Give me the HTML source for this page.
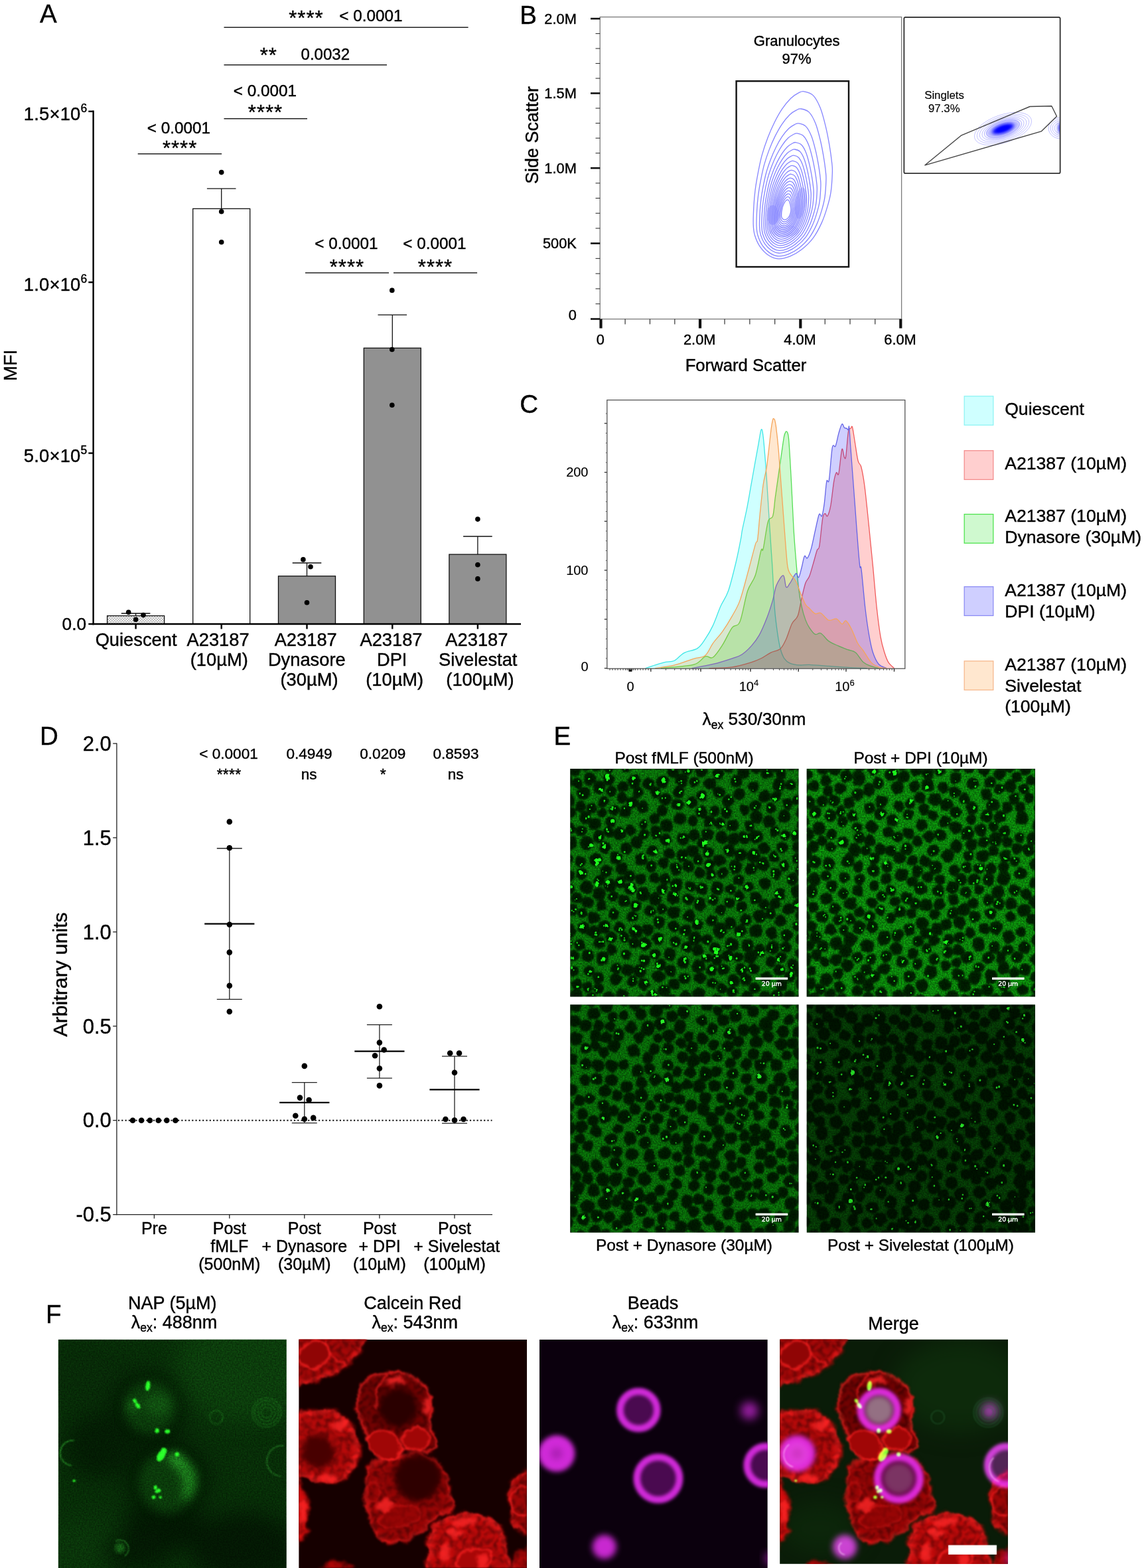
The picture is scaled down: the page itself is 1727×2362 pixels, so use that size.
<!DOCTYPE html>
<html lang="en">
<head>
<meta charset="utf-8">
<title>Figure</title>
<style>
html,body{margin:0;padding:0;background:#fff;}
body{width:1727px;height:2362px;overflow:hidden;}
svg{display:block;font-family:'Liberation Sans', Arial, sans-serif;}
svg text{stroke:#000;stroke-width:0.4px;}
svg text.w{stroke:#fff;stroke-width:0.35px;}
svg text.s{stroke-width:0.15px;}
</style>
</head>
<body>
<svg width="1727" height="2362" viewBox="0 0 1727 2362">
<rect width="1727" height="2362" fill="#fff"/>
<g id="panelA">
<text x="60" y="34" font-size="38.5" text-anchor="start" fill="#000" >A</text>
<defs><pattern id="dots" x="162" y="928" width="3.9" height="3.9" patternUnits="userSpaceOnUse"><rect width="3.9" height="3.9" fill="#fff"/><circle cx="1" cy="1" r="0.85" fill="#777"/><circle cx="2.95" cy="2.95" r="0.85" fill="#777"/></pattern></defs>
<rect x="161.6" y="927.6" width="86" height="12.4" fill="url(#dots)" stroke="#111" stroke-width="1.3"/>
<line x1="204.6" y1="924" x2="204.6" y2="927.6" stroke="#111" stroke-width="1.3" />
<line x1="182.8" y1="924" x2="226.4" y2="924" stroke="#111" stroke-width="1.3" />
<rect x="290.7" y="314.4" width="86" height="625.6" fill="#fff" stroke="#111" stroke-width="1.3"/>
<line x1="333.7" y1="284.1" x2="333.7" y2="314.4" stroke="#111" stroke-width="1.3" />
<line x1="311.9" y1="284.1" x2="355.5" y2="284.1" stroke="#111" stroke-width="1.3" />
<rect x="419.5" y="867.8" width="86" height="72.2" fill="#919191" stroke="#111" stroke-width="1.3"/>
<line x1="462.5" y1="848" x2="462.5" y2="867.8" stroke="#111" stroke-width="1.3" />
<line x1="440.7" y1="848" x2="484.3" y2="848" stroke="#111" stroke-width="1.3" />
<rect x="548.3" y="524.3" width="86" height="415.7" fill="#919191" stroke="#111" stroke-width="1.3"/>
<line x1="591.3" y1="474.4" x2="591.3" y2="524.3" stroke="#111" stroke-width="1.3" />
<line x1="569.5" y1="474.4" x2="613.1" y2="474.4" stroke="#111" stroke-width="1.3" />
<rect x="676.9" y="835.1" width="86" height="104.9" fill="#919191" stroke="#111" stroke-width="1.3"/>
<line x1="719.9" y1="808" x2="719.9" y2="835.1" stroke="#111" stroke-width="1.3" />
<line x1="698.1" y1="808" x2="741.7" y2="808" stroke="#111" stroke-width="1.3" />
<circle cx="193.7" cy="922.3" r="3.8" fill="#000" />
<circle cx="216" cy="926.6" r="3.8" fill="#000" />
<circle cx="204.6" cy="933.2" r="3.8" fill="#000" />
<circle cx="333.7" cy="259.6" r="3.8" fill="#000" />
<circle cx="333.7" cy="318.7" r="3.8" fill="#000" />
<circle cx="333.7" cy="364.7" r="3.8" fill="#000" />
<circle cx="456.9" cy="842.9" r="3.8" fill="#000" />
<circle cx="468" cy="853.8" r="3.8" fill="#000" />
<circle cx="462.5" cy="907.7" r="3.8" fill="#000" />
<circle cx="590.8" cy="437.4" r="3.8" fill="#000" />
<circle cx="590.8" cy="526.5" r="3.8" fill="#000" />
<circle cx="590.8" cy="610.2" r="3.8" fill="#000" />
<circle cx="719.9" cy="782.1" r="3.8" fill="#000" />
<circle cx="719.9" cy="850.8" r="3.8" fill="#000" />
<circle cx="719.9" cy="871.9" r="3.8" fill="#000" />
<line x1="140.6" y1="166.6" x2="140.6" y2="941.2" stroke="#000" stroke-width="2.4" />
<line x1="139.4" y1="940" x2="785" y2="940" stroke="#000" stroke-width="2.4" />
<line x1="133.3" y1="167.8" x2="140.6" y2="167.8" stroke="#000" stroke-width="2.4" />
<text x="131.5" y="181" font-size="27.4" text-anchor="end" fill="#000" letter-spacing="0.2">1.5×10<tspan font-size="17.5" dy="-12">6</tspan></text>
<line x1="133.3" y1="425.2" x2="140.6" y2="425.2" stroke="#000" stroke-width="2.4" />
<text x="131.5" y="438.4" font-size="27.4" text-anchor="end" fill="#000" letter-spacing="0.2">1.0×10<tspan font-size="17.5" dy="-12">6</tspan></text>
<line x1="133.3" y1="682.6" x2="140.6" y2="682.6" stroke="#000" stroke-width="2.4" />
<text x="131.5" y="695.8" font-size="27.4" text-anchor="end" fill="#000" letter-spacing="0.2">5.0×10<tspan font-size="17.5" dy="-12">5</tspan></text>
<line x1="133.3" y1="940" x2="140.6" y2="940" stroke="#000" stroke-width="2.4" />
<text x="130" y="948.6" font-size="26.2" text-anchor="end" fill="#000" >0.0</text>
<line x1="204.6" y1="940" x2="204.6" y2="947.5" stroke="#000" stroke-width="2.4" />
<line x1="333.7" y1="940" x2="333.7" y2="947.5" stroke="#000" stroke-width="2.4" />
<line x1="462.5" y1="940" x2="462.5" y2="947.5" stroke="#000" stroke-width="2.4" />
<line x1="591.3" y1="940" x2="591.3" y2="947.5" stroke="#000" stroke-width="2.4" />
<line x1="719.9" y1="940" x2="719.9" y2="947.5" stroke="#000" stroke-width="2.4" />
<text x="205.1" y="972.6" font-size="27.3" text-anchor="middle" fill="#000" >Quiescent</text>
<text x="328.6" y="972.6" font-size="27.3" text-anchor="middle" fill="#000" >A23187</text>
<text x="330.3" y="1002.6" font-size="27.3" text-anchor="middle" fill="#000" >(10µM)</text>
<text x="460.7" y="972.6" font-size="27.3" text-anchor="middle" fill="#000" >A23187</text>
<text x="462.3" y="1002.6" font-size="27.3" text-anchor="middle" fill="#000" >Dynasore</text>
<text x="466" y="1032.6" font-size="27.3" text-anchor="middle" fill="#000" >(30µM)</text>
<text x="589.5" y="972.6" font-size="27.3" text-anchor="middle" fill="#000" >A23187</text>
<text x="590.7" y="1002.6" font-size="27.3" text-anchor="middle" fill="#000" >DPI</text>
<text x="594.7" y="1032.6" font-size="27.3" text-anchor="middle" fill="#000" >(10µM)</text>
<text x="718.4" y="972.6" font-size="27.3" text-anchor="middle" fill="#000" >A23187</text>
<text x="720.3" y="1002.6" font-size="27.3" text-anchor="middle" fill="#000" >Sivelestat</text>
<text x="723.4" y="1032.6" font-size="27.3" text-anchor="middle" fill="#000" >(100µM)</text>
<text transform="translate(25 550.2) rotate(-90)" font-size="27.4" text-anchor="middle" fill="#000" >MFI</text>
<line x1="337.5" y1="41.2" x2="705.6" y2="41.2" stroke="#222" stroke-width="1.5" />
<line x1="337.5" y1="97.8" x2="583" y2="97.8" stroke="#222" stroke-width="1.5" />
<line x1="337.5" y1="178.7" x2="463" y2="178.7" stroke="#222" stroke-width="1.5" />
<line x1="207.7" y1="231.7" x2="334.1" y2="231.7" stroke="#222" stroke-width="1.5" />
<line x1="460" y1="411" x2="586" y2="411" stroke="#222" stroke-width="1.5" />
<line x1="593" y1="411" x2="719.1" y2="411" stroke="#222" stroke-width="1.5" />
<text x="461.4" y="37.6" font-size="31" text-anchor="middle" fill="#000" letter-spacing="1">****</text>
<text x="559" y="32.2" font-size="24.3" text-anchor="middle" fill="#000" >&lt; 0.0001</text>
<text x="404.7" y="93.6" font-size="31" text-anchor="middle" fill="#000" letter-spacing="1">**</text>
<text x="490.3" y="89.6" font-size="24" text-anchor="middle" fill="#000" >0.0032</text>
<text x="399.5" y="145.3" font-size="24.3" text-anchor="middle" fill="#000" >&lt; 0.0001</text>
<text x="400" y="180.4" font-size="31" text-anchor="middle" fill="#000" letter-spacing="1">****</text>
<text x="269.5" y="200.5" font-size="24.3" text-anchor="middle" fill="#000" >&lt; 0.0001</text>
<text x="271.1" y="233.6" font-size="31" text-anchor="middle" fill="#000" letter-spacing="1">****</text>
<text x="522" y="375.2" font-size="24.3" text-anchor="middle" fill="#000" >&lt; 0.0001</text>
<text x="522.9" y="412.5" font-size="31" text-anchor="middle" fill="#000" letter-spacing="1">****</text>
<text x="655" y="375.2" font-size="24.3" text-anchor="middle" fill="#000" >&lt; 0.0001</text>
<text x="656" y="412.5" font-size="31" text-anchor="middle" fill="#000" letter-spacing="1">****</text>
</g>
<g id="panelB">
<text x="783.3" y="36.4" font-size="38.5" text-anchor="start" fill="#000" >B</text>
<rect x="904.2" y="25.6" width="454.4" height="455" fill="none" stroke="#7a7a7a" stroke-width="1.3"/>
<line x1="890" y1="28.1" x2="904.2" y2="28.1" stroke="#111" stroke-width="2.6" />
<line x1="897.5" y1="50.58" x2="904.2" y2="50.58" stroke="#333" stroke-width="1.1" />
<line x1="897.5" y1="73.06" x2="904.2" y2="73.06" stroke="#333" stroke-width="1.1" />
<line x1="897.5" y1="95.54" x2="904.2" y2="95.54" stroke="#333" stroke-width="1.1" />
<line x1="897.5" y1="118.02" x2="904.2" y2="118.02" stroke="#333" stroke-width="1.1" />
<line x1="890" y1="140.5" x2="904.2" y2="140.5" stroke="#111" stroke-width="2.6" />
<line x1="897.5" y1="163.04" x2="904.2" y2="163.04" stroke="#333" stroke-width="1.1" />
<line x1="897.5" y1="185.58" x2="904.2" y2="185.58" stroke="#333" stroke-width="1.1" />
<line x1="897.5" y1="208.12" x2="904.2" y2="208.12" stroke="#333" stroke-width="1.1" />
<line x1="897.5" y1="230.66" x2="904.2" y2="230.66" stroke="#333" stroke-width="1.1" />
<line x1="890" y1="253.2" x2="904.2" y2="253.2" stroke="#111" stroke-width="2.6" />
<line x1="897.5" y1="275.88" x2="904.2" y2="275.88" stroke="#333" stroke-width="1.1" />
<line x1="897.5" y1="298.56" x2="904.2" y2="298.56" stroke="#333" stroke-width="1.1" />
<line x1="897.5" y1="321.24" x2="904.2" y2="321.24" stroke="#333" stroke-width="1.1" />
<line x1="897.5" y1="343.92" x2="904.2" y2="343.92" stroke="#333" stroke-width="1.1" />
<line x1="890" y1="366.6" x2="904.2" y2="366.6" stroke="#111" stroke-width="2.6" />
<line x1="897.5" y1="389.38" x2="904.2" y2="389.38" stroke="#333" stroke-width="1.1" />
<line x1="897.5" y1="412.16" x2="904.2" y2="412.16" stroke="#333" stroke-width="1.1" />
<line x1="897.5" y1="434.94" x2="904.2" y2="434.94" stroke="#333" stroke-width="1.1" />
<line x1="897.5" y1="457.72" x2="904.2" y2="457.72" stroke="#333" stroke-width="1.1" />
<line x1="890" y1="480.5" x2="904.2" y2="480.5" stroke="#111" stroke-width="2.6" />
<text x="868.8" y="35.6" font-size="21.8" text-anchor="end" fill="#000" >2.0M</text>
<text x="868.8" y="148" font-size="21.8" text-anchor="end" fill="#000" >1.5M</text>
<text x="868.8" y="260.7" font-size="21.8" text-anchor="end" fill="#000" >1.0M</text>
<text x="868.8" y="374.1" font-size="21.8" text-anchor="end" fill="#000" >500K</text>
<text x="868.8" y="482.3" font-size="21.8" text-anchor="end" fill="#000" >0</text>
<line x1="905.5" y1="480.6" x2="905.5" y2="494.5" stroke="#111" stroke-width="4.2" />
<line x1="942.08" y1="480.6" x2="942.08" y2="488.4" stroke="#333" stroke-width="1.2" />
<line x1="979.45" y1="480.6" x2="979.45" y2="488.4" stroke="#333" stroke-width="1.2" />
<line x1="1016.83" y1="480.6" x2="1016.83" y2="488.4" stroke="#333" stroke-width="1.2" />
<line x1="1055" y1="480.6" x2="1055" y2="494.5" stroke="#111" stroke-width="4.2" />
<line x1="1092.03" y1="480.6" x2="1092.03" y2="488.4" stroke="#333" stroke-width="1.2" />
<line x1="1129.85" y1="480.6" x2="1129.85" y2="488.4" stroke="#333" stroke-width="1.2" />
<line x1="1167.67" y1="480.6" x2="1167.67" y2="488.4" stroke="#333" stroke-width="1.2" />
<line x1="1206.3" y1="480.6" x2="1206.3" y2="494.5" stroke="#111" stroke-width="4.2" />
<line x1="1243.25" y1="480.6" x2="1243.25" y2="488.4" stroke="#333" stroke-width="1.2" />
<line x1="1281" y1="480.6" x2="1281" y2="488.4" stroke="#333" stroke-width="1.2" />
<line x1="1318.75" y1="480.6" x2="1318.75" y2="488.4" stroke="#333" stroke-width="1.2" />
<line x1="1357.3" y1="480.6" x2="1357.3" y2="494.5" stroke="#111" stroke-width="4.2" />
<text x="904.7" y="518.8" font-size="21.8" text-anchor="middle" fill="#000" >0</text>
<text x="1054.2" y="518.8" font-size="21.8" text-anchor="middle" fill="#000" >2.0M</text>
<text x="1205.5" y="518.8" font-size="21.8" text-anchor="middle" fill="#000" >4.0M</text>
<text x="1356.5" y="518.8" font-size="21.8" text-anchor="middle" fill="#000" >6.0M</text>
<text x="1124" y="559" font-size="25.7" text-anchor="middle" fill="#000" >Forward Scatter</text>
<text transform="translate(810.8 203.5) rotate(-90)" font-size="27" text-anchor="middle" fill="#000" >Side Scatter</text>
<text x="1200.6" y="68.6" font-size="22" text-anchor="middle" fill="#000" >Granulocytes</text>
<text x="1200.6" y="95.6" font-size="22" text-anchor="middle" fill="#000" >97%</text>
<g fill="none" stroke="#8585ff" stroke-width="1.3">
<path d="M1211.48 137.77C1215.12 138.38 1221.17 139.47 1225.29 143.59C1229.4 147.7 1233.03 154.72 1236.18 162.47C1239.33 170.22 1241.87 180.63 1244.17 190.08C1246.47 199.52 1248.41 209.93 1249.98 219.13C1251.56 228.34 1252.89 238.51 1253.62 245.29C1254.34 252.07 1254.58 252.55 1254.34 259.81C1254.1 267.08 1253.37 280.4 1252.16 288.87C1250.95 297.35 1249.38 302.92 1247.08 310.66C1244.78 318.41 1241.99 327.37 1238.36 335.36C1234.73 343.35 1230.37 351.83 1225.29 358.61C1220.2 365.39 1213.66 371.44 1207.85 376.04C1202.04 380.64 1196.23 383.91 1190.42 386.21C1184.61 388.51 1178.31 390.09 1172.98 389.84C1167.66 389.6 1163.05 387.79 1158.45 384.76C1153.85 381.73 1148.89 376.77 1145.38 371.68C1141.87 366.6 1139.08 359.82 1137.39 354.25C1135.69 348.68 1135.45 345.53 1135.21 338.27C1134.97 331 1135.45 319.38 1135.93 310.66C1136.42 301.95 1137.02 294.44 1138.11 285.97C1139.2 277.49 1140.78 268.53 1142.47 259.81C1144.17 251.1 1145.86 242.38 1148.28 233.66C1150.71 224.95 1153.85 215.74 1157 207.51C1160.15 199.28 1163.54 191.53 1167.17 184.27C1170.8 177 1174.68 169.98 1178.79 163.93C1182.91 157.87 1187.75 151.94 1191.87 147.94C1195.99 143.95 1200.22 141.65 1203.49 139.95C1206.76 138.26 1207.85 137.17 1211.48 137.77Z"/>
<path d="M1207.18 164C1210.38 164.53 1215.71 165.49 1219.33 169.11C1222.95 172.73 1226.15 178.91 1228.92 185.73C1231.69 192.55 1233.93 201.71 1235.95 210.02C1237.97 218.33 1239.68 227.49 1241.06 235.59C1242.45 243.69 1243.62 252.64 1244.26 258.61C1244.9 264.57 1245.11 265 1244.9 271.39C1244.69 277.78 1244.05 289.5 1242.98 296.96C1241.92 304.42 1240.53 309.32 1238.51 316.14C1236.48 322.96 1234.03 330.84 1230.84 337.87C1227.64 344.9 1223.8 352.36 1219.33 358.33C1214.86 364.3 1209.1 369.62 1203.99 373.67C1198.87 377.72 1193.76 380.6 1188.65 382.62C1183.53 384.65 1177.99 386.03 1173.3 385.82C1168.62 385.6 1164.57 384.01 1160.52 381.34C1156.47 378.68 1152.1 374.31 1149.01 369.84C1145.92 365.36 1143.47 359.39 1141.98 354.49C1140.49 349.59 1140.28 346.82 1140.06 340.43C1139.85 334.04 1140.28 323.81 1140.7 316.14C1141.13 308.47 1141.66 301.86 1142.62 294.4C1143.58 286.95 1144.96 279.06 1146.45 271.39C1147.95 263.72 1149.44 256.05 1151.57 248.38C1153.7 240.71 1156.47 232.61 1159.24 225.36C1162.01 218.12 1164.99 211.3 1168.19 204.91C1171.39 198.52 1174.8 192.34 1178.42 187.01C1182.04 181.68 1186.3 176.46 1189.92 172.94C1193.55 169.43 1197.28 167.4 1200.15 165.91C1203.03 164.42 1203.99 163.46 1207.18 164Z"/>
<path d="M1203.66 185.91C1206.48 186.38 1211.17 187.22 1214.36 190.41C1217.55 193.6 1220.36 199.05 1222.8 205.05C1225.24 211.06 1227.21 219.13 1229 226.44C1230.78 233.76 1232.28 241.83 1233.5 248.96C1234.72 256.09 1235.75 263.98 1236.32 269.23C1236.88 274.48 1237.07 274.86 1236.88 280.49C1236.69 286.12 1236.13 296.44 1235.19 303.01C1234.25 309.58 1233.03 313.89 1231.25 319.9C1229.47 325.9 1227.31 332.85 1224.49 339.04C1221.68 345.23 1218.3 351.8 1214.36 357.06C1210.42 362.31 1205.35 367 1200.85 370.57C1196.34 374.13 1191.84 376.67 1187.34 378.45C1182.83 380.23 1177.95 381.45 1173.82 381.26C1169.7 381.08 1166.13 379.67 1162.56 377.32C1159 374.98 1155.15 371.13 1152.43 367.19C1149.71 363.25 1147.55 357.99 1146.24 353.68C1144.92 349.36 1144.74 346.92 1144.55 341.29C1144.36 335.66 1144.74 326.65 1145.11 319.9C1145.49 313.14 1145.96 307.33 1146.8 300.76C1147.65 294.19 1148.87 287.25 1150.18 280.49C1151.49 273.73 1152.81 266.98 1154.68 260.22C1156.56 253.47 1159 246.34 1161.44 239.96C1163.88 233.57 1166.51 227.57 1169.32 221.94C1172.14 216.31 1175.14 210.87 1178.33 206.18C1181.52 201.48 1185.27 196.89 1188.46 193.79C1191.65 190.69 1194.94 188.91 1197.47 187.6C1200 186.28 1200.85 185.44 1203.66 185.91Z"/>
<path d="M1201.28 200.97C1203.83 201.4 1208.06 202.16 1210.95 205.04C1213.83 207.92 1216.37 212.84 1218.57 218.26C1220.78 223.69 1222.56 230.97 1224.17 237.59C1225.78 244.2 1227.13 251.48 1228.23 257.93C1229.34 264.37 1230.27 271.49 1230.78 276.23C1231.29 280.98 1231.46 281.32 1231.29 286.4C1231.12 291.49 1230.61 300.81 1229.76 306.74C1228.91 312.67 1227.81 316.57 1226.2 322C1224.59 327.42 1222.64 333.69 1220.1 339.29C1217.56 344.88 1214.51 350.81 1210.95 355.56C1207.39 360.3 1202.81 364.54 1198.74 367.76C1194.67 370.98 1190.61 373.27 1186.54 374.88C1182.47 376.49 1178.06 377.59 1174.33 377.42C1170.6 377.25 1167.38 375.98 1164.16 373.86C1160.94 371.74 1157.47 368.27 1155.01 364.71C1152.55 361.15 1150.6 356.4 1149.42 352.51C1148.23 348.61 1148.06 346.4 1147.89 341.32C1147.72 336.23 1148.06 328.1 1148.4 322C1148.74 315.89 1149.16 310.64 1149.93 304.71C1150.69 298.77 1151.79 292.5 1152.98 286.4C1154.16 280.3 1155.35 274.2 1157.04 268.1C1158.74 261.99 1160.94 255.55 1163.15 249.79C1165.35 244.03 1167.72 238.6 1170.27 233.52C1172.81 228.43 1175.52 223.52 1178.4 219.28C1181.28 215.04 1184.67 210.89 1187.55 208.09C1190.44 205.3 1193.4 203.69 1195.69 202.5C1197.98 201.31 1198.74 200.55 1201.28 200.97Z"/>
<path d="M1199.17 214.59C1201.46 214.97 1205.27 215.66 1207.86 218.25C1210.46 220.85 1212.74 225.27 1214.73 230.15C1216.71 235.03 1218.31 241.59 1219.76 247.54C1221.21 253.49 1222.43 260.05 1223.42 265.85C1224.41 271.64 1225.25 278.05 1225.71 282.32C1226.17 286.59 1226.32 286.9 1226.17 291.48C1226.02 296.05 1225.56 304.44 1224.8 309.78C1224.03 315.12 1223.04 318.63 1221.59 323.51C1220.14 328.39 1218.39 334.04 1216.1 339.07C1213.81 344.11 1211.07 349.45 1207.86 353.72C1204.66 357.99 1200.54 361.8 1196.88 364.7C1193.22 367.6 1189.56 369.66 1185.9 371.11C1182.23 372.56 1178.27 373.55 1174.91 373.4C1171.56 373.24 1168.66 372.1 1165.76 370.19C1162.86 368.28 1159.73 365.16 1157.52 361.95C1155.31 358.75 1153.56 354.48 1152.49 350.97C1151.42 347.46 1151.27 345.48 1151.11 340.9C1150.96 336.33 1151.27 329 1151.57 323.51C1151.88 318.02 1152.26 313.29 1152.95 307.95C1153.63 302.61 1154.62 296.97 1155.69 291.48C1156.76 285.98 1157.83 280.49 1159.35 275C1160.88 269.51 1162.86 263.71 1164.84 258.53C1166.83 253.34 1168.96 248.46 1171.25 243.88C1173.54 239.3 1175.98 234.88 1178.57 231.07C1181.17 227.25 1184.22 223.52 1186.81 221C1189.4 218.48 1192.07 217.03 1194.13 215.96C1196.19 214.9 1196.88 214.21 1199.17 214.59Z"/>
<path d="M1197.58 224.99C1199.66 225.34 1203.14 225.97 1205.51 228.33C1207.88 230.7 1209.97 234.74 1211.78 239.19C1213.59 243.65 1215.05 249.63 1216.37 255.07C1217.69 260.5 1218.81 266.48 1219.71 271.77C1220.62 277.06 1221.38 282.91 1221.8 286.81C1222.22 290.71 1222.36 290.99 1222.22 295.16C1222.08 299.34 1221.66 307 1220.97 311.87C1220.27 316.74 1219.36 319.95 1218.04 324.4C1216.72 328.86 1215.12 334.01 1213.03 338.6C1210.94 343.2 1208.44 348.07 1205.51 351.97C1202.59 355.87 1198.83 359.35 1195.49 362C1192.14 364.64 1188.8 366.52 1185.46 367.84C1182.12 369.17 1178.5 370.07 1175.44 369.93C1172.37 369.79 1169.73 368.75 1167.08 367.01C1164.44 365.27 1161.58 362.41 1159.56 359.49C1157.55 356.57 1155.94 352.67 1154.97 349.46C1154 346.26 1153.86 344.45 1153.72 340.27C1153.58 336.1 1153.86 329.41 1154.13 324.4C1154.41 319.39 1154.76 315.07 1155.39 310.2C1156.01 305.33 1156.92 300.18 1157.89 295.16C1158.87 290.15 1159.84 285.14 1161.24 280.13C1162.63 275.11 1164.44 269.82 1166.25 265.09C1168.06 260.36 1170.01 255.9 1172.1 251.72C1174.18 247.55 1176.41 243.51 1178.78 240.03C1181.15 236.55 1183.93 233.14 1186.3 230.84C1188.66 228.54 1191.1 227.22 1192.98 226.24C1194.86 225.27 1195.49 224.64 1197.58 224.99Z"/>
<path d="M1196.18 234.22C1198.09 234.53 1201.27 235.11 1203.43 237.27C1205.59 239.43 1207.49 243.12 1209.15 247.18C1210.8 251.25 1212.13 256.72 1213.34 261.68C1214.55 266.63 1215.57 272.1 1216.39 276.93C1217.22 281.76 1217.92 287.1 1218.3 290.66C1218.68 294.22 1218.81 294.47 1218.68 298.29C1218.55 302.1 1218.17 309.09 1217.54 313.54C1216.9 317.99 1216.08 320.92 1214.87 324.98C1213.66 329.05 1212.2 333.76 1210.29 337.95C1208.38 342.15 1206.1 346.59 1203.43 350.15C1200.76 353.71 1197.32 356.89 1194.27 359.31C1191.22 361.72 1188.17 363.44 1185.12 364.65C1182.07 365.85 1178.76 366.68 1175.97 366.55C1173.17 366.43 1170.76 365.47 1168.34 363.88C1165.92 362.29 1163.32 359.69 1161.48 357.02C1159.63 354.35 1158.17 350.79 1157.28 347.87C1156.39 344.94 1156.26 343.29 1156.14 339.48C1156.01 335.66 1156.26 329.56 1156.52 324.98C1156.77 320.41 1157.09 316.47 1157.66 312.02C1158.23 307.57 1159.06 302.86 1159.95 298.29C1160.84 293.71 1161.73 289.13 1163 284.56C1164.27 279.98 1165.92 275.15 1167.58 270.83C1169.23 266.51 1171.01 262.44 1172.92 258.62C1174.82 254.81 1176.86 251.12 1179.02 247.95C1181.18 244.77 1183.72 241.65 1185.88 239.56C1188.04 237.46 1190.27 236.25 1191.99 235.36C1193.7 234.47 1194.27 233.9 1196.18 234.22Z"/>
<path d="M1194.97 242.33C1196.71 242.62 1199.62 243.15 1201.59 245.12C1203.57 247.1 1205.31 250.47 1206.82 254.19C1208.33 257.91 1209.56 262.91 1210.66 267.44C1211.76 271.97 1212.69 276.97 1213.45 281.39C1214.2 285.8 1214.84 290.68 1215.19 293.94C1215.54 297.19 1215.66 297.43 1215.54 300.91C1215.42 304.4 1215.08 310.79 1214.49 314.86C1213.91 318.93 1213.16 321.6 1212.05 325.32C1210.95 329.04 1209.61 333.34 1207.87 337.18C1206.13 341.01 1204.03 345.08 1201.59 348.33C1199.15 351.59 1196.01 354.49 1193.23 356.7C1190.44 358.91 1187.65 360.48 1184.86 361.58C1182.07 362.69 1179.05 363.44 1176.49 363.33C1173.93 363.21 1171.72 362.34 1169.51 360.89C1167.31 359.43 1164.92 357.05 1163.24 354.61C1161.55 352.17 1160.22 348.91 1159.4 346.24C1158.59 343.57 1158.47 342.06 1158.36 338.57C1158.24 335.08 1158.47 329.5 1158.71 325.32C1158.94 321.14 1159.23 317.53 1159.75 313.47C1160.27 309.4 1161.03 305.1 1161.84 300.91C1162.66 296.73 1163.47 292.54 1164.63 288.36C1165.8 284.18 1167.31 279.76 1168.82 275.81C1170.33 271.86 1171.96 268.14 1173.7 264.65C1175.44 261.16 1177.3 257.79 1179.28 254.89C1181.25 251.98 1183.58 249.13 1185.55 247.21C1187.53 245.3 1189.56 244.19 1191.13 243.38C1192.7 242.57 1193.23 242.04 1194.97 242.33Z"/>
<path d="M1193.93 249.4C1195.52 249.67 1198.19 250.15 1200 251.96C1201.81 253.77 1203.41 256.86 1204.79 260.27C1206.18 263.68 1207.3 268.26 1208.31 272.41C1209.32 276.57 1210.17 281.15 1210.87 285.2C1211.56 289.25 1212.14 293.72 1212.46 296.7C1212.78 299.69 1212.89 299.9 1212.78 303.1C1212.68 306.29 1212.36 312.15 1211.83 315.88C1211.29 319.61 1210.6 322.06 1209.59 325.47C1208.58 328.88 1207.35 332.82 1205.75 336.34C1204.15 339.85 1202.24 343.58 1200 346.57C1197.76 349.55 1194.88 352.21 1192.33 354.24C1189.77 356.26 1187.21 357.7 1184.66 358.71C1182.1 359.72 1179.33 360.42 1176.99 360.31C1174.64 360.2 1172.62 359.41 1170.59 358.07C1168.57 356.74 1166.38 354.56 1164.84 352.32C1163.29 350.08 1162.07 347.1 1161.32 344.65C1160.58 342.2 1160.47 340.81 1160.36 337.62C1160.26 334.42 1160.47 329.31 1160.68 325.47C1160.9 321.64 1161.16 318.33 1161.64 314.6C1162.12 310.88 1162.82 306.93 1163.56 303.1C1164.31 299.26 1165.05 295.43 1166.12 291.59C1167.18 287.76 1168.57 283.71 1169.95 280.08C1171.34 276.46 1172.83 273.05 1174.43 269.86C1176.03 266.66 1177.73 263.57 1179.54 260.91C1181.35 258.24 1183.48 255.63 1185.3 253.87C1187.11 252.12 1188.97 251.1 1190.41 250.36C1191.85 249.61 1192.33 249.13 1193.93 249.4Z"/>
<path d="M1192.92 256.33C1194.37 256.57 1196.79 257.01 1198.44 258.65C1200.08 260.3 1201.54 263.11 1202.8 266.21C1204.05 269.31 1205.07 273.47 1205.99 277.25C1206.91 281.03 1207.69 285.19 1208.32 288.87C1208.95 292.55 1209.48 296.62 1209.77 299.33C1210.06 302.04 1210.16 302.24 1210.06 305.14C1209.96 308.05 1209.67 313.38 1209.19 316.77C1208.7 320.16 1208.07 322.38 1207.15 325.48C1206.23 328.58 1205.12 332.17 1203.67 335.36C1202.21 338.56 1200.47 341.95 1198.44 344.66C1196.4 347.37 1193.79 349.79 1191.46 351.63C1189.14 353.47 1186.81 354.78 1184.49 355.7C1182.16 356.62 1179.65 357.25 1177.52 357.16C1175.38 357.06 1173.54 356.33 1171.7 355.12C1169.86 353.91 1167.88 351.93 1166.47 349.89C1165.07 347.86 1163.96 345.15 1163.28 342.92C1162.6 340.69 1162.5 339.43 1162.41 336.52C1162.31 333.62 1162.5 328.97 1162.7 325.48C1162.89 322 1163.13 318.99 1163.57 315.6C1164 312.21 1164.63 308.63 1165.31 305.14C1165.99 301.66 1166.67 298.17 1167.64 294.68C1168.6 291.2 1169.86 287.52 1171.12 284.22C1172.38 280.93 1173.74 277.83 1175.19 274.92C1176.64 272.02 1178.19 269.21 1179.84 266.79C1181.49 264.37 1183.42 261.99 1185.07 260.4C1186.72 258.8 1188.41 257.88 1189.72 257.2C1191.03 256.52 1191.46 256.09 1192.92 256.33Z"/>
<path d="M1192.06 262.27C1193.38 262.5 1195.59 262.89 1197.1 264.4C1198.6 265.9 1199.92 268.46 1201.07 271.29C1202.22 274.12 1203.15 277.92 1203.99 281.36C1204.83 284.81 1205.54 288.61 1206.11 291.97C1206.69 295.33 1207.17 299.04 1207.44 301.52C1207.7 303.99 1207.79 304.17 1207.7 306.82C1207.61 309.47 1207.35 314.33 1206.91 317.42C1206.47 320.52 1205.89 322.55 1205.05 325.38C1204.21 328.21 1203.19 331.48 1201.87 334.39C1200.54 337.31 1198.95 340.4 1197.1 342.88C1195.24 345.35 1192.85 347.56 1190.73 349.24C1188.61 350.92 1186.49 352.11 1184.37 352.95C1182.25 353.79 1179.95 354.37 1178.01 354.28C1176.06 354.19 1174.38 353.53 1172.7 352.42C1171.02 351.32 1169.21 349.51 1167.93 347.65C1166.65 345.8 1165.63 343.32 1165.01 341.29C1164.4 339.25 1164.31 338.11 1164.22 335.45C1164.13 332.8 1164.31 328.56 1164.48 325.38C1164.66 322.2 1164.88 319.46 1165.28 316.36C1165.68 313.27 1166.25 310 1166.87 306.82C1167.49 303.64 1168.11 300.46 1168.99 297.27C1169.87 294.09 1171.02 290.73 1172.17 287.73C1173.32 284.72 1174.56 281.89 1175.88 279.24C1177.21 276.59 1178.62 274.03 1180.13 271.82C1181.63 269.61 1183.4 267.44 1184.9 265.99C1186.4 264.53 1187.95 263.69 1189.14 263.07C1190.34 262.45 1190.73 262.05 1192.06 262.27Z"/>
<path d="M1191.23 268.11C1192.43 268.31 1194.42 268.67 1195.78 270.03C1197.14 271.39 1198.34 273.71 1199.38 276.26C1200.42 278.82 1201.25 282.26 1202.01 285.37C1202.77 288.49 1203.41 291.93 1203.93 294.96C1204.45 298 1204.89 301.36 1205.13 303.59C1205.37 305.83 1205.45 305.99 1205.37 308.39C1205.29 310.78 1205.05 315.18 1204.65 317.98C1204.25 320.77 1203.73 322.61 1202.97 325.17C1202.21 327.72 1201.29 330.68 1200.1 333.32C1198.9 335.96 1197.46 338.75 1195.78 340.99C1194.1 343.23 1191.95 345.22 1190.03 346.74C1188.11 348.26 1186.19 349.34 1184.27 350.1C1182.36 350.86 1180.28 351.38 1178.52 351.3C1176.76 351.22 1175.25 350.62 1173.73 349.62C1172.21 348.62 1170.57 346.98 1169.41 345.3C1168.25 343.63 1167.33 341.39 1166.78 339.55C1166.22 337.71 1166.14 336.67 1166.06 334.28C1165.98 331.88 1166.14 328.04 1166.3 325.17C1166.46 322.29 1166.66 319.81 1167.01 317.02C1167.37 314.22 1167.89 311.26 1168.45 308.39C1169.01 305.51 1169.57 302.63 1170.37 299.76C1171.17 296.88 1172.21 293.84 1173.25 291.13C1174.29 288.41 1175.41 285.85 1176.6 283.46C1177.8 281.06 1179.08 278.74 1180.44 276.74C1181.8 274.75 1183.4 272.79 1184.75 271.47C1186.11 270.15 1187.51 269.39 1188.59 268.83C1189.67 268.27 1190.03 267.91 1191.23 268.11Z"/>
<path d="M1190.53 273.04C1191.62 273.22 1193.44 273.54 1194.67 274.78C1195.91 276.01 1197 278.12 1197.94 280.44C1198.89 282.77 1199.65 285.89 1200.34 288.73C1201.03 291.56 1201.61 294.68 1202.08 297.44C1202.56 300.2 1202.96 303.25 1203.17 305.29C1203.39 307.32 1203.46 307.47 1203.39 309.65C1203.32 311.83 1203.1 315.82 1202.74 318.36C1202.37 320.91 1201.9 322.58 1201.21 324.9C1200.52 327.23 1199.69 329.91 1198.6 332.31C1197.51 334.71 1196.2 337.25 1194.67 339.29C1193.15 341.32 1191.19 343.14 1189.44 344.52C1187.7 345.9 1185.96 346.88 1184.21 347.57C1182.47 348.26 1180.58 348.73 1178.98 348.66C1177.38 348.58 1176 348.04 1174.62 347.13C1173.24 346.22 1171.76 344.73 1170.7 343.21C1169.65 341.68 1168.81 339.65 1168.3 337.98C1167.8 336.31 1167.72 335.36 1167.65 333.18C1167.58 331 1167.72 327.52 1167.87 324.9C1168.01 322.29 1168.2 320.03 1168.52 317.49C1168.85 314.95 1169.32 312.26 1169.83 309.65C1170.34 307.03 1170.85 304.42 1171.57 301.8C1172.3 299.19 1173.24 296.43 1174.19 293.96C1175.13 291.49 1176.15 289.16 1177.24 286.98C1178.33 284.8 1179.49 282.7 1180.73 280.88C1181.96 279.06 1183.41 277.28 1184.65 276.09C1185.88 274.89 1187.16 274.2 1188.14 273.69C1189.12 273.18 1189.44 272.85 1190.53 273.04Z"/>
<path d="M1189.86 277.88C1190.84 278.04 1192.47 278.34 1193.58 279.45C1194.7 280.56 1195.68 282.45 1196.53 284.55C1197.38 286.64 1198.06 289.45 1198.68 292C1199.31 294.55 1199.83 297.36 1200.25 299.84C1200.68 302.33 1201.04 305.07 1201.23 306.91C1201.43 308.74 1201.5 308.87 1201.43 310.83C1201.36 312.79 1201.17 316.39 1200.84 318.67C1200.51 320.96 1200.09 322.47 1199.47 324.56C1198.85 326.65 1198.1 329.07 1197.12 331.23C1196.13 333.38 1194.96 335.67 1193.58 337.5C1192.21 339.33 1190.45 340.97 1188.88 342.21C1187.31 343.45 1185.74 344.33 1184.17 344.96C1182.6 345.58 1180.9 346 1179.46 345.94C1178.02 345.87 1176.78 345.38 1175.54 344.56C1174.3 343.75 1172.96 342.41 1172.01 341.03C1171.06 339.66 1170.31 337.83 1169.85 336.33C1169.39 334.82 1169.33 333.97 1169.26 332.01C1169.2 330.05 1169.33 326.91 1169.46 324.56C1169.59 322.2 1169.75 320.18 1170.05 317.89C1170.34 315.6 1170.77 313.18 1171.23 310.83C1171.68 308.47 1172.14 306.12 1172.79 303.77C1173.45 301.41 1174.3 298.93 1175.15 296.71C1176 294.48 1176.91 292.39 1177.89 290.43C1178.87 288.47 1179.92 286.57 1181.03 284.94C1182.14 283.3 1183.45 281.7 1184.56 280.62C1185.67 279.54 1186.82 278.92 1187.7 278.47C1188.58 278.01 1188.88 277.71 1189.86 277.88Z"/>
<path d="M1189.2 282.64C1190.07 282.79 1191.53 283.05 1192.51 284.04C1193.5 285.02 1194.37 286.71 1195.13 288.57C1195.88 290.43 1196.49 292.93 1197.05 295.19C1197.6 297.46 1198.06 299.96 1198.44 302.17C1198.82 304.38 1199.14 306.82 1199.31 308.44C1199.49 310.07 1199.55 310.19 1199.49 311.93C1199.43 313.67 1199.25 316.87 1198.96 318.9C1198.67 320.94 1198.3 322.28 1197.74 324.13C1197.19 325.99 1196.52 328.14 1195.65 330.06C1194.78 331.98 1193.73 334.01 1192.51 335.64C1191.29 337.27 1189.72 338.72 1188.33 339.83C1186.93 340.93 1185.54 341.71 1184.15 342.27C1182.75 342.82 1181.24 343.2 1179.96 343.14C1178.68 343.08 1177.58 342.64 1176.47 341.92C1175.37 341.19 1174.18 340 1173.34 338.78C1172.49 337.56 1171.83 335.93 1171.42 334.6C1171.01 333.26 1170.95 332.5 1170.9 330.76C1170.84 329.02 1170.95 326.23 1171.07 324.13C1171.19 322.04 1171.33 320.24 1171.59 318.21C1171.85 316.17 1172.23 314.02 1172.64 311.93C1173.05 309.84 1173.45 307.75 1174.03 305.65C1174.61 303.56 1175.37 301.35 1176.13 299.38C1176.88 297.4 1177.69 295.54 1178.57 293.8C1179.44 292.06 1180.37 290.37 1181.36 288.92C1182.34 287.46 1183.51 286.04 1184.49 285.08C1185.48 284.12 1186.5 283.57 1187.28 283.16C1188.07 282.76 1188.33 282.5 1189.2 282.64Z"/>
<path d="M1188.56 287.33C1189.33 287.45 1190.6 287.68 1191.46 288.55C1192.33 289.41 1193.09 290.89 1193.75 292.51C1194.41 294.14 1194.94 296.33 1195.43 298.31C1195.91 300.29 1196.32 302.48 1196.65 304.41C1196.98 306.34 1197.26 308.48 1197.41 309.9C1197.56 311.33 1197.61 311.43 1197.56 312.96C1197.51 314.48 1197.36 317.28 1197.11 319.06C1196.85 320.84 1196.52 322.01 1196.04 323.63C1195.55 325.26 1194.97 327.14 1194.21 328.82C1193.44 330.5 1192.53 332.28 1191.46 333.7C1190.39 335.13 1189.02 336.4 1187.8 337.36C1186.58 338.33 1185.36 339.02 1184.14 339.5C1182.92 339.98 1181.6 340.31 1180.48 340.26C1179.36 340.21 1178.39 339.83 1177.43 339.19C1176.46 338.56 1175.42 337.52 1174.68 336.45C1173.94 335.38 1173.36 333.96 1173 332.79C1172.65 331.62 1172.6 330.96 1172.54 329.43C1172.49 327.9 1172.6 325.46 1172.7 323.63C1172.8 321.8 1172.93 320.23 1173.16 318.45C1173.38 316.67 1173.71 314.79 1174.07 312.96C1174.43 311.12 1174.78 309.29 1175.29 307.46C1175.8 305.63 1176.46 303.7 1177.12 301.97C1177.78 300.24 1178.49 298.62 1179.26 297.09C1180.02 295.56 1180.83 294.09 1181.7 292.82C1182.56 291.55 1183.58 290.3 1184.44 289.46C1185.31 288.62 1186.2 288.14 1186.88 287.78C1187.57 287.43 1187.8 287.2 1188.56 287.33Z"/>
<path d="M1187.94 291.93C1188.6 292.04 1189.69 292.24 1190.43 292.98C1191.17 293.72 1191.82 294.98 1192.39 296.38C1192.95 297.77 1193.41 299.65 1193.83 301.35C1194.24 303.05 1194.59 304.92 1194.87 306.58C1195.16 308.23 1195.4 310.07 1195.53 311.29C1195.66 312.51 1195.7 312.59 1195.66 313.9C1195.61 315.21 1195.48 317.61 1195.26 319.13C1195.05 320.66 1194.76 321.66 1194.35 323.05C1193.94 324.45 1193.43 326.06 1192.78 327.5C1192.13 328.94 1191.34 330.46 1190.43 331.68C1189.51 332.9 1188.33 333.99 1187.29 334.82C1186.24 335.65 1185.2 336.24 1184.15 336.65C1183.1 337.07 1181.97 337.35 1181.01 337.31C1180.05 337.26 1179.23 336.94 1178.4 336.39C1177.57 335.85 1176.68 334.95 1176.04 334.04C1175.41 333.12 1174.91 331.9 1174.61 330.9C1174.3 329.9 1174.26 329.33 1174.21 328.02C1174.17 326.72 1174.26 324.62 1174.34 323.05C1174.43 321.48 1174.54 320.13 1174.74 318.61C1174.93 317.08 1175.22 315.47 1175.52 313.9C1175.83 312.33 1176.13 310.76 1176.57 309.19C1177 307.62 1177.57 305.97 1178.14 304.49C1178.7 303 1179.31 301.61 1179.97 300.3C1180.62 298.99 1181.32 297.73 1182.06 296.64C1182.8 295.55 1183.67 294.48 1184.41 293.76C1185.15 293.05 1185.92 292.63 1186.5 292.33C1187.09 292.02 1187.29 291.82 1187.94 291.93Z"/>
<path d="M1187.34 296.46C1187.89 296.55 1188.79 296.72 1189.41 297.33C1190.03 297.95 1190.57 299 1191.05 300.17C1191.52 301.33 1191.9 302.89 1192.24 304.31C1192.59 305.72 1192.88 307.29 1193.12 308.67C1193.35 310.05 1193.55 311.57 1193.66 312.59C1193.77 313.61 1193.81 313.68 1193.77 314.77C1193.73 315.86 1193.62 317.86 1193.44 319.13C1193.26 320.4 1193.02 321.23 1192.68 322.4C1192.33 323.56 1191.92 324.9 1191.37 326.1C1190.83 327.3 1190.17 328.57 1189.41 329.59C1188.65 330.6 1187.67 331.51 1186.8 332.2C1185.92 332.89 1185.05 333.38 1184.18 333.73C1183.31 334.07 1182.36 334.31 1181.57 334.27C1180.77 334.24 1180.08 333.96 1179.39 333.51C1178.7 333.06 1177.95 332.31 1177.42 331.55C1176.9 330.79 1176.48 329.77 1176.23 328.93C1175.97 328.1 1175.94 327.63 1175.9 326.54C1175.86 325.45 1175.94 323.7 1176.01 322.4C1176.08 321.09 1176.17 319.96 1176.34 318.69C1176.5 317.42 1176.73 316.08 1176.99 314.77C1177.24 313.46 1177.5 312.15 1177.86 310.85C1178.22 309.54 1178.7 308.16 1179.17 306.92C1179.64 305.69 1180.15 304.53 1180.69 303.44C1181.24 302.35 1181.82 301.29 1182.44 300.39C1183.05 299.48 1183.78 298.59 1184.4 297.99C1185.02 297.39 1185.65 297.04 1186.14 296.79C1186.63 296.53 1186.8 296.37 1187.34 296.46Z"/>
<path d="M1186.76 300.91C1187.19 300.99 1187.92 301.12 1188.41 301.61C1188.91 302.1 1189.34 302.95 1189.72 303.88C1190.1 304.81 1190.4 306.06 1190.68 307.19C1190.96 308.32 1191.19 309.57 1191.38 310.68C1191.57 311.78 1191.73 313 1191.81 313.81C1191.9 314.63 1191.93 314.69 1191.9 315.56C1191.87 316.43 1191.78 318.03 1191.64 319.04C1191.49 320.06 1191.3 320.73 1191.03 321.66C1190.75 322.59 1190.42 323.66 1189.98 324.62C1189.55 325.58 1189.02 326.6 1188.41 327.41C1187.8 328.23 1187.02 328.95 1186.32 329.5C1185.62 330.06 1184.93 330.45 1184.23 330.72C1183.53 331 1182.78 331.19 1182.14 331.16C1181.5 331.13 1180.95 330.91 1180.39 330.55C1179.84 330.19 1179.25 329.59 1178.82 328.98C1178.4 328.37 1178.07 327.56 1177.87 326.89C1177.66 326.22 1177.63 325.84 1177.6 324.97C1177.57 324.1 1177.63 322.71 1177.69 321.66C1177.75 320.61 1177.82 319.71 1177.95 318.7C1178.08 317.68 1178.27 316.6 1178.48 315.56C1178.68 314.51 1178.88 313.47 1179.17 312.42C1179.46 311.37 1179.84 310.27 1180.22 309.28C1180.6 308.29 1181 307.36 1181.44 306.49C1181.88 305.62 1182.34 304.78 1182.83 304.05C1183.33 303.32 1183.91 302.61 1184.4 302.13C1184.9 301.65 1185.41 301.38 1185.8 301.17C1186.19 300.97 1186.32 300.84 1186.76 300.91Z"/>
</g>
<ellipse cx="1164.61" cy="323.93" rx="9" ry="15" fill="#8c8cff" opacity="0.55"/>
<ellipse cx="1206.61" cy="305.93" rx="8" ry="24" fill="#8c8cff" opacity="0.45" transform="rotate(8 1206.61 305.93)"/>
<ellipse cx="1182.61" cy="347.93" rx="22" ry="9" fill="#8c8cff" opacity="0.3"/>
<ellipse cx="1185.61" cy="317.93" rx="4.2" ry="11" fill="#fff" transform="rotate(12 1185.61 317.93)"/>
<rect x="1109.6" y="122.2" width="169.4" height="279.8" fill="none" stroke="#111" stroke-width="2.4"/>
<rect x="1362.4" y="25.9" width="235.2" height="235.3" fill="#fff" stroke="#333" stroke-width="1.5" rx="2"/>
<text x="1393.2" y="148.7" font-size="16.8" text-anchor="start" fill="#000"  class="s">Singlets</text>
<text x="1399" y="169.2" font-size="16.8" text-anchor="start" fill="#000"  class="s">97.3%</text>
<defs><clipPath id="insc"><rect x="1363" y="26.5" width="234" height="234"/></clipPath><filter id="bl2" x="-30%" y="-30%" width="160%" height="160%"><feGaussianBlur stdDeviation="2.2"/></filter><filter id="bl1" x="-30%" y="-30%" width="160%" height="160%"><feGaussianBlur stdDeviation="1"/></filter></defs>
<g clip-path="url(#insc)">
<g transform="rotate(-19 1511.5 194.0)">
<ellipse cx="1511.5" cy="194.0" rx="45" ry="21" fill="none" stroke="#9a9aff" stroke-width="0.8" opacity="0.6499999999999999"/>
<ellipse cx="1511.5" cy="194.0" rx="41" ry="18.5" fill="none" stroke="#9a9aff" stroke-width="0.8" opacity="0.6499999999999999"/>
<ellipse cx="1511.5" cy="194.0" rx="37" ry="16.5" fill="none" stroke="#9a9aff" stroke-width="0.8" opacity="0.7"/>
<ellipse cx="1511.5" cy="194.0" rx="33" ry="14.5" fill="none" stroke="#9a9aff" stroke-width="0.8" opacity="0.75"/>
<ellipse cx="1511.5" cy="194.0" rx="29.5" ry="12.8" fill="none" stroke="#9a9aff" stroke-width="0.8" opacity="0.8"/>
<ellipse cx="1511.5" cy="194.0" rx="26" ry="11" fill="none" stroke="#9a9aff" stroke-width="0.8" opacity="0.8500000000000001"/>
<ellipse cx="1511.5" cy="194.0" rx="26" ry="11" fill="#6a6aff" opacity="0.5" filter="url(#bl2)"/>
<ellipse cx="1511.5" cy="194.0" rx="17" ry="6.5" fill="#1010ff" filter="url(#bl2)"/>
<ellipse cx="1511.5" cy="194.0" rx="11" ry="3.5" fill="#0000ff" filter="url(#bl1)"/>
</g>
<ellipse cx="1599" cy="193" rx="19" ry="16" fill="none" stroke="#9a9aff" stroke-width="0.8" opacity="0.8"/>
<ellipse cx="1599" cy="193" rx="16" ry="13.5" fill="none" stroke="#9a9aff" stroke-width="0.8" opacity="0.8"/>
<ellipse cx="1599" cy="193" rx="13" ry="11" fill="none" stroke="#9a9aff" stroke-width="0.8" opacity="0.8"/>
<ellipse cx="1599" cy="193" rx="10" ry="8.5" fill="none" stroke="#9a9aff" stroke-width="0.8" opacity="0.8"/>
<ellipse cx="1600" cy="193" rx="6" ry="9" fill="#4a4aff" filter="url(#bl2)"/>
</g>
<polygon points="1393.9,248.8 1448.9,203.8 1552,160.5 1584.8,159.8 1592.5,175.2 1569.1,197.9" fill="none" stroke="#444" stroke-width="1.4" stroke-linejoin="round"/>
<rect x="1362.4" y="25.9" width="235.2" height="235.3" fill="none" stroke="#333" stroke-width="1.5" rx="2"/>
</g>
<g id="panelC">
<text x="783.3" y="622.2" font-size="38.5" text-anchor="start" fill="#000" >C</text>
<defs><clipPath id="cc"><rect x="914.8" y="602.6" width="449" height="404.6"/></clipPath></defs>
<g clip-path="url(#cc)" stroke-linejoin="round">
<path d="M972.64 1006.58C975.06 1005.81 982.32 1003.44 987.17 1001.94C992.01 1000.43 996.85 998.69 1001.69 997.58C1006.54 996.46 1011.38 997.58 1016.22 995.25C1021.06 992.93 1024.94 986.73 1030.75 983.63C1036.56 980.53 1045.76 980.14 1051.09 976.66C1056.41 973.17 1058.84 968.42 1062.71 962.71C1066.58 957 1070.46 950.6 1074.33 942.37C1078.21 934.14 1082.08 922.03 1085.95 913.32C1089.83 904.6 1093.7 901.21 1097.58 890.07C1101.45 878.93 1106.05 859.56 1109.2 846.49C1112.35 833.41 1114.89 819.72 1116.46 811.62C1118.04 803.53 1117.07 805.85 1118.64 797.92C1120.22 789.98 1123.69 775.32 1125.91 764.02C1128.13 752.72 1129.94 741.42 1131.96 730.12C1133.98 718.82 1136.2 706.31 1138.01 696.22C1139.83 686.13 1141.49 677.26 1142.86 669.59C1144.23 661.92 1145.44 654.05 1146.25 650.22C1147.05 646.38 1147.22 646.51 1147.7 646.59C1148.18 646.67 1148.55 646.87 1149.15 650.7C1149.76 654.54 1150.36 658.77 1151.33 669.59C1152.3 680.4 1153.75 698.24 1154.96 715.59C1156.17 732.95 1157.47 755.95 1158.6 773.7C1159.73 791.46 1160.82 808.01 1161.74 822.13C1162.67 836.26 1163.24 842.77 1164.16 858.45C1165.09 874.13 1166.06 900.3 1167.31 916.22C1168.56 932.15 1170.22 943.82 1171.67 953.99C1173.12 964.16 1174.33 970.94 1176.03 977.24C1177.72 983.53 1179.42 988.13 1181.84 991.77C1184.26 995.4 1186.68 997.33 1190.55 999.03C1194.43 1000.72 1200.24 1001.55 1205.08 1001.94C1209.92 1002.32 1212.35 1001.11 1219.61 1001.35C1226.87 1001.6 1238.98 1002.71 1248.66 1003.39C1258.35 1004.07 1268.04 1004.89 1277.72 1005.42C1287.41 1005.95 1301.93 1006.39 1306.78 1006.58L1306.78 1006.8L972.64 1006.8Z" fill="#00ffff" fill-opacity="0.19"/>
<path d="M972.64 1006.58C975.06 1005.81 982.32 1003.44 987.17 1001.94C992.01 1000.43 996.85 998.69 1001.69 997.58C1006.54 996.46 1011.38 997.58 1016.22 995.25C1021.06 992.93 1024.94 986.73 1030.75 983.63C1036.56 980.53 1045.76 980.14 1051.09 976.66C1056.41 973.17 1058.84 968.42 1062.71 962.71C1066.58 957 1070.46 950.6 1074.33 942.37C1078.21 934.14 1082.08 922.03 1085.95 913.32C1089.83 904.6 1093.7 901.21 1097.58 890.07C1101.45 878.93 1106.05 859.56 1109.2 846.49C1112.35 833.41 1114.89 819.72 1116.46 811.62C1118.04 803.53 1117.07 805.85 1118.64 797.92C1120.22 789.98 1123.69 775.32 1125.91 764.02C1128.13 752.72 1129.94 741.42 1131.96 730.12C1133.98 718.82 1136.2 706.31 1138.01 696.22C1139.83 686.13 1141.49 677.26 1142.86 669.59C1144.23 661.92 1145.44 654.05 1146.25 650.22C1147.05 646.38 1147.22 646.51 1147.7 646.59C1148.18 646.67 1148.55 646.87 1149.15 650.7C1149.76 654.54 1150.36 658.77 1151.33 669.59C1152.3 680.4 1153.75 698.24 1154.96 715.59C1156.17 732.95 1157.47 755.95 1158.6 773.7C1159.73 791.46 1160.82 808.01 1161.74 822.13C1162.67 836.26 1163.24 842.77 1164.16 858.45C1165.09 874.13 1166.06 900.3 1167.31 916.22C1168.56 932.15 1170.22 943.82 1171.67 953.99C1173.12 964.16 1174.33 970.94 1176.03 977.24C1177.72 983.53 1179.42 988.13 1181.84 991.77C1184.26 995.4 1186.68 997.33 1190.55 999.03C1194.43 1000.72 1200.24 1001.55 1205.08 1001.94C1209.92 1002.32 1212.35 1001.11 1219.61 1001.35C1226.87 1001.6 1238.98 1002.71 1248.66 1003.39C1258.35 1004.07 1268.04 1004.89 1277.72 1005.42C1287.41 1005.95 1301.93 1006.39 1306.78 1006.58" fill="none" stroke="#3fe6e6" stroke-width="1.3"/>
<path d="M1068.52 1006.58C1074.33 1006.29 1092.73 1006.34 1103.39 1004.84C1114.04 1003.34 1125.18 999.76 1132.44 997.58C1139.71 995.4 1142.13 994.19 1146.97 991.77C1151.81 989.34 1156.66 985.47 1161.5 983.05C1166.34 980.63 1172.15 980.63 1176.03 977.24C1179.9 973.85 1181.84 969.01 1184.74 962.71C1187.65 956.41 1190.55 945.28 1193.46 939.47C1196.37 933.65 1199.75 934.14 1202.18 927.84C1204.6 921.55 1206.05 909.93 1207.99 901.69C1209.92 893.46 1211.86 884.02 1213.8 878.45C1215.74 872.88 1217.67 873.12 1219.61 868.28C1221.55 863.44 1223.48 855.93 1225.42 849.39C1227.36 842.86 1229.66 833.6 1231.23 829.06C1232.81 824.51 1233.45 830.15 1234.87 822.13C1236.28 814.12 1238.3 789.04 1239.71 780.97C1241.12 772.9 1242.13 774.31 1243.34 773.7C1244.55 773.1 1245.56 779.35 1246.97 777.34C1248.39 775.32 1250.2 770.27 1251.82 761.6C1253.43 752.92 1255.25 733.55 1256.66 725.28C1258.07 717.01 1259.08 713.98 1260.29 711.96C1261.5 709.94 1262.51 719.02 1263.92 713.17C1265.33 707.32 1267.35 680.89 1268.77 676.85C1270.18 672.82 1271.39 687.34 1272.4 688.96C1273.41 690.57 1273.81 692.99 1274.82 686.54C1275.83 680.08 1277.24 657.08 1278.45 650.22C1279.66 643.36 1281.07 646.51 1282.08 645.38C1283.09 644.25 1283.49 640.21 1284.5 643.44C1285.51 646.67 1286.72 656.35 1288.14 664.75C1289.55 673.14 1291.36 687.34 1292.98 693.8C1294.59 700.26 1296.21 697.43 1297.82 703.49C1299.44 709.54 1301.05 718.42 1302.66 730.12C1304.28 741.82 1305.89 758.37 1307.51 773.7C1309.12 789.04 1311.02 808.81 1312.35 822.13C1313.68 835.45 1314 837.93 1315.5 853.61C1316.99 869.29 1319.37 898.52 1321.3 916.22C1323.24 933.92 1325.18 948.67 1327.11 959.8C1329.05 970.94 1330.99 976.75 1332.93 983.05C1334.86 989.34 1336.32 993.65 1338.74 997.58C1341.16 1001.5 1346 1005.08 1347.45 1006.58L1347.45 1006.8L1068.52 1006.8Z" fill="#ff0000" fill-opacity="0.19"/>
<path d="M1068.52 1006.58C1074.33 1006.29 1092.73 1006.34 1103.39 1004.84C1114.04 1003.34 1125.18 999.76 1132.44 997.58C1139.71 995.4 1142.13 994.19 1146.97 991.77C1151.81 989.34 1156.66 985.47 1161.5 983.05C1166.34 980.63 1172.15 980.63 1176.03 977.24C1179.9 973.85 1181.84 969.01 1184.74 962.71C1187.65 956.41 1190.55 945.28 1193.46 939.47C1196.37 933.65 1199.75 934.14 1202.18 927.84C1204.6 921.55 1206.05 909.93 1207.99 901.69C1209.92 893.46 1211.86 884.02 1213.8 878.45C1215.74 872.88 1217.67 873.12 1219.61 868.28C1221.55 863.44 1223.48 855.93 1225.42 849.39C1227.36 842.86 1229.66 833.6 1231.23 829.06C1232.81 824.51 1233.45 830.15 1234.87 822.13C1236.28 814.12 1238.3 789.04 1239.71 780.97C1241.12 772.9 1242.13 774.31 1243.34 773.7C1244.55 773.1 1245.56 779.35 1246.97 777.34C1248.39 775.32 1250.2 770.27 1251.82 761.6C1253.43 752.92 1255.25 733.55 1256.66 725.28C1258.07 717.01 1259.08 713.98 1260.29 711.96C1261.5 709.94 1262.51 719.02 1263.92 713.17C1265.33 707.32 1267.35 680.89 1268.77 676.85C1270.18 672.82 1271.39 687.34 1272.4 688.96C1273.41 690.57 1273.81 692.99 1274.82 686.54C1275.83 680.08 1277.24 657.08 1278.45 650.22C1279.66 643.36 1281.07 646.51 1282.08 645.38C1283.09 644.25 1283.49 640.21 1284.5 643.44C1285.51 646.67 1286.72 656.35 1288.14 664.75C1289.55 673.14 1291.36 687.34 1292.98 693.8C1294.59 700.26 1296.21 697.43 1297.82 703.49C1299.44 709.54 1301.05 718.42 1302.66 730.12C1304.28 741.82 1305.89 758.37 1307.51 773.7C1309.12 789.04 1311.02 808.81 1312.35 822.13C1313.68 835.45 1314 837.93 1315.5 853.61C1316.99 869.29 1319.37 898.52 1321.3 916.22C1323.24 933.92 1325.18 948.67 1327.11 959.8C1329.05 970.94 1330.99 976.75 1332.93 983.05C1334.86 989.34 1336.32 993.65 1338.74 997.58C1341.16 1001.5 1346 1005.08 1347.45 1006.58" fill="none" stroke="#f05a5a" stroke-width="1.3"/>
<path d="M995.88 1006.58C1004.12 1005.66 1034.14 1004.02 1045.28 1001.06C1056.41 998.11 1057.87 990.65 1062.71 988.86C1067.55 987.07 1069.97 993.22 1074.33 990.31C1078.69 987.41 1084.02 978.93 1088.86 971.43C1093.7 963.92 1099.03 951.09 1103.39 945.28C1107.75 939.47 1111.14 945.76 1115.01 936.56C1118.88 927.36 1122.76 901.69 1126.63 890.07C1130.51 878.45 1134.86 877 1138.25 866.83C1141.64 856.66 1144.99 835.7 1146.97 829.06C1148.95 822.41 1148.39 834.18 1150.12 826.97C1151.86 819.77 1154.96 794.08 1157.38 785.81C1159.81 777.54 1162.83 783.39 1164.65 777.34C1166.46 771.28 1166.87 759.78 1168.28 749.49C1169.69 739.2 1171.51 726.89 1173.12 715.59C1174.74 704.29 1176.55 691.38 1177.97 681.69C1179.38 672.01 1180.59 662.65 1181.6 657.48C1182.61 652.32 1183.37 651.91 1184.02 650.7C1184.67 649.49 1184.99 649.98 1185.47 650.22C1185.96 650.46 1186.36 649.73 1186.92 652.15C1187.49 654.58 1187.93 652.56 1188.86 664.75C1189.79 676.93 1191.28 703.08 1192.49 725.28C1193.7 747.47 1194.92 777.74 1196.13 797.92C1197.34 818.1 1198.51 831.47 1199.76 846.34C1201.01 861.22 1202.26 876 1203.63 887.17C1205 898.33 1206.29 905.57 1207.99 913.32C1209.68 921.06 1211.86 928.33 1213.8 933.65C1215.74 938.98 1217.19 941.65 1219.61 945.28C1222.03 948.91 1225.42 953.99 1228.33 955.45C1231.23 956.9 1233.65 952.3 1237.04 953.99C1240.43 955.69 1244.31 962.47 1248.66 965.62C1253.02 968.76 1258.35 970.7 1263.19 972.88C1268.04 975.06 1273.36 977 1277.72 978.69C1282.08 980.39 1285.47 979.9 1289.34 983.05C1293.22 986.2 1297.09 994.19 1300.96 997.58C1304.84 1000.97 1308.71 1001.89 1312.59 1003.39C1316.46 1004.89 1322.27 1006.05 1324.21 1006.58L1324.21 1006.8L995.88 1006.8Z" fill="#00e000" fill-opacity="0.19"/>
<path d="M995.88 1006.58C1004.12 1005.66 1034.14 1004.02 1045.28 1001.06C1056.41 998.11 1057.87 990.65 1062.71 988.86C1067.55 987.07 1069.97 993.22 1074.33 990.31C1078.69 987.41 1084.02 978.93 1088.86 971.43C1093.7 963.92 1099.03 951.09 1103.39 945.28C1107.75 939.47 1111.14 945.76 1115.01 936.56C1118.88 927.36 1122.76 901.69 1126.63 890.07C1130.51 878.45 1134.86 877 1138.25 866.83C1141.64 856.66 1144.99 835.7 1146.97 829.06C1148.95 822.41 1148.39 834.18 1150.12 826.97C1151.86 819.77 1154.96 794.08 1157.38 785.81C1159.81 777.54 1162.83 783.39 1164.65 777.34C1166.46 771.28 1166.87 759.78 1168.28 749.49C1169.69 739.2 1171.51 726.89 1173.12 715.59C1174.74 704.29 1176.55 691.38 1177.97 681.69C1179.38 672.01 1180.59 662.65 1181.6 657.48C1182.61 652.32 1183.37 651.91 1184.02 650.7C1184.67 649.49 1184.99 649.98 1185.47 650.22C1185.96 650.46 1186.36 649.73 1186.92 652.15C1187.49 654.58 1187.93 652.56 1188.86 664.75C1189.79 676.93 1191.28 703.08 1192.49 725.28C1193.7 747.47 1194.92 777.74 1196.13 797.92C1197.34 818.1 1198.51 831.47 1199.76 846.34C1201.01 861.22 1202.26 876 1203.63 887.17C1205 898.33 1206.29 905.57 1207.99 913.32C1209.68 921.06 1211.86 928.33 1213.8 933.65C1215.74 938.98 1217.19 941.65 1219.61 945.28C1222.03 948.91 1225.42 953.99 1228.33 955.45C1231.23 956.9 1233.65 952.3 1237.04 953.99C1240.43 955.69 1244.31 962.47 1248.66 965.62C1253.02 968.76 1258.35 970.7 1263.19 972.88C1268.04 975.06 1273.36 977 1277.72 978.69C1282.08 980.39 1285.47 979.9 1289.34 983.05C1293.22 986.2 1297.09 994.19 1300.96 997.58C1304.84 1000.97 1308.71 1001.89 1312.59 1003.39C1316.46 1004.89 1322.27 1006.05 1324.21 1006.58" fill="none" stroke="#55dd55" stroke-width="1.3"/>
<path d="M1042.37 1006.58C1047.7 1005.57 1064.16 1002.95 1074.33 1000.48C1084.5 998.01 1096.12 994.19 1103.39 991.77C1110.65 989.34 1113.07 989.1 1117.92 985.95C1122.76 982.81 1128.08 977.72 1132.44 972.88C1136.8 968.04 1140.19 963.92 1144.07 956.9C1147.94 949.88 1152.3 939.47 1155.69 930.75C1159.08 922.03 1161.98 912.83 1164.4 904.6C1166.83 896.37 1167.55 887.65 1170.22 881.36C1172.88 875.06 1177.96 866.34 1180.38 866.83C1182.81 867.31 1183.05 882.32 1184.74 884.26C1186.44 886.2 1188.13 881.84 1190.55 878.45C1192.98 875.06 1197.09 865.37 1199.27 863.92C1201.45 862.47 1202.18 871.19 1203.63 869.73C1205.08 868.28 1206.53 860.53 1207.99 855.21C1209.44 849.88 1210.89 840.19 1212.35 837.77C1213.8 835.35 1215.01 842.61 1216.7 840.68C1218.4 838.74 1220.5 833.28 1222.52 826.15C1224.53 819.02 1226.84 806.46 1228.81 797.92C1230.79 789.38 1232.77 778.35 1234.38 774.92C1236 771.49 1237.21 779.96 1238.5 777.34C1239.79 774.71 1240.92 767.85 1242.13 759.18C1243.34 750.5 1244.55 731.33 1245.76 725.28C1246.97 719.23 1247.98 731.33 1249.39 722.86C1250.81 714.38 1252.62 682.91 1254.24 674.43C1255.85 665.96 1257.47 675.64 1259.08 672.01C1260.69 668.38 1262.31 658.17 1263.92 652.64C1265.54 647.11 1267.35 640.25 1268.77 638.84C1270.18 637.43 1271.19 643.08 1272.4 644.16C1273.61 645.25 1275.02 644.77 1276.03 645.38C1277.04 645.98 1277.85 648.12 1278.45 647.8C1279.06 647.47 1279.06 638.6 1279.66 643.44C1280.27 648.28 1281.07 663.21 1282.08 676.85C1283.09 690.49 1284.5 709.14 1285.71 725.28C1286.92 741.42 1288.14 757.56 1289.35 773.7C1290.56 789.85 1291.89 808.81 1292.98 822.13C1294.07 835.45 1295.04 847.61 1295.88 853.61C1296.73 859.6 1296.73 847.68 1298.06 858.11C1299.39 868.55 1301.93 899.76 1303.87 916.22C1305.81 932.69 1307.74 945.76 1309.68 956.9C1311.62 968.04 1313.07 975.79 1315.49 983.05C1317.91 990.31 1320.82 996.56 1324.21 1000.48C1327.6 1004.4 1333.89 1005.57 1335.83 1006.58L1335.83 1006.8L1042.37 1006.8Z" fill="#0000ff" fill-opacity="0.19"/>
<path d="M1042.37 1006.58C1047.7 1005.57 1064.16 1002.95 1074.33 1000.48C1084.5 998.01 1096.12 994.19 1103.39 991.77C1110.65 989.34 1113.07 989.1 1117.92 985.95C1122.76 982.81 1128.08 977.72 1132.44 972.88C1136.8 968.04 1140.19 963.92 1144.07 956.9C1147.94 949.88 1152.3 939.47 1155.69 930.75C1159.08 922.03 1161.98 912.83 1164.4 904.6C1166.83 896.37 1167.55 887.65 1170.22 881.36C1172.88 875.06 1177.96 866.34 1180.38 866.83C1182.81 867.31 1183.05 882.32 1184.74 884.26C1186.44 886.2 1188.13 881.84 1190.55 878.45C1192.98 875.06 1197.09 865.37 1199.27 863.92C1201.45 862.47 1202.18 871.19 1203.63 869.73C1205.08 868.28 1206.53 860.53 1207.99 855.21C1209.44 849.88 1210.89 840.19 1212.35 837.77C1213.8 835.35 1215.01 842.61 1216.7 840.68C1218.4 838.74 1220.5 833.28 1222.52 826.15C1224.53 819.02 1226.84 806.46 1228.81 797.92C1230.79 789.38 1232.77 778.35 1234.38 774.92C1236 771.49 1237.21 779.96 1238.5 777.34C1239.79 774.71 1240.92 767.85 1242.13 759.18C1243.34 750.5 1244.55 731.33 1245.76 725.28C1246.97 719.23 1247.98 731.33 1249.39 722.86C1250.81 714.38 1252.62 682.91 1254.24 674.43C1255.85 665.96 1257.47 675.64 1259.08 672.01C1260.69 668.38 1262.31 658.17 1263.92 652.64C1265.54 647.11 1267.35 640.25 1268.77 638.84C1270.18 637.43 1271.19 643.08 1272.4 644.16C1273.61 645.25 1275.02 644.77 1276.03 645.38C1277.04 645.98 1277.85 648.12 1278.45 647.8C1279.06 647.47 1279.06 638.6 1279.66 643.44C1280.27 648.28 1281.07 663.21 1282.08 676.85C1283.09 690.49 1284.5 709.14 1285.71 725.28C1286.92 741.42 1288.14 757.56 1289.35 773.7C1290.56 789.85 1291.89 808.81 1292.98 822.13C1294.07 835.45 1295.04 847.61 1295.88 853.61C1296.73 859.6 1296.73 847.68 1298.06 858.11C1299.39 868.55 1301.93 899.76 1303.87 916.22C1305.81 932.69 1307.74 945.76 1309.68 956.9C1311.62 968.04 1313.07 975.79 1315.49 983.05C1317.91 990.31 1320.82 996.56 1324.21 1000.48C1327.6 1004.4 1333.89 1005.57 1335.83 1006.58" fill="none" stroke="#6464e6" stroke-width="1.3"/>
<path d="M987.17 1006.58C992.01 1005.81 1006.54 1004.31 1016.22 1001.94C1025.91 999.56 1037.53 994.77 1045.28 992.35C1053.03 989.93 1057.87 991.28 1062.71 987.41C1067.55 983.53 1069.97 975.16 1074.33 969.1C1078.69 963.05 1084.02 957.96 1088.86 951.09C1093.7 944.21 1099.03 935.59 1103.39 927.84C1107.75 920.1 1111.14 915.25 1115.01 904.6C1118.88 893.95 1122.76 877.97 1126.63 863.92C1130.51 849.88 1135.75 828.92 1138.25 820.34C1140.76 811.76 1140.48 820.22 1141.65 812.45C1142.82 804.67 1143.87 787.43 1145.28 773.7C1146.69 759.98 1148.51 741.42 1150.12 730.12C1151.74 718.82 1153.55 714.79 1154.96 705.91C1156.38 697.03 1157.38 686.94 1158.6 676.85C1159.81 666.76 1161.22 652.84 1162.23 645.38C1163.24 637.91 1164 634.48 1164.65 632.06C1165.29 629.64 1165.62 630.73 1166.1 630.85C1166.59 630.97 1166.99 630.77 1167.55 632.78C1168.12 634.8 1168.56 635.61 1169.49 642.95C1170.42 650.3 1171.91 663.13 1173.12 676.85C1174.33 690.57 1175.54 709.14 1176.76 725.28C1177.97 741.42 1179.18 757.56 1180.39 773.7C1181.6 789.85 1182.93 808.81 1184.02 822.13C1185.11 835.45 1185.84 846.64 1186.92 853.61C1188.01 860.57 1188.5 860.27 1190.55 863.92C1192.61 867.58 1196.85 871.19 1199.27 875.54C1201.69 879.9 1202.66 884.26 1205.08 890.07C1207.5 895.88 1211.38 906.05 1213.8 910.41C1216.22 914.77 1217.19 913.9 1219.61 916.22C1222.03 918.55 1225.42 923.15 1228.33 924.36C1231.23 925.57 1233.65 921.84 1237.04 923.49C1240.43 925.13 1244.79 932.78 1248.66 934.24C1252.54 935.69 1256.9 931.23 1260.29 932.2C1263.68 933.17 1266.58 939.56 1269 940.05C1271.42 940.53 1272.39 933.75 1274.81 935.11C1277.24 936.46 1280.63 942.61 1283.53 948.18C1286.44 953.75 1289.34 963.19 1292.25 968.52C1295.15 973.85 1297.57 975.3 1300.96 980.14C1304.35 984.99 1308.71 993.46 1312.59 997.58C1316.46 1001.69 1320.33 1003.34 1324.21 1004.84C1328.08 1006.34 1333.89 1006.29 1335.83 1006.58L1335.83 1006.8L987.17 1006.8Z" fill="#ff8000" fill-opacity="0.19"/>
<path d="M987.17 1006.58C992.01 1005.81 1006.54 1004.31 1016.22 1001.94C1025.91 999.56 1037.53 994.77 1045.28 992.35C1053.03 989.93 1057.87 991.28 1062.71 987.41C1067.55 983.53 1069.97 975.16 1074.33 969.1C1078.69 963.05 1084.02 957.96 1088.86 951.09C1093.7 944.21 1099.03 935.59 1103.39 927.84C1107.75 920.1 1111.14 915.25 1115.01 904.6C1118.88 893.95 1122.76 877.97 1126.63 863.92C1130.51 849.88 1135.75 828.92 1138.25 820.34C1140.76 811.76 1140.48 820.22 1141.65 812.45C1142.82 804.67 1143.87 787.43 1145.28 773.7C1146.69 759.98 1148.51 741.42 1150.12 730.12C1151.74 718.82 1153.55 714.79 1154.96 705.91C1156.38 697.03 1157.38 686.94 1158.6 676.85C1159.81 666.76 1161.22 652.84 1162.23 645.38C1163.24 637.91 1164 634.48 1164.65 632.06C1165.29 629.64 1165.62 630.73 1166.1 630.85C1166.59 630.97 1166.99 630.77 1167.55 632.78C1168.12 634.8 1168.56 635.61 1169.49 642.95C1170.42 650.3 1171.91 663.13 1173.12 676.85C1174.33 690.57 1175.54 709.14 1176.76 725.28C1177.97 741.42 1179.18 757.56 1180.39 773.7C1181.6 789.85 1182.93 808.81 1184.02 822.13C1185.11 835.45 1185.84 846.64 1186.92 853.61C1188.01 860.57 1188.5 860.27 1190.55 863.92C1192.61 867.58 1196.85 871.19 1199.27 875.54C1201.69 879.9 1202.66 884.26 1205.08 890.07C1207.5 895.88 1211.38 906.05 1213.8 910.41C1216.22 914.77 1217.19 913.9 1219.61 916.22C1222.03 918.55 1225.42 923.15 1228.33 924.36C1231.23 925.57 1233.65 921.84 1237.04 923.49C1240.43 925.13 1244.79 932.78 1248.66 934.24C1252.54 935.69 1256.9 931.23 1260.29 932.2C1263.68 933.17 1266.58 939.56 1269 940.05C1271.42 940.53 1272.39 933.75 1274.81 935.11C1277.24 936.46 1280.63 942.61 1283.53 948.18C1286.44 953.75 1289.34 963.19 1292.25 968.52C1295.15 973.85 1297.57 975.3 1300.96 980.14C1304.35 984.99 1308.71 993.46 1312.59 997.58C1316.46 1001.69 1320.33 1003.34 1324.21 1004.84C1328.08 1006.34 1333.89 1006.29 1335.83 1006.58" fill="none" stroke="#f5a55a" stroke-width="1.3"/>
</g>
<rect x="914.8" y="602.6" width="449" height="404.6" fill="none" stroke="#555" stroke-width="1.3"/>
<line x1="910.8" y1="1006.6" x2="914.8" y2="1006.6" stroke="#333" stroke-width="1.3" />
<line x1="912.8" y1="991.85" x2="914.8" y2="991.85" stroke="#555" stroke-width="1" />
<line x1="912.8" y1="977.09" x2="914.8" y2="977.09" stroke="#555" stroke-width="1" />
<line x1="912.8" y1="962.34" x2="914.8" y2="962.34" stroke="#555" stroke-width="1" />
<line x1="912.8" y1="947.58" x2="914.8" y2="947.58" stroke="#555" stroke-width="1" />
<line x1="910.8" y1="932.83" x2="914.8" y2="932.83" stroke="#333" stroke-width="1.3" />
<line x1="912.8" y1="918.07" x2="914.8" y2="918.07" stroke="#555" stroke-width="1" />
<line x1="912.8" y1="903.32" x2="914.8" y2="903.32" stroke="#555" stroke-width="1" />
<line x1="912.8" y1="888.56" x2="914.8" y2="888.56" stroke="#555" stroke-width="1" />
<line x1="912.8" y1="873.81" x2="914.8" y2="873.81" stroke="#555" stroke-width="1" />
<line x1="910.8" y1="859.05" x2="914.8" y2="859.05" stroke="#333" stroke-width="1.3" />
<line x1="912.8" y1="844.3" x2="914.8" y2="844.3" stroke="#555" stroke-width="1" />
<line x1="912.8" y1="829.54" x2="914.8" y2="829.54" stroke="#555" stroke-width="1" />
<line x1="912.8" y1="814.79" x2="914.8" y2="814.79" stroke="#555" stroke-width="1" />
<line x1="912.8" y1="800.03" x2="914.8" y2="800.03" stroke="#555" stroke-width="1" />
<line x1="910.8" y1="785.27" x2="914.8" y2="785.27" stroke="#333" stroke-width="1.3" />
<line x1="912.8" y1="770.52" x2="914.8" y2="770.52" stroke="#555" stroke-width="1" />
<line x1="912.8" y1="755.76" x2="914.8" y2="755.76" stroke="#555" stroke-width="1" />
<line x1="912.8" y1="741.01" x2="914.8" y2="741.01" stroke="#555" stroke-width="1" />
<line x1="912.8" y1="726.25" x2="914.8" y2="726.25" stroke="#555" stroke-width="1" />
<line x1="910.8" y1="711.5" x2="914.8" y2="711.5" stroke="#333" stroke-width="1.3" />
<line x1="912.8" y1="696.75" x2="914.8" y2="696.75" stroke="#555" stroke-width="1" />
<line x1="912.8" y1="681.99" x2="914.8" y2="681.99" stroke="#555" stroke-width="1" />
<line x1="912.8" y1="667.24" x2="914.8" y2="667.24" stroke="#555" stroke-width="1" />
<line x1="912.8" y1="652.48" x2="914.8" y2="652.48" stroke="#555" stroke-width="1" />
<line x1="910.8" y1="637.73" x2="914.8" y2="637.73" stroke="#333" stroke-width="1.3" />
<line x1="912.8" y1="622.97" x2="914.8" y2="622.97" stroke="#555" stroke-width="1" />
<text x="886.5" y="718.1" font-size="20" text-anchor="end" fill="#000"  class="s">200</text>
<text x="886.5" y="865.65" font-size="20" text-anchor="end" fill="#000"  class="s">100</text>
<text x="886.5" y="1010.7" font-size="20" text-anchor="end" fill="#000"  class="s">0</text>
<line x1="980.8" y1="1007.2" x2="980.8" y2="1011.7" stroke="#222" stroke-width="1.3" />
<line x1="1003.44" y1="1007.2" x2="1003.44" y2="1009.7" stroke="#444" stroke-width="1" />
<line x1="1016.68" y1="1007.2" x2="1016.68" y2="1009.7" stroke="#444" stroke-width="1" />
<line x1="1026.07" y1="1007.2" x2="1026.07" y2="1009.7" stroke="#444" stroke-width="1" />
<line x1="1033.36" y1="1007.2" x2="1033.36" y2="1009.7" stroke="#444" stroke-width="1" />
<line x1="1039.32" y1="1007.2" x2="1039.32" y2="1009.7" stroke="#444" stroke-width="1" />
<line x1="1044.35" y1="1007.2" x2="1044.35" y2="1009.7" stroke="#444" stroke-width="1" />
<line x1="1048.71" y1="1007.2" x2="1048.71" y2="1009.7" stroke="#444" stroke-width="1" />
<line x1="1052.56" y1="1007.2" x2="1052.56" y2="1009.7" stroke="#444" stroke-width="1" />
<line x1="1056" y1="1007.2" x2="1056" y2="1011.7" stroke="#222" stroke-width="1.3" />
<line x1="1078.58" y1="1007.2" x2="1078.58" y2="1009.7" stroke="#444" stroke-width="1" />
<line x1="1091.78" y1="1007.2" x2="1091.78" y2="1009.7" stroke="#444" stroke-width="1" />
<line x1="1101.15" y1="1007.2" x2="1101.15" y2="1009.7" stroke="#444" stroke-width="1" />
<line x1="1108.42" y1="1007.2" x2="1108.42" y2="1009.7" stroke="#444" stroke-width="1" />
<line x1="1114.36" y1="1007.2" x2="1114.36" y2="1009.7" stroke="#444" stroke-width="1" />
<line x1="1119.38" y1="1007.2" x2="1119.38" y2="1009.7" stroke="#444" stroke-width="1" />
<line x1="1123.73" y1="1007.2" x2="1123.73" y2="1009.7" stroke="#444" stroke-width="1" />
<line x1="1127.57" y1="1007.2" x2="1127.57" y2="1009.7" stroke="#444" stroke-width="1" />
<line x1="1131" y1="1007.2" x2="1131" y2="1011.7" stroke="#222" stroke-width="1.3" />
<line x1="1152.73" y1="1007.2" x2="1152.73" y2="1009.7" stroke="#444" stroke-width="1" />
<line x1="1165.45" y1="1007.2" x2="1165.45" y2="1009.7" stroke="#444" stroke-width="1" />
<line x1="1174.47" y1="1007.2" x2="1174.47" y2="1009.7" stroke="#444" stroke-width="1" />
<line x1="1181.47" y1="1007.2" x2="1181.47" y2="1009.7" stroke="#444" stroke-width="1" />
<line x1="1187.18" y1="1007.2" x2="1187.18" y2="1009.7" stroke="#444" stroke-width="1" />
<line x1="1192.02" y1="1007.2" x2="1192.02" y2="1009.7" stroke="#444" stroke-width="1" />
<line x1="1196.2" y1="1007.2" x2="1196.2" y2="1009.7" stroke="#444" stroke-width="1" />
<line x1="1199.9" y1="1007.2" x2="1199.9" y2="1009.7" stroke="#444" stroke-width="1" />
<line x1="1203.2" y1="1007.2" x2="1203.2" y2="1011.7" stroke="#222" stroke-width="1.3" />
<line x1="1224.81" y1="1007.2" x2="1224.81" y2="1009.7" stroke="#444" stroke-width="1" />
<line x1="1237.46" y1="1007.2" x2="1237.46" y2="1009.7" stroke="#444" stroke-width="1" />
<line x1="1246.43" y1="1007.2" x2="1246.43" y2="1009.7" stroke="#444" stroke-width="1" />
<line x1="1253.39" y1="1007.2" x2="1253.39" y2="1009.7" stroke="#444" stroke-width="1" />
<line x1="1259.07" y1="1007.2" x2="1259.07" y2="1009.7" stroke="#444" stroke-width="1" />
<line x1="1263.88" y1="1007.2" x2="1263.88" y2="1009.7" stroke="#444" stroke-width="1" />
<line x1="1268.04" y1="1007.2" x2="1268.04" y2="1009.7" stroke="#444" stroke-width="1" />
<line x1="1271.71" y1="1007.2" x2="1271.71" y2="1009.7" stroke="#444" stroke-width="1" />
<line x1="1275" y1="1007.2" x2="1275" y2="1011.7" stroke="#222" stroke-width="1.3" />
<line x1="1296.82" y1="1007.2" x2="1296.82" y2="1009.7" stroke="#444" stroke-width="1" />
<line x1="1309.59" y1="1007.2" x2="1309.59" y2="1009.7" stroke="#444" stroke-width="1" />
<line x1="1318.65" y1="1007.2" x2="1318.65" y2="1009.7" stroke="#444" stroke-width="1" />
<line x1="1325.68" y1="1007.2" x2="1325.68" y2="1009.7" stroke="#444" stroke-width="1" />
<line x1="1331.42" y1="1007.2" x2="1331.42" y2="1009.7" stroke="#444" stroke-width="1" />
<line x1="1336.27" y1="1007.2" x2="1336.27" y2="1009.7" stroke="#444" stroke-width="1" />
<line x1="1340.47" y1="1007.2" x2="1340.47" y2="1009.7" stroke="#444" stroke-width="1" />
<line x1="1344.18" y1="1007.2" x2="1344.18" y2="1009.7" stroke="#444" stroke-width="1" />
<line x1="1347.5" y1="1007.2" x2="1347.5" y2="1011.7" stroke="#222" stroke-width="1.3" />
<line x1="919" y1="1007.2" x2="919" y2="1009.7" stroke="#333" stroke-width="1" />
<line x1="923" y1="1007.2" x2="923" y2="1009.7" stroke="#333" stroke-width="1" />
<line x1="927" y1="1007.2" x2="927" y2="1009.7" stroke="#333" stroke-width="1" />
<line x1="931" y1="1007.2" x2="931" y2="1009.7" stroke="#333" stroke-width="1" />
<line x1="935" y1="1007.2" x2="935" y2="1009.7" stroke="#333" stroke-width="1" />
<line x1="939" y1="1007.2" x2="939" y2="1009.7" stroke="#333" stroke-width="1" />
<line x1="942.5" y1="1007.2" x2="942.5" y2="1009.7" stroke="#333" stroke-width="1" />
<line x1="945" y1="1007.2" x2="945" y2="1009.7" stroke="#333" stroke-width="1" />
<line x1="947" y1="1007.2" x2="947" y2="1009.7" stroke="#333" stroke-width="1" />
<line x1="948.5" y1="1007.2" x2="948.5" y2="1009.7" stroke="#333" stroke-width="1" />
<line x1="950" y1="1007.2" x2="950" y2="1009.7" stroke="#333" stroke-width="1" />
<line x1="951.5" y1="1007.2" x2="951.5" y2="1009.7" stroke="#333" stroke-width="1" />
<line x1="953" y1="1007.2" x2="953" y2="1009.7" stroke="#333" stroke-width="1" />
<line x1="955" y1="1007.2" x2="955" y2="1009.7" stroke="#333" stroke-width="1" />
<line x1="957.5" y1="1007.2" x2="957.5" y2="1009.7" stroke="#333" stroke-width="1" />
<line x1="961" y1="1007.2" x2="961" y2="1009.7" stroke="#333" stroke-width="1" />
<line x1="965" y1="1007.2" x2="965" y2="1009.7" stroke="#333" stroke-width="1" />
<line x1="969" y1="1007.2" x2="969" y2="1009.7" stroke="#333" stroke-width="1" />
<line x1="973" y1="1007.2" x2="973" y2="1009.7" stroke="#333" stroke-width="1" />
<line x1="977" y1="1007.2" x2="977" y2="1009.7" stroke="#333" stroke-width="1" />
<line x1="950" y1="1008.7" x2="950" y2="1011.7" stroke="#111" stroke-width="5" />
<text x="950" y="1041.2" font-size="20" text-anchor="middle" fill="#000"  class="s">0</text>
<text x="1128.5" y="1041.2" font-size="20" text-anchor="middle" fill="#000"  class="s">10<tspan font-size="13" dy="-8.5">4</tspan></text>
<text x="1273" y="1041.2" font-size="20" text-anchor="middle" fill="#000"  class="s">10<tspan font-size="13" dy="-8.5">6</tspan></text>
<text x="1136.5" y="1092" font-size="26.3" text-anchor="middle" fill="#000" >λ<tspan font-size="17.5" dy="5.5">ex</tspan><tspan dy="-5.5"> 530/30nm</tspan></text>
<rect x="1453.2" y="596.8" width="43.6" height="43.6" fill="#00ffff" stroke="#8ff4f4" stroke-width="1.3" fill-opacity="0.19"/>
<rect x="1453.2" y="678.8" width="43.6" height="43.6" fill="#ff0000" stroke="#f48c8c" stroke-width="1.3" fill-opacity="0.19"/>
<rect x="1453.2" y="774.6" width="43.6" height="43.6" fill="#00e000" stroke="#4fe34f" stroke-width="1.3" fill-opacity="0.19"/>
<rect x="1453.2" y="883.8" width="43.6" height="43.6" fill="#0000ff" stroke="#8c8cf4" stroke-width="1.3" fill-opacity="0.19"/>
<rect x="1453.2" y="995.8" width="43.6" height="43.6" fill="#ff8000" stroke="#f6b98e" stroke-width="1.3" fill-opacity="0.19"/>
<text x="1514.2" y="625.4" font-size="26.6" text-anchor="start" fill="#000" >Quiescent</text>
<text x="1514.2" y="706.6" font-size="26.6" text-anchor="start" fill="#000" >A21387 (10µM)</text>
<text x="1514.2" y="786.1" font-size="26.6" text-anchor="start" fill="#000" >A21387 (10µM)</text>
<text x="1514.2" y="818.1" font-size="26.6" text-anchor="start" fill="#000" >Dynasore (30µM)</text>
<text x="1514.2" y="898.4" font-size="26.6" text-anchor="start" fill="#000" >A21387 (10µM)</text>
<text x="1514.2" y="930.4" font-size="26.6" text-anchor="start" fill="#000" >DPI (10µM)</text>
<text x="1514.2" y="1009.9" font-size="26.6" text-anchor="start" fill="#000" >A21387 (10µM)</text>
<text x="1514.2" y="1041.9" font-size="26.6" text-anchor="start" fill="#000" >Sivelestat</text>
<text x="1514.2" y="1073.4" font-size="26.6" text-anchor="start" fill="#000" >(100µM)</text>
</g>
<g id="panelD">
<text x="60" y="1122.4" font-size="38.5" text-anchor="start" fill="#000" >D</text>
<line x1="175.9" y1="1119.4" x2="175.9" y2="1830.2" stroke="#222" stroke-width="1.3" />
<line x1="175.3" y1="1829.6" x2="742" y2="1829.6" stroke="#222" stroke-width="1.3" />
<line x1="170.2" y1="1120" x2="175.9" y2="1120" stroke="#222" stroke-width="1.3" />
<text x="167.8" y="1130.8" font-size="31" text-anchor="end" fill="#000" >2.0</text>
<line x1="170.2" y1="1261.92" x2="175.9" y2="1261.92" stroke="#222" stroke-width="1.3" />
<text x="167.8" y="1272.72" font-size="31" text-anchor="end" fill="#000" >1.5</text>
<line x1="170.2" y1="1403.84" x2="175.9" y2="1403.84" stroke="#222" stroke-width="1.3" />
<text x="167.8" y="1414.64" font-size="31" text-anchor="end" fill="#000" >1.0</text>
<line x1="170.2" y1="1545.76" x2="175.9" y2="1545.76" stroke="#222" stroke-width="1.3" />
<text x="167.8" y="1556.56" font-size="31" text-anchor="end" fill="#000" >0.5</text>
<line x1="170.2" y1="1687.68" x2="175.9" y2="1687.68" stroke="#222" stroke-width="1.3" />
<text x="167.8" y="1698.48" font-size="31" text-anchor="end" fill="#000" >0.0</text>
<line x1="170.2" y1="1829.6" x2="175.9" y2="1829.6" stroke="#222" stroke-width="1.3" />
<text x="167.8" y="1840.4" font-size="31" text-anchor="end" fill="#000" >-0.5</text>
<line x1="232.4" y1="1829.6" x2="232.4" y2="1835.6" stroke="#222" stroke-width="1.3" />
<line x1="345.8" y1="1829.6" x2="345.8" y2="1835.6" stroke="#222" stroke-width="1.3" />
<line x1="458.8" y1="1829.6" x2="458.8" y2="1835.6" stroke="#222" stroke-width="1.3" />
<line x1="571.9" y1="1829.6" x2="571.9" y2="1835.6" stroke="#222" stroke-width="1.3" />
<line x1="685" y1="1829.6" x2="685" y2="1835.6" stroke="#222" stroke-width="1.3" />
<text transform="translate(101.2 1468) rotate(-90)" font-size="30.4" text-anchor="middle" fill="#000" >Arbitrary units</text>
<line x1="177.9" y1="1687.68" x2="741.5" y2="1687.68" stroke="#111" stroke-width="2" stroke-dasharray="2.2 3.1"/>
<line x1="345.8" y1="1278" x2="345.8" y2="1505.3" stroke="#222" stroke-width="1.3" />
<line x1="326.8" y1="1278" x2="364.8" y2="1278" stroke="#222" stroke-width="1.3" />
<line x1="326.8" y1="1505.3" x2="364.8" y2="1505.3" stroke="#222" stroke-width="1.3" />
<line x1="308.2" y1="1391.7" x2="383.4" y2="1391.7" stroke="#000" stroke-width="2.2" />
<line x1="458.8" y1="1630.6" x2="458.8" y2="1691.6" stroke="#222" stroke-width="1.3" />
<line x1="439.8" y1="1630.6" x2="477.8" y2="1630.6" stroke="#222" stroke-width="1.3" />
<line x1="439.8" y1="1691.6" x2="477.8" y2="1691.6" stroke="#222" stroke-width="1.3" />
<line x1="421.2" y1="1660.9" x2="496.4" y2="1660.9" stroke="#000" stroke-width="2.2" />
<line x1="571.9" y1="1543.7" x2="571.9" y2="1624.1" stroke="#222" stroke-width="1.3" />
<line x1="552.9" y1="1543.7" x2="590.9" y2="1543.7" stroke="#222" stroke-width="1.3" />
<line x1="552.9" y1="1624.1" x2="590.9" y2="1624.1" stroke="#222" stroke-width="1.3" />
<line x1="534.3" y1="1583.6" x2="609.5" y2="1583.6" stroke="#000" stroke-width="2.2" />
<line x1="685" y1="1591.1" x2="685" y2="1692.1" stroke="#222" stroke-width="1.3" />
<line x1="666" y1="1591.1" x2="704" y2="1591.1" stroke="#222" stroke-width="1.3" />
<line x1="666" y1="1692.1" x2="704" y2="1692.1" stroke="#222" stroke-width="1.3" />
<line x1="647.4" y1="1641.3" x2="722.6" y2="1641.3" stroke="#000" stroke-width="2.2" />
<circle cx="200" cy="1687.68" r="4.3" fill="#000" />
<circle cx="213.1" cy="1687.68" r="4.3" fill="#000" />
<circle cx="225.9" cy="1687.68" r="4.3" fill="#000" />
<circle cx="238.7" cy="1687.68" r="4.3" fill="#000" />
<circle cx="251.3" cy="1687.68" r="4.3" fill="#000" />
<circle cx="264.4" cy="1687.68" r="4.3" fill="#000" />
<circle cx="345.8" cy="1237.9" r="4.3" fill="#000" />
<circle cx="345.8" cy="1277.3" r="4.3" fill="#000" />
<circle cx="345.8" cy="1392.7" r="4.3" fill="#000" />
<circle cx="345.8" cy="1434.6" r="4.3" fill="#000" />
<circle cx="345.8" cy="1484.9" r="4.3" fill="#000" />
<circle cx="345.8" cy="1523.9" r="4.3" fill="#000" />
<circle cx="458.8" cy="1605.9" r="4.3" fill="#000" />
<circle cx="452" cy="1653.6" r="4.3" fill="#000" />
<circle cx="465.6" cy="1657" r="4.3" fill="#000" />
<circle cx="445.3" cy="1680.7" r="4.3" fill="#000" />
<circle cx="458.8" cy="1685.8" r="4.3" fill="#000" />
<circle cx="472.2" cy="1683.9" r="4.3" fill="#000" />
<circle cx="571.9" cy="1516.3" r="4.3" fill="#000" />
<circle cx="571.9" cy="1570.6" r="4.3" fill="#000" />
<circle cx="578.7" cy="1581.5" r="4.3" fill="#000" />
<circle cx="565.1" cy="1590.2" r="4.3" fill="#000" />
<circle cx="571.9" cy="1609.5" r="4.3" fill="#000" />
<circle cx="571.9" cy="1635.4" r="4.3" fill="#000" />
<circle cx="678.2" cy="1586.5" r="4.3" fill="#000" />
<circle cx="692" cy="1586.5" r="4.3" fill="#000" />
<circle cx="685" cy="1615.8" r="4.3" fill="#000" />
<circle cx="671.4" cy="1686" r="4.3" fill="#000" />
<circle cx="685" cy="1687.5" r="4.3" fill="#000" />
<circle cx="698.5" cy="1686" r="4.3" fill="#000" />
<text x="344.5" y="1143.4" font-size="22.6" text-anchor="middle" fill="#000" >&lt; 0.0001</text>
<text x="345" y="1174.6" font-size="23" text-anchor="middle" fill="#000" letter-spacing="0.2">****</text>
<text x="466" y="1143.4" font-size="22.6" text-anchor="middle" fill="#000" >0.4949</text>
<text x="465.7" y="1174.4" font-size="22.6" text-anchor="middle" fill="#000" >ns</text>
<text x="576.8" y="1143.4" font-size="22.6" text-anchor="middle" fill="#000" >0.0209</text>
<text x="577.3" y="1174.6" font-size="23" text-anchor="middle" fill="#000" letter-spacing="0.2">*</text>
<text x="687" y="1143.4" font-size="22.6" text-anchor="middle" fill="#000" >0.8593</text>
<text x="686.7" y="1174.4" font-size="22.6" text-anchor="middle" fill="#000" >ns</text>
<text x="232.4" y="1858.7" font-size="25" text-anchor="middle" fill="#000" >Pre</text>
<text x="345.8" y="1858.7" font-size="25" text-anchor="middle" fill="#000" >Post</text>
<text x="345.8" y="1885.7" font-size="25" text-anchor="middle" fill="#000" >fMLF</text>
<text x="345.8" y="1912.7" font-size="25" text-anchor="middle" fill="#000" >(500nM)</text>
<text x="458.8" y="1858.7" font-size="25" text-anchor="middle" fill="#000" >Post</text>
<text x="458.8" y="1885.7" font-size="25" text-anchor="middle" fill="#000" >+ Dynasore</text>
<text x="458.8" y="1912.7" font-size="25" text-anchor="middle" fill="#000" >(30µM)</text>
<text x="571.9" y="1858.7" font-size="25" text-anchor="middle" fill="#000" >Post</text>
<text x="572.2" y="1885.7" font-size="25" text-anchor="middle" fill="#000" >+ DPI</text>
<text x="571.9" y="1912.7" font-size="25" text-anchor="middle" fill="#000" >(10µM)</text>
<text x="685" y="1858.7" font-size="25" text-anchor="middle" fill="#000" >Post</text>
<text x="688.2" y="1885.7" font-size="25" text-anchor="middle" fill="#000" >+ Sivelestat</text>
<text x="685" y="1912.7" font-size="25" text-anchor="middle" fill="#000" >(100µM)</text>
</g>
<g id="panelE">
<defs><clipPath id="ecl"><rect width="344.4" height="343.6"/></clipPath><filter id="eb1" x="-5%" y="-5%" width="110%" height="110%" color-interpolation-filters="sRGB"><feTurbulence type="fractalNoise" baseFrequency="0.1" numOctaves="2" seed="7" result="t"/><feDisplacementMap in="SourceGraphic" in2="t" scale="6" xChannelSelector="R" yChannelSelector="G"/><feGaussianBlur stdDeviation="1.0"/></filter><filter id="eb2" x="-5%" y="-5%" width="110%" height="110%" color-interpolation-filters="sRGB"><feGaussianBlur stdDeviation="1.8"/></filter><filter id="eb05" x="-5%" y="-5%" width="110%" height="110%" color-interpolation-filters="sRGB"><feGaussianBlur stdDeviation="0.6"/></filter><filter id="eb08" x="-5%" y="-5%" width="110%" height="110%" color-interpolation-filters="sRGB"><feTurbulence type="fractalNoise" baseFrequency="0.3" numOctaves="1" seed="5" result="t"/><feDisplacementMap in="SourceGraphic" in2="t" scale="4" xChannelSelector="R" yChannelSelector="G"/><feGaussianBlur stdDeviation="0.7"/></filter><filter id="eb12" x="-50%" y="-50%" width="200%" height="200%" color-interpolation-filters="sRGB"><feGaussianBlur stdDeviation="14"/></filter><filter id="grain" x="0" y="0" width="100%" height="100%" color-interpolation-filters="sRGB"><feTurbulence type="fractalNoise" baseFrequency="0.45" numOctaves="2" seed="3"/><feColorMatrix type="matrix" values="1.5 0 0 0 -0.25  1.5 0 0 0 -0.25  1.5 0 0 0 -0.25  0 0 0 0 1"/></filter></defs>
<text x="834.6" y="1122.4" font-size="38.5" text-anchor="start" fill="#000" >E</text>
<g transform="translate(859.2 1158)" clip-path="url(#ecl)">
<rect x="0" y="0" width="344.4" height="343.6" fill="#086e08"/>
<path d="M145.2 193.1a10.0 10.0 0 1 0 20.1 0a10.0 10.0 0 1 0 -20.1 0M150.5 174.6a9.5 9.5 0 1 0 18.9 0a9.5 9.5 0 1 0 -18.9 0M50.1 176.0a9.7 9.7 0 1 0 19.4 0a9.7 9.7 0 1 0 -19.4 0M268.4 27.5a8.2 8.2 0 1 0 16.4 0a8.2 8.2 0 1 0 -16.4 0M16.6 281.9a9.7 9.7 0 1 0 19.5 0a9.7 9.7 0 1 0 -19.5 0M-1.1 343.3a10.1 10.1 0 1 0 20.1 0a10.1 10.1 0 1 0 -20.1 0M219.2 212.9a7.9 7.9 0 1 0 15.7 0a7.9 7.9 0 1 0 -15.7 0M-8.5 181.9a7.8 7.8 0 1 0 15.6 0a7.8 7.8 0 1 0 -15.6 0M54.0 80.0a7.8 7.8 0 1 0 15.6 0a7.8 7.8 0 1 0 -15.6 0M149.8 150.7a9.5 9.5 0 1 0 19.0 0a9.5 9.5 0 1 0 -19.0 0M169.7 221.7a9.3 9.3 0 1 0 18.6 0a9.3 9.3 0 1 0 -18.6 0M221.9 156.6a8.2 8.2 0 1 0 16.4 0a8.2 8.2 0 1 0 -16.4 0M339.8 348.1a9.8 9.8 0 1 0 19.6 0a9.8 9.8 0 1 0 -19.6 0M237.9 106.1a8.4 8.4 0 1 0 16.7 0a8.4 8.4 0 1 0 -16.7 0M86.9 19.0a10.1 10.1 0 1 0 20.1 0a10.1 10.1 0 1 0 -20.1 0M127.8 295.0a8.9 8.9 0 1 0 17.8 0a8.9 8.9 0 1 0 -17.8 0M327.3 295.3a8.2 8.2 0 1 0 16.3 0a8.2 8.2 0 1 0 -16.3 0M59.6 317.7a9.2 9.2 0 1 0 18.4 0a9.2 9.2 0 1 0 -18.4 0M335.4 135.3a8.0 8.0 0 1 0 15.9 0a8.0 8.0 0 1 0 -15.9 0M209.8 270.8a8.5 8.5 0 1 0 17.0 0a8.5 8.5 0 1 0 -17.0 0M15.0 112.3a10.1 10.1 0 1 0 20.1 0a10.1 10.1 0 1 0 -20.1 0M20.3 15.3a9.7 9.7 0 1 0 19.4 0a9.7 9.7 0 1 0 -19.4 0M53.9 254.3a8.1 8.1 0 1 0 16.1 0a8.1 8.1 0 1 0 -16.1 0M214.5 35.4a8.9 8.9 0 1 0 17.9 0a8.9 8.9 0 1 0 -17.9 0M270.0 102.2a10.4 10.4 0 1 0 20.8 0a10.4 10.4 0 1 0 -20.8 0M59.3 134.2a9.8 9.8 0 1 0 19.6 0a9.8 9.8 0 1 0 -19.6 0M103.6 99.4a7.6 7.6 0 1 0 15.2 0a7.6 7.6 0 1 0 -15.2 0M17.3 201.2a8.8 8.8 0 1 0 17.7 0a8.8 8.8 0 1 0 -17.7 0M199.7 126.2a8.6 8.6 0 1 0 17.2 0a8.6 8.6 0 1 0 -17.2 0M326.7 166.0a9.1 9.1 0 1 0 18.3 0a9.1 9.1 0 1 0 -18.3 0M294.7 59.0a8.2 8.2 0 1 0 16.3 0a8.2 8.2 0 1 0 -16.3 0M309.6 284.8a8.2 8.2 0 1 0 16.4 0a8.2 8.2 0 1 0 -16.4 0M201.2 143.9a7.9 7.9 0 1 0 15.9 0a7.9 7.9 0 1 0 -15.9 0M235.4 85.4a9.7 9.7 0 1 0 19.4 0a9.7 9.7 0 1 0 -19.4 0M197.9 98.3a8.7 8.7 0 1 0 17.4 0a8.7 8.7 0 1 0 -17.4 0M242.3 18.5a8.5 8.5 0 1 0 16.9 0a8.5 8.5 0 1 0 -16.9 0M184.1 297.1a9.3 9.3 0 1 0 18.5 0a9.3 9.3 0 1 0 -18.5 0M85.8 320.2a8.1 8.1 0 1 0 16.2 0a8.1 8.1 0 1 0 -16.2 0M-9.0 89.7a8.9 8.9 0 1 0 17.8 0a8.9 8.9 0 1 0 -17.8 0M7.1 56.7a8.4 8.4 0 1 0 16.9 0a8.4 8.4 0 1 0 -16.9 0M189.7 40.8a8.2 8.2 0 1 0 16.5 0a8.2 8.2 0 1 0 -16.5 0M301.7 342.7a9.8 9.8 0 1 0 19.7 0a9.8 9.8 0 1 0 -19.7 0M232.0 201.8a8.4 8.4 0 1 0 16.8 0a8.4 8.4 0 1 0 -16.8 0M-3.3 0.4a9.8 9.8 0 1 0 19.5 0a9.8 9.8 0 1 0 -19.5 0M235.5 336.4a8.3 8.3 0 1 0 16.6 0a8.3 8.3 0 1 0 -16.6 0M99.6 349.4a8.1 8.1 0 1 0 16.1 0a8.1 8.1 0 1 0 -16.1 0M178.3 256.1a10.3 10.3 0 1 0 20.7 0a10.3 10.3 0 1 0 -20.7 0M247.2 244.2a9.5 9.5 0 1 0 19.1 0a9.5 9.5 0 1 0 -19.1 0M311.2 119.1a8.9 8.9 0 1 0 17.9 0a8.9 8.9 0 1 0 -17.9 0M306.2 303.8a8.8 8.8 0 1 0 17.6 0a8.8 8.8 0 1 0 -17.6 0M267.1 301.1a8.6 8.6 0 1 0 17.3 0a8.6 8.6 0 1 0 -17.3 0M201.6 22.5a9.4 9.4 0 1 0 18.9 0a9.4 9.4 0 1 0 -18.9 0M338.7 306.9a9.4 9.4 0 1 0 18.7 0a9.4 9.4 0 1 0 -18.7 0M123.3 255.4a9.1 9.1 0 1 0 18.2 0a9.1 9.1 0 1 0 -18.2 0M251.8 4.6a9.6 9.6 0 1 0 19.2 0a9.6 9.6 0 1 0 -19.2 0M156.0 75.9a9.4 9.4 0 1 0 18.8 0a9.4 9.4 0 1 0 -18.8 0M76.6 -2.0a8.6 8.6 0 1 0 17.3 0a8.6 8.6 0 1 0 -17.3 0M227.3 66.0a8.4 8.4 0 1 0 16.7 0a8.4 8.4 0 1 0 -16.7 0M308.3 228.7a8.5 8.5 0 1 0 17.0 0a8.5 8.5 0 1 0 -17.0 0M161.7 291.7a9.2 9.2 0 1 0 18.4 0a9.2 9.2 0 1 0 -18.4 0M45.5 154.3a8.8 8.8 0 1 0 17.5 0a8.8 8.8 0 1 0 -17.5 0M160.8 106.1a9.3 9.3 0 1 0 18.5 0a9.3 9.3 0 1 0 -18.5 0M-2.8 304.4a8.0 8.0 0 1 0 16.0 0a8.0 8.0 0 1 0 -16.0 0M146.2 2.8a9.9 9.9 0 1 0 19.7 0a9.9 9.9 0 1 0 -19.7 0M70.6 44.1a8.0 8.0 0 1 0 15.9 0a8.0 8.0 0 1 0 -15.9 0M48.3 -2.2a9.3 9.3 0 1 0 18.7 0a9.3 9.3 0 1 0 -18.7 0M108.7 242.0a8.6 8.6 0 1 0 17.1 0a8.6 8.6 0 1 0 -17.1 0M317.8 250.9a8.6 8.6 0 1 0 17.2 0a8.6 8.6 0 1 0 -17.2 0M146.0 216.4a9.7 9.7 0 1 0 19.4 0a9.7 9.7 0 1 0 -19.4 0M118.6 196.3a9.7 9.7 0 1 0 19.5 0a9.7 9.7 0 1 0 -19.5 0M269.1 329.8a8.9 8.9 0 1 0 17.8 0a8.9 8.9 0 1 0 -17.8 0M275.7 222.2a10.0 10.0 0 1 0 20.0 0a10.0 10.0 0 1 0 -20.0 0M332.4 184.9a9.9 9.9 0 1 0 19.8 0a9.9 9.9 0 1 0 -19.8 0M109.5 23.4a8.7 8.7 0 1 0 17.3 0a8.7 8.7 0 1 0 -17.3 0M-4.3 281.7a8.4 8.4 0 1 0 16.9 0a8.4 8.4 0 1 0 -16.9 0M270.5 55.5a8.6 8.6 0 1 0 17.2 0a8.6 8.6 0 1 0 -17.2 0M323.7 24.6a8.6 8.6 0 1 0 17.2 0a8.6 8.6 0 1 0 -17.2 0M212.1 179.9a9.6 9.6 0 1 0 19.1 0a9.6 9.6 0 1 0 -19.1 0M286.5 314.2a8.7 8.7 0 1 0 17.4 0a8.7 8.7 0 1 0 -17.4 0M189.2 65.5a9.1 9.1 0 1 0 18.1 0a9.1 9.1 0 1 0 -18.1 0M270.5 194.2a9.0 9.0 0 1 0 18.0 0a9.0 9.0 0 1 0 -18.0 0M131.8 334.3a9.6 9.6 0 1 0 19.3 0a9.6 9.6 0 1 0 -19.3 0M81.6 162.3a8.3 8.3 0 1 0 16.6 0a8.3 8.3 0 1 0 -16.6 0M206.3 323.0a7.9 7.9 0 1 0 15.9 0a7.9 7.9 0 1 0 -15.9 0M66.4 238.3a8.6 8.6 0 1 0 17.2 0a8.6 8.6 0 1 0 -17.2 0M112.3 214.4a8.3 8.3 0 1 0 16.7 0a8.3 8.3 0 1 0 -16.7 0M245.8 37.7a8.7 8.7 0 1 0 17.4 0a8.7 8.7 0 1 0 -17.4 0M74.6 64.3a8.7 8.7 0 1 0 17.3 0a8.7 8.7 0 1 0 -17.3 0M141.4 127.6a8.3 8.3 0 1 0 16.6 0a8.3 8.3 0 1 0 -16.6 0M174.0 50.8a8.7 8.7 0 1 0 17.4 0a8.7 8.7 0 1 0 -17.4 0M312.8 71.6a10.1 10.1 0 1 0 20.2 0a10.1 10.1 0 1 0 -20.2 0M301.7 41.6a8.6 8.6 0 1 0 17.2 0a8.6 8.6 0 1 0 -17.2 0M280.9 143.9a9.7 9.7 0 1 0 19.3 0a9.7 9.7 0 1 0 -19.3 0M29.3 137.2a9.6 9.6 0 1 0 19.2 0a9.6 9.6 0 1 0 -19.2 0M-8.9 65.5a9.2 9.2 0 1 0 18.4 0a9.2 9.2 0 1 0 -18.4 0M168.9 196.2a8.5 8.5 0 1 0 17.1 0a8.5 8.5 0 1 0 -17.1 0M338.8 323.6a8.2 8.2 0 1 0 16.4 0a8.2 8.2 0 1 0 -16.4 0M169.0 146.9a8.7 8.7 0 1 0 17.4 0a8.7 8.7 0 1 0 -17.4 0M-11.3 243.3a10.0 10.0 0 1 0 20.0 0a10.0 10.0 0 1 0 -20.0 0M130.0 63.4a8.4 8.4 0 1 0 16.8 0a8.4 8.4 0 1 0 -16.8 0M166.5 -0.5a10.1 10.1 0 1 0 20.3 0a10.1 10.1 0 1 0 -20.3 0M269.6 244.6a10.1 10.1 0 1 0 20.3 0a10.1 10.1 0 1 0 -20.3 0M164.5 343.4a9.2 9.2 0 1 0 18.5 0a9.2 9.2 0 1 0 -18.5 0M262.2 283.7a9.1 9.1 0 1 0 18.1 0a9.1 9.1 0 1 0 -18.1 0M258.5 266.1a9.0 9.0 0 1 0 17.9 0a9.0 9.0 0 1 0 -17.9 0M233.5 264.9a10.4 10.4 0 1 0 20.9 0a10.4 10.4 0 1 0 -20.9 0M-7.1 212.8a9.2 9.2 0 1 0 18.4 0a9.2 9.2 0 1 0 -18.4 0M338.8 220.9a9.8 9.8 0 1 0 19.7 0a9.8 9.8 0 1 0 -19.7 0M2.0 324.8a8.1 8.1 0 1 0 16.2 0a8.1 8.1 0 1 0 -16.2 0M153.1 54.1a9.0 9.0 0 1 0 18.1 0a9.0 9.0 0 1 0 -18.1 0M123.6 313.2a9.3 9.3 0 1 0 18.7 0a9.3 9.3 0 1 0 -18.7 0M186.3 204.4a9.1 9.1 0 1 0 18.1 0a9.1 9.1 0 1 0 -18.1 0M254.5 61.5a8.0 8.0 0 1 0 16.0 0a8.0 8.0 0 1 0 -16.0 0M179.4 19.8a7.6 7.6 0 1 0 15.2 0a7.6 7.6 0 1 0 -15.2 0M119.1 164.2a7.9 7.9 0 1 0 15.8 0a7.9 7.9 0 1 0 -15.8 0M10.3 36.6a10.2 10.2 0 1 0 20.4 0a10.2 10.2 0 1 0 -20.4 0M135.6 85.8a9.6 9.6 0 1 0 19.3 0a9.6 9.6 0 1 0 -19.3 0M100.0 189.1a10.0 10.0 0 1 0 19.9 0a10.0 10.0 0 1 0 -19.9 0M313.9 146.1a8.3 8.3 0 1 0 16.6 0a8.3 8.3 0 1 0 -16.6 0M20.8 305.2a7.8 7.8 0 1 0 15.5 0a7.8 7.8 0 1 0 -15.5 0M26.2 246.2a9.6 9.6 0 1 0 19.2 0a9.6 9.6 0 1 0 -19.2 0M141.3 279.6a8.8 8.8 0 1 0 17.5 0a8.8 8.8 0 1 0 -17.5 0M97.6 136.1a9.6 9.6 0 1 0 19.3 0a9.6 9.6 0 1 0 -19.3 0M115.6 123.2a8.7 8.7 0 1 0 17.4 0a8.7 8.7 0 1 0 -17.4 0M300.3 94.1a7.6 7.6 0 1 0 15.3 0a7.6 7.6 0 1 0 -15.3 0M305.0 24.1a9.5 9.5 0 1 0 18.9 0a9.5 9.5 0 1 0 -18.9 0M237.7 319.4a8.7 8.7 0 1 0 17.3 0a8.7 8.7 0 1 0 -17.3 0M134.1 46.0a9.7 9.7 0 1 0 19.4 0a9.7 9.7 0 1 0 -19.4 0M25.5 224.4a9.4 9.4 0 1 0 18.8 0a9.4 9.4 0 1 0 -18.8 0M49.3 16.2a8.6 8.6 0 1 0 17.2 0a8.6 8.6 0 1 0 -17.2 0M24.8 59.6a8.0 8.0 0 1 0 15.9 0a8.0 8.0 0 1 0 -15.9 0M173.8 177.4a8.2 8.2 0 1 0 16.4 0a8.2 8.2 0 1 0 -16.4 0M-10.7 162.1a8.6 8.6 0 1 0 17.1 0a8.6 8.6 0 1 0 -17.1 0M41.9 49.8a8.2 8.2 0 1 0 16.3 0a8.2 8.2 0 1 0 -16.3 0M77.7 303.1a8.8 8.8 0 1 0 17.5 0a8.8 8.8 0 1 0 -17.5 0M212.7 347.2a8.3 8.3 0 1 0 16.6 0a8.3 8.3 0 1 0 -16.6 0M187.0 156.9a8.1 8.1 0 1 0 16.2 0a8.1 8.1 0 1 0 -16.2 0M338.9 278.3a8.5 8.5 0 1 0 17.1 0a8.5 8.5 0 1 0 -17.1 0M177.6 100.0a8.8 8.8 0 1 0 17.6 0a8.8 8.8 0 1 0 -17.6 0M124.9 231.1a8.9 8.9 0 1 0 17.7 0a8.9 8.9 0 1 0 -17.7 0M103.8 288.0a8.4 8.4 0 1 0 16.9 0a8.4 8.4 0 1 0 -16.9 0M34.6 27.6a9.6 9.6 0 1 0 19.2 0a9.6 9.6 0 1 0 -19.2 0M284.4 204.8a7.9 7.9 0 1 0 15.8 0a7.9 7.9 0 1 0 -15.8 0M129.1 19.8a9.9 9.9 0 1 0 19.8 0a9.9 9.9 0 1 0 -19.8 0M-8.4 111.7a9.1 9.1 0 1 0 18.1 0a9.1 9.1 0 1 0 -18.1 0M307.6 189.0a8.3 8.3 0 1 0 16.5 0a8.3 8.3 0 1 0 -16.5 0M209.9 64.4a7.6 7.6 0 1 0 15.3 0a7.6 7.6 0 1 0 -15.3 0M71.9 199.0a9.2 9.2 0 1 0 18.5 0a9.2 9.2 0 1 0 -18.5 0M103.0 324.4a8.4 8.4 0 1 0 16.7 0a8.4 8.4 0 1 0 -16.7 0M33.8 315.5a8.6 8.6 0 1 0 17.1 0a8.6 8.6 0 1 0 -17.1 0M48.3 345.0a9.9 9.9 0 1 0 19.8 0a9.9 9.9 0 1 0 -19.8 0M219.4 103.4a9.3 9.3 0 1 0 18.5 0a9.3 9.3 0 1 0 -18.5 0M247.4 129.7a9.5 9.5 0 1 0 19.0 0a9.5 9.5 0 1 0 -19.0 0M272.5 -0.2a7.9 7.9 0 1 0 15.9 0a7.9 7.9 0 1 0 -15.9 0M213.6 7.5a9.1 9.1 0 1 0 18.2 0a9.1 9.1 0 1 0 -18.2 0M186.7 315.9a9.0 9.0 0 1 0 18.0 0a9.0 9.0 0 1 0 -18.0 0M233.7 181.1a7.9 7.9 0 1 0 15.9 0a7.9 7.9 0 1 0 -15.9 0M222.4 302.1a8.9 8.9 0 1 0 17.8 0a8.9 8.9 0 1 0 -17.8 0M271.5 72.9a9.5 9.5 0 1 0 19.1 0a9.5 9.5 0 1 0 -19.1 0M325.0 -5.8a8.0 8.0 0 1 0 15.9 0a8.0 8.0 0 1 0 -15.9 0M283.8 119.9a8.8 8.8 0 1 0 17.6 0a8.8 8.8 0 1 0 -17.6 0M57.6 218.9a8.4 8.4 0 1 0 16.8 0a8.4 8.4 0 1 0 -16.8 0M295.5 247.6a8.5 8.5 0 1 0 16.9 0a8.5 8.5 0 1 0 -16.9 0M13.4 73.4a8.8 8.8 0 1 0 17.5 0a8.8 8.8 0 1 0 -17.5 0M75.4 279.6a8.0 8.0 0 1 0 16.1 0a8.0 8.0 0 1 0 -16.1 0M86.9 262.7a8.7 8.7 0 1 0 17.5 0a8.7 8.7 0 1 0 -17.5 0M150.1 260.9a8.4 8.4 0 1 0 16.8 0a8.4 8.4 0 1 0 -16.8 0M68.6 150.6a9.3 9.3 0 1 0 18.6 0a9.3 9.3 0 1 0 -18.6 0M7.0 140.0a8.7 8.7 0 1 0 17.5 0a8.7 8.7 0 1 0 -17.5 0M301.2 158.5a8.7 8.7 0 1 0 17.4 0a8.7 8.7 0 1 0 -17.4 0M10.9 239.8a9.0 9.0 0 1 0 18.0 0a9.0 9.0 0 1 0 -18.0 0M260.7 178.7a8.0 8.0 0 1 0 16.0 0a8.0 8.0 0 1 0 -16.0 0M40.2 205.7a7.6 7.6 0 1 0 15.1 0a7.6 7.6 0 1 0 -15.1 0M65.5 97.9a9.1 9.1 0 1 0 18.1 0a9.1 9.1 0 1 0 -18.1 0M332.6 100.0a9.1 9.1 0 1 0 18.2 0a9.1 9.1 0 1 0 -18.2 0M84.6 50.4a9.1 9.1 0 1 0 18.2 0a9.1 9.1 0 1 0 -18.2 0M71.1 27.1a8.4 8.4 0 1 0 16.8 0a8.4 8.4 0 1 0 -16.8 0M102.5 84.1a7.5 7.5 0 1 0 15.1 0a7.5 7.5 0 1 0 -15.1 0M131.9 141.8a8.5 8.5 0 1 0 17.1 0a8.5 8.5 0 1 0 -17.1 0M309.9 7.6a8.3 8.3 0 1 0 16.6 0a8.3 8.3 0 1 0 -16.6 0M334.3 47.3a7.9 7.9 0 1 0 15.8 0a7.9 7.9 0 1 0 -15.8 0M176.3 78.3a8.0 8.0 0 1 0 16.0 0a8.0 8.0 0 1 0 -16.0 0M101.3 57.2a8.6 8.6 0 1 0 17.1 0a8.6 8.6 0 1 0 -17.1 0M103.2 264.0a9.8 9.8 0 1 0 19.5 0a9.8 9.8 0 1 0 -19.5 0M258.2 342.8a8.6 8.6 0 1 0 17.2 0a8.6 8.6 0 1 0 -17.2 0M339.5 65.9a9.9 9.9 0 1 0 19.8 0a9.9 9.9 0 1 0 -19.8 0M253.1 104.2a9.5 9.5 0 1 0 19.0 0a9.5 9.5 0 1 0 -19.0 0M24.1 345.2a8.5 8.5 0 1 0 17.0 0a8.5 8.5 0 1 0 -17.0 0M339.4 256.4a8.4 8.4 0 1 0 16.9 0a8.4 8.4 0 1 0 -16.9 0M85.3 222.9a8.3 8.3 0 1 0 16.6 0a8.3 8.3 0 1 0 -16.6 0M183.1 273.9a8.7 8.7 0 1 0 17.4 0a8.7 8.7 0 1 0 -17.4 0M294.0 290.5a8.2 8.2 0 1 0 16.5 0a8.2 8.2 0 1 0 -16.5 0M320.4 210.9a8.9 8.9 0 1 0 17.9 0a8.9 8.9 0 1 0 -17.9 0M250.5 207.8a8.4 8.4 0 1 0 16.8 0a8.4 8.4 0 1 0 -16.8 0M233.2 233.0a8.5 8.5 0 1 0 16.9 0a8.5 8.5 0 1 0 -16.9 0M215.1 243.3a10.6 10.6 0 1 0 21.1 0a10.6 10.6 0 1 0 -21.1 0M9.0 158.4a8.7 8.7 0 1 0 17.4 0a8.7 8.7 0 1 0 -17.4 0M322.6 312.6a8.1 8.1 0 1 0 16.1 0a8.1 8.1 0 1 0 -16.1 0M39.0 285.0a9.8 9.8 0 1 0 19.5 0a9.8 9.8 0 1 0 -19.5 0M163.6 315.4a8.9 8.9 0 1 0 17.8 0a8.9 8.9 0 1 0 -17.8 0M113.3 147.1a8.4 8.4 0 1 0 16.9 0a8.4 8.4 0 1 0 -16.9 0M98.0 166.1a8.1 8.1 0 1 0 16.1 0a8.1 8.1 0 1 0 -16.1 0M276.8 274.3a9.3 9.3 0 1 0 18.5 0a9.3 9.3 0 1 0 -18.5 0M6.1 265.5a8.2 8.2 0 1 0 16.3 0a8.2 8.2 0 1 0 -16.3 0M262.8 150.6a9.6 9.6 0 1 0 19.3 0a9.6 9.6 0 1 0 -19.3 0M42.9 118.4a9.5 9.5 0 1 0 19.0 0a9.5 9.5 0 1 0 -19.0 0M239.8 147.9a9.6 9.6 0 1 0 19.1 0a9.6 9.6 0 1 0 -19.1 0M183.6 341.0a9.9 9.9 0 1 0 19.7 0a9.9 9.9 0 1 0 -19.7 0M286.6 6.5a9.4 9.4 0 1 0 18.9 0a9.4 9.4 0 1 0 -18.9 0M230.2 123.4a9.5 9.5 0 1 0 19.0 0a9.5 9.5 0 1 0 -19.0 0M262.6 86.4a7.7 7.7 0 1 0 15.3 0a7.7 7.7 0 1 0 -15.3 0M134.5 166.8a8.3 8.3 0 1 0 16.5 0a8.3 8.3 0 1 0 -16.5 0M14.3 178.6a10.4 10.4 0 1 0 20.9 0a10.4 10.4 0 1 0 -20.9 0M-15.7 18.1a9.9 9.9 0 1 0 19.8 0a9.9 9.9 0 1 0 -19.8 0M120.2 96.1a9.1 9.1 0 1 0 18.1 0a9.1 9.1 0 1 0 -18.1 0M322.1 341.7a8.3 8.3 0 1 0 16.7 0a8.3 8.3 0 1 0 -16.7 0M285.3 172.9a8.5 8.5 0 1 0 16.9 0a8.5 8.5 0 1 0 -16.9 0M309.5 325.6a9.2 9.2 0 1 0 18.4 0a9.2 9.2 0 1 0 -18.4 0M160.3 130.7a9.1 9.1 0 1 0 18.1 0a9.1 9.1 0 1 0 -18.1 0M95.0 304.3a9.9 9.9 0 1 0 19.7 0a9.9 9.9 0 1 0 -19.7 0M-10.3 46.7a9.1 9.1 0 1 0 18.2 0a9.1 9.1 0 1 0 -18.2 0M53.8 33.9a8.3 8.3 0 1 0 16.6 0a8.3 8.3 0 1 0 -16.6 0M248.9 301.9a9.0 9.0 0 1 0 18.1 0a9.0 9.0 0 1 0 -18.1 0M107.1 -5.6a7.8 7.8 0 1 0 15.7 0a7.8 7.8 0 1 0 -15.7 0M134.9 107.0a9.1 9.1 0 1 0 18.2 0a9.1 9.1 0 1 0 -18.2 0M228.7 48.0a9.6 9.6 0 1 0 19.2 0a9.6 9.6 0 1 0 -19.2 0M33.9 188.3a10.0 10.0 0 1 0 20.0 0a10.0 10.0 0 1 0 -20.0 0M121.0 35.6a7.9 7.9 0 1 0 15.7 0a7.9 7.9 0 1 0 -15.7 0M147.2 237.7a9.0 9.0 0 1 0 18.0 0a9.0 9.0 0 1 0 -18.0 0M198.5 285.5a7.6 7.6 0 1 0 15.2 0a7.6 7.6 0 1 0 -15.2 0M73.2 254.0a8.3 8.3 0 1 0 16.7 0a8.3 8.3 0 1 0 -16.7 0M81.3 180.7a9.4 9.4 0 1 0 18.8 0a9.4 9.4 0 1 0 -18.8 0M-13.3 135.5a8.6 8.6 0 1 0 17.2 0a8.6 8.6 0 1 0 -17.2 0M283.4 345.8a10.0 10.0 0 1 0 19.9 0a10.0 10.0 0 1 0 -19.9 0M336.0 203.5a8.0 8.0 0 1 0 15.9 0a8.0 8.0 0 1 0 -15.9 0M205.1 228.0a8.4 8.4 0 1 0 16.9 0a8.4 8.4 0 1 0 -16.9 0M154.7 34.7a9.1 9.1 0 1 0 18.2 0a9.1 9.1 0 1 0 -18.2 0M34.3 102.1a8.6 8.6 0 1 0 17.1 0a8.6 8.6 0 1 0 -17.1 0M227.8 281.5a9.1 9.1 0 1 0 18.3 0a9.1 9.1 0 1 0 -18.3 0M35.9 262.4a8.7 8.7 0 1 0 17.5 0a8.7 8.7 0 1 0 -17.5 0M182.3 235.2a8.8 8.8 0 1 0 17.7 0a8.8 8.8 0 1 0 -17.7 0M58.4 62.8a8.0 8.0 0 1 0 16.0 0a8.0 8.0 0 1 0 -16.0 0M69.3 341.4a9.3 9.3 0 1 0 18.5 0a9.3 9.3 0 1 0 -18.5 0M-11.2 262.2a7.8 7.8 0 1 0 15.7 0a7.8 7.8 0 1 0 -15.7 0M35.3 168.5a8.6 8.6 0 1 0 17.2 0a8.6 8.6 0 1 0 -17.2 0M126.0 -5.3a7.9 7.9 0 1 0 15.8 0a7.9 7.9 0 1 0 -15.8 0M147.8 323.8a8.9 8.9 0 1 0 17.8 0a8.9 8.9 0 1 0 -17.8 0M8.0 94.0a8.5 8.5 0 1 0 17.0 0a8.5 8.5 0 1 0 -17.0 0M201.2 79.1a8.2 8.2 0 1 0 16.3 0a8.2 8.2 0 1 0 -16.3 0M341.8 19.4a7.9 7.9 0 1 0 15.7 0a7.9 7.9 0 1 0 -15.7 0M295.7 269.4a9.5 9.5 0 1 0 18.9 0a9.5 9.5 0 1 0 -18.9 0M204.0 158.9a8.0 8.0 0 1 0 15.9 0a8.0 8.0 0 1 0 -15.9 0M188.7 3.0a9.1 9.1 0 1 0 18.1 0a9.1 9.1 0 1 0 -18.1 0M290.5 79.3a9.5 9.5 0 1 0 19.1 0a9.5 9.5 0 1 0 -19.1 0M60.4 300.1a8.7 8.7 0 1 0 17.4 0a8.7 8.7 0 1 0 -17.4 0M255.6 227.9a8.9 8.9 0 1 0 17.8 0a8.9 8.9 0 1 0 -17.8 0M175.4 123.2a9.1 9.1 0 1 0 18.2 0a9.1 9.1 0 1 0 -18.2 0M335.7 237.3a7.7 7.7 0 1 0 15.4 0a7.7 7.7 0 1 0 -15.4 0M319.3 52.9a8.1 8.1 0 1 0 16.1 0a8.1 8.1 0 1 0 -16.1 0M82.7 93.1a8.0 8.0 0 1 0 16.0 0a8.0 8.0 0 1 0 -16.0 0M91.9 111.1a8.8 8.8 0 1 0 17.5 0a8.8 8.8 0 1 0 -17.5 0M339.4 152.3a8.3 8.3 0 1 0 16.6 0a8.3 8.3 0 1 0 -16.6 0M54.4 272.4a7.8 7.8 0 1 0 15.7 0a7.8 7.8 0 1 0 -15.7 0M282.8 41.9a9.6 9.6 0 1 0 19.3 0a9.6 9.6 0 1 0 -19.3 0M245.5 168.2a8.3 8.3 0 1 0 16.7 0a8.3 8.3 0 1 0 -16.7 0M142.2 304.6a8.8 8.8 0 1 0 17.6 0a8.8 8.8 0 1 0 -17.6 0M316.0 267.9a8.8 8.8 0 1 0 17.7 0a8.8 8.8 0 1 0 -17.7 0M189.1 181.1a9.0 9.0 0 1 0 18.0 0a9.0 9.0 0 1 0 -18.0 0M32.6 -4.6a8.3 8.3 0 1 0 16.5 0a8.3 8.3 0 1 0 -16.5 0M197.5 257.5a8.3 8.3 0 1 0 16.6 0a8.3 8.3 0 1 0 -16.6 0M27.4 83.5a9.3 9.3 0 1 0 18.6 0a9.3 9.3 0 1 0 -18.6 0M76.1 120.2a8.6 8.6 0 1 0 17.1 0a8.6 8.6 0 1 0 -17.1 0M89.6 206.8a8.8 8.8 0 1 0 17.6 0a8.8 8.8 0 1 0 -17.6 0M143.1 348.8a8.9 8.9 0 1 0 17.9 0a8.9 8.9 0 1 0 -17.9 0M88.9 245.7a10.1 10.1 0 1 0 20.3 0a10.1 10.1 0 1 0 -20.3 0M299.3 133.0a8.1 8.1 0 1 0 16.2 0a8.1 8.1 0 1 0 -16.2 0M245.3 283.4a7.9 7.9 0 1 0 15.8 0a7.9 7.9 0 1 0 -15.8 0M315.4 100.5a8.3 8.3 0 1 0 16.7 0a8.3 8.3 0 1 0 -16.7 0M300.0 203.5a8.3 8.3 0 1 0 16.6 0a8.3 8.3 0 1 0 -16.6 0M340.6 -3.1a8.9 8.9 0 1 0 17.7 0a8.9 8.9 0 1 0 -17.7 0M204.1 303.7a8.7 8.7 0 1 0 17.5 0a8.7 8.7 0 1 0 -17.5 0M42.6 238.3a9.2 9.2 0 1 0 18.3 0a9.2 9.2 0 1 0 -18.3 0M333.8 118.0a8.2 8.2 0 1 0 16.4 0a8.2 8.2 0 1 0 -16.4 0M207.9 197.7a7.8 7.8 0 1 0 15.6 0a7.8 7.8 0 1 0 -15.6 0M93.5 35.7a8.5 8.5 0 1 0 17.0 0a8.5 8.5 0 1 0 -17.0 0M50.1 95.2a8.2 8.2 0 1 0 16.5 0a8.2 8.2 0 1 0 -16.5 0M34.9 332.0a8.1 8.1 0 1 0 16.2 0a8.1 8.1 0 1 0 -16.2 0M229.1 -2.3a8.2 8.2 0 1 0 16.5 0a8.2 8.2 0 1 0 -16.5 0M129.9 181.5a8.2 8.2 0 1 0 16.5 0a8.2 8.2 0 1 0 -16.5 0M255.7 317.8a8.7 8.7 0 1 0 17.3 0a8.7 8.7 0 1 0 -17.3 0M221.0 331.0a8.3 8.3 0 1 0 16.6 0a8.3 8.3 0 1 0 -16.6 0M119.5 75.7a8.3 8.3 0 1 0 16.6 0a8.3 8.3 0 1 0 -16.6 0M119.7 279.5a8.1 8.1 0 1 0 16.2 0a8.1 8.1 0 1 0 -16.2 0M213.1 287.8a8.2 8.2 0 1 0 16.3 0a8.2 8.2 0 1 0 -16.3 0M2.7 21.8a8.0 8.0 0 1 0 16.0 0a8.0 8.0 0 1 0 -16.0 0M246.4 191.6a7.9 7.9 0 1 0 15.9 0a7.9 7.9 0 1 0 -15.9 0M158.5 17.4a9.5 9.5 0 1 0 18.9 0a9.5 9.5 0 1 0 -18.9 0M167.4 268.4a8.4 8.4 0 1 0 16.8 0a8.4 8.4 0 1 0 -16.8 0M113.3 342.5a9.8 9.8 0 1 0 19.7 0a9.8 9.8 0 1 0 -19.7 0M10.8 217.2a7.6 7.6 0 1 0 15.3 0a7.6 7.6 0 1 0 -15.3 0M164.6 243.5a9.3 9.3 0 1 0 18.6 0a9.3 9.3 0 1 0 -18.6 0M266.5 130.7a9.8 9.8 0 1 0 19.5 0a9.8 9.8 0 1 0 -19.5 0M57.5 192.3a7.7 7.7 0 1 0 15.5 0a7.7 7.7 0 1 0 -15.5 0M14.8 -4.3a8.5 8.5 0 1 0 17.1 0a8.5 8.5 0 1 0 -17.1 0M215.5 137.9a9.4 9.4 0 1 0 18.9 0a9.4 9.4 0 1 0 -18.9 0M293.6 218.6a8.3 8.3 0 1 0 16.5 0a8.3 8.3 0 1 0 -16.5 0M18.0 329.0a8.1 8.1 0 1 0 16.3 0a8.1 8.1 0 1 0 -16.3 0M185.1 137.2a7.7 7.7 0 1 0 15.4 0a7.7 7.7 0 1 0 -15.4 0M216.9 81.8a8.2 8.2 0 1 0 16.4 0a8.2 8.2 0 1 0 -16.4 0M300.8 -4.9a8.2 8.2 0 1 0 16.3 0a8.2 8.2 0 1 0 -16.3 0M341.3 84.6a8.4 8.4 0 1 0 16.8 0a8.4 8.4 0 1 0 -16.8 0M1.8 195.1a8.4 8.4 0 1 0 16.8 0a8.4 8.4 0 1 0 -16.8 0M40.6 66.6a7.6 7.6 0 1 0 15.2 0a7.6 7.6 0 1 0 -15.2 0M130.4 210.9a8.1 8.1 0 1 0 16.2 0a8.1 8.1 0 1 0 -16.2 0M191.2 112.3a8.1 8.1 0 1 0 16.1 0a8.1 8.1 0 1 0 -16.1 0M67.8 170.9a8.3 8.3 0 1 0 16.5 0a8.3 8.3 0 1 0 -16.5 0" fill="#001c00" opacity="0.96" filter="url(#eb1)"/>
<path d="M149.3 193.9a6.2 6.2 0 1 0 12.4 0a6.2 6.2 0 1 0 -12.4 0M154.6 174.7a5.9 5.9 0 1 0 11.7 0a5.9 5.9 0 1 0 -11.7 0M54.5 176.5a6.0 6.0 0 1 0 12.0 0a6.0 6.0 0 1 0 -12.0 0M271.9 27.2a5.1 5.1 0 1 0 10.2 0a5.1 5.1 0 1 0 -10.2 0M20.1 282.6a6.0 6.0 0 1 0 12.1 0a6.0 6.0 0 1 0 -12.1 0M3.6 344.1a6.2 6.2 0 1 0 12.5 0a6.2 6.2 0 1 0 -12.5 0M222.3 212.9a4.9 4.9 0 1 0 9.8 0a4.9 4.9 0 1 0 -9.8 0M-5.9 181.5a4.8 4.8 0 1 0 9.7 0a4.8 4.8 0 1 0 -9.7 0M56.8 80.2a4.8 4.8 0 1 0 9.7 0a4.8 4.8 0 1 0 -9.7 0M152.9 150.4a5.9 5.9 0 1 0 11.8 0a5.9 5.9 0 1 0 -11.8 0M172.8 222.0a5.8 5.8 0 1 0 11.5 0a5.8 5.8 0 1 0 -11.5 0M224.8 155.8a5.1 5.1 0 1 0 10.2 0a5.1 5.1 0 1 0 -10.2 0M344.4 348.7a6.1 6.1 0 1 0 12.2 0a6.1 6.1 0 1 0 -12.2 0M240.9 106.4a5.2 5.2 0 1 0 10.4 0a5.2 5.2 0 1 0 -10.4 0M90.2 19.5a6.2 6.2 0 1 0 12.5 0a6.2 6.2 0 1 0 -12.5 0M131.5 295.4a5.5 5.5 0 1 0 11.0 0a5.5 5.5 0 1 0 -11.0 0M330.6 294.5a5.1 5.1 0 1 0 10.1 0a5.1 5.1 0 1 0 -10.1 0M63.8 317.2a5.7 5.7 0 1 0 11.4 0a5.7 5.7 0 1 0 -11.4 0M337.7 135.8a4.9 4.9 0 1 0 9.9 0a4.9 4.9 0 1 0 -9.9 0M212.9 271.7a5.3 5.3 0 1 0 10.6 0a5.3 5.3 0 1 0 -10.6 0M19.7 112.2a6.2 6.2 0 1 0 12.5 0a6.2 6.2 0 1 0 -12.5 0M23.5 15.4a6.0 6.0 0 1 0 12.0 0a6.0 6.0 0 1 0 -12.0 0M57.6 255.1a5.0 5.0 0 1 0 10.0 0a5.0 5.0 0 1 0 -10.0 0M218.4 35.0a5.5 5.5 0 1 0 11.1 0a5.5 5.5 0 1 0 -11.1 0M272.9 103.0a6.4 6.4 0 1 0 12.9 0a6.4 6.4 0 1 0 -12.9 0M62.1 133.5a6.1 6.1 0 1 0 12.1 0a6.1 6.1 0 1 0 -12.1 0M107.0 99.7a4.7 4.7 0 1 0 9.4 0a4.7 4.7 0 1 0 -9.4 0M20.8 201.3a5.5 5.5 0 1 0 11.0 0a5.5 5.5 0 1 0 -11.0 0M203.1 125.5a5.3 5.3 0 1 0 10.7 0a5.3 5.3 0 1 0 -10.7 0M329.5 166.2a5.7 5.7 0 1 0 11.3 0a5.7 5.7 0 1 0 -11.3 0M297.1 59.1a5.1 5.1 0 1 0 10.1 0a5.1 5.1 0 1 0 -10.1 0M312.7 284.6a5.1 5.1 0 1 0 10.2 0a5.1 5.1 0 1 0 -10.2 0M205.1 144.3a4.9 4.9 0 1 0 9.8 0a4.9 4.9 0 1 0 -9.8 0M238.7 85.0a6.0 6.0 0 1 0 12.1 0a6.0 6.0 0 1 0 -12.1 0M200.6 99.3a5.4 5.4 0 1 0 10.8 0a5.4 5.4 0 1 0 -10.8 0M245.8 18.0a5.2 5.2 0 1 0 10.5 0a5.2 5.2 0 1 0 -10.5 0M187.4 297.4a5.7 5.7 0 1 0 11.5 0a5.7 5.7 0 1 0 -11.5 0M87.9 320.8a5.0 5.0 0 1 0 10.1 0a5.0 5.0 0 1 0 -10.1 0M-5.2 89.5a5.5 5.5 0 1 0 11.0 0a5.5 5.5 0 1 0 -11.0 0M10.9 57.3a5.2 5.2 0 1 0 10.5 0a5.2 5.2 0 1 0 -10.5 0M192.3 40.1a5.1 5.1 0 1 0 10.2 0a5.1 5.1 0 1 0 -10.2 0M305.3 343.1a6.1 6.1 0 1 0 12.2 0a6.1 6.1 0 1 0 -12.2 0M234.4 202.4a5.2 5.2 0 1 0 10.4 0a5.2 5.2 0 1 0 -10.4 0M0.7 -0.4a6.1 6.1 0 1 0 12.1 0a6.1 6.1 0 1 0 -12.1 0M238.7 335.6a5.2 5.2 0 1 0 10.3 0a5.2 5.2 0 1 0 -10.3 0M102.2 349.1a5.0 5.0 0 1 0 10.0 0a5.0 5.0 0 1 0 -10.0 0M181.6 255.7a6.4 6.4 0 1 0 12.8 0a6.4 6.4 0 1 0 -12.8 0M250.3 244.2a5.9 5.9 0 1 0 11.8 0a5.9 5.9 0 1 0 -11.8 0M314.7 118.3a5.5 5.5 0 1 0 11.1 0a5.5 5.5 0 1 0 -11.1 0M308.8 304.2a5.5 5.5 0 1 0 10.9 0a5.5 5.5 0 1 0 -10.9 0M270.8 300.7a5.4 5.4 0 1 0 10.7 0a5.4 5.4 0 1 0 -10.7 0M204.2 22.7a5.9 5.9 0 1 0 11.7 0a5.9 5.9 0 1 0 -11.7 0M342.3 306.2a5.8 5.8 0 1 0 11.6 0a5.8 5.8 0 1 0 -11.6 0M126.2 254.8a5.6 5.6 0 1 0 11.3 0a5.6 5.6 0 1 0 -11.3 0M256.1 4.4a6.0 6.0 0 1 0 11.9 0a6.0 6.0 0 1 0 -11.9 0M159.1 75.1a5.8 5.8 0 1 0 11.7 0a5.8 5.8 0 1 0 -11.7 0M79.7 -1.4a5.3 5.3 0 1 0 10.7 0a5.3 5.3 0 1 0 -10.7 0M230.9 65.5a5.2 5.2 0 1 0 10.4 0a5.2 5.2 0 1 0 -10.4 0M312.5 228.3a5.3 5.3 0 1 0 10.5 0a5.3 5.3 0 1 0 -10.5 0M164.9 292.4a5.7 5.7 0 1 0 11.4 0a5.7 5.7 0 1 0 -11.4 0M49.3 153.8a5.4 5.4 0 1 0 10.9 0a5.4 5.4 0 1 0 -10.9 0M164.3 106.0a5.7 5.7 0 1 0 11.5 0a5.7 5.7 0 1 0 -11.5 0M-0.1 303.9a5.0 5.0 0 1 0 9.9 0a5.0 5.0 0 1 0 -9.9 0M149.8 3.5a6.1 6.1 0 1 0 12.2 0a6.1 6.1 0 1 0 -12.2 0M73.1 43.9a4.9 4.9 0 1 0 9.9 0a4.9 4.9 0 1 0 -9.9 0M51.5 -2.4a5.8 5.8 0 1 0 11.6 0a5.8 5.8 0 1 0 -11.6 0M112.0 242.6a5.3 5.3 0 1 0 10.6 0a5.3 5.3 0 1 0 -10.6 0M320.9 250.6a5.3 5.3 0 1 0 10.7 0a5.3 5.3 0 1 0 -10.7 0M149.8 216.9a6.0 6.0 0 1 0 12.0 0a6.0 6.0 0 1 0 -12.0 0M122.0 196.7a6.0 6.0 0 1 0 12.1 0a6.0 6.0 0 1 0 -12.1 0M272.6 330.5a5.5 5.5 0 1 0 11.0 0a5.5 5.5 0 1 0 -11.0 0M278.6 223.1a6.2 6.2 0 1 0 12.4 0a6.2 6.2 0 1 0 -12.4 0M336.0 184.3a6.1 6.1 0 1 0 12.3 0a6.1 6.1 0 1 0 -12.3 0M113.4 22.8a5.4 5.4 0 1 0 10.7 0a5.4 5.4 0 1 0 -10.7 0M-0.7 282.2a5.2 5.2 0 1 0 10.5 0a5.2 5.2 0 1 0 -10.5 0M274.5 55.7a5.3 5.3 0 1 0 10.7 0a5.3 5.3 0 1 0 -10.7 0M326.0 25.2a5.3 5.3 0 1 0 10.7 0a5.3 5.3 0 1 0 -10.7 0M215.2 180.5a5.9 5.9 0 1 0 11.9 0a5.9 5.9 0 1 0 -11.9 0M289.2 314.0a5.4 5.4 0 1 0 10.8 0a5.4 5.4 0 1 0 -10.8 0M193.4 65.6a5.6 5.6 0 1 0 11.2 0a5.6 5.6 0 1 0 -11.2 0M274.8 194.0a5.6 5.6 0 1 0 11.1 0a5.6 5.6 0 1 0 -11.1 0M135.8 333.4a6.0 6.0 0 1 0 12.0 0a6.0 6.0 0 1 0 -12.0 0M85.2 162.3a5.1 5.1 0 1 0 10.3 0a5.1 5.1 0 1 0 -10.3 0M208.5 322.2a4.9 4.9 0 1 0 9.8 0a4.9 4.9 0 1 0 -9.8 0M70.4 238.2a5.3 5.3 0 1 0 10.7 0a5.3 5.3 0 1 0 -10.7 0M115.6 214.4a5.2 5.2 0 1 0 10.3 0a5.2 5.2 0 1 0 -10.3 0M249.2 37.6a5.4 5.4 0 1 0 10.8 0a5.4 5.4 0 1 0 -10.8 0M77.3 64.7a5.4 5.4 0 1 0 10.7 0a5.4 5.4 0 1 0 -10.7 0M144.1 127.8a5.1 5.1 0 1 0 10.3 0a5.1 5.1 0 1 0 -10.3 0M177.3 50.0a5.4 5.4 0 1 0 10.8 0a5.4 5.4 0 1 0 -10.8 0M316.6 71.5a6.3 6.3 0 1 0 12.5 0a6.3 6.3 0 1 0 -12.5 0M305.1 40.9a5.3 5.3 0 1 0 10.7 0a5.3 5.3 0 1 0 -10.7 0M284.5 144.6a6.0 6.0 0 1 0 12.0 0a6.0 6.0 0 1 0 -12.0 0M33.2 136.6a6.0 6.0 0 1 0 11.9 0a6.0 6.0 0 1 0 -11.9 0M-5.0 65.6a5.7 5.7 0 1 0 11.4 0a5.7 5.7 0 1 0 -11.4 0M172.9 195.9a5.3 5.3 0 1 0 10.6 0a5.3 5.3 0 1 0 -10.6 0M342.0 322.8a5.1 5.1 0 1 0 10.2 0a5.1 5.1 0 1 0 -10.2 0M172.0 146.0a5.4 5.4 0 1 0 10.8 0a5.4 5.4 0 1 0 -10.8 0M-8.1 243.1a6.2 6.2 0 1 0 12.4 0a6.2 6.2 0 1 0 -12.4 0M133.9 63.8a5.2 5.2 0 1 0 10.4 0a5.2 5.2 0 1 0 -10.4 0M169.8 -1.3a6.3 6.3 0 1 0 12.6 0a6.3 6.3 0 1 0 -12.6 0M274.2 245.3a6.3 6.3 0 1 0 12.6 0a6.3 6.3 0 1 0 -12.6 0M167.9 344.2a5.7 5.7 0 1 0 11.5 0a5.7 5.7 0 1 0 -11.5 0M266.5 284.0a5.6 5.6 0 1 0 11.2 0a5.6 5.6 0 1 0 -11.2 0M261.6 266.8a5.6 5.6 0 1 0 11.1 0a5.6 5.6 0 1 0 -11.1 0M237.6 265.0a6.5 6.5 0 1 0 13.0 0a6.5 6.5 0 1 0 -13.0 0M-4.5 212.9a5.7 5.7 0 1 0 11.4 0a5.7 5.7 0 1 0 -11.4 0M342.7 220.4a6.1 6.1 0 1 0 12.2 0a6.1 6.1 0 1 0 -12.2 0M4.3 325.5a5.0 5.0 0 1 0 10.1 0a5.0 5.0 0 1 0 -10.1 0M156.2 53.5a5.6 5.6 0 1 0 11.2 0a5.6 5.6 0 1 0 -11.2 0M127.3 314.0a5.8 5.8 0 1 0 11.6 0a5.8 5.8 0 1 0 -11.6 0M189.2 204.2a5.6 5.6 0 1 0 11.2 0a5.6 5.6 0 1 0 -11.2 0M256.9 62.3a5.0 5.0 0 1 0 9.9 0a5.0 5.0 0 1 0 -9.9 0M183.3 19.8a4.7 4.7 0 1 0 9.4 0a4.7 4.7 0 1 0 -9.4 0M121.7 164.6a4.9 4.9 0 1 0 9.8 0a4.9 4.9 0 1 0 -9.8 0M13.4 37.2a6.3 6.3 0 1 0 12.6 0a6.3 6.3 0 1 0 -12.6 0M139.3 86.0a6.0 6.0 0 1 0 11.9 0a6.0 6.0 0 1 0 -11.9 0M103.6 189.9a6.2 6.2 0 1 0 12.3 0a6.2 6.2 0 1 0 -12.3 0M316.4 145.7a5.1 5.1 0 1 0 10.3 0a5.1 5.1 0 1 0 -10.3 0M24.6 305.5a4.8 4.8 0 1 0 9.6 0a4.8 4.8 0 1 0 -9.6 0M30.1 246.5a6.0 6.0 0 1 0 11.9 0a6.0 6.0 0 1 0 -11.9 0M144.0 278.7a5.4 5.4 0 1 0 10.9 0a5.4 5.4 0 1 0 -10.9 0M101.0 136.7a6.0 6.0 0 1 0 12.0 0a6.0 6.0 0 1 0 -12.0 0M118.7 122.6a5.4 5.4 0 1 0 10.8 0a5.4 5.4 0 1 0 -10.8 0M302.4 93.2a4.7 4.7 0 1 0 9.5 0a4.7 4.7 0 1 0 -9.5 0M308.5 23.4a5.9 5.9 0 1 0 11.7 0a5.9 5.9 0 1 0 -11.7 0M240.1 318.5a5.4 5.4 0 1 0 10.8 0a5.4 5.4 0 1 0 -10.8 0M137.2 46.6a6.0 6.0 0 1 0 12.0 0a6.0 6.0 0 1 0 -12.0 0M28.4 224.1a5.8 5.8 0 1 0 11.7 0a5.8 5.8 0 1 0 -11.7 0M52.4 16.8a5.3 5.3 0 1 0 10.7 0a5.3 5.3 0 1 0 -10.7 0M27.3 59.2a4.9 4.9 0 1 0 9.9 0a4.9 4.9 0 1 0 -9.9 0M176.8 177.0a5.1 5.1 0 1 0 10.2 0a5.1 5.1 0 1 0 -10.2 0M-6.7 161.2a5.3 5.3 0 1 0 10.6 0a5.3 5.3 0 1 0 -10.6 0M45.2 49.5a5.1 5.1 0 1 0 10.1 0a5.1 5.1 0 1 0 -10.1 0M80.9 303.1a5.4 5.4 0 1 0 10.9 0a5.4 5.4 0 1 0 -10.9 0M216.5 346.8a5.2 5.2 0 1 0 10.3 0a5.2 5.2 0 1 0 -10.3 0M189.0 157.6a5.0 5.0 0 1 0 10.0 0a5.0 5.0 0 1 0 -10.0 0M341.4 277.7a5.3 5.3 0 1 0 10.6 0a5.3 5.3 0 1 0 -10.6 0M181.5 100.3a5.4 5.4 0 1 0 10.9 0a5.4 5.4 0 1 0 -10.9 0M128.9 230.1a5.5 5.5 0 1 0 11.0 0a5.5 5.5 0 1 0 -11.0 0M107.1 288.5a5.2 5.2 0 1 0 10.4 0a5.2 5.2 0 1 0 -10.4 0M38.3 28.0a5.9 5.9 0 1 0 11.9 0a5.9 5.9 0 1 0 -11.9 0M288.0 204.8a4.9 4.9 0 1 0 9.8 0a4.9 4.9 0 1 0 -9.8 0M132.5 20.0a6.1 6.1 0 1 0 12.3 0a6.1 6.1 0 1 0 -12.3 0M-4.7 111.9a5.6 5.6 0 1 0 11.2 0a5.6 5.6 0 1 0 -11.2 0M311.3 189.3a5.1 5.1 0 1 0 10.2 0a5.1 5.1 0 1 0 -10.2 0M212.1 64.9a4.7 4.7 0 1 0 9.5 0a4.7 4.7 0 1 0 -9.5 0M75.2 199.8a5.7 5.7 0 1 0 11.5 0a5.7 5.7 0 1 0 -11.5 0M106.4 324.3a5.2 5.2 0 1 0 10.4 0a5.2 5.2 0 1 0 -10.4 0M37.5 315.6a5.3 5.3 0 1 0 10.6 0a5.3 5.3 0 1 0 -10.6 0M51.4 345.5a6.1 6.1 0 1 0 12.3 0a6.1 6.1 0 1 0 -12.3 0M222.9 104.1a5.7 5.7 0 1 0 11.5 0a5.7 5.7 0 1 0 -11.5 0M251.4 129.1a5.9 5.9 0 1 0 11.8 0a5.9 5.9 0 1 0 -11.8 0M275.0 -0.5a4.9 4.9 0 1 0 9.8 0a4.9 4.9 0 1 0 -9.8 0M217.9 7.0a5.6 5.6 0 1 0 11.3 0a5.6 5.6 0 1 0 -11.3 0M189.2 315.3a5.6 5.6 0 1 0 11.1 0a5.6 5.6 0 1 0 -11.1 0M236.7 181.4a4.9 4.9 0 1 0 9.8 0a4.9 4.9 0 1 0 -9.8 0M225.1 302.0a5.5 5.5 0 1 0 11.0 0a5.5 5.5 0 1 0 -11.0 0M274.7 72.8a5.9 5.9 0 1 0 11.8 0a5.9 5.9 0 1 0 -11.8 0M328.8 -6.1a4.9 4.9 0 1 0 9.9 0a4.9 4.9 0 1 0 -9.9 0M287.6 119.0a5.5 5.5 0 1 0 10.9 0a5.5 5.5 0 1 0 -10.9 0M61.7 219.7a5.2 5.2 0 1 0 10.4 0a5.2 5.2 0 1 0 -10.4 0M297.9 247.7a5.2 5.2 0 1 0 10.5 0a5.2 5.2 0 1 0 -10.5 0M16.2 73.1a5.4 5.4 0 1 0 10.9 0a5.4 5.4 0 1 0 -10.9 0M79.3 280.0a5.0 5.0 0 1 0 10.0 0a5.0 5.0 0 1 0 -10.0 0M89.7 263.6a5.4 5.4 0 1 0 10.8 0a5.4 5.4 0 1 0 -10.8 0M152.4 261.5a5.2 5.2 0 1 0 10.4 0a5.2 5.2 0 1 0 -10.4 0M72.4 149.9a5.8 5.8 0 1 0 11.6 0a5.8 5.8 0 1 0 -11.6 0M10.0 139.2a5.4 5.4 0 1 0 10.8 0a5.4 5.4 0 1 0 -10.8 0M305.4 158.5a5.4 5.4 0 1 0 10.8 0a5.4 5.4 0 1 0 -10.8 0M13.6 239.1a5.6 5.6 0 1 0 11.2 0a5.6 5.6 0 1 0 -11.2 0M263.2 178.6a5.0 5.0 0 1 0 9.9 0a5.0 5.0 0 1 0 -9.9 0M42.1 206.1a4.7 4.7 0 1 0 9.4 0a4.7 4.7 0 1 0 -9.4 0M68.7 98.6a5.6 5.6 0 1 0 11.2 0a5.6 5.6 0 1 0 -11.2 0M336.6 99.4a5.6 5.6 0 1 0 11.3 0a5.6 5.6 0 1 0 -11.3 0M88.2 50.8a5.7 5.7 0 1 0 11.3 0a5.7 5.7 0 1 0 -11.3 0M75.1 26.3a5.2 5.2 0 1 0 10.4 0a5.2 5.2 0 1 0 -10.4 0M106.1 84.8a4.7 4.7 0 1 0 9.4 0a4.7 4.7 0 1 0 -9.4 0M134.7 142.6a5.3 5.3 0 1 0 10.6 0a5.3 5.3 0 1 0 -10.6 0M312.1 7.0a5.1 5.1 0 1 0 10.3 0a5.1 5.1 0 1 0 -10.3 0M337.0 47.0a4.9 4.9 0 1 0 9.8 0a4.9 4.9 0 1 0 -9.8 0M179.4 78.5a5.0 5.0 0 1 0 9.9 0a5.0 5.0 0 1 0 -9.9 0M103.8 57.3a5.3 5.3 0 1 0 10.6 0a5.3 5.3 0 1 0 -10.6 0M106.1 264.8a6.1 6.1 0 1 0 12.1 0a6.1 6.1 0 1 0 -12.1 0M261.6 342.6a5.3 5.3 0 1 0 10.6 0a5.3 5.3 0 1 0 -10.6 0M342.6 66.8a6.1 6.1 0 1 0 12.3 0a6.1 6.1 0 1 0 -12.3 0M256.5 104.2a5.9 5.9 0 1 0 11.8 0a5.9 5.9 0 1 0 -11.8 0M26.7 344.4a5.3 5.3 0 1 0 10.5 0a5.3 5.3 0 1 0 -10.5 0M342.4 256.8a5.2 5.2 0 1 0 10.5 0a5.2 5.2 0 1 0 -10.5 0M89.4 222.6a5.2 5.2 0 1 0 10.3 0a5.2 5.2 0 1 0 -10.3 0M187.0 274.8a5.4 5.4 0 1 0 10.8 0a5.4 5.4 0 1 0 -10.8 0M297.4 291.2a5.1 5.1 0 1 0 10.2 0a5.1 5.1 0 1 0 -10.2 0M323.0 210.6a5.5 5.5 0 1 0 11.1 0a5.5 5.5 0 1 0 -11.1 0M253.4 208.8a5.2 5.2 0 1 0 10.4 0a5.2 5.2 0 1 0 -10.4 0M235.7 232.5a5.2 5.2 0 1 0 10.5 0a5.2 5.2 0 1 0 -10.5 0M218.6 242.7a6.5 6.5 0 1 0 13.1 0a6.5 6.5 0 1 0 -13.1 0M11.6 157.8a5.4 5.4 0 1 0 10.8 0a5.4 5.4 0 1 0 -10.8 0M325.5 312.1a5.0 5.0 0 1 0 10.0 0a5.0 5.0 0 1 0 -10.0 0M42.0 284.8a6.0 6.0 0 1 0 12.1 0a6.0 6.0 0 1 0 -12.1 0M166.1 316.0a5.5 5.5 0 1 0 11.0 0a5.5 5.5 0 1 0 -11.0 0M115.5 146.2a5.2 5.2 0 1 0 10.5 0a5.2 5.2 0 1 0 -10.5 0M101.3 166.5a5.0 5.0 0 1 0 10.0 0a5.0 5.0 0 1 0 -10.0 0M280.1 274.2a5.7 5.7 0 1 0 11.5 0a5.7 5.7 0 1 0 -11.5 0M9.3 266.3a5.1 5.1 0 1 0 10.1 0a5.1 5.1 0 1 0 -10.1 0M265.7 151.1a6.0 6.0 0 1 0 12.0 0a6.0 6.0 0 1 0 -12.0 0M46.6 119.3a5.9 5.9 0 1 0 11.8 0a5.9 5.9 0 1 0 -11.8 0M244.0 148.5a5.9 5.9 0 1 0 11.9 0a5.9 5.9 0 1 0 -11.9 0M187.0 341.4a6.1 6.1 0 1 0 12.2 0a6.1 6.1 0 1 0 -12.2 0M289.9 6.8a5.9 5.9 0 1 0 11.7 0a5.9 5.9 0 1 0 -11.7 0M233.4 123.1a5.9 5.9 0 1 0 11.8 0a5.9 5.9 0 1 0 -11.8 0M265.4 86.2a4.7 4.7 0 1 0 9.5 0a4.7 4.7 0 1 0 -9.5 0M138.4 167.8a5.1 5.1 0 1 0 10.2 0a5.1 5.1 0 1 0 -10.2 0M17.6 178.5a6.5 6.5 0 1 0 13.0 0a6.5 6.5 0 1 0 -13.0 0M-11.6 17.2a6.2 6.2 0 1 0 12.3 0a6.2 6.2 0 1 0 -12.3 0M123.4 95.3a5.6 5.6 0 1 0 11.3 0a5.6 5.6 0 1 0 -11.3 0M325.2 342.3a5.2 5.2 0 1 0 10.3 0a5.2 5.2 0 1 0 -10.3 0M287.8 172.9a5.2 5.2 0 1 0 10.5 0a5.2 5.2 0 1 0 -10.5 0M313.1 325.9a5.7 5.7 0 1 0 11.4 0a5.7 5.7 0 1 0 -11.4 0M164.4 130.6a5.6 5.6 0 1 0 11.2 0a5.6 5.6 0 1 0 -11.2 0M98.9 305.2a6.1 6.1 0 1 0 12.2 0a6.1 6.1 0 1 0 -12.2 0M-7.9 46.9a5.6 5.6 0 1 0 11.3 0a5.6 5.6 0 1 0 -11.3 0M56.6 34.5a5.1 5.1 0 1 0 10.3 0a5.1 5.1 0 1 0 -10.3 0M252.1 302.1a5.6 5.6 0 1 0 11.2 0a5.6 5.6 0 1 0 -11.2 0M111.0 -5.3a4.9 4.9 0 1 0 9.7 0a4.9 4.9 0 1 0 -9.7 0M138.2 107.7a5.6 5.6 0 1 0 11.3 0a5.6 5.6 0 1 0 -11.3 0M232.6 47.5a6.0 6.0 0 1 0 11.9 0a6.0 6.0 0 1 0 -11.9 0M36.8 189.1a6.2 6.2 0 1 0 12.4 0a6.2 6.2 0 1 0 -12.4 0M123.2 35.5a4.9 4.9 0 1 0 9.7 0a4.9 4.9 0 1 0 -9.7 0M150.1 237.2a5.6 5.6 0 1 0 11.1 0a5.6 5.6 0 1 0 -11.1 0M201.6 285.4a4.7 4.7 0 1 0 9.4 0a4.7 4.7 0 1 0 -9.4 0M77.1 254.1a5.2 5.2 0 1 0 10.3 0a5.2 5.2 0 1 0 -10.3 0M84.2 181.2a5.8 5.8 0 1 0 11.7 0a5.8 5.8 0 1 0 -11.7 0M-9.4 136.1a5.3 5.3 0 1 0 10.7 0a5.3 5.3 0 1 0 -10.7 0M287.8 346.7a6.2 6.2 0 1 0 12.4 0a6.2 6.2 0 1 0 -12.4 0M339.5 202.5a4.9 4.9 0 1 0 9.9 0a4.9 4.9 0 1 0 -9.9 0M207.9 228.7a5.2 5.2 0 1 0 10.5 0a5.2 5.2 0 1 0 -10.5 0M157.7 34.9a5.7 5.7 0 1 0 11.3 0a5.7 5.7 0 1 0 -11.3 0M38.2 102.6a5.3 5.3 0 1 0 10.6 0a5.3 5.3 0 1 0 -10.6 0M232.1 282.0a5.7 5.7 0 1 0 11.3 0a5.7 5.7 0 1 0 -11.3 0M38.9 263.0a5.4 5.4 0 1 0 10.8 0a5.4 5.4 0 1 0 -10.8 0M185.1 235.7a5.5 5.5 0 1 0 10.9 0a5.5 5.5 0 1 0 -10.9 0M61.8 62.0a5.0 5.0 0 1 0 9.9 0a5.0 5.0 0 1 0 -9.9 0M73.0 341.6a5.7 5.7 0 1 0 11.5 0a5.7 5.7 0 1 0 -11.5 0M-7.7 261.9a4.9 4.9 0 1 0 9.7 0a4.9 4.9 0 1 0 -9.7 0M38.5 168.0a5.3 5.3 0 1 0 10.7 0a5.3 5.3 0 1 0 -10.7 0M128.2 -5.7a4.9 4.9 0 1 0 9.8 0a4.9 4.9 0 1 0 -9.8 0M150.2 324.0a5.5 5.5 0 1 0 11.0 0a5.5 5.5 0 1 0 -11.0 0M10.7 93.8a5.3 5.3 0 1 0 10.6 0a5.3 5.3 0 1 0 -10.6 0M204.2 79.1a5.1 5.1 0 1 0 10.1 0a5.1 5.1 0 1 0 -10.1 0M344.7 19.3a4.9 4.9 0 1 0 9.8 0a4.9 4.9 0 1 0 -9.8 0M299.1 269.8a5.9 5.9 0 1 0 11.7 0a5.9 5.9 0 1 0 -11.7 0M207.3 158.3a4.9 4.9 0 1 0 9.9 0a4.9 4.9 0 1 0 -9.9 0M192.3 3.9a5.6 5.6 0 1 0 11.2 0a5.6 5.6 0 1 0 -11.2 0M294.0 80.1a5.9 5.9 0 1 0 11.8 0a5.9 5.9 0 1 0 -11.8 0M64.3 299.8a5.4 5.4 0 1 0 10.8 0a5.4 5.4 0 1 0 -10.8 0M259.3 228.5a5.5 5.5 0 1 0 11.0 0a5.5 5.5 0 1 0 -11.0 0M179.8 123.4a5.6 5.6 0 1 0 11.3 0a5.6 5.6 0 1 0 -11.3 0M337.8 237.0a4.8 4.8 0 1 0 9.6 0a4.8 4.8 0 1 0 -9.6 0M322.6 52.1a5.0 5.0 0 1 0 10.0 0a5.0 5.0 0 1 0 -10.0 0M86.1 93.2a4.9 4.9 0 1 0 9.9 0a4.9 4.9 0 1 0 -9.9 0M94.3 112.1a5.4 5.4 0 1 0 10.9 0a5.4 5.4 0 1 0 -10.9 0M342.2 152.1a5.1 5.1 0 1 0 10.3 0a5.1 5.1 0 1 0 -10.3 0M58.1 271.8a4.9 4.9 0 1 0 9.7 0a4.9 4.9 0 1 0 -9.7 0M287.0 42.2a6.0 6.0 0 1 0 12.0 0a6.0 6.0 0 1 0 -12.0 0M248.5 169.2a5.2 5.2 0 1 0 10.3 0a5.2 5.2 0 1 0 -10.3 0M144.6 305.5a5.5 5.5 0 1 0 10.9 0a5.5 5.5 0 1 0 -10.9 0M319.2 268.1a5.5 5.5 0 1 0 11.0 0a5.5 5.5 0 1 0 -11.0 0M192.3 180.3a5.6 5.6 0 1 0 11.2 0a5.6 5.6 0 1 0 -11.2 0M35.7 -4.3a5.1 5.1 0 1 0 10.3 0a5.1 5.1 0 1 0 -10.3 0M200.6 257.7a5.2 5.2 0 1 0 10.3 0a5.2 5.2 0 1 0 -10.3 0M30.3 83.8a5.8 5.8 0 1 0 11.5 0a5.8 5.8 0 1 0 -11.5 0M78.5 119.3a5.3 5.3 0 1 0 10.6 0a5.3 5.3 0 1 0 -10.6 0M92.9 206.1a5.5 5.5 0 1 0 10.9 0a5.5 5.5 0 1 0 -10.9 0M145.6 348.5a5.5 5.5 0 1 0 11.1 0a5.5 5.5 0 1 0 -11.1 0M92.9 245.7a6.3 6.3 0 1 0 12.6 0a6.3 6.3 0 1 0 -12.6 0M302.3 133.2a5.0 5.0 0 1 0 10.1 0a5.0 5.0 0 1 0 -10.1 0M247.8 282.8a4.9 4.9 0 1 0 9.8 0a4.9 4.9 0 1 0 -9.8 0M319.3 99.7a5.2 5.2 0 1 0 10.3 0a5.2 5.2 0 1 0 -10.3 0M303.9 203.7a5.2 5.2 0 1 0 10.3 0a5.2 5.2 0 1 0 -10.3 0M343.6 -3.8a5.5 5.5 0 1 0 11.0 0a5.5 5.5 0 1 0 -11.0 0M207.4 304.3a5.4 5.4 0 1 0 10.8 0a5.4 5.4 0 1 0 -10.8 0M45.7 238.0a5.7 5.7 0 1 0 11.4 0a5.7 5.7 0 1 0 -11.4 0M337.8 118.9a5.1 5.1 0 1 0 10.2 0a5.1 5.1 0 1 0 -10.2 0M210.1 198.7a4.8 4.8 0 1 0 9.7 0a4.8 4.8 0 1 0 -9.7 0M97.0 35.3a5.3 5.3 0 1 0 10.5 0a5.3 5.3 0 1 0 -10.5 0M52.5 95.5a5.1 5.1 0 1 0 10.2 0a5.1 5.1 0 1 0 -10.2 0M38.8 331.8a5.0 5.0 0 1 0 10.0 0a5.0 5.0 0 1 0 -10.0 0M233.0 -3.2a5.1 5.1 0 1 0 10.2 0a5.1 5.1 0 1 0 -10.2 0M133.7 182.3a5.1 5.1 0 1 0 10.2 0a5.1 5.1 0 1 0 -10.2 0M259.1 317.2a5.4 5.4 0 1 0 10.7 0a5.4 5.4 0 1 0 -10.7 0M224.7 330.5a5.1 5.1 0 1 0 10.3 0a5.1 5.1 0 1 0 -10.3 0M122.5 75.8a5.1 5.1 0 1 0 10.3 0a5.1 5.1 0 1 0 -10.3 0M122.2 280.0a5.0 5.0 0 1 0 10.0 0a5.0 5.0 0 1 0 -10.0 0M215.5 287.6a5.1 5.1 0 1 0 10.1 0a5.1 5.1 0 1 0 -10.1 0M6.3 22.0a5.0 5.0 0 1 0 9.9 0a5.0 5.0 0 1 0 -9.9 0M250.4 192.5a4.9 4.9 0 1 0 9.8 0a4.9 4.9 0 1 0 -9.8 0M161.2 17.8a5.9 5.9 0 1 0 11.7 0a5.9 5.9 0 1 0 -11.7 0M169.9 267.6a5.2 5.2 0 1 0 10.4 0a5.2 5.2 0 1 0 -10.4 0M117.3 343.4a6.1 6.1 0 1 0 12.2 0a6.1 6.1 0 1 0 -12.2 0M13.8 216.6a4.7 4.7 0 1 0 9.5 0a4.7 4.7 0 1 0 -9.5 0M167.9 242.5a5.8 5.8 0 1 0 11.5 0a5.8 5.8 0 1 0 -11.5 0M269.7 131.0a6.0 6.0 0 1 0 12.1 0a6.0 6.0 0 1 0 -12.1 0M59.7 192.4a4.8 4.8 0 1 0 9.6 0a4.8 4.8 0 1 0 -9.6 0M17.9 -3.6a5.3 5.3 0 1 0 10.6 0a5.3 5.3 0 1 0 -10.6 0M218.7 137.9a5.8 5.8 0 1 0 11.7 0a5.8 5.8 0 1 0 -11.7 0M296.5 218.8a5.1 5.1 0 1 0 10.2 0a5.1 5.1 0 1 0 -10.2 0M20.9 329.7a5.0 5.0 0 1 0 10.1 0a5.0 5.0 0 1 0 -10.1 0M187.0 137.5a4.8 4.8 0 1 0 9.5 0a4.8 4.8 0 1 0 -9.5 0M220.8 81.3a5.1 5.1 0 1 0 10.2 0a5.1 5.1 0 1 0 -10.2 0M303.5 -4.9a5.1 5.1 0 1 0 10.1 0a5.1 5.1 0 1 0 -10.1 0M345.2 85.5a5.2 5.2 0 1 0 10.4 0a5.2 5.2 0 1 0 -10.4 0M5.3 195.1a5.2 5.2 0 1 0 10.4 0a5.2 5.2 0 1 0 -10.4 0M43.9 67.2a4.7 4.7 0 1 0 9.4 0a4.7 4.7 0 1 0 -9.4 0M133.3 211.7a5.0 5.0 0 1 0 10.1 0a5.0 5.0 0 1 0 -10.1 0M194.0 112.2a5.0 5.0 0 1 0 10.0 0a5.0 5.0 0 1 0 -10.0 0M70.1 171.0a5.1 5.1 0 1 0 10.2 0a5.1 5.1 0 1 0 -10.2 0" fill="#001200" opacity="0.5" filter="url(#eb2)"/>
<path d="M154.7 188.7a1.1 1.1 0 1 0 2.1 0a1.1 1.1 0 1 0 -2.1 0M161.0 191.2a0.8 0.8 0 1 0 1.5 0a0.8 0.8 0 1 0 -1.5 0M155.2 186.9a1.1 1.1 0 1 0 2.2 0a1.1 1.1 0 1 0 -2.2 0M153.3 176.7a1.3 1.3 0 1 0 2.7 0a1.3 1.3 0 1 0 -2.7 0M55.7 174.6a0.9 0.9 0 1 0 1.8 0a0.9 0.9 0 1 0 -1.8 0M55.8 177.7a0.7 0.7 0 1 0 1.4 0a0.7 0.7 0 1 0 -1.4 0M52.5 176.6a0.7 0.7 0 1 0 1.4 0a0.7 0.7 0 1 0 -1.4 0M274.8 32.2a0.7 0.7 0 1 0 1.5 0a0.7 0.7 0 1 0 -1.5 0M27.8 277.6a1.4 1.4 0 1 0 2.7 0a1.4 1.4 0 1 0 -2.7 0M2.0 346.8a1.3 1.3 0 1 0 2.5 0a1.3 1.3 0 1 0 -2.5 0M227.3 216.9a0.8 0.8 0 1 0 1.6 0a0.8 0.8 0 1 0 -1.6 0M63.6 80.1a1.4 1.4 0 1 0 2.9 0a1.4 1.4 0 1 0 -2.9 0M159.7 147.6a1.3 1.3 0 1 0 2.6 0a1.3 1.3 0 1 0 -2.6 0M159.6 144.6a0.9 0.9 0 1 0 1.8 0a0.9 0.9 0 1 0 -1.8 0M160.1 148.7a1.4 1.4 0 1 0 2.8 0a1.4 1.4 0 1 0 -2.8 0M162.9 152.6a0.9 0.9 0 1 0 1.9 0a0.9 0.9 0 1 0 -1.9 0M176.0 223.4a0.9 0.9 0 1 0 1.8 0a0.9 0.9 0 1 0 -1.8 0M227.8 158.4a0.8 0.8 0 1 0 1.5 0a0.8 0.8 0 1 0 -1.5 0M345.9 348.1a0.9 0.9 0 1 0 1.7 0a0.9 0.9 0 1 0 -1.7 0M347.3 349.5a0.8 0.8 0 1 0 1.6 0a0.8 0.8 0 1 0 -1.6 0M347.3 348.8a1.0 1.0 0 1 0 2.0 0a1.0 1.0 0 1 0 -2.0 0M92.7 22.2a1.2 1.2 0 1 0 2.3 0a1.2 1.2 0 1 0 -2.3 0M129.9 293.7a1.3 1.3 0 1 0 2.5 0a1.3 1.3 0 1 0 -2.5 0M134.3 295.1a1.1 1.1 0 1 0 2.3 0a1.1 1.1 0 1 0 -2.3 0M134.4 296.4a1.1 1.1 0 1 0 2.1 0a1.1 1.1 0 1 0 -2.1 0M334.9 296.1a1.0 1.0 0 1 0 2.0 0a1.0 1.0 0 1 0 -2.0 0M332.1 299.2a1.1 1.1 0 1 0 2.1 0a1.1 1.1 0 1 0 -2.1 0M334.0 300.5a0.8 0.8 0 1 0 1.5 0a0.8 0.8 0 1 0 -1.5 0M338.6 134.3a0.8 0.8 0 1 0 1.7 0a0.8 0.8 0 1 0 -1.7 0M340.7 138.7a1.0 1.0 0 1 0 1.9 0a1.0 1.0 0 1 0 -1.9 0M217.9 273.6a0.8 0.8 0 1 0 1.6 0a0.8 0.8 0 1 0 -1.6 0M26.7 117.8a0.9 0.9 0 1 0 1.9 0a0.9 0.9 0 1 0 -1.9 0M28.6 115.4a1.1 1.1 0 1 0 2.2 0a1.1 1.1 0 1 0 -2.2 0M27.9 15.2a1.1 1.1 0 1 0 2.3 0a1.1 1.1 0 1 0 -2.3 0M26.9 15.6a1.1 1.1 0 1 0 2.2 0a1.1 1.1 0 1 0 -2.2 0M57.0 257.7a1.1 1.1 0 1 0 2.3 0a1.1 1.1 0 1 0 -2.3 0M221.7 37.9a0.7 0.7 0 1 0 1.5 0a0.7 0.7 0 1 0 -1.5 0M224.0 39.4a1.4 1.4 0 1 0 2.8 0a1.4 1.4 0 1 0 -2.8 0M277.5 106.5a1.0 1.0 0 1 0 2.0 0a1.0 1.0 0 1 0 -2.0 0M279.7 104.8a1.4 1.4 0 1 0 2.8 0a1.4 1.4 0 1 0 -2.8 0M69.7 132.5a1.0 1.0 0 1 0 2.0 0a1.0 1.0 0 1 0 -2.0 0M70.7 129.5a1.0 1.0 0 1 0 2.1 0a1.0 1.0 0 1 0 -2.1 0M111.0 99.7a1.4 1.4 0 1 0 2.7 0a1.4 1.4 0 1 0 -2.7 0M206.3 124.2a0.9 0.9 0 1 0 1.8 0a0.9 0.9 0 1 0 -1.8 0M328.3 165.6a1.3 1.3 0 1 0 2.5 0a1.3 1.3 0 1 0 -2.5 0M335.4 168.3a0.7 0.7 0 1 0 1.5 0a0.7 0.7 0 1 0 -1.5 0M329.7 166.4a1.0 1.0 0 1 0 2.0 0a1.0 1.0 0 1 0 -2.0 0M298.8 57.6a0.8 0.8 0 1 0 1.5 0a0.8 0.8 0 1 0 -1.5 0M299.8 59.4a0.8 0.8 0 1 0 1.6 0a0.8 0.8 0 1 0 -1.6 0M299.1 58.4a1.0 1.0 0 1 0 2.0 0a1.0 1.0 0 1 0 -2.0 0M300.2 58.4a1.1 1.1 0 1 0 2.3 0a1.1 1.1 0 1 0 -2.3 0M314.4 288.4a1.0 1.0 0 1 0 2.0 0a1.0 1.0 0 1 0 -2.0 0M315.9 283.3a1.0 1.0 0 1 0 2.1 0a1.0 1.0 0 1 0 -2.1 0M204.6 145.9a1.1 1.1 0 1 0 2.3 0a1.1 1.1 0 1 0 -2.3 0M207.5 146.7a1.1 1.1 0 1 0 2.3 0a1.1 1.1 0 1 0 -2.3 0M240.1 85.6a0.9 0.9 0 1 0 1.8 0a0.9 0.9 0 1 0 -1.8 0M203.5 94.8a1.1 1.1 0 1 0 2.2 0a1.1 1.1 0 1 0 -2.2 0M246.9 15.2a1.3 1.3 0 1 0 2.6 0a1.3 1.3 0 1 0 -2.6 0M248.0 19.4a1.2 1.2 0 1 0 2.4 0a1.2 1.2 0 1 0 -2.4 0M194.0 299.2a1.4 1.4 0 1 0 2.8 0a1.4 1.4 0 1 0 -2.8 0M93.6 319.8a1.3 1.3 0 1 0 2.6 0a1.3 1.3 0 1 0 -2.6 0M93.9 316.3a1.1 1.1 0 1 0 2.2 0a1.1 1.1 0 1 0 -2.2 0M0.3 93.1a1.2 1.2 0 1 0 2.3 0a1.2 1.2 0 1 0 -2.3 0M-1.0 90.5a1.4 1.4 0 1 0 2.9 0a1.4 1.4 0 1 0 -2.9 0M199.9 39.1a1.0 1.0 0 1 0 2.0 0a1.0 1.0 0 1 0 -2.0 0M313.5 340.7a1.0 1.0 0 1 0 1.9 0a1.0 1.0 0 1 0 -1.9 0M313.3 337.3a1.0 1.0 0 1 0 1.9 0a1.0 1.0 0 1 0 -1.9 0M305.8 341.4a1.3 1.3 0 1 0 2.6 0a1.3 1.3 0 1 0 -2.6 0M235.3 200.3a1.3 1.3 0 1 0 2.6 0a1.3 1.3 0 1 0 -2.6 0M8.8 -4.2a1.0 1.0 0 1 0 2.0 0a1.0 1.0 0 1 0 -2.0 0M246.3 337.4a0.7 0.7 0 1 0 1.4 0a0.7 0.7 0 1 0 -1.4 0M244.3 336.8a0.7 0.7 0 1 0 1.5 0a0.7 0.7 0 1 0 -1.5 0M246.1 336.6a1.0 1.0 0 1 0 2.0 0a1.0 1.0 0 1 0 -2.0 0M244.6 334.1a1.5 1.5 0 1 0 2.9 0a1.5 1.5 0 1 0 -2.9 0M107.1 348.6a1.0 1.0 0 1 0 2.0 0a1.0 1.0 0 1 0 -2.0 0M108.2 347.0a1.0 1.0 0 1 0 2.0 0a1.0 1.0 0 1 0 -2.0 0M105.1 347.9a1.3 1.3 0 1 0 2.7 0a1.3 1.3 0 1 0 -2.7 0M185.8 254.5a1.0 1.0 0 1 0 2.0 0a1.0 1.0 0 1 0 -2.0 0M185.9 255.9a0.8 0.8 0 1 0 1.6 0a0.8 0.8 0 1 0 -1.6 0M185.4 259.3a0.9 0.9 0 1 0 1.7 0a0.9 0.9 0 1 0 -1.7 0M186.0 254.1a1.1 1.1 0 1 0 2.1 0a1.1 1.1 0 1 0 -2.1 0M257.7 244.7a1.4 1.4 0 1 0 2.9 0a1.4 1.4 0 1 0 -2.9 0M253.4 248.3a1.0 1.0 0 1 0 2.0 0a1.0 1.0 0 1 0 -2.0 0M315.9 120.9a1.4 1.4 0 1 0 2.9 0a1.4 1.4 0 1 0 -2.9 0M317.4 123.6a1.3 1.3 0 1 0 2.7 0a1.3 1.3 0 1 0 -2.7 0M319.0 301.4a1.3 1.3 0 1 0 2.5 0a1.3 1.3 0 1 0 -2.5 0M320.0 303.0a0.8 0.8 0 1 0 1.6 0a0.8 0.8 0 1 0 -1.6 0M269.5 301.0a1.4 1.4 0 1 0 2.9 0a1.4 1.4 0 1 0 -2.9 0M271.0 304.4a1.4 1.4 0 1 0 2.7 0a1.4 1.4 0 1 0 -2.7 0M349.5 308.3a1.2 1.2 0 1 0 2.5 0a1.2 1.2 0 1 0 -2.5 0M348.9 309.4a1.2 1.2 0 1 0 2.3 0a1.2 1.2 0 1 0 -2.3 0M349.0 310.3a1.3 1.3 0 1 0 2.6 0a1.3 1.3 0 1 0 -2.6 0M350.0 303.6a1.5 1.5 0 1 0 2.9 0a1.5 1.5 0 1 0 -2.9 0M134.3 260.5a0.8 0.8 0 1 0 1.6 0a0.8 0.8 0 1 0 -1.6 0M81.0 0.6a1.2 1.2 0 1 0 2.5 0a1.2 1.2 0 1 0 -2.5 0M84.2 -0.5a1.0 1.0 0 1 0 2.1 0a1.0 1.0 0 1 0 -2.1 0M231.8 60.9a1.4 1.4 0 1 0 2.8 0a1.4 1.4 0 1 0 -2.8 0M234.6 64.0a1.5 1.5 0 1 0 3.0 0a1.5 1.5 0 1 0 -3.0 0M171.7 291.3a1.5 1.5 0 1 0 2.9 0a1.5 1.5 0 1 0 -2.9 0M170.5 289.1a1.3 1.3 0 1 0 2.5 0a1.3 1.3 0 1 0 -2.5 0M48.4 154.3a0.7 0.7 0 1 0 1.5 0a0.7 0.7 0 1 0 -1.5 0M53.1 156.2a1.2 1.2 0 1 0 2.4 0a1.2 1.2 0 1 0 -2.4 0M165.4 104.4a1.1 1.1 0 1 0 2.3 0a1.1 1.1 0 1 0 -2.3 0M169.8 102.4a1.2 1.2 0 1 0 2.3 0a1.2 1.2 0 1 0 -2.3 0M170.5 102.9a1.3 1.3 0 1 0 2.7 0a1.3 1.3 0 1 0 -2.7 0M168.8 104.2a1.0 1.0 0 1 0 2.1 0a1.0 1.0 0 1 0 -2.1 0M4.4 303.2a1.0 1.0 0 1 0 2.0 0a1.0 1.0 0 1 0 -2.0 0M1.0 300.0a1.5 1.5 0 1 0 2.9 0a1.5 1.5 0 1 0 -2.9 0M153.4 1.6a0.9 0.9 0 1 0 1.8 0a0.9 0.9 0 1 0 -1.8 0M155.7 -3.5a0.9 0.9 0 1 0 1.7 0a0.9 0.9 0 1 0 -1.7 0M152.5 0.7a0.8 0.8 0 1 0 1.7 0a0.8 0.8 0 1 0 -1.7 0M154.6 1.0a1.2 1.2 0 1 0 2.3 0a1.2 1.2 0 1 0 -2.3 0M57.4 -1.6a1.1 1.1 0 1 0 2.1 0a1.1 1.1 0 1 0 -2.1 0M59.2 -5.6a1.0 1.0 0 1 0 2.0 0a1.0 1.0 0 1 0 -2.0 0M58.9 2.5a0.8 0.8 0 1 0 1.5 0a0.8 0.8 0 1 0 -1.5 0M321.3 250.9a1.3 1.3 0 1 0 2.7 0a1.3 1.3 0 1 0 -2.7 0M132.4 194.9a0.7 0.7 0 1 0 1.5 0a0.7 0.7 0 1 0 -1.5 0M276.9 332.0a1.2 1.2 0 1 0 2.5 0a1.2 1.2 0 1 0 -2.5 0M289.0 225.9a0.8 0.8 0 1 0 1.5 0a0.8 0.8 0 1 0 -1.5 0M119.4 23.9a1.4 1.4 0 1 0 2.7 0a1.4 1.4 0 1 0 -2.7 0M121.1 21.9a0.8 0.8 0 1 0 1.6 0a0.8 0.8 0 1 0 -1.6 0M0.5 285.1a1.5 1.5 0 1 0 2.9 0a1.5 1.5 0 1 0 -2.9 0M0.6 283.7a0.8 0.8 0 1 0 1.7 0a0.8 0.8 0 1 0 -1.7 0M4.0 284.1a0.9 0.9 0 1 0 1.7 0a0.9 0.9 0 1 0 -1.7 0M3.4 285.9a1.3 1.3 0 1 0 2.5 0a1.3 1.3 0 1 0 -2.5 0M279.4 55.8a0.8 0.8 0 1 0 1.5 0a0.8 0.8 0 1 0 -1.5 0M276.7 58.3a0.8 0.8 0 1 0 1.6 0a0.8 0.8 0 1 0 -1.6 0M276.7 58.9a1.4 1.4 0 1 0 2.8 0a1.4 1.4 0 1 0 -2.8 0M221.5 181.7a0.8 0.8 0 1 0 1.5 0a0.8 0.8 0 1 0 -1.5 0M222.4 181.9a1.3 1.3 0 1 0 2.6 0a1.3 1.3 0 1 0 -2.6 0M220.6 180.9a1.4 1.4 0 1 0 2.8 0a1.4 1.4 0 1 0 -2.8 0M192.9 67.7a1.4 1.4 0 1 0 2.8 0a1.4 1.4 0 1 0 -2.8 0M276.8 198.0a1.3 1.3 0 1 0 2.6 0a1.3 1.3 0 1 0 -2.6 0M144.4 329.6a0.9 0.9 0 1 0 1.8 0a0.9 0.9 0 1 0 -1.8 0M137.9 329.2a1.3 1.3 0 1 0 2.6 0a1.3 1.3 0 1 0 -2.6 0M89.8 161.4a1.4 1.4 0 1 0 2.8 0a1.4 1.4 0 1 0 -2.8 0M217.8 322.7a0.9 0.9 0 1 0 1.7 0a0.9 0.9 0 1 0 -1.7 0M214.3 322.3a1.0 1.0 0 1 0 1.9 0a1.0 1.0 0 1 0 -1.9 0M75.5 240.0a0.9 0.9 0 1 0 1.8 0a0.9 0.9 0 1 0 -1.8 0M72.7 243.1a1.3 1.3 0 1 0 2.6 0a1.3 1.3 0 1 0 -2.6 0M73.1 240.4a1.2 1.2 0 1 0 2.5 0a1.2 1.2 0 1 0 -2.5 0M76.8 242.4a1.2 1.2 0 1 0 2.3 0a1.2 1.2 0 1 0 -2.3 0M121.0 217.0a0.9 0.9 0 1 0 1.8 0a0.9 0.9 0 1 0 -1.8 0M120.6 215.9a0.9 0.9 0 1 0 1.8 0a0.9 0.9 0 1 0 -1.8 0M124.3 213.8a0.9 0.9 0 1 0 1.7 0a0.9 0.9 0 1 0 -1.7 0M121.2 214.5a0.9 0.9 0 1 0 1.7 0a0.9 0.9 0 1 0 -1.7 0M80.8 59.6a1.0 1.0 0 1 0 1.9 0a1.0 1.0 0 1 0 -1.9 0M179.1 49.0a0.9 0.9 0 1 0 1.7 0a0.9 0.9 0 1 0 -1.7 0M179.6 50.3a1.4 1.4 0 1 0 2.9 0a1.4 1.4 0 1 0 -2.9 0M321.4 70.8a0.7 0.7 0 1 0 1.4 0a0.7 0.7 0 1 0 -1.4 0M304.6 45.2a1.4 1.4 0 1 0 2.8 0a1.4 1.4 0 1 0 -2.8 0M288.5 142.1a0.8 0.8 0 1 0 1.6 0a0.8 0.8 0 1 0 -1.6 0M289.9 142.6a1.2 1.2 0 1 0 2.3 0a1.2 1.2 0 1 0 -2.3 0M284.7 140.9a1.2 1.2 0 1 0 2.5 0a1.2 1.2 0 1 0 -2.5 0M39.1 136.9a1.3 1.3 0 1 0 2.6 0a1.3 1.3 0 1 0 -2.6 0M-3.3 66.4a1.5 1.5 0 1 0 2.9 0a1.5 1.5 0 1 0 -2.9 0M173.2 195.0a1.5 1.5 0 1 0 2.9 0a1.5 1.5 0 1 0 -2.9 0M175.0 196.9a1.3 1.3 0 1 0 2.5 0a1.3 1.3 0 1 0 -2.5 0M178.1 147.0a0.8 0.8 0 1 0 1.5 0a0.8 0.8 0 1 0 -1.5 0M-3.4 245.0a1.0 1.0 0 1 0 2.0 0a1.0 1.0 0 1 0 -2.0 0M172.7 4.9a0.8 0.8 0 1 0 1.6 0a0.8 0.8 0 1 0 -1.6 0M176.4 1.6a1.3 1.3 0 1 0 2.7 0a1.3 1.3 0 1 0 -2.7 0M268.5 266.4a1.3 1.3 0 1 0 2.6 0a1.3 1.3 0 1 0 -2.6 0M268.2 264.4a0.7 0.7 0 1 0 1.5 0a0.7 0.7 0 1 0 -1.5 0M236.0 266.9a1.1 1.1 0 1 0 2.1 0a1.1 1.1 0 1 0 -2.1 0M238.6 266.6a1.0 1.0 0 1 0 2.0 0a1.0 1.0 0 1 0 -2.0 0M240.9 264.5a1.5 1.5 0 1 0 2.9 0a1.5 1.5 0 1 0 -2.9 0M6.9 211.9a1.4 1.4 0 1 0 2.8 0a1.4 1.4 0 1 0 -2.8 0M4.2 215.3a1.0 1.0 0 1 0 2.0 0a1.0 1.0 0 1 0 -2.0 0M1.5 213.7a1.1 1.1 0 1 0 2.2 0a1.1 1.1 0 1 0 -2.2 0M9.1 328.6a1.4 1.4 0 1 0 2.7 0a1.4 1.4 0 1 0 -2.7 0M11.1 328.2a1.2 1.2 0 1 0 2.5 0a1.2 1.2 0 1 0 -2.5 0M191.2 199.2a1.4 1.4 0 1 0 2.7 0a1.4 1.4 0 1 0 -2.7 0M190.2 201.8a1.4 1.4 0 1 0 2.9 0a1.4 1.4 0 1 0 -2.9 0M190.1 18.5a1.1 1.1 0 1 0 2.1 0a1.1 1.1 0 1 0 -2.1 0M186.4 20.4a1.3 1.3 0 1 0 2.6 0a1.3 1.3 0 1 0 -2.6 0M13.7 37.4a1.0 1.0 0 1 0 1.9 0a1.0 1.0 0 1 0 -1.9 0M17.5 39.8a1.5 1.5 0 1 0 3.0 0a1.5 1.5 0 1 0 -3.0 0M105.4 188.1a1.2 1.2 0 1 0 2.4 0a1.2 1.2 0 1 0 -2.4 0M104.4 186.4a1.4 1.4 0 1 0 2.8 0a1.4 1.4 0 1 0 -2.8 0M320.2 147.5a0.8 0.8 0 1 0 1.6 0a0.8 0.8 0 1 0 -1.6 0M25.9 309.4a1.3 1.3 0 1 0 2.6 0a1.3 1.3 0 1 0 -2.6 0M30.7 305.6a1.2 1.2 0 1 0 2.4 0a1.2 1.2 0 1 0 -2.4 0M27.9 306.2a1.0 1.0 0 1 0 2.0 0a1.0 1.0 0 1 0 -2.0 0M36.3 250.1a1.2 1.2 0 1 0 2.4 0a1.2 1.2 0 1 0 -2.4 0M38.1 250.2a1.4 1.4 0 1 0 2.9 0a1.4 1.4 0 1 0 -2.9 0M36.7 247.3a1.1 1.1 0 1 0 2.2 0a1.1 1.1 0 1 0 -2.2 0M37.6 246.7a1.2 1.2 0 1 0 2.3 0a1.2 1.2 0 1 0 -2.3 0M147.9 284.1a0.9 0.9 0 1 0 1.8 0a0.9 0.9 0 1 0 -1.8 0M107.6 134.2a1.0 1.0 0 1 0 1.9 0a1.0 1.0 0 1 0 -1.9 0M108.0 131.6a1.3 1.3 0 1 0 2.5 0a1.3 1.3 0 1 0 -2.5 0M108.6 134.9a1.4 1.4 0 1 0 2.7 0a1.4 1.4 0 1 0 -2.7 0M109.0 130.4a1.3 1.3 0 1 0 2.6 0a1.3 1.3 0 1 0 -2.6 0M124.7 124.5a1.3 1.3 0 1 0 2.6 0a1.3 1.3 0 1 0 -2.6 0M128.2 122.2a0.9 0.9 0 1 0 1.9 0a0.9 0.9 0 1 0 -1.9 0M127.0 124.9a1.2 1.2 0 1 0 2.4 0a1.2 1.2 0 1 0 -2.4 0M311.1 93.0a1.5 1.5 0 1 0 3.0 0a1.5 1.5 0 1 0 -3.0 0M309.0 91.0a1.1 1.1 0 1 0 2.3 0a1.1 1.1 0 1 0 -2.3 0M314.7 29.7a1.5 1.5 0 1 0 3.0 0a1.5 1.5 0 1 0 -3.0 0M316.6 22.9a1.3 1.3 0 1 0 2.7 0a1.3 1.3 0 1 0 -2.7 0M315.9 26.7a0.9 0.9 0 1 0 1.7 0a0.9 0.9 0 1 0 -1.7 0M137.8 44.4a1.0 1.0 0 1 0 1.9 0a1.0 1.0 0 1 0 -1.9 0M142.8 44.0a0.9 0.9 0 1 0 1.7 0a0.9 0.9 0 1 0 -1.7 0M56.9 14.0a0.9 0.9 0 1 0 1.8 0a0.9 0.9 0 1 0 -1.8 0M28.5 61.0a1.1 1.1 0 1 0 2.2 0a1.1 1.1 0 1 0 -2.2 0M31.3 55.4a1.0 1.0 0 1 0 2.0 0a1.0 1.0 0 1 0 -2.0 0M180.9 178.7a0.7 0.7 0 1 0 1.4 0a0.7 0.7 0 1 0 -1.4 0M177.9 179.4a0.8 0.8 0 1 0 1.7 0a0.8 0.8 0 1 0 -1.7 0M179.2 180.9a1.3 1.3 0 1 0 2.7 0a1.3 1.3 0 1 0 -2.7 0M-3.8 161.3a0.8 0.8 0 1 0 1.5 0a0.8 0.8 0 1 0 -1.5 0M-3.6 157.9a1.0 1.0 0 1 0 2.0 0a1.0 1.0 0 1 0 -2.0 0M50.4 49.5a1.1 1.1 0 1 0 2.2 0a1.1 1.1 0 1 0 -2.2 0M50.3 48.1a1.4 1.4 0 1 0 2.8 0a1.4 1.4 0 1 0 -2.8 0M217.8 344.9a1.3 1.3 0 1 0 2.5 0a1.3 1.3 0 1 0 -2.5 0M219.1 345.9a1.0 1.0 0 1 0 2.0 0a1.0 1.0 0 1 0 -2.0 0M217.6 347.6a1.1 1.1 0 1 0 2.1 0a1.1 1.1 0 1 0 -2.1 0M349.5 277.0a1.3 1.3 0 1 0 2.6 0a1.3 1.3 0 1 0 -2.6 0M130.5 227.0a1.4 1.4 0 1 0 2.8 0a1.4 1.4 0 1 0 -2.8 0M131.1 231.3a1.5 1.5 0 1 0 3.0 0a1.5 1.5 0 1 0 -3.0 0M109.9 289.3a1.5 1.5 0 1 0 2.9 0a1.5 1.5 0 1 0 -2.9 0M106.6 289.0a1.5 1.5 0 1 0 3.0 0a1.5 1.5 0 1 0 -3.0 0M109.5 289.5a1.1 1.1 0 1 0 2.3 0a1.1 1.1 0 1 0 -2.3 0M293.7 208.9a1.0 1.0 0 1 0 2.0 0a1.0 1.0 0 1 0 -2.0 0M-2.8 106.7a0.7 0.7 0 1 0 1.5 0a0.7 0.7 0 1 0 -1.5 0M-4.6 107.3a1.4 1.4 0 1 0 2.9 0a1.4 1.4 0 1 0 -2.9 0M314.8 193.7a0.8 0.8 0 1 0 1.6 0a0.8 0.8 0 1 0 -1.6 0M211.5 65.0a1.3 1.3 0 1 0 2.5 0a1.3 1.3 0 1 0 -2.5 0M82.1 200.0a1.0 1.0 0 1 0 2.0 0a1.0 1.0 0 1 0 -2.0 0M83.5 199.0a1.0 1.0 0 1 0 2.0 0a1.0 1.0 0 1 0 -2.0 0M111.3 321.2a1.3 1.3 0 1 0 2.6 0a1.3 1.3 0 1 0 -2.6 0M41.2 313.9a1.4 1.4 0 1 0 2.8 0a1.4 1.4 0 1 0 -2.8 0M59.4 347.0a1.4 1.4 0 1 0 2.7 0a1.4 1.4 0 1 0 -2.7 0M54.2 349.3a0.8 0.8 0 1 0 1.7 0a0.8 0.8 0 1 0 -1.7 0M255.6 127.1a1.2 1.2 0 1 0 2.4 0a1.2 1.2 0 1 0 -2.4 0M253.7 127.1a1.2 1.2 0 1 0 2.4 0a1.2 1.2 0 1 0 -2.4 0M255.1 126.5a0.9 0.9 0 1 0 1.9 0a0.9 0.9 0 1 0 -1.9 0M221.6 8.5a1.1 1.1 0 1 0 2.2 0a1.1 1.1 0 1 0 -2.2 0M222.3 8.5a1.0 1.0 0 1 0 2.0 0a1.0 1.0 0 1 0 -2.0 0M223.7 9.0a0.9 0.9 0 1 0 1.7 0a0.9 0.9 0 1 0 -1.7 0M240.8 183.8a1.3 1.3 0 1 0 2.7 0a1.3 1.3 0 1 0 -2.7 0M228.6 301.0a1.3 1.3 0 1 0 2.7 0a1.3 1.3 0 1 0 -2.7 0M227.6 297.4a0.9 0.9 0 1 0 1.8 0a0.9 0.9 0 1 0 -1.8 0M230.8 300.5a1.0 1.0 0 1 0 1.9 0a1.0 1.0 0 1 0 -1.9 0M63.6 216.6a1.3 1.3 0 1 0 2.6 0a1.3 1.3 0 1 0 -2.6 0M26.5 72.4a1.5 1.5 0 1 0 2.9 0a1.5 1.5 0 1 0 -2.9 0M22.8 74.9a1.2 1.2 0 1 0 2.3 0a1.2 1.2 0 1 0 -2.3 0M79.7 278.6a1.5 1.5 0 1 0 2.9 0a1.5 1.5 0 1 0 -2.9 0M93.3 263.7a0.9 0.9 0 1 0 1.9 0a0.9 0.9 0 1 0 -1.9 0M154.8 262.1a1.0 1.0 0 1 0 1.9 0a1.0 1.0 0 1 0 -1.9 0M158.3 264.1a1.5 1.5 0 1 0 2.9 0a1.5 1.5 0 1 0 -2.9 0M156.8 263.1a0.7 0.7 0 1 0 1.4 0a0.7 0.7 0 1 0 -1.4 0M14.5 145.3a1.2 1.2 0 1 0 2.4 0a1.2 1.2 0 1 0 -2.4 0M16.3 143.3a1.2 1.2 0 1 0 2.5 0a1.2 1.2 0 1 0 -2.5 0M305.3 154.6a1.4 1.4 0 1 0 2.7 0a1.4 1.4 0 1 0 -2.7 0M305.7 159.1a1.2 1.2 0 1 0 2.3 0a1.2 1.2 0 1 0 -2.3 0M305.4 162.3a1.0 1.0 0 1 0 1.9 0a1.0 1.0 0 1 0 -1.9 0M265.2 176.0a1.1 1.1 0 1 0 2.3 0a1.1 1.1 0 1 0 -2.3 0M265.1 181.8a0.7 0.7 0 1 0 1.4 0a0.7 0.7 0 1 0 -1.4 0M92.0 53.4a1.1 1.1 0 1 0 2.2 0a1.1 1.1 0 1 0 -2.2 0M91.2 50.9a1.4 1.4 0 1 0 2.9 0a1.4 1.4 0 1 0 -2.9 0M91.7 51.3a0.8 0.8 0 1 0 1.6 0a0.8 0.8 0 1 0 -1.6 0M107.4 83.7a0.8 0.8 0 1 0 1.7 0a0.8 0.8 0 1 0 -1.7 0M112.1 80.2a1.1 1.1 0 1 0 2.1 0a1.1 1.1 0 1 0 -2.1 0M317.9 3.3a1.4 1.4 0 1 0 2.7 0a1.4 1.4 0 1 0 -2.7 0M340.7 45.5a1.2 1.2 0 1 0 2.4 0a1.2 1.2 0 1 0 -2.4 0M340.6 44.2a1.3 1.3 0 1 0 2.6 0a1.3 1.3 0 1 0 -2.6 0M108.0 59.6a0.8 0.8 0 1 0 1.7 0a0.8 0.8 0 1 0 -1.7 0M107.0 261.6a1.1 1.1 0 1 0 2.1 0a1.1 1.1 0 1 0 -2.1 0M109.3 263.3a1.4 1.4 0 1 0 2.9 0a1.4 1.4 0 1 0 -2.9 0M344.9 68.4a0.9 0.9 0 1 0 1.7 0a0.9 0.9 0 1 0 -1.7 0M264.7 101.3a1.2 1.2 0 1 0 2.3 0a1.2 1.2 0 1 0 -2.3 0M265.1 103.2a1.3 1.3 0 1 0 2.7 0a1.3 1.3 0 1 0 -2.7 0M32.9 341.0a1.3 1.3 0 1 0 2.7 0a1.3 1.3 0 1 0 -2.7 0M348.6 261.8a1.1 1.1 0 1 0 2.2 0a1.1 1.1 0 1 0 -2.2 0M93.2 224.8a1.2 1.2 0 1 0 2.3 0a1.2 1.2 0 1 0 -2.3 0M94.1 225.8a0.8 0.8 0 1 0 1.7 0a0.8 0.8 0 1 0 -1.7 0M97.8 221.8a1.1 1.1 0 1 0 2.3 0a1.1 1.1 0 1 0 -2.3 0M96.2 221.1a0.8 0.8 0 1 0 1.6 0a0.8 0.8 0 1 0 -1.6 0M256.2 213.4a1.4 1.4 0 1 0 2.8 0a1.4 1.4 0 1 0 -2.8 0M242.0 238.3a1.2 1.2 0 1 0 2.4 0a1.2 1.2 0 1 0 -2.4 0M225.6 244.5a1.5 1.5 0 1 0 3.0 0a1.5 1.5 0 1 0 -3.0 0M226.6 243.2a1.4 1.4 0 1 0 2.8 0a1.4 1.4 0 1 0 -2.8 0M229.8 246.6a1.2 1.2 0 1 0 2.4 0a1.2 1.2 0 1 0 -2.4 0M231.0 246.5a1.0 1.0 0 1 0 2.0 0a1.0 1.0 0 1 0 -2.0 0M21.7 158.4a1.4 1.4 0 1 0 2.8 0a1.4 1.4 0 1 0 -2.8 0M17.6 157.9a0.9 0.9 0 1 0 1.7 0a0.9 0.9 0 1 0 -1.7 0M331.0 312.9a1.3 1.3 0 1 0 2.7 0a1.3 1.3 0 1 0 -2.7 0M47.6 288.5a0.8 0.8 0 1 0 1.6 0a0.8 0.8 0 1 0 -1.6 0M46.2 288.5a1.4 1.4 0 1 0 2.7 0a1.4 1.4 0 1 0 -2.7 0M51.0 287.1a1.0 1.0 0 1 0 1.9 0a1.0 1.0 0 1 0 -1.9 0M176.4 312.6a1.2 1.2 0 1 0 2.4 0a1.2 1.2 0 1 0 -2.4 0M172.7 315.6a1.3 1.3 0 1 0 2.5 0a1.3 1.3 0 1 0 -2.5 0M171.4 312.8a1.2 1.2 0 1 0 2.4 0a1.2 1.2 0 1 0 -2.4 0M121.0 145.7a1.4 1.4 0 1 0 2.9 0a1.4 1.4 0 1 0 -2.9 0M285.4 280.2a1.2 1.2 0 1 0 2.3 0a1.2 1.2 0 1 0 -2.3 0M282.5 276.7a1.2 1.2 0 1 0 2.3 0a1.2 1.2 0 1 0 -2.3 0M9.7 261.9a0.9 0.9 0 1 0 1.7 0a0.9 0.9 0 1 0 -1.7 0M11.8 266.0a1.3 1.3 0 1 0 2.6 0a1.3 1.3 0 1 0 -2.6 0M10.1 263.1a0.7 0.7 0 1 0 1.4 0a0.7 0.7 0 1 0 -1.4 0M276.2 152.8a0.7 0.7 0 1 0 1.5 0a0.7 0.7 0 1 0 -1.5 0M275.4 149.2a1.2 1.2 0 1 0 2.4 0a1.2 1.2 0 1 0 -2.4 0M51.5 114.9a1.3 1.3 0 1 0 2.6 0a1.3 1.3 0 1 0 -2.6 0M48.6 112.5a1.3 1.3 0 1 0 2.5 0a1.3 1.3 0 1 0 -2.5 0M246.2 151.9a1.2 1.2 0 1 0 2.5 0a1.2 1.2 0 1 0 -2.5 0M242.4 147.2a0.9 0.9 0 1 0 1.8 0a0.9 0.9 0 1 0 -1.8 0M246.8 147.4a1.2 1.2 0 1 0 2.3 0a1.2 1.2 0 1 0 -2.3 0M297.9 6.7a1.0 1.0 0 1 0 2.0 0a1.0 1.0 0 1 0 -2.0 0M295.8 2.0a0.9 0.9 0 1 0 1.9 0a0.9 0.9 0 1 0 -1.9 0M295.7 6.4a1.3 1.3 0 1 0 2.5 0a1.3 1.3 0 1 0 -2.5 0M234.1 122.0a1.1 1.1 0 1 0 2.2 0a1.1 1.1 0 1 0 -2.2 0M236.3 121.8a1.2 1.2 0 1 0 2.4 0a1.2 1.2 0 1 0 -2.4 0M235.6 125.7a1.1 1.1 0 1 0 2.3 0a1.1 1.1 0 1 0 -2.3 0M271.5 85.7a1.4 1.4 0 1 0 2.8 0a1.4 1.4 0 1 0 -2.8 0M270.1 85.9a1.1 1.1 0 1 0 2.2 0a1.1 1.1 0 1 0 -2.2 0M145.1 167.1a1.1 1.1 0 1 0 2.1 0a1.1 1.1 0 1 0 -2.1 0M-5.6 21.5a1.2 1.2 0 1 0 2.5 0a1.2 1.2 0 1 0 -2.5 0M129.1 100.9a0.9 0.9 0 1 0 1.7 0a0.9 0.9 0 1 0 -1.7 0M133.7 97.1a1.2 1.2 0 1 0 2.3 0a1.2 1.2 0 1 0 -2.3 0M127.9 100.6a1.0 1.0 0 1 0 2.0 0a1.0 1.0 0 1 0 -2.0 0M327.5 346.1a1.4 1.4 0 1 0 2.8 0a1.4 1.4 0 1 0 -2.8 0M173.0 134.0a1.1 1.1 0 1 0 2.1 0a1.1 1.1 0 1 0 -2.1 0M167.9 133.0a0.9 0.9 0 1 0 1.7 0a0.9 0.9 0 1 0 -1.7 0M166.6 133.5a1.4 1.4 0 1 0 2.9 0a1.4 1.4 0 1 0 -2.9 0M109.5 301.9a1.4 1.4 0 1 0 2.8 0a1.4 1.4 0 1 0 -2.8 0M103.6 299.2a0.8 0.8 0 1 0 1.6 0a0.8 0.8 0 1 0 -1.6 0M106.4 300.3a1.2 1.2 0 1 0 2.4 0a1.2 1.2 0 1 0 -2.4 0M104.5 304.9a1.5 1.5 0 1 0 2.9 0a1.5 1.5 0 1 0 -2.9 0M59.2 34.6a0.9 0.9 0 1 0 1.7 0a0.9 0.9 0 1 0 -1.7 0M258.4 301.3a1.1 1.1 0 1 0 2.2 0a1.1 1.1 0 1 0 -2.2 0M261.5 299.5a1.3 1.3 0 1 0 2.6 0a1.3 1.3 0 1 0 -2.6 0M258.3 305.4a1.2 1.2 0 1 0 2.3 0a1.2 1.2 0 1 0 -2.3 0M113.6 -10.9a0.8 0.8 0 1 0 1.5 0a0.8 0.8 0 1 0 -1.5 0M118.4 -6.5a1.1 1.1 0 1 0 2.1 0a1.1 1.1 0 1 0 -2.1 0M118.7 -5.7a1.1 1.1 0 1 0 2.1 0a1.1 1.1 0 1 0 -2.1 0M145.5 107.4a1.3 1.3 0 1 0 2.6 0a1.3 1.3 0 1 0 -2.6 0M143.5 108.5a1.5 1.5 0 1 0 2.9 0a1.5 1.5 0 1 0 -2.9 0M241.3 42.8a1.2 1.2 0 1 0 2.5 0a1.2 1.2 0 1 0 -2.5 0M237.9 46.1a1.3 1.3 0 1 0 2.6 0a1.3 1.3 0 1 0 -2.6 0M130.5 33.8a1.1 1.1 0 1 0 2.3 0a1.1 1.1 0 1 0 -2.3 0M133.1 35.7a1.2 1.2 0 1 0 2.4 0a1.2 1.2 0 1 0 -2.4 0M130.7 37.9a1.4 1.4 0 1 0 2.9 0a1.4 1.4 0 1 0 -2.9 0M157.8 240.8a1.4 1.4 0 1 0 2.8 0a1.4 1.4 0 1 0 -2.8 0M204.2 286.1a1.0 1.0 0 1 0 1.9 0a1.0 1.0 0 1 0 -1.9 0M203.1 282.3a1.1 1.1 0 1 0 2.1 0a1.1 1.1 0 1 0 -2.1 0M80.8 258.4a1.3 1.3 0 1 0 2.6 0a1.3 1.3 0 1 0 -2.6 0M75.7 251.6a1.4 1.4 0 1 0 2.8 0a1.4 1.4 0 1 0 -2.8 0M81.0 255.0a0.8 0.8 0 1 0 1.5 0a0.8 0.8 0 1 0 -1.5 0M80.2 258.2a1.3 1.3 0 1 0 2.6 0a1.3 1.3 0 1 0 -2.6 0M93.5 180.4a1.4 1.4 0 1 0 2.7 0a1.4 1.4 0 1 0 -2.7 0M-1.5 135.3a1.1 1.1 0 1 0 2.3 0a1.1 1.1 0 1 0 -2.3 0M288.9 349.7a1.3 1.3 0 1 0 2.7 0a1.3 1.3 0 1 0 -2.7 0M290.9 349.6a1.4 1.4 0 1 0 2.8 0a1.4 1.4 0 1 0 -2.8 0M295.7 348.3a0.8 0.8 0 1 0 1.6 0a0.8 0.8 0 1 0 -1.6 0M292.3 352.3a0.9 0.9 0 1 0 1.9 0a0.9 0.9 0 1 0 -1.9 0M342.3 204.3a0.7 0.7 0 1 0 1.4 0a0.7 0.7 0 1 0 -1.4 0M214.0 228.2a1.2 1.2 0 1 0 2.4 0a1.2 1.2 0 1 0 -2.4 0M214.3 228.7a0.8 0.8 0 1 0 1.5 0a0.8 0.8 0 1 0 -1.5 0M165.1 34.5a1.0 1.0 0 1 0 2.0 0a1.0 1.0 0 1 0 -2.0 0M166.7 33.9a1.2 1.2 0 1 0 2.4 0a1.2 1.2 0 1 0 -2.4 0M163.7 36.2a1.5 1.5 0 1 0 3.0 0a1.5 1.5 0 1 0 -3.0 0M45.1 101.5a1.0 1.0 0 1 0 2.0 0a1.0 1.0 0 1 0 -2.0 0M44.2 103.9a1.3 1.3 0 1 0 2.6 0a1.3 1.3 0 1 0 -2.6 0M45.6 100.6a0.9 0.9 0 1 0 1.8 0a0.9 0.9 0 1 0 -1.8 0M238.1 281.5a0.8 0.8 0 1 0 1.5 0a0.8 0.8 0 1 0 -1.5 0M238.6 280.9a0.8 0.8 0 1 0 1.6 0a0.8 0.8 0 1 0 -1.6 0M48.1 260.4a1.5 1.5 0 1 0 3.0 0a1.5 1.5 0 1 0 -3.0 0M42.7 260.8a1.3 1.3 0 1 0 2.6 0a1.3 1.3 0 1 0 -2.6 0M45.5 260.7a1.0 1.0 0 1 0 2.1 0a1.0 1.0 0 1 0 -2.1 0M67.0 59.4a0.9 0.9 0 1 0 1.7 0a0.9 0.9 0 1 0 -1.7 0M62.5 58.3a1.5 1.5 0 1 0 2.9 0a1.5 1.5 0 1 0 -2.9 0M62.1 61.2a1.4 1.4 0 1 0 2.7 0a1.4 1.4 0 1 0 -2.7 0M60.2 60.5a1.1 1.1 0 1 0 2.2 0a1.1 1.1 0 1 0 -2.2 0M79.9 342.3a1.2 1.2 0 1 0 2.4 0a1.2 1.2 0 1 0 -2.4 0M0.4 259.7a0.9 0.9 0 1 0 1.7 0a0.9 0.9 0 1 0 -1.7 0M-3.5 262.5a1.3 1.3 0 1 0 2.6 0a1.3 1.3 0 1 0 -2.6 0M0.1 264.1a1.4 1.4 0 1 0 2.9 0a1.4 1.4 0 1 0 -2.9 0M-1.4 264.2a1.3 1.3 0 1 0 2.7 0a1.3 1.3 0 1 0 -2.7 0M41.8 168.3a1.0 1.0 0 1 0 2.0 0a1.0 1.0 0 1 0 -2.0 0M40.1 166.5a1.0 1.0 0 1 0 2.0 0a1.0 1.0 0 1 0 -2.0 0M132.8 -6.3a1.4 1.4 0 1 0 2.7 0a1.4 1.4 0 1 0 -2.7 0M132.8 -8.8a0.9 0.9 0 1 0 1.8 0a0.9 0.9 0 1 0 -1.8 0M134.8 -6.2a0.9 0.9 0 1 0 1.7 0a0.9 0.9 0 1 0 -1.7 0M137.5 -6.9a1.5 1.5 0 1 0 3.0 0a1.5 1.5 0 1 0 -3.0 0M16.6 95.0a1.1 1.1 0 1 0 2.2 0a1.1 1.1 0 1 0 -2.2 0M17.6 90.5a1.0 1.0 0 1 0 2.0 0a1.0 1.0 0 1 0 -2.0 0M211.0 81.2a1.3 1.3 0 1 0 2.7 0a1.3 1.3 0 1 0 -2.7 0M212.1 83.2a1.1 1.1 0 1 0 2.2 0a1.1 1.1 0 1 0 -2.2 0M209.5 83.1a0.8 0.8 0 1 0 1.7 0a0.8 0.8 0 1 0 -1.7 0M349.0 17.5a1.1 1.1 0 1 0 2.1 0a1.1 1.1 0 1 0 -2.1 0M352.1 17.2a1.4 1.4 0 1 0 2.8 0a1.4 1.4 0 1 0 -2.8 0M352.8 18.3a1.5 1.5 0 1 0 2.9 0a1.5 1.5 0 1 0 -2.9 0M300.6 274.6a1.0 1.0 0 1 0 2.1 0a1.0 1.0 0 1 0 -2.1 0M302.9 269.7a1.0 1.0 0 1 0 1.9 0a1.0 1.0 0 1 0 -1.9 0M303.1 265.6a0.8 0.8 0 1 0 1.7 0a0.8 0.8 0 1 0 -1.7 0M302.5 268.3a1.3 1.3 0 1 0 2.7 0a1.3 1.3 0 1 0 -2.7 0M212.2 158.6a1.4 1.4 0 1 0 2.8 0a1.4 1.4 0 1 0 -2.8 0M200.6 -2.1a0.7 0.7 0 1 0 1.5 0a0.7 0.7 0 1 0 -1.5 0M197.3 -2.0a1.5 1.5 0 1 0 3.0 0a1.5 1.5 0 1 0 -3.0 0M196.9 1.7a1.4 1.4 0 1 0 2.8 0a1.4 1.4 0 1 0 -2.8 0M70.4 296.0a0.9 0.9 0 1 0 1.8 0a0.9 0.9 0 1 0 -1.8 0M70.7 302.2a1.3 1.3 0 1 0 2.6 0a1.3 1.3 0 1 0 -2.6 0M71.2 300.8a1.4 1.4 0 1 0 2.8 0a1.4 1.4 0 1 0 -2.8 0M264.0 231.1a0.9 0.9 0 1 0 1.8 0a0.9 0.9 0 1 0 -1.8 0M265.7 230.8a1.0 1.0 0 1 0 2.0 0a1.0 1.0 0 1 0 -2.0 0M265.3 230.0a1.4 1.4 0 1 0 2.8 0a1.4 1.4 0 1 0 -2.8 0M265.1 228.8a1.5 1.5 0 1 0 2.9 0a1.5 1.5 0 1 0 -2.9 0M339.3 234.0a1.5 1.5 0 1 0 2.9 0a1.5 1.5 0 1 0 -2.9 0M343.7 235.7a0.8 0.8 0 1 0 1.6 0a0.8 0.8 0 1 0 -1.6 0M325.1 54.8a1.4 1.4 0 1 0 2.8 0a1.4 1.4 0 1 0 -2.8 0M342.0 151.0a0.9 0.9 0 1 0 1.8 0a0.9 0.9 0 1 0 -1.8 0M253.1 164.6a1.1 1.1 0 1 0 2.2 0a1.1 1.1 0 1 0 -2.2 0M151.1 305.8a0.9 0.9 0 1 0 1.8 0a0.9 0.9 0 1 0 -1.8 0M322.1 268.7a0.7 0.7 0 1 0 1.4 0a0.7 0.7 0 1 0 -1.4 0M319.1 270.7a1.4 1.4 0 1 0 2.9 0a1.4 1.4 0 1 0 -2.9 0M195.6 179.5a1.3 1.3 0 1 0 2.7 0a1.3 1.3 0 1 0 -2.7 0M197.8 178.4a1.5 1.5 0 1 0 3.0 0a1.5 1.5 0 1 0 -3.0 0M195.0 177.3a1.4 1.4 0 1 0 2.8 0a1.4 1.4 0 1 0 -2.8 0M197.6 179.0a0.8 0.8 0 1 0 1.6 0a0.8 0.8 0 1 0 -1.6 0M37.2 -4.9a1.2 1.2 0 1 0 2.4 0a1.2 1.2 0 1 0 -2.4 0M206.3 260.5a1.4 1.4 0 1 0 2.7 0a1.4 1.4 0 1 0 -2.7 0M207.2 261.1a0.8 0.8 0 1 0 1.7 0a0.8 0.8 0 1 0 -1.7 0M80.5 125.4a1.4 1.4 0 1 0 2.9 0a1.4 1.4 0 1 0 -2.9 0M96.1 207.4a1.2 1.2 0 1 0 2.4 0a1.2 1.2 0 1 0 -2.4 0M96.4 206.1a0.7 0.7 0 1 0 1.4 0a0.7 0.7 0 1 0 -1.4 0M96.9 205.9a0.9 0.9 0 1 0 1.9 0a0.9 0.9 0 1 0 -1.9 0M306.1 131.1a1.0 1.0 0 1 0 2.1 0a1.0 1.0 0 1 0 -2.1 0M305.8 129.4a0.7 0.7 0 1 0 1.4 0a0.7 0.7 0 1 0 -1.4 0M307.8 132.3a1.5 1.5 0 1 0 3.0 0a1.5 1.5 0 1 0 -3.0 0M250.1 286.7a0.9 0.9 0 1 0 1.8 0a0.9 0.9 0 1 0 -1.8 0M249.6 285.8a1.3 1.3 0 1 0 2.5 0a1.3 1.3 0 1 0 -2.5 0M317.5 100.6a1.2 1.2 0 1 0 2.4 0a1.2 1.2 0 1 0 -2.4 0M323.7 105.1a0.7 0.7 0 1 0 1.4 0a0.7 0.7 0 1 0 -1.4 0M212.9 303.2a1.0 1.0 0 1 0 1.9 0a1.0 1.0 0 1 0 -1.9 0M49.7 236.7a1.1 1.1 0 1 0 2.3 0a1.1 1.1 0 1 0 -2.3 0M217.2 195.5a1.0 1.0 0 1 0 2.1 0a1.0 1.0 0 1 0 -2.1 0M213.6 197.5a1.3 1.3 0 1 0 2.6 0a1.3 1.3 0 1 0 -2.6 0M103.5 33.9a0.8 0.8 0 1 0 1.6 0a0.8 0.8 0 1 0 -1.6 0M102.7 34.6a1.1 1.1 0 1 0 2.2 0a1.1 1.1 0 1 0 -2.2 0M54.0 90.4a1.2 1.2 0 1 0 2.5 0a1.2 1.2 0 1 0 -2.5 0M56.2 94.9a1.3 1.3 0 1 0 2.7 0a1.3 1.3 0 1 0 -2.7 0M53.9 91.8a1.4 1.4 0 1 0 2.9 0a1.4 1.4 0 1 0 -2.9 0M54.6 94.5a0.7 0.7 0 1 0 1.5 0a0.7 0.7 0 1 0 -1.5 0M38.9 333.0a1.3 1.3 0 1 0 2.6 0a1.3 1.3 0 1 0 -2.6 0M36.5 331.1a0.9 0.9 0 1 0 1.9 0a0.9 0.9 0 1 0 -1.9 0M38.6 335.2a0.9 0.9 0 1 0 1.8 0a0.9 0.9 0 1 0 -1.8 0M235.8 -0.1a1.2 1.2 0 1 0 2.4 0a1.2 1.2 0 1 0 -2.4 0M240.7 -1.9a0.9 0.9 0 1 0 1.9 0a0.9 0.9 0 1 0 -1.9 0M137.8 184.6a0.8 0.8 0 1 0 1.6 0a0.8 0.8 0 1 0 -1.6 0M260.7 315.6a1.2 1.2 0 1 0 2.5 0a1.2 1.2 0 1 0 -2.5 0M261.2 318.4a1.5 1.5 0 1 0 3.0 0a1.5 1.5 0 1 0 -3.0 0M260.1 315.8a1.4 1.4 0 1 0 2.8 0a1.4 1.4 0 1 0 -2.8 0M258.9 316.9a0.8 0.8 0 1 0 1.6 0a0.8 0.8 0 1 0 -1.6 0M225.5 332.1a0.9 0.9 0 1 0 1.8 0a0.9 0.9 0 1 0 -1.8 0M125.5 281.7a0.8 0.8 0 1 0 1.6 0a0.8 0.8 0 1 0 -1.6 0M125.5 281.0a1.4 1.4 0 1 0 2.8 0a1.4 1.4 0 1 0 -2.8 0M123.5 280.7a1.1 1.1 0 1 0 2.2 0a1.1 1.1 0 1 0 -2.2 0M216.4 285.2a1.2 1.2 0 1 0 2.4 0a1.2 1.2 0 1 0 -2.4 0M220.1 282.8a0.8 0.8 0 1 0 1.5 0a0.8 0.8 0 1 0 -1.5 0M219.2 282.5a1.3 1.3 0 1 0 2.5 0a1.3 1.3 0 1 0 -2.5 0M221.4 282.6a1.3 1.3 0 1 0 2.6 0a1.3 1.3 0 1 0 -2.6 0M11.8 18.6a1.1 1.1 0 1 0 2.2 0a1.1 1.1 0 1 0 -2.2 0M163.3 19.8a0.8 0.8 0 1 0 1.6 0a0.8 0.8 0 1 0 -1.6 0M166.2 18.5a1.2 1.2 0 1 0 2.3 0a1.2 1.2 0 1 0 -2.3 0M166.9 22.0a0.9 0.9 0 1 0 1.8 0a0.9 0.9 0 1 0 -1.8 0M173.8 269.1a1.2 1.2 0 1 0 2.5 0a1.2 1.2 0 1 0 -2.5 0M122.3 338.9a1.4 1.4 0 1 0 2.8 0a1.4 1.4 0 1 0 -2.8 0M122.5 340.7a1.5 1.5 0 1 0 3.0 0a1.5 1.5 0 1 0 -3.0 0M15.8 216.8a1.1 1.1 0 1 0 2.1 0a1.1 1.1 0 1 0 -2.1 0M15.4 217.4a0.9 0.9 0 1 0 1.7 0a0.9 0.9 0 1 0 -1.7 0M16.1 218.8a1.2 1.2 0 1 0 2.4 0a1.2 1.2 0 1 0 -2.4 0M16.3 217.2a1.2 1.2 0 1 0 2.4 0a1.2 1.2 0 1 0 -2.4 0M171.1 243.2a1.4 1.4 0 1 0 2.8 0a1.4 1.4 0 1 0 -2.8 0M171.1 248.6a0.9 0.9 0 1 0 1.9 0a0.9 0.9 0 1 0 -1.9 0M169.8 249.2a1.5 1.5 0 1 0 3.0 0a1.5 1.5 0 1 0 -3.0 0M274.7 127.4a1.4 1.4 0 1 0 2.7 0a1.4 1.4 0 1 0 -2.7 0M275.0 126.6a1.0 1.0 0 1 0 2.0 0a1.0 1.0 0 1 0 -2.0 0M279.8 129.1a1.0 1.0 0 1 0 1.9 0a1.0 1.0 0 1 0 -1.9 0M61.1 192.4a1.3 1.3 0 1 0 2.6 0a1.3 1.3 0 1 0 -2.6 0M18.1 -6.9a0.8 0.8 0 1 0 1.6 0a0.8 0.8 0 1 0 -1.6 0M24.2 -6.0a0.8 0.8 0 1 0 1.6 0a0.8 0.8 0 1 0 -1.6 0M24.3 -8.6a0.7 0.7 0 1 0 1.5 0a0.7 0.7 0 1 0 -1.5 0M20.5 -8.5a1.0 1.0 0 1 0 2.1 0a1.0 1.0 0 1 0 -2.1 0M300.5 217.7a1.5 1.5 0 1 0 3.0 0a1.5 1.5 0 1 0 -3.0 0M25.6 332.1a1.3 1.3 0 1 0 2.5 0a1.3 1.3 0 1 0 -2.5 0M27.2 330.7a0.8 0.8 0 1 0 1.6 0a0.8 0.8 0 1 0 -1.6 0M26.4 334.3a0.8 0.8 0 1 0 1.6 0a0.8 0.8 0 1 0 -1.6 0M191.6 139.4a1.3 1.3 0 1 0 2.6 0a1.3 1.3 0 1 0 -2.6 0M225.0 82.3a0.8 0.8 0 1 0 1.5 0a0.8 0.8 0 1 0 -1.5 0M225.5 83.5a1.0 1.0 0 1 0 2.0 0a1.0 1.0 0 1 0 -2.0 0M228.4 82.1a1.1 1.1 0 1 0 2.2 0a1.1 1.1 0 1 0 -2.2 0M345.0 80.4a1.3 1.3 0 1 0 2.5 0a1.3 1.3 0 1 0 -2.5 0M8.6 196.1a1.1 1.1 0 1 0 2.2 0a1.1 1.1 0 1 0 -2.2 0M6.6 197.8a0.7 0.7 0 1 0 1.4 0a0.7 0.7 0 1 0 -1.4 0M139.2 211.7a0.8 0.8 0 1 0 1.5 0a0.8 0.8 0 1 0 -1.5 0M199.1 116.3a1.4 1.4 0 1 0 2.8 0a1.4 1.4 0 1 0 -2.8 0" fill="#1eff1e" opacity="0.85" filter="url(#eb05)"/>
<path d="M156.3 190.0a2.2 2.2 0 1 0 4.4 0a2.2 2.2 0 1 0 -4.4 0M157.1 175.5a2.0 2.0 0 1 0 4.0 0a2.0 2.0 0 1 0 -4.0 0M54.3 170.7a2.8 2.8 0 1 0 5.6 0a2.8 2.8 0 1 0 -5.6 0M-1.5 178.0a2.5 2.5 0 1 0 5.0 0a2.5 2.5 0 1 0 -5.0 0M60.8 78.9a3.1 3.1 0 1 0 6.3 0a3.1 3.1 0 1 0 -6.3 0M93.0 14.0a2.5 2.5 0 1 0 5.0 0a2.5 2.5 0 1 0 -5.0 0M130.0 297.5a2.6 2.6 0 1 0 5.2 0a2.6 2.6 0 1 0 -5.2 0M217.0 276.5a3.0 3.0 0 1 0 6.1 0a3.0 3.0 0 1 0 -6.1 0M220.7 272.3a2.1 2.1 0 1 0 4.2 0a2.1 2.1 0 1 0 -4.2 0M215.0 271.4a2.7 2.7 0 1 0 5.4 0a2.7 2.7 0 1 0 -5.4 0M28.8 115.1a2.6 2.6 0 1 0 5.3 0a2.6 2.6 0 1 0 -5.3 0M58.1 256.5a3.1 3.1 0 1 0 6.2 0a3.1 3.1 0 1 0 -6.2 0M280.4 102.8a2.0 2.0 0 1 0 4.0 0a2.0 2.0 0 1 0 -4.0 0M70.0 134.7a3.1 3.1 0 1 0 6.3 0a3.1 3.1 0 1 0 -6.3 0M203.5 127.9a3.0 3.0 0 1 0 6.0 0a3.0 3.0 0 1 0 -6.0 0M311.8 287.8a2.0 2.0 0 1 0 3.9 0a2.0 2.0 0 1 0 -3.9 0M205.2 145.1a3.1 3.1 0 1 0 6.3 0a3.1 3.1 0 1 0 -6.3 0M197.0 40.2a2.9 2.9 0 1 0 5.8 0a2.9 2.9 0 1 0 -5.8 0M195.6 42.2a2.6 2.6 0 1 0 5.1 0a2.6 2.6 0 1 0 -5.1 0M250.8 249.6a3.0 3.0 0 1 0 6.0 0a3.0 3.0 0 1 0 -6.0 0M316.9 302.7a1.8 1.8 0 1 0 3.7 0a1.8 1.8 0 1 0 -3.7 0M132.4 256.5a2.9 2.9 0 1 0 5.8 0a2.9 2.9 0 1 0 -5.8 0M133.4 256.2a2.0 2.0 0 1 0 4.1 0a2.0 2.0 0 1 0 -4.1 0M87.7 -0.9a2.5 2.5 0 1 0 5.0 0a2.5 2.5 0 1 0 -5.0 0M170.7 286.0a1.9 1.9 0 1 0 3.8 0a1.9 1.9 0 1 0 -3.8 0M331.2 22.4a1.9 1.9 0 1 0 3.8 0a1.9 1.9 0 1 0 -3.8 0M193.0 61.0a2.2 2.2 0 1 0 4.5 0a2.2 2.2 0 1 0 -4.5 0M176.0 51.4a3.0 3.0 0 1 0 6.0 0a3.0 3.0 0 1 0 -6.0 0M307.2 46.1a2.2 2.2 0 1 0 4.3 0a2.2 2.2 0 1 0 -4.3 0M37.5 143.0a3.1 3.1 0 1 0 6.1 0a3.1 3.1 0 1 0 -6.1 0M41.5 136.6a2.7 2.7 0 1 0 5.3 0a2.7 2.7 0 1 0 -5.3 0M37.0 137.8a2.8 2.8 0 1 0 5.7 0a2.8 2.8 0 1 0 -5.7 0M-4.7 249.3a2.9 2.9 0 1 0 5.7 0a2.9 2.9 0 1 0 -5.7 0M176.1 3.8a2.1 2.1 0 1 0 4.3 0a2.1 2.1 0 1 0 -4.3 0M161.2 54.0a2.5 2.5 0 1 0 5.1 0a2.5 2.5 0 1 0 -5.1 0M318.8 144.8a2.4 2.4 0 1 0 4.9 0a2.4 2.4 0 1 0 -4.9 0M28.3 305.5a1.9 1.9 0 1 0 3.9 0a1.9 1.9 0 1 0 -3.9 0M126.8 125.2a2.3 2.3 0 1 0 4.6 0a2.3 2.3 0 1 0 -4.6 0M240.3 322.2a2.3 2.3 0 1 0 4.7 0a2.3 2.3 0 1 0 -4.7 0M54.1 14.8a2.8 2.8 0 1 0 5.6 0a2.8 2.8 0 1 0 -5.6 0M52.8 11.4a3.2 3.2 0 1 0 6.3 0a3.2 3.2 0 1 0 -6.3 0M54.4 13.3a2.2 2.2 0 1 0 4.4 0a2.2 2.2 0 1 0 -4.4 0M-6.8 161.8a2.3 2.3 0 1 0 4.6 0a2.3 2.3 0 1 0 -4.6 0M42.8 31.3a2.2 2.2 0 1 0 4.4 0a2.2 2.2 0 1 0 -4.4 0M45.9 32.7a1.8 1.8 0 1 0 3.7 0a1.8 1.8 0 1 0 -3.7 0M137.4 17.8a3.2 3.2 0 1 0 6.3 0a3.2 3.2 0 1 0 -6.3 0M-4.0 108.2a2.6 2.6 0 1 0 5.1 0a2.6 2.6 0 1 0 -5.1 0M313.2 193.2a2.1 2.1 0 1 0 4.3 0a2.1 2.1 0 1 0 -4.3 0M309.0 187.2a2.2 2.2 0 1 0 4.4 0a2.2 2.2 0 1 0 -4.4 0M111.8 322.5a2.3 2.3 0 1 0 4.6 0a2.3 2.3 0 1 0 -4.6 0M219.1 10.7a2.6 2.6 0 1 0 5.2 0a2.6 2.6 0 1 0 -5.2 0M14.9 237.7a2.9 2.9 0 1 0 5.7 0a2.9 2.9 0 1 0 -5.7 0M264.4 178.7a2.4 2.4 0 1 0 4.7 0a2.4 2.4 0 1 0 -4.7 0M75.9 93.5a2.0 2.0 0 1 0 3.9 0a2.0 2.0 0 1 0 -3.9 0M335.4 97.3a2.8 2.8 0 1 0 5.5 0a2.8 2.8 0 1 0 -5.5 0M88.0 53.7a2.8 2.8 0 1 0 5.5 0a2.8 2.8 0 1 0 -5.5 0M110.3 265.0a2.2 2.2 0 1 0 4.5 0a2.2 2.2 0 1 0 -4.5 0M107.5 266.3a3.0 3.0 0 1 0 6.0 0a3.0 3.0 0 1 0 -6.0 0M345.7 71.5a2.3 2.3 0 1 0 4.5 0a2.3 2.3 0 1 0 -4.5 0M260.3 102.1a1.9 1.9 0 1 0 3.8 0a1.9 1.9 0 1 0 -3.8 0M13.5 155.9a2.7 2.7 0 1 0 5.3 0a2.7 2.7 0 1 0 -5.3 0M14.1 157.1a2.8 2.8 0 1 0 5.7 0a2.8 2.8 0 1 0 -5.7 0M330.7 309.1a2.5 2.5 0 1 0 4.9 0a2.5 2.5 0 1 0 -4.9 0M47.9 286.6a2.6 2.6 0 1 0 5.1 0a2.6 2.6 0 1 0 -5.1 0M286.9 276.8a2.2 2.2 0 1 0 4.5 0a2.2 2.2 0 1 0 -4.5 0M48.9 117.8a2.5 2.5 0 1 0 5.0 0a2.5 2.5 0 1 0 -5.0 0M235.6 123.8a2.0 2.0 0 1 0 4.0 0a2.0 2.0 0 1 0 -4.0 0M-8.9 23.1a2.8 2.8 0 1 0 5.5 0a2.8 2.8 0 1 0 -5.5 0M256.6 303.5a2.2 2.2 0 1 0 4.5 0a2.2 2.2 0 1 0 -4.5 0M115.5 -6.5a2.8 2.8 0 1 0 5.6 0a2.8 2.8 0 1 0 -5.6 0M145.1 108.2a2.6 2.6 0 1 0 5.2 0a2.6 2.6 0 1 0 -5.2 0M128.9 36.2a2.3 2.3 0 1 0 4.6 0a2.3 2.3 0 1 0 -4.6 0M200.0 281.9a2.5 2.5 0 1 0 5.0 0a2.5 2.5 0 1 0 -5.0 0M92.6 183.6a2.4 2.4 0 1 0 4.9 0a2.4 2.4 0 1 0 -4.9 0M89.6 175.0a2.9 2.9 0 1 0 5.8 0a2.9 2.9 0 1 0 -5.8 0M88.3 179.8a3.1 3.1 0 1 0 6.1 0a3.1 3.1 0 1 0 -6.1 0M-8.0 131.0a2.1 2.1 0 1 0 4.3 0a2.1 2.1 0 1 0 -4.3 0M339.1 205.3a2.1 2.1 0 1 0 4.1 0a2.1 2.1 0 1 0 -4.1 0M342.0 205.3a2.8 2.8 0 1 0 5.5 0a2.8 2.8 0 1 0 -5.5 0M42.3 104.0a2.4 2.4 0 1 0 4.8 0a2.4 2.4 0 1 0 -4.8 0M239.0 284.7a3.0 3.0 0 1 0 6.1 0a3.0 3.0 0 1 0 -6.1 0M188.3 231.3a2.7 2.7 0 1 0 5.3 0a2.7 2.7 0 1 0 -5.3 0M37.2 173.2a3.1 3.1 0 1 0 6.1 0a3.1 3.1 0 1 0 -6.1 0M347.9 19.7a2.5 2.5 0 1 0 5.0 0a2.5 2.5 0 1 0 -5.0 0M212.3 160.3a2.1 2.1 0 1 0 4.3 0a2.1 2.1 0 1 0 -4.3 0M95.4 205.8a3.0 3.0 0 1 0 5.9 0a3.0 3.0 0 1 0 -5.9 0M93.1 240.7a2.3 2.3 0 1 0 4.5 0a2.3 2.3 0 1 0 -4.5 0M97.3 244.5a2.0 2.0 0 1 0 4.0 0a2.0 2.0 0 1 0 -4.0 0M319.9 100.7a2.8 2.8 0 1 0 5.6 0a2.8 2.8 0 1 0 -5.6 0M210.2 301.7a2.9 2.9 0 1 0 5.7 0a2.9 2.9 0 1 0 -5.7 0M52.4 236.0a2.3 2.3 0 1 0 4.5 0a2.3 2.3 0 1 0 -4.5 0M209.1 195.8a1.8 1.8 0 1 0 3.6 0a1.8 1.8 0 1 0 -3.6 0M138.3 184.4a2.2 2.2 0 1 0 4.3 0a2.2 2.2 0 1 0 -4.3 0M123.6 281.6a2.8 2.8 0 1 0 5.6 0a2.8 2.8 0 1 0 -5.6 0M249.9 195.8a2.1 2.1 0 1 0 4.2 0a2.1 2.1 0 1 0 -4.2 0M172.3 268.7a1.9 1.9 0 1 0 3.7 0a1.9 1.9 0 1 0 -3.7 0M121.8 335.9a1.9 1.9 0 1 0 3.8 0a1.9 1.9 0 1 0 -3.8 0M126.5 339.7a1.9 1.9 0 1 0 3.9 0a1.9 1.9 0 1 0 -3.9 0M274.6 126.2a2.1 2.1 0 1 0 4.1 0a2.1 2.1 0 1 0 -4.1 0M227.9 83.7a2.1 2.1 0 1 0 4.2 0a2.1 2.1 0 1 0 -4.2 0M308.2 -6.0a2.5 2.5 0 1 0 5.1 0a2.5 2.5 0 1 0 -5.1 0M201.8 111.0a2.8 2.8 0 1 0 5.7 0a2.8 2.8 0 1 0 -5.7 0M198.3 111.8a3.1 3.1 0 1 0 6.2 0a3.1 3.1 0 1 0 -6.2 0M72.1 170.5a2.7 2.7 0 1 0 5.4 0a2.7 2.7 0 1 0 -5.4 0" fill="#1eff1e" filter="url(#eb08)"/>
<rect x="0" y="0" width="344.4" height="343.6" fill="#fff" filter="url(#grain)" opacity="0.4" style="mix-blend-mode:overlay"/>
<rect x="0.5" y="0.5" width="343.4" height="342.6" fill="none" stroke="#052005" stroke-width="1" opacity="0.6"/>
<rect x="279.4" y="314.4" width="48.6" height="3.3" fill="#fff"/>
<text x="303.6" y="326.9" font-size="9.4" text-anchor="middle" fill="#fff" class="w" font-family="'DejaVu Sans', sans-serif">20 µm</text>
</g>
<g transform="translate(1215.6 1158)" clip-path="url(#ecl)">
<rect x="0" y="0" width="344.4" height="343.6" fill="#0a820a"/>
<path d="M327.6 43.9a7.9 7.9 0 1 0 15.9 0a7.9 7.9 0 1 0 -15.9 0M341.5 59.5a8.4 8.4 0 1 0 16.8 0a8.4 8.4 0 1 0 -16.8 0M216.5 116.9a9.6 9.6 0 1 0 19.3 0a9.6 9.6 0 1 0 -19.3 0M67.9 335.2a8.7 8.7 0 1 0 17.5 0a8.7 8.7 0 1 0 -17.5 0M198.9 325.5a9.4 9.4 0 1 0 18.8 0a9.4 9.4 0 1 0 -18.8 0M315.6 245.8a7.6 7.6 0 1 0 15.2 0a7.6 7.6 0 1 0 -15.2 0M299.6 203.6a8.6 8.6 0 1 0 17.1 0a8.6 8.6 0 1 0 -17.1 0M52.1 296.2a9.6 9.6 0 1 0 19.2 0a9.6 9.6 0 1 0 -19.2 0M318.7 269.2a9.6 9.6 0 1 0 19.2 0a9.6 9.6 0 1 0 -19.2 0M186.4 242.3a9.4 9.4 0 1 0 18.8 0a9.4 9.4 0 1 0 -18.8 0M262.8 333.5a9.6 9.6 0 1 0 19.2 0a9.6 9.6 0 1 0 -19.2 0M35.5 287.5a9.2 9.2 0 1 0 18.4 0a9.2 9.2 0 1 0 -18.4 0M50.5 11.5a9.4 9.4 0 1 0 18.9 0a9.4 9.4 0 1 0 -18.9 0M-3.7 323.0a9.2 9.2 0 1 0 18.4 0a9.2 9.2 0 1 0 -18.4 0M169.5 139.6a8.9 8.9 0 1 0 17.8 0a8.9 8.9 0 1 0 -17.8 0M312.4 103.3a8.2 8.2 0 1 0 16.4 0a8.2 8.2 0 1 0 -16.4 0M192.4 99.7a9.2 9.2 0 1 0 18.5 0a9.2 9.2 0 1 0 -18.5 0M172.0 25.3a10.3 10.3 0 1 0 20.6 0a10.3 10.3 0 1 0 -20.6 0M112.2 147.5a8.5 8.5 0 1 0 17.0 0a8.5 8.5 0 1 0 -17.0 0M316.8 332.6a8.5 8.5 0 1 0 17.0 0a8.5 8.5 0 1 0 -17.0 0M127.0 28.3a9.8 9.8 0 1 0 19.7 0a9.8 9.8 0 1 0 -19.7 0M46.7 188.4a8.4 8.4 0 1 0 16.8 0a8.4 8.4 0 1 0 -16.8 0M102.8 121.0a8.3 8.3 0 1 0 16.5 0a8.3 8.3 0 1 0 -16.5 0M-2.4 184.4a9.6 9.6 0 1 0 19.2 0a9.6 9.6 0 1 0 -19.2 0M215.6 65.7a9.0 9.0 0 1 0 18.0 0a9.0 9.0 0 1 0 -18.0 0M2.5 140.1a10.0 10.0 0 1 0 20.1 0a10.0 10.0 0 1 0 -20.1 0M312.3 157.8a9.9 9.9 0 1 0 19.9 0a9.9 9.9 0 1 0 -19.9 0M162.1 180.3a9.6 9.6 0 1 0 19.2 0a9.6 9.6 0 1 0 -19.2 0M338.7 258.5a8.6 8.6 0 1 0 17.1 0a8.6 8.6 0 1 0 -17.1 0M244.9 222.7a8.3 8.3 0 1 0 16.5 0a8.3 8.3 0 1 0 -16.5 0M264.6 285.5a8.9 8.9 0 1 0 17.9 0a8.9 8.9 0 1 0 -17.9 0M321.4 0.5a8.6 8.6 0 1 0 17.1 0a8.6 8.6 0 1 0 -17.1 0M232.6 148.5a8.0 8.0 0 1 0 16.0 0a8.0 8.0 0 1 0 -16.0 0M27.6 70.9a8.5 8.5 0 1 0 16.9 0a8.5 8.5 0 1 0 -16.9 0M294.1 58.2a8.6 8.6 0 1 0 17.1 0a8.6 8.6 0 1 0 -17.1 0M20.7 161.1a8.0 8.0 0 1 0 16.1 0a8.0 8.0 0 1 0 -16.1 0M106.5 255.3a10.2 10.2 0 1 0 20.4 0a10.2 10.2 0 1 0 -20.4 0M282.3 7.6a9.0 9.0 0 1 0 17.9 0a9.0 9.0 0 1 0 -17.9 0M68.4 88.7a7.8 7.8 0 1 0 15.6 0a7.8 7.8 0 1 0 -15.6 0M215.2 14.2a9.1 9.1 0 1 0 18.1 0a9.1 9.1 0 1 0 -18.1 0M-3.0 266.5a7.7 7.7 0 1 0 15.3 0a7.7 7.7 0 1 0 -15.3 0M209.2 344.5a10.1 10.1 0 1 0 20.1 0a10.1 10.1 0 1 0 -20.1 0M68.7 184.1a8.5 8.5 0 1 0 16.9 0a8.5 8.5 0 1 0 -16.9 0M106.5 301.2a9.5 9.5 0 1 0 19.0 0a9.5 9.5 0 1 0 -19.0 0M-12.2 129.1a9.5 9.5 0 1 0 18.9 0a9.5 9.5 0 1 0 -18.9 0M180.9 122.8a9.6 9.6 0 1 0 19.3 0a9.6 9.6 0 1 0 -19.3 0M168.3 61.0a8.5 8.5 0 1 0 16.9 0a8.5 8.5 0 1 0 -16.9 0M232.6 284.7a9.7 9.7 0 1 0 19.5 0a9.7 9.7 0 1 0 -19.5 0M51.7 138.3a10.2 10.2 0 1 0 20.5 0a10.2 10.2 0 1 0 -20.5 0M255.8 131.5a9.7 9.7 0 1 0 19.4 0a9.7 9.7 0 1 0 -19.4 0M55.2 51.5a8.3 8.3 0 1 0 16.5 0a8.3 8.3 0 1 0 -16.5 0M120.0 77.9a9.3 9.3 0 1 0 18.6 0a9.3 9.3 0 1 0 -18.6 0M258.0 1.8a9.6 9.6 0 1 0 19.2 0a9.6 9.6 0 1 0 -19.2 0M20.7 17.7a8.4 8.4 0 1 0 16.8 0a8.4 8.4 0 1 0 -16.8 0M164.3 327.7a9.6 9.6 0 1 0 19.1 0a9.6 9.6 0 1 0 -19.1 0M131.8 215.3a9.0 9.0 0 1 0 18.0 0a9.0 9.0 0 1 0 -18.0 0M102.4 339.1a10.0 10.0 0 1 0 20.1 0a10.0 10.0 0 1 0 -20.1 0M243.2 314.5a9.9 9.9 0 1 0 19.8 0a9.9 9.9 0 1 0 -19.8 0M69.2 14.4a9.8 9.8 0 1 0 19.5 0a9.8 9.8 0 1 0 -19.5 0M92.0 2.5a8.3 8.3 0 1 0 16.6 0a8.3 8.3 0 1 0 -16.6 0M48.2 163.5a8.3 8.3 0 1 0 16.7 0a8.3 8.3 0 1 0 -16.7 0M111.6 283.2a8.6 8.6 0 1 0 17.3 0a8.6 8.6 0 1 0 -17.3 0M176.6 306.2a10.3 10.3 0 1 0 20.6 0a10.3 10.3 0 1 0 -20.6 0M117.5 8.4a10.0 10.0 0 1 0 20.1 0a10.0 10.0 0 1 0 -20.1 0M70.8 104.4a8.4 8.4 0 1 0 16.9 0a8.4 8.4 0 1 0 -16.9 0M1.4 347.6a10.1 10.1 0 1 0 20.2 0a10.1 10.1 0 1 0 -20.2 0M120.8 319.2a8.9 8.9 0 1 0 17.8 0a8.9 8.9 0 1 0 -17.8 0M150.0 218.3a7.6 7.6 0 1 0 15.2 0a7.6 7.6 0 1 0 -15.2 0M114.8 95.7a7.9 7.9 0 1 0 15.7 0a7.9 7.9 0 1 0 -15.7 0M14.4 49.0a8.8 8.8 0 1 0 17.7 0a8.8 8.8 0 1 0 -17.7 0M262.2 71.2a9.2 9.2 0 1 0 18.3 0a9.2 9.2 0 1 0 -18.3 0M212.5 217.8a8.2 8.2 0 1 0 16.3 0a8.2 8.2 0 1 0 -16.3 0M69.7 239.0a9.6 9.6 0 1 0 19.1 0a9.6 9.6 0 1 0 -19.1 0M183.8 286.7a8.5 8.5 0 1 0 17.0 0a8.5 8.5 0 1 0 -17.0 0M295.3 272.3a8.3 8.3 0 1 0 16.6 0a8.3 8.3 0 1 0 -16.6 0M199.4 79.4a9.1 9.1 0 1 0 18.2 0a9.1 9.1 0 1 0 -18.2 0M334.5 200.4a8.6 8.6 0 1 0 17.1 0a8.6 8.6 0 1 0 -17.1 0M2.3 209.1a8.1 8.1 0 1 0 16.2 0a8.1 8.1 0 1 0 -16.2 0M261.8 39.1a9.1 9.1 0 1 0 18.2 0a9.1 9.1 0 1 0 -18.2 0M240.4 76.9a8.1 8.1 0 1 0 16.2 0a8.1 8.1 0 1 0 -16.2 0M118.6 224.8a8.1 8.1 0 1 0 16.3 0a8.1 8.1 0 1 0 -16.3 0M-12.3 151.0a9.4 9.4 0 1 0 18.9 0a9.4 9.4 0 1 0 -18.9 0M41.7 328.5a8.6 8.6 0 1 0 17.1 0a8.6 8.6 0 1 0 -17.1 0M42.1 29.6a9.1 9.1 0 1 0 18.2 0a9.1 9.1 0 1 0 -18.2 0M163.4 84.3a9.2 9.2 0 1 0 18.5 0a9.2 9.2 0 1 0 -18.5 0M145.8 242.0a8.9 8.9 0 1 0 17.7 0a8.9 8.9 0 1 0 -17.7 0M278.5 186.4a10.0 10.0 0 1 0 20.0 0a10.0 10.0 0 1 0 -20.0 0M183.6 46.1a10.1 10.1 0 1 0 20.3 0a10.1 10.1 0 1 0 -20.3 0M231.5 185.3a8.4 8.4 0 1 0 16.8 0a8.4 8.4 0 1 0 -16.8 0M290.4 132.3a8.3 8.3 0 1 0 16.5 0a8.3 8.3 0 1 0 -16.5 0M204.3 276.1a8.2 8.2 0 1 0 16.3 0a8.2 8.2 0 1 0 -16.3 0M86.3 222.4a8.3 8.3 0 1 0 16.6 0a8.3 8.3 0 1 0 -16.6 0M275.0 106.2a10.1 10.1 0 1 0 20.1 0a10.1 10.1 0 1 0 -20.1 0M148.4 52.9a7.7 7.7 0 1 0 15.4 0a7.7 7.7 0 1 0 -15.4 0M268.1 218.5a8.9 8.9 0 1 0 17.8 0a8.9 8.9 0 1 0 -17.8 0M221.9 254.5a8.8 8.8 0 1 0 17.6 0a8.8 8.8 0 1 0 -17.6 0M156.0 2.9a8.5 8.5 0 1 0 17.0 0a8.5 8.5 0 1 0 -17.0 0M27.7 118.4a8.3 8.3 0 1 0 16.6 0a8.3 8.3 0 1 0 -16.6 0M39.1 227.8a8.3 8.3 0 1 0 16.6 0a8.3 8.3 0 1 0 -16.6 0M29.4 98.8a8.3 8.3 0 1 0 16.7 0a8.3 8.3 0 1 0 -16.7 0M2.6 167.0a9.2 9.2 0 1 0 18.3 0a9.2 9.2 0 1 0 -18.3 0M24.5 142.7a9.3 9.3 0 1 0 18.5 0a9.3 9.3 0 1 0 -18.5 0M-15.2 249.5a9.7 9.7 0 1 0 19.4 0a9.7 9.7 0 1 0 -19.4 0M265.4 167.1a8.9 8.9 0 1 0 17.7 0a8.9 8.9 0 1 0 -17.7 0M67.7 39.2a9.3 9.3 0 1 0 18.7 0a9.3 9.3 0 1 0 -18.7 0M192.0 2.7a8.7 8.7 0 1 0 17.4 0a8.7 8.7 0 1 0 -17.4 0M135.5 290.6a8.5 8.5 0 1 0 16.9 0a8.5 8.5 0 1 0 -16.9 0M287.9 300.2a8.9 8.9 0 1 0 17.7 0a8.9 8.9 0 1 0 -17.7 0M80.5 123.2a8.4 8.4 0 1 0 16.8 0a8.4 8.4 0 1 0 -16.8 0M80.7 266.6a10.4 10.4 0 1 0 20.9 0a10.4 10.4 0 1 0 -20.9 0M249.5 264.4a9.7 9.7 0 1 0 19.3 0a9.7 9.7 0 1 0 -19.3 0M160.4 349.2a9.2 9.2 0 1 0 18.4 0a9.2 9.2 0 1 0 -18.4 0M70.1 147.2a7.7 7.7 0 1 0 15.3 0a7.7 7.7 0 1 0 -15.3 0M173.2 271.0a7.6 7.6 0 1 0 15.3 0a7.6 7.6 0 1 0 -15.3 0M111.2 165.9a8.9 8.9 0 1 0 17.8 0a8.9 8.9 0 1 0 -17.8 0M228.0 327.2a10.1 10.1 0 1 0 20.2 0a10.1 10.1 0 1 0 -20.2 0M-1.4 237.3a8.1 8.1 0 1 0 16.3 0a8.1 8.1 0 1 0 -16.3 0M60.2 70.5a8.7 8.7 0 1 0 17.4 0a8.7 8.7 0 1 0 -17.4 0M2.7 25.7a8.2 8.2 0 1 0 16.5 0a8.2 8.2 0 1 0 -16.5 0M246.4 339.1a9.0 9.0 0 1 0 18.1 0a9.0 9.0 0 1 0 -18.1 0M292.3 344.1a10.0 10.0 0 1 0 20.0 0a10.0 10.0 0 1 0 -20.0 0M86.3 59.5a8.9 8.9 0 1 0 17.9 0a8.9 8.9 0 1 0 -17.9 0M252.1 182.5a7.9 7.9 0 1 0 15.8 0a7.9 7.9 0 1 0 -15.8 0M144.9 70.0a8.1 8.1 0 1 0 16.2 0a8.1 8.1 0 1 0 -16.2 0M170.9 206.2a9.5 9.5 0 1 0 19.0 0a9.5 9.5 0 1 0 -19.0 0M94.2 312.9a8.6 8.6 0 1 0 17.2 0a8.6 8.6 0 1 0 -17.2 0M337.0 287.2a8.8 8.8 0 1 0 17.6 0a8.8 8.8 0 1 0 -17.6 0M141.4 194.0a9.4 9.4 0 1 0 18.8 0a9.4 9.4 0 1 0 -18.8 0M103.2 49.5a9.9 9.9 0 1 0 19.8 0a9.9 9.9 0 1 0 -19.8 0M20.7 195.7a9.3 9.3 0 1 0 18.7 0a9.3 9.3 0 1 0 -18.7 0M239.9 59.1a9.2 9.2 0 1 0 18.3 0a9.2 9.2 0 1 0 -18.3 0M90.9 152.8a9.7 9.7 0 1 0 19.4 0a9.7 9.7 0 1 0 -19.4 0M27.5 242.4a8.6 8.6 0 1 0 17.3 0a8.6 8.6 0 1 0 -17.3 0M287.1 165.9a9.7 9.7 0 1 0 19.3 0a9.7 9.7 0 1 0 -19.3 0M282.5 30.7a8.3 8.3 0 1 0 16.6 0a8.3 8.3 0 1 0 -16.6 0M128.3 344.4a9.8 9.8 0 1 0 19.5 0a9.8 9.8 0 1 0 -19.5 0M144.3 97.2a9.1 9.1 0 1 0 18.2 0a9.1 9.1 0 1 0 -18.2 0M304.0 308.1a8.7 8.7 0 1 0 17.4 0a8.7 8.7 0 1 0 -17.4 0M304.7 182.7a8.8 8.8 0 1 0 17.7 0a8.8 8.8 0 1 0 -17.7 0M337.4 346.5a7.8 7.8 0 1 0 15.7 0a7.8 7.8 0 1 0 -15.7 0M19.4 317.9a10.2 10.2 0 1 0 20.4 0a10.2 10.2 0 1 0 -20.4 0M189.8 348.1a8.7 8.7 0 1 0 17.4 0a8.7 8.7 0 1 0 -17.4 0M118.2 123.2a8.8 8.8 0 1 0 17.6 0a8.8 8.8 0 1 0 -17.6 0M252.3 299.2a7.8 7.8 0 1 0 15.6 0a7.8 7.8 0 1 0 -15.6 0M-15.6 29.3a9.9 9.9 0 1 0 19.8 0a9.9 9.9 0 1 0 -19.8 0M330.7 18.0a8.3 8.3 0 1 0 16.7 0a8.3 8.3 0 1 0 -16.7 0M287.9 324.9a10.2 10.2 0 1 0 20.4 0a10.2 10.2 0 1 0 -20.4 0M308.0 12.2a8.3 8.3 0 1 0 16.6 0a8.3 8.3 0 1 0 -16.6 0M233.2 97.7a9.5 9.5 0 1 0 18.9 0a9.5 9.5 0 1 0 -18.9 0M158.9 109.5a8.3 8.3 0 1 0 16.6 0a8.3 8.3 0 1 0 -16.6 0M336.5 314.2a8.2 8.2 0 1 0 16.4 0a8.2 8.2 0 1 0 -16.4 0M3.9 65.5a9.5 9.5 0 1 0 19.0 0a9.5 9.5 0 1 0 -19.0 0M340.1 85.7a9.7 9.7 0 1 0 19.3 0a9.7 9.7 0 1 0 -19.3 0M145.4 335.6a8.8 8.8 0 1 0 17.5 0a8.8 8.8 0 1 0 -17.5 0M257.8 110.5a8.8 8.8 0 1 0 17.7 0a8.8 8.8 0 1 0 -17.7 0M103.3 213.9a7.8 7.8 0 1 0 15.6 0a7.8 7.8 0 1 0 -15.6 0M188.8 184.1a9.2 9.2 0 1 0 18.5 0a9.2 9.2 0 1 0 -18.5 0M242.0 22.3a8.7 8.7 0 1 0 17.4 0a8.7 8.7 0 1 0 -17.4 0M235.6 -2.7a9.3 9.3 0 1 0 18.7 0a9.3 9.3 0 1 0 -18.7 0M-8.3 99.0a9.8 9.8 0 1 0 19.7 0a9.8 9.8 0 1 0 -19.7 0M332.0 105.1a9.9 9.9 0 1 0 19.7 0a9.9 9.9 0 1 0 -19.7 0M335.2 171.5a8.3 8.3 0 1 0 16.5 0a8.3 8.3 0 1 0 -16.5 0M210.1 179.2a9.6 9.6 0 1 0 19.2 0a9.6 9.6 0 1 0 -19.2 0M314.7 74.1a9.8 9.8 0 1 0 19.5 0a9.8 9.8 0 1 0 -19.5 0M14.6 223.3a9.2 9.2 0 1 0 18.5 0a9.2 9.2 0 1 0 -18.5 0M68.2 283.4a8.6 8.6 0 1 0 17.2 0a8.6 8.6 0 1 0 -17.2 0M220.8 231.7a9.4 9.4 0 1 0 18.9 0a9.4 9.4 0 1 0 -18.9 0M299.1 222.5a8.1 8.1 0 1 0 16.2 0a8.1 8.1 0 1 0 -16.2 0M308.1 283.9a8.8 8.8 0 1 0 17.7 0a8.8 8.8 0 1 0 -17.7 0M35.6 262.8a9.6 9.6 0 1 0 19.3 0a9.6 9.6 0 1 0 -19.3 0M273.8 269.7a9.0 9.0 0 1 0 17.9 0a9.0 9.0 0 1 0 -17.9 0M46.7 111.2a8.2 8.2 0 1 0 16.3 0a8.2 8.2 0 1 0 -16.3 0M89.4 201.9a8.7 8.7 0 1 0 17.4 0a8.7 8.7 0 1 0 -17.4 0M218.7 310.9a10.0 10.0 0 1 0 20.0 0a10.0 10.0 0 1 0 -20.0 0M141.5 120.0a9.4 9.4 0 1 0 18.9 0a9.4 9.4 0 1 0 -18.9 0M304.4 44.4a8.5 8.5 0 1 0 17.1 0a8.5 8.5 0 1 0 -17.1 0M242.6 167.2a9.4 9.4 0 1 0 18.8 0a9.4 9.4 0 1 0 -18.8 0M295.1 253.1a9.5 9.5 0 1 0 19.0 0a9.5 9.5 0 1 0 -19.0 0M71.4 166.6a8.5 8.5 0 1 0 17.1 0a8.5 8.5 0 1 0 -17.1 0M202.8 131.6a10.0 10.0 0 1 0 20.0 0a10.0 10.0 0 1 0 -20.0 0M202.2 234.4a8.2 8.2 0 1 0 16.3 0a8.2 8.2 0 1 0 -16.3 0M184.3 148.8a9.9 9.9 0 1 0 19.7 0a9.9 9.9 0 1 0 -19.7 0M305.7 139.2a8.0 8.0 0 1 0 16.1 0a8.0 8.0 0 1 0 -16.1 0M191.4 203.8a8.8 8.8 0 1 0 17.6 0a8.8 8.8 0 1 0 -17.6 0M324.7 121.7a9.6 9.6 0 1 0 19.1 0a9.6 9.6 0 1 0 -19.1 0M43.9 347.1a8.8 8.8 0 1 0 17.7 0a8.8 8.8 0 1 0 -17.7 0M71.6 215.5a7.9 7.9 0 1 0 15.9 0a7.9 7.9 0 1 0 -15.9 0M218.1 292.3a7.7 7.7 0 1 0 15.4 0a7.7 7.7 0 1 0 -15.4 0M200.7 53.3a9.9 9.9 0 1 0 19.8 0a9.9 9.9 0 1 0 -19.8 0M-6.7 49.7a9.8 9.8 0 1 0 19.7 0a9.8 9.8 0 1 0 -19.7 0M159.4 294.2a7.7 7.7 0 1 0 15.4 0a7.7 7.7 0 1 0 -15.4 0M214.6 89.0a9.8 9.8 0 1 0 19.6 0a9.8 9.8 0 1 0 -19.6 0M197.6 28.4a8.5 8.5 0 1 0 17.0 0a8.5 8.5 0 1 0 -17.0 0M32.5 0.3a10.0 10.0 0 1 0 20.0 0a10.0 10.0 0 1 0 -20.0 0M133.6 160.0a9.5 9.5 0 1 0 18.9 0a9.5 9.5 0 1 0 -18.9 0M119.0 183.0a8.5 8.5 0 1 0 17.0 0a8.5 8.5 0 1 0 -17.0 0M84.6 343.7a8.1 8.1 0 1 0 16.2 0a8.1 8.1 0 1 0 -16.2 0M93.5 176.3a8.0 8.0 0 1 0 16.1 0a8.0 8.0 0 1 0 -16.1 0M267.3 19.9a9.1 9.1 0 1 0 18.2 0a9.1 9.1 0 1 0 -18.2 0M289.9 93.9a8.5 8.5 0 1 0 17.1 0a8.5 8.5 0 1 0 -17.1 0M99.6 22.3a8.3 8.3 0 1 0 16.5 0a8.3 8.3 0 1 0 -16.5 0M-0.6 303.8a7.6 7.6 0 1 0 15.2 0a7.6 7.6 0 1 0 -15.2 0M88.7 87.9a9.5 9.5 0 1 0 19.1 0a9.5 9.5 0 1 0 -19.1 0M125.1 270.8a9.9 9.9 0 1 0 19.8 0a9.9 9.9 0 1 0 -19.8 0M159.2 259.9a8.4 8.4 0 1 0 16.9 0a8.4 8.4 0 1 0 -16.9 0M335.7 144.2a8.9 8.9 0 1 0 17.8 0a8.9 8.9 0 1 0 -17.8 0M68.5 316.3a9.7 9.7 0 1 0 19.4 0a9.7 9.7 0 1 0 -19.4 0M294.4 109.8a8.4 8.4 0 1 0 16.9 0a8.4 8.4 0 1 0 -16.9 0M131.5 134.7a9.0 9.0 0 1 0 18.0 0a9.0 9.0 0 1 0 -18.0 0M242.4 202.1a8.3 8.3 0 1 0 16.6 0a8.3 8.3 0 1 0 -16.6 0M56.2 257.6a9.7 9.7 0 1 0 19.3 0a9.7 9.7 0 1 0 -19.3 0M330.6 226.3a8.9 8.9 0 1 0 17.9 0a8.9 8.9 0 1 0 -17.9 0M127.7 251.3a9.0 9.0 0 1 0 17.9 0a9.0 9.0 0 1 0 -17.9 0M135.6 -5.6a8.7 8.7 0 1 0 17.5 0a8.7 8.7 0 1 0 -17.5 0M281.3 72.3a9.7 9.7 0 1 0 19.5 0a9.7 9.7 0 1 0 -19.5 0M172.4 5.9a9.6 9.6 0 1 0 19.1 0a9.6 9.6 0 1 0 -19.1 0M29.1 176.7a8.7 8.7 0 1 0 17.4 0a8.7 8.7 0 1 0 -17.4 0M45.4 80.3a8.5 8.5 0 1 0 17.0 0a8.5 8.5 0 1 0 -17.0 0M239.8 114.9a9.0 9.0 0 1 0 18.1 0a9.0 9.0 0 1 0 -18.1 0M130.6 56.5a8.0 8.0 0 1 0 16.1 0a8.0 8.0 0 1 0 -16.1 0M-7.6 8.4a8.5 8.5 0 1 0 17.0 0a8.5 8.5 0 1 0 -17.0 0M86.5 108.4a8.5 8.5 0 1 0 16.9 0a8.5 8.5 0 1 0 -16.9 0M88.9 286.5a8.1 8.1 0 1 0 16.2 0a8.1 8.1 0 1 0 -16.2 0M152.1 278.4a8.1 8.1 0 1 0 16.1 0a8.1 8.1 0 1 0 -16.1 0M295.9 -3.6a9.1 9.1 0 1 0 18.2 0a9.1 9.1 0 1 0 -18.2 0M145.1 313.2a9.8 9.8 0 1 0 19.7 0a9.8 9.8 0 1 0 -19.7 0M56.4 203.5a9.4 9.4 0 1 0 18.8 0a9.4 9.4 0 1 0 -18.8 0M-15.5 338.6a10.1 10.1 0 1 0 20.3 0a10.1 10.1 0 1 0 -20.3 0M174.4 163.0a8.6 8.6 0 1 0 17.2 0a8.6 8.6 0 1 0 -17.2 0M250.9 150.1a8.4 8.4 0 1 0 16.8 0a8.4 8.4 0 1 0 -16.8 0M229.0 44.6a8.7 8.7 0 1 0 17.4 0a8.7 8.7 0 1 0 -17.4 0M70.8 -3.5a8.8 8.8 0 1 0 17.7 0a8.8 8.8 0 1 0 -17.7 0M181.6 70.7a8.2 8.2 0 1 0 16.5 0a8.2 8.2 0 1 0 -16.5 0M213.7 153.2a8.7 8.7 0 1 0 17.4 0a8.7 8.7 0 1 0 -17.4 0M183.1 259.1a8.8 8.8 0 1 0 17.6 0a8.8 8.8 0 1 0 -17.6 0M89.6 238.1a9.0 9.0 0 1 0 18.0 0a9.0 9.0 0 1 0 -18.0 0M32.4 47.9a9.1 9.1 0 1 0 18.3 0a9.1 9.1 0 1 0 -18.3 0M201.4 296.9a7.9 7.9 0 1 0 15.8 0a7.9 7.9 0 1 0 -15.8 0M15.3 108.4a7.9 7.9 0 1 0 15.8 0a7.9 7.9 0 1 0 -15.8 0M271.1 54.6a10.0 10.0 0 1 0 20.0 0a10.0 10.0 0 1 0 -20.0 0M230.9 348.2a8.7 8.7 0 1 0 17.5 0a8.7 8.7 0 1 0 -17.5 0M27.1 338.6a8.4 8.4 0 1 0 16.8 0a8.4 8.4 0 1 0 -16.8 0M226.7 212.8a10.0 10.0 0 1 0 20.0 0a10.0 10.0 0 1 0 -20.0 0M317.1 213.0a10.0 10.0 0 1 0 20.0 0a10.0 10.0 0 1 0 -20.0 0M281.0 204.4a8.6 8.6 0 1 0 17.3 0a8.6 8.6 0 1 0 -17.3 0M265.3 197.5a8.5 8.5 0 1 0 17.0 0a8.5 8.5 0 1 0 -17.0 0M49.4 275.1a9.3 9.3 0 1 0 18.5 0a9.3 9.3 0 1 0 -18.5 0M19.5 290.6a8.1 8.1 0 1 0 16.2 0a8.1 8.1 0 1 0 -16.2 0M253.1 92.5a9.4 9.4 0 1 0 18.8 0a9.4 9.4 0 1 0 -18.8 0M193.3 167.2a7.8 7.8 0 1 0 15.6 0a7.8 7.8 0 1 0 -15.6 0M217.8 -5.5a9.4 9.4 0 1 0 18.9 0a9.4 9.4 0 1 0 -18.9 0M84.6 32.0a8.8 8.8 0 1 0 17.5 0a8.8 8.8 0 1 0 -17.5 0M213.6 35.4a8.9 8.9 0 1 0 17.8 0a8.9 8.9 0 1 0 -17.8 0M16.0 267.6a9.2 9.2 0 1 0 18.4 0a9.2 9.2 0 1 0 -18.4 0M276.6 239.8a9.4 9.4 0 1 0 18.7 0a9.4 9.4 0 1 0 -18.7 0M163.9 232.6a9.8 9.8 0 1 0 19.7 0a9.8 9.8 0 1 0 -19.7 0M150.5 169.8a8.2 8.2 0 1 0 16.4 0a8.2 8.2 0 1 0 -16.4 0M33.8 210.5a9.2 9.2 0 1 0 18.4 0a9.2 9.2 0 1 0 -18.4 0M154.1 27.3a7.9 7.9 0 1 0 15.7 0a7.9 7.9 0 1 0 -15.7 0M11.6 332.5a8.3 8.3 0 1 0 16.6 0a8.3 8.3 0 1 0 -16.6 0M322.1 189.1a8.4 8.4 0 1 0 16.8 0a8.4 8.4 0 1 0 -16.8 0M-16.3 78.5a10.3 10.3 0 1 0 20.6 0a10.3 10.3 0 1 0 -20.6 0M204.6 257.8a9.0 9.0 0 1 0 18.1 0a9.0 9.0 0 1 0 -18.1 0M-12.6 286.7a10.2 10.2 0 1 0 20.3 0a10.2 10.2 0 1 0 -20.3 0M341.5 239.2a8.6 8.6 0 1 0 17.3 0a8.6 8.6 0 1 0 -17.3 0M185.2 219.1a8.0 8.0 0 1 0 16.1 0a8.0 8.0 0 1 0 -16.1 0M162.1 43.8a8.6 8.6 0 1 0 17.3 0a8.6 8.6 0 1 0 -17.3 0M9.4 90.1a9.5 9.5 0 1 0 18.9 0a9.5 9.5 0 1 0 -18.9 0M268.6 149.8a8.8 8.8 0 1 0 17.7 0a8.8 8.8 0 1 0 -17.7 0M171.3 248.2a8.4 8.4 0 1 0 16.9 0a8.4 8.4 0 1 0 -16.9 0M268.2 312.6a9.8 9.8 0 1 0 19.5 0a9.8 9.8 0 1 0 -19.5 0M53.4 -5.6a8.6 8.6 0 1 0 17.2 0a8.6 8.6 0 1 0 -17.2 0M313.9 57.7a8.0 8.0 0 1 0 16.0 0a8.0 8.0 0 1 0 -16.0 0M158.8 154.7a8.2 8.2 0 1 0 16.3 0a8.2 8.2 0 1 0 -16.3 0M15.6 -0.2a8.9 8.9 0 1 0 17.7 0a8.9 8.9 0 1 0 -17.7 0M-12.6 169.6a7.7 7.7 0 1 0 15.5 0a7.7 7.7 0 1 0 -15.5 0M259.6 240.9a8.5 8.5 0 1 0 17.1 0a8.5 8.5 0 1 0 -17.1 0M48.5 242.9a8.0 8.0 0 1 0 16.0 0a8.0 8.0 0 1 0 -16.0 0M341.7 -2.6a8.4 8.4 0 1 0 16.8 0a8.4 8.4 0 1 0 -16.8 0M4.8 253.1a9.3 9.3 0 1 0 18.5 0a9.3 9.3 0 1 0 -18.5 0M212.6 197.6a8.4 8.4 0 1 0 16.8 0a8.4 8.4 0 1 0 -16.8 0M43.1 64.2a8.1 8.1 0 1 0 16.2 0a8.1 8.1 0 1 0 -16.2 0M297.5 25.8a9.6 9.6 0 1 0 19.2 0a9.6 9.6 0 1 0 -19.2 0M23.9 34.1a8.3 8.3 0 1 0 16.7 0a8.3 8.3 0 1 0 -16.7 0M128.4 102.7a8.4 8.4 0 1 0 16.8 0a8.4 8.4 0 1 0 -16.8 0M238.5 247.1a7.8 7.8 0 1 0 15.7 0a7.8 7.8 0 1 0 -15.7 0M105.2 191.6a8.3 8.3 0 1 0 16.7 0a8.3 8.3 0 1 0 -16.7 0M318.7 30.4a8.4 8.4 0 1 0 16.9 0a8.4 8.4 0 1 0 -16.9 0M-12.7 200.2a8.5 8.5 0 1 0 16.9 0a8.5 8.5 0 1 0 -16.9 0M93.8 135.1a8.2 8.2 0 1 0 16.3 0a8.2 8.2 0 1 0 -16.3 0M102.0 68.3a9.3 9.3 0 1 0 18.6 0a9.3 9.3 0 1 0 -18.6 0M273.7 87.3a7.9 7.9 0 1 0 15.9 0a7.9 7.9 0 1 0 -15.9 0M83.9 326.6a9.0 9.0 0 1 0 17.9 0a9.0 9.0 0 1 0 -17.9 0M-12.1 222.5a8.9 8.9 0 1 0 17.8 0a8.9 8.9 0 1 0 -17.8 0M320.5 302.6a8.6 8.6 0 1 0 17.1 0a8.6 8.6 0 1 0 -17.1 0M284.7 283.9a8.1 8.1 0 1 0 16.1 0a8.1 8.1 0 1 0 -16.1 0M57.2 226.9a8.6 8.6 0 1 0 17.2 0a8.6 8.6 0 1 0 -17.2 0M126.2 199.7a7.7 7.7 0 1 0 15.4 0a7.7 7.7 0 1 0 -15.4 0M38.9 309.2a8.3 8.3 0 1 0 16.7 0a8.3 8.3 0 1 0 -16.7 0M81.4 302.6a8.5 8.5 0 1 0 16.9 0a8.5 8.5 0 1 0 -16.9 0M288.4 148.4a8.6 8.6 0 1 0 17.2 0a8.6 8.6 0 1 0 -17.2 0M175.6 101.8a8.6 8.6 0 1 0 17.2 0a8.6 8.6 0 1 0 -17.2 0M62.9 122.1a9.3 9.3 0 1 0 18.5 0a9.3 9.3 0 1 0 -18.5 0M275.5 349.3a9.4 9.4 0 1 0 18.7 0a9.4 9.4 0 1 0 -18.7 0M136.3 12.3a9.1 9.1 0 1 0 18.2 0a9.1 9.1 0 1 0 -18.2 0M6.8 280.9a8.2 8.2 0 1 0 16.4 0a8.2 8.2 0 1 0 -16.4 0M224.9 167.0a8.3 8.3 0 1 0 16.5 0a8.3 8.3 0 1 0 -16.5 0M219.8 273.3a8.7 8.7 0 1 0 17.4 0a8.7 8.7 0 1 0 -17.4 0M151.4 138.4a8.3 8.3 0 1 0 16.7 0a8.3 8.3 0 1 0 -16.7 0M337.9 331.1a8.0 8.0 0 1 0 16.1 0a8.0 8.0 0 1 0 -16.1 0M308.6 120.6a8.4 8.4 0 1 0 16.9 0a8.4 8.4 0 1 0 -16.9 0M235.6 131.4a8.6 8.6 0 1 0 17.2 0a8.6 8.6 0 1 0 -17.2 0M156.7 203.9a7.8 7.8 0 1 0 15.5 0a7.8 7.8 0 1 0 -15.5 0M1.3 117.6a8.5 8.5 0 1 0 16.9 0a8.5 8.5 0 1 0 -16.9 0M273.1 123.7a8.4 8.4 0 1 0 16.8 0a8.4 8.4 0 1 0 -16.8 0" fill="#001e00" opacity="0.95" filter="url(#eb1)"/>
<path d="M330.8 42.9a4.9 4.9 0 1 0 9.8 0a4.9 4.9 0 1 0 -9.8 0M343.9 59.0a5.2 5.2 0 1 0 10.4 0a5.2 5.2 0 1 0 -10.4 0M220.1 116.0a6.0 6.0 0 1 0 11.9 0a6.0 6.0 0 1 0 -11.9 0M70.6 335.2a5.4 5.4 0 1 0 10.8 0a5.4 5.4 0 1 0 -10.8 0M202.8 326.3a5.8 5.8 0 1 0 11.6 0a5.8 5.8 0 1 0 -11.6 0M318.3 244.9a4.7 4.7 0 1 0 9.4 0a4.7 4.7 0 1 0 -9.4 0M302.0 203.8a5.3 5.3 0 1 0 10.6 0a5.3 5.3 0 1 0 -10.6 0M56.4 296.9a6.0 6.0 0 1 0 11.9 0a6.0 6.0 0 1 0 -11.9 0M322.3 268.4a6.0 6.0 0 1 0 11.9 0a6.0 6.0 0 1 0 -11.9 0M190.9 241.9a5.8 5.8 0 1 0 11.6 0a5.8 5.8 0 1 0 -11.6 0M266.6 333.5a5.9 5.9 0 1 0 11.9 0a5.9 5.9 0 1 0 -11.9 0M38.9 287.2a5.7 5.7 0 1 0 11.4 0a5.7 5.7 0 1 0 -11.4 0M53.3 11.0a5.9 5.9 0 1 0 11.7 0a5.9 5.9 0 1 0 -11.7 0M-0.5 323.7a5.7 5.7 0 1 0 11.4 0a5.7 5.7 0 1 0 -11.4 0M172.8 139.3a5.5 5.5 0 1 0 11.0 0a5.5 5.5 0 1 0 -11.0 0M315.7 104.0a5.1 5.1 0 1 0 10.2 0a5.1 5.1 0 1 0 -10.2 0M195.7 99.5a5.7 5.7 0 1 0 11.4 0a5.7 5.7 0 1 0 -11.4 0M176.7 24.6a6.4 6.4 0 1 0 12.8 0a6.4 6.4 0 1 0 -12.8 0M115.5 147.1a5.3 5.3 0 1 0 10.6 0a5.3 5.3 0 1 0 -10.6 0M319.7 332.1a5.3 5.3 0 1 0 10.6 0a5.3 5.3 0 1 0 -10.6 0M130.9 28.9a6.1 6.1 0 1 0 12.2 0a6.1 6.1 0 1 0 -12.2 0M50.7 188.9a5.2 5.2 0 1 0 10.4 0a5.2 5.2 0 1 0 -10.4 0M106.8 120.6a5.1 5.1 0 1 0 10.2 0a5.1 5.1 0 1 0 -10.2 0M0.9 184.6a6.0 6.0 0 1 0 11.9 0a6.0 6.0 0 1 0 -11.9 0M218.5 66.4a5.6 5.6 0 1 0 11.1 0a5.6 5.6 0 1 0 -11.1 0M6.7 140.4a6.2 6.2 0 1 0 12.4 0a6.2 6.2 0 1 0 -12.4 0M316.0 157.8a6.2 6.2 0 1 0 12.3 0a6.2 6.2 0 1 0 -12.3 0M165.1 180.6a5.9 5.9 0 1 0 11.9 0a5.9 5.9 0 1 0 -11.9 0M342.6 257.5a5.3 5.3 0 1 0 10.6 0a5.3 5.3 0 1 0 -10.6 0M247.7 223.0a5.1 5.1 0 1 0 10.3 0a5.1 5.1 0 1 0 -10.3 0M267.1 286.4a5.5 5.5 0 1 0 11.1 0a5.5 5.5 0 1 0 -11.1 0M324.4 1.4a5.3 5.3 0 1 0 10.6 0a5.3 5.3 0 1 0 -10.6 0M234.7 147.5a5.0 5.0 0 1 0 9.9 0a5.0 5.0 0 1 0 -9.9 0M31.8 71.2a5.2 5.2 0 1 0 10.5 0a5.2 5.2 0 1 0 -10.5 0M297.1 58.5a5.3 5.3 0 1 0 10.6 0a5.3 5.3 0 1 0 -10.6 0M24.1 161.4a5.0 5.0 0 1 0 10.0 0a5.0 5.0 0 1 0 -10.0 0M111.2 255.0a6.3 6.3 0 1 0 12.6 0a6.3 6.3 0 1 0 -12.6 0M285.9 8.2a5.6 5.6 0 1 0 11.1 0a5.6 5.6 0 1 0 -11.1 0M71.9 88.9a4.8 4.8 0 1 0 9.7 0a4.8 4.8 0 1 0 -9.7 0M218.9 15.1a5.6 5.6 0 1 0 11.2 0a5.6 5.6 0 1 0 -11.2 0M-0.6 266.0a4.7 4.7 0 1 0 9.5 0a4.7 4.7 0 1 0 -9.5 0M212.2 345.3a6.2 6.2 0 1 0 12.5 0a6.2 6.2 0 1 0 -12.5 0M72.8 185.0a5.2 5.2 0 1 0 10.5 0a5.2 5.2 0 1 0 -10.5 0M110.6 301.0a5.9 5.9 0 1 0 11.8 0a5.9 5.9 0 1 0 -11.8 0M-8.1 128.8a5.9 5.9 0 1 0 11.7 0a5.9 5.9 0 1 0 -11.7 0M185.4 123.3a6.0 6.0 0 1 0 11.9 0a6.0 6.0 0 1 0 -11.9 0M170.5 61.9a5.2 5.2 0 1 0 10.5 0a5.2 5.2 0 1 0 -10.5 0M236.4 285.2a6.0 6.0 0 1 0 12.1 0a6.0 6.0 0 1 0 -12.1 0M56.4 138.8a6.3 6.3 0 1 0 12.7 0a6.3 6.3 0 1 0 -12.7 0M259.2 131.9a6.0 6.0 0 1 0 12.0 0a6.0 6.0 0 1 0 -12.0 0M58.1 51.0a5.1 5.1 0 1 0 10.2 0a5.1 5.1 0 1 0 -10.2 0M123.2 77.5a5.8 5.8 0 1 0 11.6 0a5.8 5.8 0 1 0 -11.6 0M262.6 2.0a6.0 6.0 0 1 0 11.9 0a6.0 6.0 0 1 0 -11.9 0M24.1 17.1a5.2 5.2 0 1 0 10.4 0a5.2 5.2 0 1 0 -10.4 0M167.5 327.1a5.9 5.9 0 1 0 11.9 0a5.9 5.9 0 1 0 -11.9 0M134.7 214.4a5.6 5.6 0 1 0 11.1 0a5.6 5.6 0 1 0 -11.1 0M105.7 339.8a6.2 6.2 0 1 0 12.5 0a6.2 6.2 0 1 0 -12.5 0M247.5 315.0a6.1 6.1 0 1 0 12.3 0a6.1 6.1 0 1 0 -12.3 0M73.6 14.1a6.0 6.0 0 1 0 12.1 0a6.0 6.0 0 1 0 -12.1 0M96.0 2.4a5.1 5.1 0 1 0 10.3 0a5.1 5.1 0 1 0 -10.3 0M51.1 164.3a5.2 5.2 0 1 0 10.4 0a5.2 5.2 0 1 0 -10.4 0M114.5 283.7a5.4 5.4 0 1 0 10.7 0a5.4 5.4 0 1 0 -10.7 0M181.1 306.0a6.4 6.4 0 1 0 12.8 0a6.4 6.4 0 1 0 -12.8 0M120.8 9.0a6.2 6.2 0 1 0 12.5 0a6.2 6.2 0 1 0 -12.5 0M73.4 104.2a5.2 5.2 0 1 0 10.4 0a5.2 5.2 0 1 0 -10.4 0M4.4 346.9a6.3 6.3 0 1 0 12.5 0a6.3 6.3 0 1 0 -12.5 0M124.7 318.3a5.5 5.5 0 1 0 11.1 0a5.5 5.5 0 1 0 -11.1 0M152.8 217.6a4.7 4.7 0 1 0 9.4 0a4.7 4.7 0 1 0 -9.4 0M117.1 95.9a4.9 4.9 0 1 0 9.7 0a4.9 4.9 0 1 0 -9.7 0M17.0 48.2a5.5 5.5 0 1 0 10.9 0a5.5 5.5 0 1 0 -10.9 0M266.3 71.7a5.7 5.7 0 1 0 11.4 0a5.7 5.7 0 1 0 -11.4 0M214.7 218.3a5.1 5.1 0 1 0 10.1 0a5.1 5.1 0 1 0 -10.1 0M72.7 238.3a5.9 5.9 0 1 0 11.8 0a5.9 5.9 0 1 0 -11.8 0M187.9 286.6a5.3 5.3 0 1 0 10.6 0a5.3 5.3 0 1 0 -10.6 0M298.2 271.9a5.1 5.1 0 1 0 10.3 0a5.1 5.1 0 1 0 -10.3 0M202.0 78.5a5.7 5.7 0 1 0 11.3 0a5.7 5.7 0 1 0 -11.3 0M336.8 201.1a5.3 5.3 0 1 0 10.6 0a5.3 5.3 0 1 0 -10.6 0M4.4 208.3a5.0 5.0 0 1 0 10.0 0a5.0 5.0 0 1 0 -10.0 0M264.8 39.0a5.6 5.6 0 1 0 11.3 0a5.6 5.6 0 1 0 -11.3 0M242.8 77.1a5.0 5.0 0 1 0 10.0 0a5.0 5.0 0 1 0 -10.0 0M122.3 225.3a5.1 5.1 0 1 0 10.1 0a5.1 5.1 0 1 0 -10.1 0M-8.7 150.9a5.8 5.8 0 1 0 11.7 0a5.8 5.8 0 1 0 -11.7 0M44.3 328.6a5.3 5.3 0 1 0 10.6 0a5.3 5.3 0 1 0 -10.6 0M46.0 30.3a5.6 5.6 0 1 0 11.3 0a5.6 5.6 0 1 0 -11.3 0M167.8 85.1a5.7 5.7 0 1 0 11.4 0a5.7 5.7 0 1 0 -11.4 0M148.7 242.9a5.5 5.5 0 1 0 11.0 0a5.5 5.5 0 1 0 -11.0 0M281.3 185.5a6.2 6.2 0 1 0 12.4 0a6.2 6.2 0 1 0 -12.4 0M187.1 46.3a6.3 6.3 0 1 0 12.6 0a6.3 6.3 0 1 0 -12.6 0M234.4 185.8a5.2 5.2 0 1 0 10.4 0a5.2 5.2 0 1 0 -10.4 0M293.0 132.9a5.1 5.1 0 1 0 10.3 0a5.1 5.1 0 1 0 -10.3 0M206.8 275.5a5.1 5.1 0 1 0 10.1 0a5.1 5.1 0 1 0 -10.1 0M89.7 222.4a5.2 5.2 0 1 0 10.3 0a5.2 5.2 0 1 0 -10.3 0M279.1 106.7a6.2 6.2 0 1 0 12.5 0a6.2 6.2 0 1 0 -12.5 0M152.2 52.1a4.8 4.8 0 1 0 9.5 0a4.8 4.8 0 1 0 -9.5 0M272.2 218.7a5.5 5.5 0 1 0 11.0 0a5.5 5.5 0 1 0 -11.0 0M224.7 253.9a5.5 5.5 0 1 0 10.9 0a5.5 5.5 0 1 0 -10.9 0M159.8 2.4a5.3 5.3 0 1 0 10.5 0a5.3 5.3 0 1 0 -10.5 0M31.2 119.4a5.1 5.1 0 1 0 10.3 0a5.1 5.1 0 1 0 -10.3 0M42.9 227.6a5.1 5.1 0 1 0 10.3 0a5.1 5.1 0 1 0 -10.3 0M32.2 98.9a5.2 5.2 0 1 0 10.3 0a5.2 5.2 0 1 0 -10.3 0M6.8 167.4a5.7 5.7 0 1 0 11.4 0a5.7 5.7 0 1 0 -11.4 0M29.0 142.0a5.7 5.7 0 1 0 11.5 0a5.7 5.7 0 1 0 -11.5 0M-10.9 249.7a6.0 6.0 0 1 0 12.0 0a6.0 6.0 0 1 0 -12.0 0M269.2 167.1a5.5 5.5 0 1 0 11.0 0a5.5 5.5 0 1 0 -11.0 0M70.5 38.5a5.8 5.8 0 1 0 11.6 0a5.8 5.8 0 1 0 -11.6 0M196.1 2.4a5.4 5.4 0 1 0 10.8 0a5.4 5.4 0 1 0 -10.8 0M139.7 290.0a5.2 5.2 0 1 0 10.5 0a5.2 5.2 0 1 0 -10.5 0M290.9 299.7a5.5 5.5 0 1 0 11.0 0a5.5 5.5 0 1 0 -11.0 0M84.5 123.4a5.2 5.2 0 1 0 10.4 0a5.2 5.2 0 1 0 -10.4 0M85.0 266.7a6.5 6.5 0 1 0 12.9 0a6.5 6.5 0 1 0 -12.9 0M254.2 264.5a6.0 6.0 0 1 0 12.0 0a6.0 6.0 0 1 0 -12.0 0M163.3 348.9a5.7 5.7 0 1 0 11.4 0a5.7 5.7 0 1 0 -11.4 0M72.2 147.6a4.7 4.7 0 1 0 9.5 0a4.7 4.7 0 1 0 -9.5 0M177.0 271.1a4.7 4.7 0 1 0 9.5 0a4.7 4.7 0 1 0 -9.5 0M115.5 166.3a5.5 5.5 0 1 0 11.0 0a5.5 5.5 0 1 0 -11.0 0M231.6 326.2a6.3 6.3 0 1 0 12.5 0a6.3 6.3 0 1 0 -12.5 0M1.9 237.4a5.0 5.0 0 1 0 10.1 0a5.0 5.0 0 1 0 -10.1 0M64.0 70.3a5.4 5.4 0 1 0 10.8 0a5.4 5.4 0 1 0 -10.8 0M6.6 25.9a5.1 5.1 0 1 0 10.2 0a5.1 5.1 0 1 0 -10.2 0M249.8 338.1a5.6 5.6 0 1 0 11.2 0a5.6 5.6 0 1 0 -11.2 0M296.9 344.0a6.2 6.2 0 1 0 12.4 0a6.2 6.2 0 1 0 -12.4 0M90.2 58.6a5.5 5.5 0 1 0 11.1 0a5.5 5.5 0 1 0 -11.1 0M254.4 181.7a4.9 4.9 0 1 0 9.8 0a4.9 4.9 0 1 0 -9.8 0M147.8 69.6a5.0 5.0 0 1 0 10.0 0a5.0 5.0 0 1 0 -10.0 0M175.2 205.5a5.9 5.9 0 1 0 11.8 0a5.9 5.9 0 1 0 -11.8 0M97.1 313.8a5.3 5.3 0 1 0 10.7 0a5.3 5.3 0 1 0 -10.7 0M339.9 288.0a5.4 5.4 0 1 0 10.9 0a5.4 5.4 0 1 0 -10.9 0M145.7 194.6a5.8 5.8 0 1 0 11.7 0a5.8 5.8 0 1 0 -11.7 0M108.0 49.4a6.1 6.1 0 1 0 12.3 0a6.1 6.1 0 1 0 -12.3 0M25.0 196.3a5.8 5.8 0 1 0 11.6 0a5.8 5.8 0 1 0 -11.6 0M243.9 59.2a5.7 5.7 0 1 0 11.4 0a5.7 5.7 0 1 0 -11.4 0M94.4 152.3a6.0 6.0 0 1 0 12.0 0a6.0 6.0 0 1 0 -12.0 0M30.1 242.0a5.4 5.4 0 1 0 10.7 0a5.4 5.4 0 1 0 -10.7 0M290.3 166.6a6.0 6.0 0 1 0 12.0 0a6.0 6.0 0 1 0 -12.0 0M285.7 30.1a5.1 5.1 0 1 0 10.3 0a5.1 5.1 0 1 0 -10.3 0M132.0 343.6a6.0 6.0 0 1 0 12.1 0a6.0 6.0 0 1 0 -12.1 0M147.6 96.6a5.6 5.6 0 1 0 11.3 0a5.6 5.6 0 1 0 -11.3 0M307.7 308.8a5.4 5.4 0 1 0 10.8 0a5.4 5.4 0 1 0 -10.8 0M308.1 182.9a5.5 5.5 0 1 0 11.0 0a5.5 5.5 0 1 0 -11.0 0M340.2 346.6a4.9 4.9 0 1 0 9.7 0a4.9 4.9 0 1 0 -9.7 0M23.4 318.5a6.3 6.3 0 1 0 12.6 0a6.3 6.3 0 1 0 -12.6 0M193.2 347.8a5.4 5.4 0 1 0 10.8 0a5.4 5.4 0 1 0 -10.8 0M121.1 122.5a5.5 5.5 0 1 0 10.9 0a5.5 5.5 0 1 0 -10.9 0M254.7 299.9a4.8 4.8 0 1 0 9.7 0a4.8 4.8 0 1 0 -9.7 0M-11.4 29.4a6.2 6.2 0 1 0 12.3 0a6.2 6.2 0 1 0 -12.3 0M333.9 18.4a5.2 5.2 0 1 0 10.3 0a5.2 5.2 0 1 0 -10.3 0M291.1 325.5a6.3 6.3 0 1 0 12.7 0a6.3 6.3 0 1 0 -12.7 0M310.7 12.4a5.1 5.1 0 1 0 10.3 0a5.1 5.1 0 1 0 -10.3 0M237.1 98.0a5.9 5.9 0 1 0 11.7 0a5.9 5.9 0 1 0 -11.7 0M162.5 110.3a5.1 5.1 0 1 0 10.3 0a5.1 5.1 0 1 0 -10.3 0M339.4 313.8a5.1 5.1 0 1 0 10.1 0a5.1 5.1 0 1 0 -10.1 0M8.5 66.4a5.9 5.9 0 1 0 11.8 0a5.9 5.9 0 1 0 -11.8 0M344.7 85.1a6.0 6.0 0 1 0 12.0 0a6.0 6.0 0 1 0 -12.0 0M149.7 335.9a5.4 5.4 0 1 0 10.9 0a5.4 5.4 0 1 0 -10.9 0M262.0 110.6a5.5 5.5 0 1 0 11.0 0a5.5 5.5 0 1 0 -11.0 0M106.5 214.5a4.8 4.8 0 1 0 9.7 0a4.8 4.8 0 1 0 -9.7 0M192.3 183.7a5.7 5.7 0 1 0 11.5 0a5.7 5.7 0 1 0 -11.5 0M244.9 22.0a5.4 5.4 0 1 0 10.8 0a5.4 5.4 0 1 0 -10.8 0M239.4 -2.5a5.8 5.8 0 1 0 11.6 0a5.8 5.8 0 1 0 -11.6 0M-5.5 99.2a6.1 6.1 0 1 0 12.2 0a6.1 6.1 0 1 0 -12.2 0M335.6 105.8a6.1 6.1 0 1 0 12.2 0a6.1 6.1 0 1 0 -12.2 0M337.7 171.8a5.1 5.1 0 1 0 10.3 0a5.1 5.1 0 1 0 -10.3 0M214.6 179.0a6.0 6.0 0 1 0 11.9 0a6.0 6.0 0 1 0 -11.9 0M318.9 74.5a6.1 6.1 0 1 0 12.1 0a6.1 6.1 0 1 0 -12.1 0M18.6 222.6a5.7 5.7 0 1 0 11.5 0a5.7 5.7 0 1 0 -11.5 0M70.6 284.2a5.3 5.3 0 1 0 10.6 0a5.3 5.3 0 1 0 -10.6 0M225.2 231.0a5.9 5.9 0 1 0 11.7 0a5.9 5.9 0 1 0 -11.7 0M302.7 222.9a5.0 5.0 0 1 0 10.1 0a5.0 5.0 0 1 0 -10.1 0M310.6 283.8a5.5 5.5 0 1 0 11.0 0a5.5 5.5 0 1 0 -11.0 0M39.7 263.0a6.0 6.0 0 1 0 12.0 0a6.0 6.0 0 1 0 -12.0 0M276.6 268.8a5.6 5.6 0 1 0 11.1 0a5.6 5.6 0 1 0 -11.1 0M50.0 111.2a5.1 5.1 0 1 0 10.1 0a5.1 5.1 0 1 0 -10.1 0M92.4 201.1a5.4 5.4 0 1 0 10.8 0a5.4 5.4 0 1 0 -10.8 0M223.2 310.3a6.2 6.2 0 1 0 12.4 0a6.2 6.2 0 1 0 -12.4 0M145.0 120.3a5.8 5.8 0 1 0 11.7 0a5.8 5.8 0 1 0 -11.7 0M307.3 45.2a5.3 5.3 0 1 0 10.6 0a5.3 5.3 0 1 0 -10.6 0M245.4 166.8a5.8 5.8 0 1 0 11.6 0a5.8 5.8 0 1 0 -11.6 0M298.8 252.5a5.9 5.9 0 1 0 11.8 0a5.9 5.9 0 1 0 -11.8 0M75.1 167.4a5.3 5.3 0 1 0 10.6 0a5.3 5.3 0 1 0 -10.6 0M206.6 131.9a6.2 6.2 0 1 0 12.4 0a6.2 6.2 0 1 0 -12.4 0M205.1 234.5a5.1 5.1 0 1 0 10.1 0a5.1 5.1 0 1 0 -10.1 0M189.0 148.4a6.1 6.1 0 1 0 12.2 0a6.1 6.1 0 1 0 -12.2 0M309.5 138.5a5.0 5.0 0 1 0 10.0 0a5.0 5.0 0 1 0 -10.0 0M195.6 204.5a5.5 5.5 0 1 0 10.9 0a5.5 5.5 0 1 0 -10.9 0M328.3 122.7a5.9 5.9 0 1 0 11.9 0a5.9 5.9 0 1 0 -11.9 0M47.3 347.6a5.5 5.5 0 1 0 11.0 0a5.5 5.5 0 1 0 -11.0 0M75.1 215.9a4.9 4.9 0 1 0 9.8 0a4.9 4.9 0 1 0 -9.8 0M220.8 292.6a4.8 4.8 0 1 0 9.6 0a4.8 4.8 0 1 0 -9.6 0M204.0 54.2a6.1 6.1 0 1 0 12.2 0a6.1 6.1 0 1 0 -12.2 0M-3.1 48.8a6.1 6.1 0 1 0 12.2 0a6.1 6.1 0 1 0 -12.2 0M162.1 295.1a4.8 4.8 0 1 0 9.5 0a4.8 4.8 0 1 0 -9.5 0M219.1 88.8a6.1 6.1 0 1 0 12.1 0a6.1 6.1 0 1 0 -12.1 0M201.3 27.9a5.3 5.3 0 1 0 10.6 0a5.3 5.3 0 1 0 -10.6 0M35.4 0.4a6.2 6.2 0 1 0 12.4 0a6.2 6.2 0 1 0 -12.4 0M138.0 160.2a5.9 5.9 0 1 0 11.7 0a5.9 5.9 0 1 0 -11.7 0M122.7 184.0a5.3 5.3 0 1 0 10.5 0a5.3 5.3 0 1 0 -10.5 0M88.3 344.6a5.0 5.0 0 1 0 10.1 0a5.0 5.0 0 1 0 -10.1 0M97.3 175.9a5.0 5.0 0 1 0 10.0 0a5.0 5.0 0 1 0 -10.0 0M271.7 20.6a5.6 5.6 0 1 0 11.3 0a5.6 5.6 0 1 0 -11.3 0M292.6 94.5a5.3 5.3 0 1 0 10.6 0a5.3 5.3 0 1 0 -10.6 0M102.4 21.4a5.1 5.1 0 1 0 10.3 0a5.1 5.1 0 1 0 -10.3 0M2.4 304.0a4.7 4.7 0 1 0 9.4 0a4.7 4.7 0 1 0 -9.4 0M92.1 88.1a5.9 5.9 0 1 0 11.8 0a5.9 5.9 0 1 0 -11.8 0M128.3 270.9a6.1 6.1 0 1 0 12.3 0a6.1 6.1 0 1 0 -12.3 0M163.3 259.6a5.2 5.2 0 1 0 10.5 0a5.2 5.2 0 1 0 -10.5 0M339.7 143.5a5.5 5.5 0 1 0 11.1 0a5.5 5.5 0 1 0 -11.1 0M73.1 315.4a6.0 6.0 0 1 0 12.1 0a6.0 6.0 0 1 0 -12.1 0M297.9 109.0a5.2 5.2 0 1 0 10.5 0a5.2 5.2 0 1 0 -10.5 0M135.8 134.6a5.6 5.6 0 1 0 11.2 0a5.6 5.6 0 1 0 -11.2 0M245.0 202.8a5.1 5.1 0 1 0 10.3 0a5.1 5.1 0 1 0 -10.3 0M59.3 257.3a6.0 6.0 0 1 0 12.0 0a6.0 6.0 0 1 0 -12.0 0M334.9 225.7a5.5 5.5 0 1 0 11.1 0a5.5 5.5 0 1 0 -11.1 0M131.4 250.7a5.6 5.6 0 1 0 11.1 0a5.6 5.6 0 1 0 -11.1 0M138.5 -6.4a5.4 5.4 0 1 0 10.8 0a5.4 5.4 0 1 0 -10.8 0M285.8 71.5a6.0 6.0 0 1 0 12.1 0a6.0 6.0 0 1 0 -12.1 0M175.1 6.3a5.9 5.9 0 1 0 11.9 0a5.9 5.9 0 1 0 -11.9 0M33.1 176.1a5.4 5.4 0 1 0 10.8 0a5.4 5.4 0 1 0 -10.8 0M48.4 80.3a5.3 5.3 0 1 0 10.5 0a5.3 5.3 0 1 0 -10.5 0M242.3 114.3a5.6 5.6 0 1 0 11.2 0a5.6 5.6 0 1 0 -11.2 0M134.2 55.6a5.0 5.0 0 1 0 10.0 0a5.0 5.0 0 1 0 -10.0 0M-4.0 7.7a5.3 5.3 0 1 0 10.6 0a5.3 5.3 0 1 0 -10.6 0M89.4 107.8a5.3 5.3 0 1 0 10.5 0a5.3 5.3 0 1 0 -10.5 0M91.4 285.7a5.0 5.0 0 1 0 10.0 0a5.0 5.0 0 1 0 -10.0 0M155.9 278.8a5.0 5.0 0 1 0 10.0 0a5.0 5.0 0 1 0 -10.0 0M299.6 -3.6a5.6 5.6 0 1 0 11.3 0a5.6 5.6 0 1 0 -11.3 0M147.9 312.7a6.1 6.1 0 1 0 12.2 0a6.1 6.1 0 1 0 -12.2 0M60.3 204.3a5.8 5.8 0 1 0 11.6 0a5.8 5.8 0 1 0 -11.6 0M-12.2 338.7a6.3 6.3 0 1 0 12.6 0a6.3 6.3 0 1 0 -12.6 0M177.4 163.4a5.3 5.3 0 1 0 10.7 0a5.3 5.3 0 1 0 -10.7 0M253.5 150.0a5.2 5.2 0 1 0 10.4 0a5.2 5.2 0 1 0 -10.4 0M232.8 44.8a5.4 5.4 0 1 0 10.8 0a5.4 5.4 0 1 0 -10.8 0M74.1 -3.8a5.5 5.5 0 1 0 11.0 0a5.5 5.5 0 1 0 -11.0 0M183.9 69.8a5.1 5.1 0 1 0 10.2 0a5.1 5.1 0 1 0 -10.2 0M216.2 152.2a5.4 5.4 0 1 0 10.8 0a5.4 5.4 0 1 0 -10.8 0M186.8 258.7a5.5 5.5 0 1 0 10.9 0a5.5 5.5 0 1 0 -10.9 0M92.1 237.2a5.6 5.6 0 1 0 11.1 0a5.6 5.6 0 1 0 -11.1 0M35.4 47.0a5.7 5.7 0 1 0 11.3 0a5.7 5.7 0 1 0 -11.3 0M204.6 297.5a4.9 4.9 0 1 0 9.8 0a4.9 4.9 0 1 0 -9.8 0M19.1 107.7a4.9 4.9 0 1 0 9.8 0a4.9 4.9 0 1 0 -9.8 0M274.8 53.8a6.2 6.2 0 1 0 12.4 0a6.2 6.2 0 1 0 -12.4 0M233.5 347.8a5.4 5.4 0 1 0 10.8 0a5.4 5.4 0 1 0 -10.8 0M29.8 339.1a5.2 5.2 0 1 0 10.4 0a5.2 5.2 0 1 0 -10.4 0M229.6 212.1a6.2 6.2 0 1 0 12.4 0a6.2 6.2 0 1 0 -12.4 0M320.2 213.6a6.2 6.2 0 1 0 12.4 0a6.2 6.2 0 1 0 -12.4 0M283.6 203.6a5.4 5.4 0 1 0 10.7 0a5.4 5.4 0 1 0 -10.7 0M268.3 198.4a5.3 5.3 0 1 0 10.5 0a5.3 5.3 0 1 0 -10.5 0M52.0 274.5a5.7 5.7 0 1 0 11.5 0a5.7 5.7 0 1 0 -11.5 0M22.4 291.5a5.0 5.0 0 1 0 10.0 0a5.0 5.0 0 1 0 -10.0 0M257.6 91.8a5.8 5.8 0 1 0 11.7 0a5.8 5.8 0 1 0 -11.7 0M197.1 167.8a4.8 4.8 0 1 0 9.7 0a4.8 4.8 0 1 0 -9.7 0M221.0 -5.2a5.8 5.8 0 1 0 11.7 0a5.8 5.8 0 1 0 -11.7 0M87.0 32.4a5.4 5.4 0 1 0 10.9 0a5.4 5.4 0 1 0 -10.9 0M217.8 34.6a5.5 5.5 0 1 0 11.1 0a5.5 5.5 0 1 0 -11.1 0M19.2 268.2a5.7 5.7 0 1 0 11.4 0a5.7 5.7 0 1 0 -11.4 0M280.2 240.3a5.8 5.8 0 1 0 11.6 0a5.8 5.8 0 1 0 -11.6 0M166.8 232.7a6.1 6.1 0 1 0 12.2 0a6.1 6.1 0 1 0 -12.2 0M152.7 170.7a5.1 5.1 0 1 0 10.2 0a5.1 5.1 0 1 0 -10.2 0M36.4 210.3a5.7 5.7 0 1 0 11.4 0a5.7 5.7 0 1 0 -11.4 0M157.0 28.1a4.9 4.9 0 1 0 9.8 0a4.9 4.9 0 1 0 -9.8 0M15.5 332.8a5.2 5.2 0 1 0 10.3 0a5.2 5.2 0 1 0 -10.3 0M326.0 189.5a5.2 5.2 0 1 0 10.4 0a5.2 5.2 0 1 0 -10.4 0M-12.3 78.9a6.4 6.4 0 1 0 12.8 0a6.4 6.4 0 1 0 -12.8 0M208.9 258.1a5.6 5.6 0 1 0 11.2 0a5.6 5.6 0 1 0 -11.2 0M-8.9 287.7a6.3 6.3 0 1 0 12.6 0a6.3 6.3 0 1 0 -12.6 0M345.7 239.1a5.3 5.3 0 1 0 10.7 0a5.3 5.3 0 1 0 -10.7 0M187.6 219.7a5.0 5.0 0 1 0 10.0 0a5.0 5.0 0 1 0 -10.0 0M165.0 43.0a5.4 5.4 0 1 0 10.7 0a5.4 5.4 0 1 0 -10.7 0M13.3 89.3a5.9 5.9 0 1 0 11.7 0a5.9 5.9 0 1 0 -11.7 0M272.6 150.8a5.5 5.5 0 1 0 11.0 0a5.5 5.5 0 1 0 -11.0 0M174.7 248.4a5.2 5.2 0 1 0 10.5 0a5.2 5.2 0 1 0 -10.5 0M272.8 312.4a6.1 6.1 0 1 0 12.1 0a6.1 6.1 0 1 0 -12.1 0M56.9 -5.8a5.3 5.3 0 1 0 10.7 0a5.3 5.3 0 1 0 -10.7 0M317.3 57.8a5.0 5.0 0 1 0 9.9 0a5.0 5.0 0 1 0 -9.9 0M161.2 153.9a5.1 5.1 0 1 0 10.1 0a5.1 5.1 0 1 0 -10.1 0M17.9 0.5a5.5 5.5 0 1 0 11.0 0a5.5 5.5 0 1 0 -11.0 0M-9.6 170.4a4.8 4.8 0 1 0 9.6 0a4.8 4.8 0 1 0 -9.6 0M262.2 241.4a5.3 5.3 0 1 0 10.6 0a5.3 5.3 0 1 0 -10.6 0M50.9 242.5a4.9 4.9 0 1 0 9.9 0a4.9 4.9 0 1 0 -9.9 0M344.6 -2.7a5.2 5.2 0 1 0 10.4 0a5.2 5.2 0 1 0 -10.4 0M7.3 253.9a5.7 5.7 0 1 0 11.5 0a5.7 5.7 0 1 0 -11.5 0M216.6 198.2a5.2 5.2 0 1 0 10.4 0a5.2 5.2 0 1 0 -10.4 0M45.8 64.0a5.0 5.0 0 1 0 10.0 0a5.0 5.0 0 1 0 -10.0 0M300.9 24.9a5.9 5.9 0 1 0 11.9 0a5.9 5.9 0 1 0 -11.9 0M26.5 33.7a5.2 5.2 0 1 0 10.3 0a5.2 5.2 0 1 0 -10.3 0M131.0 103.6a5.2 5.2 0 1 0 10.4 0a5.2 5.2 0 1 0 -10.4 0M240.5 247.9a4.9 4.9 0 1 0 9.7 0a4.9 4.9 0 1 0 -9.7 0M108.2 192.2a5.2 5.2 0 1 0 10.3 0a5.2 5.2 0 1 0 -10.3 0M321.4 31.4a5.2 5.2 0 1 0 10.5 0a5.2 5.2 0 1 0 -10.5 0M-8.6 200.9a5.2 5.2 0 1 0 10.5 0a5.2 5.2 0 1 0 -10.5 0M96.6 135.3a5.1 5.1 0 1 0 10.1 0a5.1 5.1 0 1 0 -10.1 0M104.9 67.6a5.8 5.8 0 1 0 11.6 0a5.8 5.8 0 1 0 -11.6 0M276.1 86.9a4.9 4.9 0 1 0 9.8 0a4.9 4.9 0 1 0 -9.8 0M88.0 326.2a5.5 5.5 0 1 0 11.1 0a5.5 5.5 0 1 0 -11.1 0M-8.1 223.4a5.5 5.5 0 1 0 11.0 0a5.5 5.5 0 1 0 -11.0 0M323.5 301.8a5.3 5.3 0 1 0 10.6 0a5.3 5.3 0 1 0 -10.6 0M288.6 283.5a5.0 5.0 0 1 0 10.0 0a5.0 5.0 0 1 0 -10.0 0M61.1 227.2a5.3 5.3 0 1 0 10.7 0a5.3 5.3 0 1 0 -10.7 0M128.5 200.6a4.8 4.8 0 1 0 9.5 0a4.8 4.8 0 1 0 -9.5 0M42.8 308.4a5.2 5.2 0 1 0 10.3 0a5.2 5.2 0 1 0 -10.3 0M84.1 303.5a5.3 5.3 0 1 0 10.5 0a5.3 5.3 0 1 0 -10.5 0M291.9 148.2a5.3 5.3 0 1 0 10.7 0a5.3 5.3 0 1 0 -10.7 0M179.0 101.9a5.3 5.3 0 1 0 10.6 0a5.3 5.3 0 1 0 -10.6 0M66.3 122.2a5.7 5.7 0 1 0 11.5 0a5.7 5.7 0 1 0 -11.5 0M278.7 349.1a5.8 5.8 0 1 0 11.6 0a5.8 5.8 0 1 0 -11.6 0M140.7 11.8a5.6 5.6 0 1 0 11.3 0a5.6 5.6 0 1 0 -11.3 0M10.8 280.8a5.1 5.1 0 1 0 10.2 0a5.1 5.1 0 1 0 -10.2 0M228.0 167.1a5.1 5.1 0 1 0 10.2 0a5.1 5.1 0 1 0 -10.2 0M223.4 273.8a5.4 5.4 0 1 0 10.8 0a5.4 5.4 0 1 0 -10.8 0M153.7 137.4a5.2 5.2 0 1 0 10.3 0a5.2 5.2 0 1 0 -10.3 0M340.3 330.1a5.0 5.0 0 1 0 10.0 0a5.0 5.0 0 1 0 -10.0 0M311.9 120.2a5.2 5.2 0 1 0 10.5 0a5.2 5.2 0 1 0 -10.5 0M238.0 132.3a5.3 5.3 0 1 0 10.7 0a5.3 5.3 0 1 0 -10.7 0M159.8 203.2a4.8 4.8 0 1 0 9.6 0a4.8 4.8 0 1 0 -9.6 0M4.4 116.8a5.2 5.2 0 1 0 10.5 0a5.2 5.2 0 1 0 -10.5 0M275.7 124.6a5.2 5.2 0 1 0 10.4 0a5.2 5.2 0 1 0 -10.4 0" fill="#001200" opacity="0.5" filter="url(#eb2)"/>
<path d="M330.6 265.5a0.8 0.8 0 1 0 1.5 0a0.8 0.8 0 1 0 -1.5 0M273.8 328.5a1.3 1.3 0 1 0 2.6 0a1.3 1.3 0 1 0 -2.6 0M58.1 12.0a0.9 0.9 0 1 0 1.8 0a0.9 0.9 0 1 0 -1.8 0M56.3 14.8a1.1 1.1 0 1 0 2.3 0a1.1 1.1 0 1 0 -2.3 0M322.0 100.3a1.1 1.1 0 1 0 2.2 0a1.1 1.1 0 1 0 -2.2 0M197.1 99.2a1.1 1.1 0 1 0 2.1 0a1.1 1.1 0 1 0 -2.1 0M178.3 30.8a0.8 0.8 0 1 0 1.6 0a0.8 0.8 0 1 0 -1.6 0M178.5 29.7a1.3 1.3 0 1 0 2.6 0a1.3 1.3 0 1 0 -2.6 0M121.4 147.1a0.8 0.8 0 1 0 1.6 0a0.8 0.8 0 1 0 -1.6 0M121.7 143.5a0.7 0.7 0 1 0 1.5 0a0.7 0.7 0 1 0 -1.5 0M59.6 186.6a0.8 0.8 0 1 0 1.6 0a0.8 0.8 0 1 0 -1.6 0M54.5 187.5a0.8 0.8 0 1 0 1.6 0a0.8 0.8 0 1 0 -1.6 0M9.9 184.5a1.0 1.0 0 1 0 2.0 0a1.0 1.0 0 1 0 -2.0 0M8.6 188.9a1.3 1.3 0 1 0 2.6 0a1.3 1.3 0 1 0 -2.6 0M9.6 189.1a0.8 0.8 0 1 0 1.5 0a0.8 0.8 0 1 0 -1.5 0M225.3 68.2a1.3 1.3 0 1 0 2.6 0a1.3 1.3 0 1 0 -2.6 0M10.3 141.2a1.4 1.4 0 1 0 2.8 0a1.4 1.4 0 1 0 -2.8 0M8.8 140.2a1.2 1.2 0 1 0 2.3 0a1.2 1.2 0 1 0 -2.3 0M319.0 157.8a1.4 1.4 0 1 0 2.8 0a1.4 1.4 0 1 0 -2.8 0M171.3 178.3a1.4 1.4 0 1 0 2.8 0a1.4 1.4 0 1 0 -2.8 0M167.1 178.4a1.2 1.2 0 1 0 2.5 0a1.2 1.2 0 1 0 -2.5 0M346.0 257.1a1.2 1.2 0 1 0 2.4 0a1.2 1.2 0 1 0 -2.4 0M344.6 258.8a1.4 1.4 0 1 0 2.8 0a1.4 1.4 0 1 0 -2.8 0M348.9 253.1a1.0 1.0 0 1 0 2.1 0a1.0 1.0 0 1 0 -2.1 0M249.0 226.8a1.4 1.4 0 1 0 2.9 0a1.4 1.4 0 1 0 -2.9 0M273.0 284.6a1.2 1.2 0 1 0 2.3 0a1.2 1.2 0 1 0 -2.3 0M235.0 147.7a1.4 1.4 0 1 0 2.8 0a1.4 1.4 0 1 0 -2.8 0M235.4 148.2a1.2 1.2 0 1 0 2.5 0a1.2 1.2 0 1 0 -2.5 0M238.1 147.0a0.9 0.9 0 1 0 1.9 0a0.9 0.9 0 1 0 -1.9 0M33.3 67.4a1.1 1.1 0 1 0 2.2 0a1.1 1.1 0 1 0 -2.2 0M30.5 67.2a1.3 1.3 0 1 0 2.7 0a1.3 1.3 0 1 0 -2.7 0M32.4 74.6a1.3 1.3 0 1 0 2.6 0a1.3 1.3 0 1 0 -2.6 0M30.7 162.0a1.3 1.3 0 1 0 2.6 0a1.3 1.3 0 1 0 -2.6 0M120.3 253.8a1.2 1.2 0 1 0 2.5 0a1.2 1.2 0 1 0 -2.5 0M73.7 88.7a0.9 0.9 0 1 0 1.8 0a0.9 0.9 0 1 0 -1.8 0M75.1 92.5a1.3 1.3 0 1 0 2.6 0a1.3 1.3 0 1 0 -2.6 0M71.9 89.5a1.5 1.5 0 1 0 3.0 0a1.5 1.5 0 1 0 -3.0 0M223.6 18.5a0.8 0.8 0 1 0 1.7 0a0.8 0.8 0 1 0 -1.7 0M216.5 345.3a1.3 1.3 0 1 0 2.6 0a1.3 1.3 0 1 0 -2.6 0M215.1 349.1a1.2 1.2 0 1 0 2.4 0a1.2 1.2 0 1 0 -2.4 0M216.0 344.8a0.9 0.9 0 1 0 1.8 0a0.9 0.9 0 1 0 -1.8 0M190.0 123.9a1.5 1.5 0 1 0 3.0 0a1.5 1.5 0 1 0 -3.0 0M187.3 128.8a0.7 0.7 0 1 0 1.4 0a0.7 0.7 0 1 0 -1.4 0M244.0 283.9a1.4 1.4 0 1 0 2.8 0a1.4 1.4 0 1 0 -2.8 0M244.1 287.0a1.3 1.3 0 1 0 2.6 0a1.3 1.3 0 1 0 -2.6 0M245.4 282.8a1.5 1.5 0 1 0 3.0 0a1.5 1.5 0 1 0 -3.0 0M62.9 142.5a1.1 1.1 0 1 0 2.2 0a1.1 1.1 0 1 0 -2.2 0M60.1 139.6a1.5 1.5 0 1 0 3.0 0a1.5 1.5 0 1 0 -3.0 0M132.7 76.2a1.5 1.5 0 1 0 2.9 0a1.5 1.5 0 1 0 -2.9 0M138.6 211.8a1.5 1.5 0 1 0 2.9 0a1.5 1.5 0 1 0 -2.9 0M139.5 209.1a0.8 0.8 0 1 0 1.6 0a0.8 0.8 0 1 0 -1.6 0M109.7 335.5a1.3 1.3 0 1 0 2.5 0a1.3 1.3 0 1 0 -2.5 0M111.2 336.7a1.2 1.2 0 1 0 2.5 0a1.2 1.2 0 1 0 -2.5 0M98.3 5.0a1.3 1.3 0 1 0 2.5 0a1.3 1.3 0 1 0 -2.5 0M99.7 3.7a0.8 0.8 0 1 0 1.5 0a0.8 0.8 0 1 0 -1.5 0M57.4 164.9a1.0 1.0 0 1 0 2.0 0a1.0 1.0 0 1 0 -2.0 0M118.9 280.0a1.1 1.1 0 1 0 2.2 0a1.1 1.1 0 1 0 -2.2 0M115.2 280.7a0.8 0.8 0 1 0 1.5 0a0.8 0.8 0 1 0 -1.5 0M114.5 281.8a1.1 1.1 0 1 0 2.3 0a1.1 1.1 0 1 0 -2.3 0M181.6 312.2a1.4 1.4 0 1 0 2.7 0a1.4 1.4 0 1 0 -2.7 0M123.6 5.5a1.5 1.5 0 1 0 3.0 0a1.5 1.5 0 1 0 -3.0 0M132.1 6.1a1.4 1.4 0 1 0 2.7 0a1.4 1.4 0 1 0 -2.7 0M76.9 100.1a1.1 1.1 0 1 0 2.3 0a1.1 1.1 0 1 0 -2.3 0M74.0 103.9a1.1 1.1 0 1 0 2.2 0a1.1 1.1 0 1 0 -2.2 0M80.8 99.0a0.7 0.7 0 1 0 1.5 0a0.7 0.7 0 1 0 -1.5 0M9.5 348.3a1.0 1.0 0 1 0 2.0 0a1.0 1.0 0 1 0 -2.0 0M127.2 313.3a1.0 1.0 0 1 0 2.0 0a1.0 1.0 0 1 0 -2.0 0M130.9 319.8a1.2 1.2 0 1 0 2.4 0a1.2 1.2 0 1 0 -2.4 0M24.2 54.4a1.0 1.0 0 1 0 2.0 0a1.0 1.0 0 1 0 -2.0 0M268.8 69.1a0.9 0.9 0 1 0 1.9 0a0.9 0.9 0 1 0 -1.9 0M215.6 217.8a1.1 1.1 0 1 0 2.1 0a1.1 1.1 0 1 0 -2.1 0M217.0 213.7a0.9 0.9 0 1 0 1.9 0a0.9 0.9 0 1 0 -1.9 0M79.0 240.0a1.3 1.3 0 1 0 2.6 0a1.3 1.3 0 1 0 -2.6 0M82.3 243.6a1.1 1.1 0 1 0 2.2 0a1.1 1.1 0 1 0 -2.2 0M195.3 288.0a0.9 0.9 0 1 0 1.7 0a0.9 0.9 0 1 0 -1.7 0M194.6 287.3a1.2 1.2 0 1 0 2.4 0a1.2 1.2 0 1 0 -2.4 0M195.7 286.0a1.3 1.3 0 1 0 2.6 0a1.3 1.3 0 1 0 -2.6 0M302.3 273.9a1.1 1.1 0 1 0 2.1 0a1.1 1.1 0 1 0 -2.1 0M211.9 81.9a0.9 0.9 0 1 0 1.8 0a0.9 0.9 0 1 0 -1.8 0M120.9 224.3a1.0 1.0 0 1 0 1.9 0a1.0 1.0 0 1 0 -1.9 0M-5.0 151.6a1.3 1.3 0 1 0 2.6 0a1.3 1.3 0 1 0 -2.6 0M-5.1 156.4a1.5 1.5 0 1 0 3.0 0a1.5 1.5 0 1 0 -3.0 0M51.6 330.5a1.1 1.1 0 1 0 2.1 0a1.1 1.1 0 1 0 -2.1 0M155.2 237.8a1.3 1.3 0 1 0 2.6 0a1.3 1.3 0 1 0 -2.6 0M153.1 239.4a1.0 1.0 0 1 0 2.0 0a1.0 1.0 0 1 0 -2.0 0M157.6 238.5a0.8 0.8 0 1 0 1.6 0a0.8 0.8 0 1 0 -1.6 0M239.5 186.3a0.9 0.9 0 1 0 1.8 0a0.9 0.9 0 1 0 -1.8 0M238.8 187.8a0.7 0.7 0 1 0 1.5 0a0.7 0.7 0 1 0 -1.5 0M296.4 134.1a0.9 0.9 0 1 0 1.7 0a0.9 0.9 0 1 0 -1.7 0M298.0 135.4a1.4 1.4 0 1 0 2.7 0a1.4 1.4 0 1 0 -2.7 0M300.4 135.7a1.0 1.0 0 1 0 2.0 0a1.0 1.0 0 1 0 -2.0 0M206.0 276.2a1.5 1.5 0 1 0 2.9 0a1.5 1.5 0 1 0 -2.9 0M206.4 275.4a1.4 1.4 0 1 0 2.9 0a1.4 1.4 0 1 0 -2.9 0M207.8 274.6a1.4 1.4 0 1 0 2.9 0a1.4 1.4 0 1 0 -2.9 0M283.6 110.6a0.8 0.8 0 1 0 1.6 0a0.8 0.8 0 1 0 -1.6 0M279.8 110.6a0.9 0.9 0 1 0 1.8 0a0.9 0.9 0 1 0 -1.8 0M284.0 113.0a1.1 1.1 0 1 0 2.2 0a1.1 1.1 0 1 0 -2.2 0M154.3 51.8a1.3 1.3 0 1 0 2.5 0a1.3 1.3 0 1 0 -2.5 0M156.6 50.0a1.2 1.2 0 1 0 2.3 0a1.2 1.2 0 1 0 -2.3 0M230.2 257.4a0.8 0.8 0 1 0 1.6 0a0.8 0.8 0 1 0 -1.6 0M234.1 254.7a1.3 1.3 0 1 0 2.6 0a1.3 1.3 0 1 0 -2.6 0M233.7 259.0a1.0 1.0 0 1 0 2.1 0a1.0 1.0 0 1 0 -2.1 0M165.0 -1.6a1.1 1.1 0 1 0 2.2 0a1.1 1.1 0 1 0 -2.2 0M160.4 -2.1a1.5 1.5 0 1 0 2.9 0a1.5 1.5 0 1 0 -2.9 0M37.5 120.7a0.8 0.8 0 1 0 1.7 0a0.8 0.8 0 1 0 -1.7 0M48.4 229.4a1.0 1.0 0 1 0 2.0 0a1.0 1.0 0 1 0 -2.0 0M50.2 224.4a1.4 1.4 0 1 0 2.8 0a1.4 1.4 0 1 0 -2.8 0M50.4 228.4a1.1 1.1 0 1 0 2.3 0a1.1 1.1 0 1 0 -2.3 0M36.0 103.9a1.1 1.1 0 1 0 2.1 0a1.1 1.1 0 1 0 -2.1 0M35.8 104.0a1.3 1.3 0 1 0 2.6 0a1.3 1.3 0 1 0 -2.6 0M34.6 146.9a0.9 0.9 0 1 0 1.7 0a0.9 0.9 0 1 0 -1.7 0M33.0 145.1a1.4 1.4 0 1 0 2.8 0a1.4 1.4 0 1 0 -2.8 0M27.7 146.1a1.4 1.4 0 1 0 2.8 0a1.4 1.4 0 1 0 -2.8 0M-1.5 251.2a0.9 0.9 0 1 0 1.9 0a0.9 0.9 0 1 0 -1.9 0M-2.2 251.8a1.4 1.4 0 1 0 2.8 0a1.4 1.4 0 1 0 -2.8 0M270.3 166.4a1.2 1.2 0 1 0 2.5 0a1.2 1.2 0 1 0 -2.5 0M72.0 36.1a1.4 1.4 0 1 0 2.7 0a1.4 1.4 0 1 0 -2.7 0M197.2 2.0a1.2 1.2 0 1 0 2.5 0a1.2 1.2 0 1 0 -2.5 0M90.0 120.3a1.0 1.0 0 1 0 2.0 0a1.0 1.0 0 1 0 -2.0 0M167.2 350.0a0.8 0.8 0 1 0 1.7 0a0.8 0.8 0 1 0 -1.7 0M162.5 347.8a1.1 1.1 0 1 0 2.1 0a1.1 1.1 0 1 0 -2.1 0M164.6 350.5a1.4 1.4 0 1 0 2.7 0a1.4 1.4 0 1 0 -2.7 0M179.5 272.9a1.2 1.2 0 1 0 2.4 0a1.2 1.2 0 1 0 -2.4 0M180.2 274.6a1.3 1.3 0 1 0 2.5 0a1.3 1.3 0 1 0 -2.5 0M183.9 271.5a0.8 0.8 0 1 0 1.5 0a0.8 0.8 0 1 0 -1.5 0M70.6 71.0a1.1 1.1 0 1 0 2.2 0a1.1 1.1 0 1 0 -2.2 0M251.7 335.7a1.1 1.1 0 1 0 2.3 0a1.1 1.1 0 1 0 -2.3 0M249.8 339.9a1.3 1.3 0 1 0 2.6 0a1.3 1.3 0 1 0 -2.6 0M306.1 348.6a1.5 1.5 0 1 0 2.9 0a1.5 1.5 0 1 0 -2.9 0M303.4 344.8a0.7 0.7 0 1 0 1.4 0a0.7 0.7 0 1 0 -1.4 0M93.8 57.6a1.1 1.1 0 1 0 2.2 0a1.1 1.1 0 1 0 -2.2 0M149.7 73.2a0.9 0.9 0 1 0 1.8 0a0.9 0.9 0 1 0 -1.8 0M150.5 68.8a1.0 1.0 0 1 0 2.0 0a1.0 1.0 0 1 0 -2.0 0M150.9 73.4a1.2 1.2 0 1 0 2.4 0a1.2 1.2 0 1 0 -2.4 0M97.7 312.4a1.0 1.0 0 1 0 1.9 0a1.0 1.0 0 1 0 -1.9 0M98.2 311.1a1.4 1.4 0 1 0 2.8 0a1.4 1.4 0 1 0 -2.8 0M149.5 196.5a0.9 0.9 0 1 0 1.8 0a0.9 0.9 0 1 0 -1.8 0M150.6 195.3a1.2 1.2 0 1 0 2.4 0a1.2 1.2 0 1 0 -2.4 0M148.0 198.8a1.4 1.4 0 1 0 2.9 0a1.4 1.4 0 1 0 -2.9 0M110.5 53.7a0.9 0.9 0 1 0 1.7 0a0.9 0.9 0 1 0 -1.7 0M98.2 153.5a0.8 0.8 0 1 0 1.6 0a0.8 0.8 0 1 0 -1.6 0M98.5 154.4a1.3 1.3 0 1 0 2.6 0a1.3 1.3 0 1 0 -2.6 0M99.6 154.2a1.4 1.4 0 1 0 2.8 0a1.4 1.4 0 1 0 -2.8 0M293.1 28.2a1.3 1.3 0 1 0 2.7 0a1.3 1.3 0 1 0 -2.7 0M293.2 28.3a1.3 1.3 0 1 0 2.5 0a1.3 1.3 0 1 0 -2.5 0M289.6 34.7a0.8 0.8 0 1 0 1.7 0a0.8 0.8 0 1 0 -1.7 0M315.4 184.3a1.1 1.1 0 1 0 2.2 0a1.1 1.1 0 1 0 -2.2 0M312.2 186.4a1.2 1.2 0 1 0 2.5 0a1.2 1.2 0 1 0 -2.5 0M131.1 121.0a1.1 1.1 0 1 0 2.2 0a1.1 1.1 0 1 0 -2.2 0M254.1 298.5a1.1 1.1 0 1 0 2.2 0a1.1 1.1 0 1 0 -2.2 0M254.2 296.8a1.0 1.0 0 1 0 2.1 0a1.0 1.0 0 1 0 -2.1 0M257.9 298.6a1.1 1.1 0 1 0 2.1 0a1.1 1.1 0 1 0 -2.1 0M-5.8 22.8a1.5 1.5 0 1 0 2.9 0a1.5 1.5 0 1 0 -2.9 0M297.3 329.5a1.0 1.0 0 1 0 2.0 0a1.0 1.0 0 1 0 -2.0 0M292.9 329.2a0.9 0.9 0 1 0 1.8 0a0.9 0.9 0 1 0 -1.8 0M295.8 328.9a1.1 1.1 0 1 0 2.2 0a1.1 1.1 0 1 0 -2.2 0M235.9 97.1a0.9 0.9 0 1 0 1.8 0a0.9 0.9 0 1 0 -1.8 0M11.4 66.4a1.2 1.2 0 1 0 2.5 0a1.2 1.2 0 1 0 -2.5 0M13.0 67.7a0.9 0.9 0 1 0 1.8 0a0.9 0.9 0 1 0 -1.8 0M350.5 87.4a1.0 1.0 0 1 0 2.1 0a1.0 1.0 0 1 0 -2.1 0M351.1 85.0a1.3 1.3 0 1 0 2.6 0a1.3 1.3 0 1 0 -2.6 0M351.6 82.0a0.8 0.8 0 1 0 1.5 0a0.8 0.8 0 1 0 -1.5 0M156.1 337.7a1.2 1.2 0 1 0 2.4 0a1.2 1.2 0 1 0 -2.4 0M270.2 108.0a1.3 1.3 0 1 0 2.7 0a1.3 1.3 0 1 0 -2.7 0M112.3 211.1a1.4 1.4 0 1 0 2.7 0a1.4 1.4 0 1 0 -2.7 0M108.8 209.6a1.4 1.4 0 1 0 2.8 0a1.4 1.4 0 1 0 -2.8 0M111.0 211.0a0.8 0.8 0 1 0 1.5 0a0.8 0.8 0 1 0 -1.5 0M196.6 185.0a1.1 1.1 0 1 0 2.1 0a1.1 1.1 0 1 0 -2.1 0M201.3 187.3a1.2 1.2 0 1 0 2.3 0a1.2 1.2 0 1 0 -2.3 0M252.9 26.8a1.5 1.5 0 1 0 3.0 0a1.5 1.5 0 1 0 -3.0 0M254.4 18.5a0.7 0.7 0 1 0 1.5 0a0.7 0.7 0 1 0 -1.5 0M251.3 18.5a1.0 1.0 0 1 0 2.0 0a1.0 1.0 0 1 0 -2.0 0M238.4 -5.6a1.4 1.4 0 1 0 2.8 0a1.4 1.4 0 1 0 -2.8 0M242.5 -3.0a1.5 1.5 0 1 0 3.0 0a1.5 1.5 0 1 0 -3.0 0M243.7 -3.9a1.3 1.3 0 1 0 2.7 0a1.3 1.3 0 1 0 -2.7 0M-4.1 96.3a1.1 1.1 0 1 0 2.2 0a1.1 1.1 0 1 0 -2.2 0M-1.5 96.6a1.1 1.1 0 1 0 2.3 0a1.1 1.1 0 1 0 -2.3 0M343.7 109.7a0.8 0.8 0 1 0 1.7 0a0.8 0.8 0 1 0 -1.7 0M337.5 109.1a1.1 1.1 0 1 0 2.2 0a1.1 1.1 0 1 0 -2.2 0M345.4 172.5a0.9 0.9 0 1 0 1.7 0a0.9 0.9 0 1 0 -1.7 0M347.3 168.6a1.0 1.0 0 1 0 2.0 0a1.0 1.0 0 1 0 -2.0 0M345.9 175.1a1.3 1.3 0 1 0 2.6 0a1.3 1.3 0 1 0 -2.6 0M220.8 182.0a0.7 0.7 0 1 0 1.5 0a0.7 0.7 0 1 0 -1.5 0M24.5 221.2a0.9 0.9 0 1 0 1.7 0a0.9 0.9 0 1 0 -1.7 0M26.1 219.7a1.0 1.0 0 1 0 2.1 0a1.0 1.0 0 1 0 -2.1 0M27.7 223.2a0.9 0.9 0 1 0 1.7 0a0.9 0.9 0 1 0 -1.7 0M75.1 288.1a1.2 1.2 0 1 0 2.4 0a1.2 1.2 0 1 0 -2.4 0M77.0 286.3a1.2 1.2 0 1 0 2.4 0a1.2 1.2 0 1 0 -2.4 0M72.5 284.6a0.9 0.9 0 1 0 1.9 0a0.9 0.9 0 1 0 -1.9 0M312.4 286.0a1.2 1.2 0 1 0 2.3 0a1.2 1.2 0 1 0 -2.3 0M278.7 266.9a0.9 0.9 0 1 0 1.8 0a0.9 0.9 0 1 0 -1.8 0M52.7 111.5a1.3 1.3 0 1 0 2.7 0a1.3 1.3 0 1 0 -2.7 0M233.8 311.5a1.1 1.1 0 1 0 2.3 0a1.1 1.1 0 1 0 -2.3 0M227.8 311.8a1.3 1.3 0 1 0 2.6 0a1.3 1.3 0 1 0 -2.6 0M147.5 116.1a1.5 1.5 0 1 0 2.9 0a1.5 1.5 0 1 0 -2.9 0M147.8 120.9a1.0 1.0 0 1 0 2.1 0a1.0 1.0 0 1 0 -2.1 0M313.6 41.2a1.3 1.3 0 1 0 2.6 0a1.3 1.3 0 1 0 -2.6 0M255.4 170.8a1.4 1.4 0 1 0 2.8 0a1.4 1.4 0 1 0 -2.8 0M255.9 168.4a1.5 1.5 0 1 0 2.9 0a1.5 1.5 0 1 0 -2.9 0M250.2 172.4a1.4 1.4 0 1 0 2.8 0a1.4 1.4 0 1 0 -2.8 0M78.1 166.3a1.0 1.0 0 1 0 2.0 0a1.0 1.0 0 1 0 -2.0 0M192.9 150.1a0.9 0.9 0 1 0 1.8 0a0.9 0.9 0 1 0 -1.8 0M188.7 145.6a0.9 0.9 0 1 0 1.8 0a0.9 0.9 0 1 0 -1.8 0M191.9 151.1a0.7 0.7 0 1 0 1.4 0a0.7 0.7 0 1 0 -1.4 0M315.1 139.3a1.0 1.0 0 1 0 2.0 0a1.0 1.0 0 1 0 -2.0 0M311.7 135.2a1.5 1.5 0 1 0 3.0 0a1.5 1.5 0 1 0 -3.0 0M334.4 121.9a1.1 1.1 0 1 0 2.3 0a1.1 1.1 0 1 0 -2.3 0M333.4 120.6a1.2 1.2 0 1 0 2.3 0a1.2 1.2 0 1 0 -2.3 0M334.4 122.0a0.9 0.9 0 1 0 1.7 0a0.9 0.9 0 1 0 -1.7 0M212.2 48.2a0.9 0.9 0 1 0 1.9 0a0.9 0.9 0 1 0 -1.9 0M3.6 49.5a1.1 1.1 0 1 0 2.3 0a1.1 1.1 0 1 0 -2.3 0M162.9 293.7a0.9 0.9 0 1 0 1.7 0a0.9 0.9 0 1 0 -1.7 0M125.5 179.9a1.1 1.1 0 1 0 2.2 0a1.1 1.1 0 1 0 -2.2 0M277.4 21.7a1.3 1.3 0 1 0 2.6 0a1.3 1.3 0 1 0 -2.6 0M297.8 96.9a1.2 1.2 0 1 0 2.3 0a1.2 1.2 0 1 0 -2.3 0M296.0 97.3a1.0 1.0 0 1 0 1.9 0a1.0 1.0 0 1 0 -1.9 0M108.7 20.0a1.4 1.4 0 1 0 2.8 0a1.4 1.4 0 1 0 -2.8 0M107.9 23.5a0.9 0.9 0 1 0 1.7 0a0.9 0.9 0 1 0 -1.7 0M163.5 260.6a1.0 1.0 0 1 0 2.0 0a1.0 1.0 0 1 0 -2.0 0M75.9 317.4a1.0 1.0 0 1 0 2.0 0a1.0 1.0 0 1 0 -2.0 0M71.8 313.4a1.2 1.2 0 1 0 2.4 0a1.2 1.2 0 1 0 -2.4 0M75.7 315.9a0.8 0.8 0 1 0 1.7 0a0.8 0.8 0 1 0 -1.7 0M131.8 250.6a0.8 0.8 0 1 0 1.6 0a0.8 0.8 0 1 0 -1.6 0M132.1 247.4a1.3 1.3 0 1 0 2.5 0a1.3 1.3 0 1 0 -2.5 0M295.7 71.7a1.0 1.0 0 1 0 2.1 0a1.0 1.0 0 1 0 -2.1 0M296.1 72.0a0.8 0.8 0 1 0 1.6 0a0.8 0.8 0 1 0 -1.6 0M295.5 70.6a1.5 1.5 0 1 0 2.9 0a1.5 1.5 0 1 0 -2.9 0M179.1 8.6a1.2 1.2 0 1 0 2.4 0a1.2 1.2 0 1 0 -2.4 0M182.0 7.4a0.7 0.7 0 1 0 1.5 0a0.7 0.7 0 1 0 -1.5 0M34.7 179.6a1.4 1.4 0 1 0 2.8 0a1.4 1.4 0 1 0 -2.8 0M54.1 85.7a0.8 0.8 0 1 0 1.6 0a0.8 0.8 0 1 0 -1.6 0M51.8 80.3a0.8 0.8 0 1 0 1.6 0a0.8 0.8 0 1 0 -1.6 0M54.2 85.8a0.9 0.9 0 1 0 1.8 0a0.9 0.9 0 1 0 -1.8 0M91.6 288.7a1.4 1.4 0 1 0 2.7 0a1.4 1.4 0 1 0 -2.7 0M94.8 284.5a1.1 1.1 0 1 0 2.3 0a1.1 1.1 0 1 0 -2.3 0M152.2 312.9a1.4 1.4 0 1 0 2.9 0a1.4 1.4 0 1 0 -2.9 0M-5.2 344.6a1.2 1.2 0 1 0 2.4 0a1.2 1.2 0 1 0 -2.4 0M-5.2 338.7a0.9 0.9 0 1 0 1.8 0a0.9 0.9 0 1 0 -1.8 0M260.9 145.5a1.1 1.1 0 1 0 2.1 0a1.1 1.1 0 1 0 -2.1 0M257.0 144.7a1.0 1.0 0 1 0 2.0 0a1.0 1.0 0 1 0 -2.0 0M235.8 48.4a1.1 1.1 0 1 0 2.2 0a1.1 1.1 0 1 0 -2.2 0M235.1 49.5a1.5 1.5 0 1 0 3.0 0a1.5 1.5 0 1 0 -3.0 0M98.4 236.5a1.0 1.0 0 1 0 2.0 0a1.0 1.0 0 1 0 -2.0 0M98.9 237.9a1.2 1.2 0 1 0 2.3 0a1.2 1.2 0 1 0 -2.3 0M35.4 48.6a0.8 0.8 0 1 0 1.6 0a0.8 0.8 0 1 0 -1.6 0M37.7 51.6a0.8 0.8 0 1 0 1.6 0a0.8 0.8 0 1 0 -1.6 0M38.5 50.6a1.2 1.2 0 1 0 2.4 0a1.2 1.2 0 1 0 -2.4 0M277.7 50.0a1.5 1.5 0 1 0 3.0 0a1.5 1.5 0 1 0 -3.0 0M274.6 54.4a0.8 0.8 0 1 0 1.6 0a0.8 0.8 0 1 0 -1.6 0M289.9 202.5a1.1 1.1 0 1 0 2.3 0a1.1 1.1 0 1 0 -2.3 0M286.4 200.8a1.4 1.4 0 1 0 2.7 0a1.4 1.4 0 1 0 -2.7 0M285.1 203.9a1.4 1.4 0 1 0 2.9 0a1.4 1.4 0 1 0 -2.9 0M271.4 201.8a1.0 1.0 0 1 0 2.0 0a1.0 1.0 0 1 0 -2.0 0M264.8 89.9a0.9 0.9 0 1 0 1.7 0a0.9 0.9 0 1 0 -1.7 0M222.7 -8.3a1.4 1.4 0 1 0 2.9 0a1.4 1.4 0 1 0 -2.9 0M225.0 -6.7a1.4 1.4 0 1 0 2.9 0a1.4 1.4 0 1 0 -2.9 0M221.3 41.3a1.0 1.0 0 1 0 2.0 0a1.0 1.0 0 1 0 -2.0 0M221.0 37.1a1.1 1.1 0 1 0 2.2 0a1.1 1.1 0 1 0 -2.2 0M20.7 270.3a1.2 1.2 0 1 0 2.5 0a1.2 1.2 0 1 0 -2.5 0M19.5 271.8a0.9 0.9 0 1 0 1.8 0a0.9 0.9 0 1 0 -1.8 0M26.8 271.4a0.9 0.9 0 1 0 1.8 0a0.9 0.9 0 1 0 -1.8 0M283.7 241.1a1.0 1.0 0 1 0 2.0 0a1.0 1.0 0 1 0 -2.0 0M280.6 240.0a1.0 1.0 0 1 0 2.0 0a1.0 1.0 0 1 0 -2.0 0M38.3 207.5a1.2 1.2 0 1 0 2.4 0a1.2 1.2 0 1 0 -2.4 0M22.5 331.9a1.0 1.0 0 1 0 2.1 0a1.0 1.0 0 1 0 -2.1 0M20.7 332.0a0.8 0.8 0 1 0 1.6 0a0.8 0.8 0 1 0 -1.6 0M23.3 331.6a1.2 1.2 0 1 0 2.5 0a1.2 1.2 0 1 0 -2.5 0M-3.3 83.8a1.3 1.3 0 1 0 2.6 0a1.3 1.3 0 1 0 -2.6 0M212.0 259.4a0.9 0.9 0 1 0 1.8 0a0.9 0.9 0 1 0 -1.8 0M213.2 263.7a0.8 0.8 0 1 0 1.6 0a0.8 0.8 0 1 0 -1.6 0M352.5 239.2a1.5 1.5 0 1 0 3.0 0a1.5 1.5 0 1 0 -3.0 0M271.1 151.3a0.8 0.8 0 1 0 1.7 0a0.8 0.8 0 1 0 -1.7 0M171.0 153.2a0.7 0.7 0 1 0 1.5 0a0.7 0.7 0 1 0 -1.5 0M-7.3 167.2a1.3 1.3 0 1 0 2.6 0a1.3 1.3 0 1 0 -2.6 0M-7.3 169.9a1.2 1.2 0 1 0 2.4 0a1.2 1.2 0 1 0 -2.4 0M-11.4 170.0a1.4 1.4 0 1 0 2.9 0a1.4 1.4 0 1 0 -2.9 0M54.5 243.0a1.1 1.1 0 1 0 2.2 0a1.1 1.1 0 1 0 -2.2 0M14.4 252.2a0.8 0.8 0 1 0 1.7 0a0.8 0.8 0 1 0 -1.7 0M14.7 247.3a0.8 0.8 0 1 0 1.7 0a0.8 0.8 0 1 0 -1.7 0M18.7 253.5a1.1 1.1 0 1 0 2.2 0a1.1 1.1 0 1 0 -2.2 0M49.6 67.4a1.4 1.4 0 1 0 2.8 0a1.4 1.4 0 1 0 -2.8 0M50.4 65.1a1.1 1.1 0 1 0 2.2 0a1.1 1.1 0 1 0 -2.2 0M54.1 65.0a1.0 1.0 0 1 0 1.9 0a1.0 1.0 0 1 0 -1.9 0M130.4 102.3a1.1 1.1 0 1 0 2.2 0a1.1 1.1 0 1 0 -2.2 0M136.5 100.7a0.7 0.7 0 1 0 1.5 0a0.7 0.7 0 1 0 -1.5 0M131.8 104.0a1.0 1.0 0 1 0 2.0 0a1.0 1.0 0 1 0 -2.0 0M114.5 190.1a0.8 0.8 0 1 0 1.5 0a0.8 0.8 0 1 0 -1.5 0M116.0 192.7a1.0 1.0 0 1 0 1.9 0a1.0 1.0 0 1 0 -1.9 0M113.5 190.3a1.0 1.0 0 1 0 2.0 0a1.0 1.0 0 1 0 -2.0 0M327.2 31.2a1.4 1.4 0 1 0 2.9 0a1.4 1.4 0 1 0 -2.9 0M-1.9 202.4a1.2 1.2 0 1 0 2.4 0a1.2 1.2 0 1 0 -2.4 0M-2.3 203.6a0.9 0.9 0 1 0 1.9 0a0.9 0.9 0 1 0 -1.9 0M-2.9 200.2a1.4 1.4 0 1 0 2.8 0a1.4 1.4 0 1 0 -2.8 0M99.2 134.7a1.3 1.3 0 1 0 2.5 0a1.3 1.3 0 1 0 -2.5 0M99.7 137.0a0.7 0.7 0 1 0 1.4 0a0.7 0.7 0 1 0 -1.4 0M111.5 68.6a1.1 1.1 0 1 0 2.2 0a1.1 1.1 0 1 0 -2.2 0M114.9 66.8a0.7 0.7 0 1 0 1.4 0a0.7 0.7 0 1 0 -1.4 0M282.6 82.3a1.0 1.0 0 1 0 2.1 0a1.0 1.0 0 1 0 -2.1 0M-6.7 224.2a1.3 1.3 0 1 0 2.5 0a1.3 1.3 0 1 0 -2.5 0M-5.3 222.8a1.1 1.1 0 1 0 2.2 0a1.1 1.1 0 1 0 -2.2 0M-2.9 226.9a1.5 1.5 0 1 0 2.9 0a1.5 1.5 0 1 0 -2.9 0M323.6 302.4a1.0 1.0 0 1 0 2.0 0a1.0 1.0 0 1 0 -2.0 0M59.8 226.6a1.5 1.5 0 1 0 2.9 0a1.5 1.5 0 1 0 -2.9 0M65.4 229.1a1.0 1.0 0 1 0 2.0 0a1.0 1.0 0 1 0 -2.0 0M43.2 305.4a0.9 0.9 0 1 0 1.7 0a0.9 0.9 0 1 0 -1.7 0M86.0 306.6a1.1 1.1 0 1 0 2.2 0a1.1 1.1 0 1 0 -2.2 0M228.3 168.0a1.2 1.2 0 1 0 2.5 0a1.2 1.2 0 1 0 -2.5 0M230.6 171.6a1.2 1.2 0 1 0 2.4 0a1.2 1.2 0 1 0 -2.4 0M344.0 333.4a1.1 1.1 0 1 0 2.1 0a1.1 1.1 0 1 0 -2.1 0M246.0 128.7a1.4 1.4 0 1 0 2.7 0a1.4 1.4 0 1 0 -2.7 0M162.9 202.7a1.2 1.2 0 1 0 2.3 0a1.2 1.2 0 1 0 -2.3 0M163.5 203.1a1.3 1.3 0 1 0 2.6 0a1.3 1.3 0 1 0 -2.6 0M165.2 202.2a0.7 0.7 0 1 0 1.4 0a0.7 0.7 0 1 0 -1.4 0" fill="#1cf51c" opacity="0.85" filter="url(#eb05)"/>
<path d="M178.7 28.1a2.7 2.7 0 1 0 5.4 0a2.7 2.7 0 1 0 -5.4 0M116.7 142.2a2.4 2.4 0 1 0 4.7 0a2.4 2.4 0 1 0 -4.7 0M133.3 77.8a2.2 2.2 0 1 0 4.4 0a2.2 2.2 0 1 0 -4.4 0M99.9 4.5a2.4 2.4 0 1 0 4.7 0a2.4 2.4 0 1 0 -4.7 0M129.8 6.4a3.1 3.1 0 1 0 6.1 0a3.1 3.1 0 1 0 -6.1 0M7.6 349.9a2.0 2.0 0 1 0 3.9 0a2.0 2.0 0 1 0 -3.9 0M271.4 68.3a2.1 2.1 0 1 0 4.2 0a2.1 2.1 0 1 0 -4.2 0M-4.0 155.2a2.1 2.1 0 1 0 4.3 0a2.1 2.1 0 1 0 -4.3 0M90.5 222.3a2.8 2.8 0 1 0 5.6 0a2.8 2.8 0 1 0 -5.6 0M154.7 48.1a2.6 2.6 0 1 0 5.2 0a2.6 2.6 0 1 0 -5.2 0M275.1 216.4a2.5 2.5 0 1 0 5.0 0a2.5 2.5 0 1 0 -5.0 0M197.6 4.5a2.8 2.8 0 1 0 5.5 0a2.8 2.8 0 1 0 -5.5 0M143.0 290.2a2.1 2.1 0 1 0 4.2 0a2.1 2.1 0 1 0 -4.2 0M69.3 69.1a2.0 2.0 0 1 0 3.9 0a2.0 2.0 0 1 0 -3.9 0M97.4 311.4a1.9 1.9 0 1 0 3.9 0a1.9 1.9 0 1 0 -3.9 0M250.1 58.8a2.0 2.0 0 1 0 3.9 0a2.0 2.0 0 1 0 -3.9 0M243.3 93.5a2.0 2.0 0 1 0 4.0 0a2.0 2.0 0 1 0 -4.0 0M8.6 68.3a2.5 2.5 0 1 0 5.0 0a2.5 2.5 0 1 0 -5.0 0M50.8 110.6a2.6 2.6 0 1 0 5.1 0a2.6 2.6 0 1 0 -5.1 0M48.7 111.9a2.0 2.0 0 1 0 3.9 0a2.0 2.0 0 1 0 -3.9 0M126.9 182.8a2.5 2.5 0 1 0 5.1 0a2.5 2.5 0 1 0 -5.1 0M259.5 150.1a3.0 3.0 0 1 0 6.1 0a3.0 3.0 0 1 0 -6.1 0M-8.1 79.7a2.2 2.2 0 1 0 4.3 0a2.2 2.2 0 1 0 -4.3 0M-13.1 79.0a2.5 2.5 0 1 0 5.0 0a2.5 2.5 0 1 0 -5.0 0M206.6 261.9a3.0 3.0 0 1 0 6.1 0a3.0 3.0 0 1 0 -6.1 0M183.2 248.3a2.3 2.3 0 1 0 4.7 0a2.3 2.3 0 1 0 -4.7 0M95.1 134.8a1.9 1.9 0 1 0 3.7 0a1.9 1.9 0 1 0 -3.7 0M110.6 68.6a2.7 2.7 0 1 0 5.3 0a2.7 2.7 0 1 0 -5.3 0M342.7 332.3a3.1 3.1 0 1 0 6.3 0a3.1 3.1 0 1 0 -6.3 0" fill="#1cf51c" filter="url(#eb08)"/>
<rect x="0" y="0" width="344.4" height="343.6" fill="#fff" filter="url(#grain)" opacity="0.4" style="mix-blend-mode:overlay"/>
<rect x="0.5" y="0.5" width="343.4" height="342.6" fill="none" stroke="#052005" stroke-width="1" opacity="0.6"/>
<rect x="279.4" y="314.4" width="48.6" height="3.3" fill="#fff"/>
<text x="303.6" y="326.9" font-size="9.4" text-anchor="middle" fill="#fff" class="w" font-family="'DejaVu Sans', sans-serif">20 µm</text>
</g>
<g transform="translate(859.2 1513.2)" clip-path="url(#ecl)">
<rect x="0" y="0" width="344.4" height="343.6" fill="#076607"/>
<path d="M187.9 218.8a9.4 9.4 0 1 0 18.7 0a9.4 9.4 0 1 0 -18.7 0M83.0 225.8a9.8 9.8 0 1 0 19.7 0a9.8 9.8 0 1 0 -19.7 0M308.4 60.3a9.5 9.5 0 1 0 19.0 0a9.5 9.5 0 1 0 -19.0 0M203.5 173.0a10.5 10.5 0 1 0 21.0 0a10.5 10.5 0 1 0 -21.0 0M172.5 152.3a9.8 9.8 0 1 0 19.6 0a9.8 9.8 0 1 0 -19.6 0M211.9 101.1a8.6 8.6 0 1 0 17.2 0a8.6 8.6 0 1 0 -17.2 0M161.3 12.7a9.5 9.5 0 1 0 19.1 0a9.5 9.5 0 1 0 -19.1 0M246.3 145.5a10.0 10.0 0 1 0 20.0 0a10.0 10.0 0 1 0 -20.0 0M315.9 191.6a8.9 8.9 0 1 0 17.7 0a8.9 8.9 0 1 0 -17.7 0M25.8 13.9a10.0 10.0 0 1 0 20.0 0a10.0 10.0 0 1 0 -20.0 0M85.6 69.9a9.7 9.7 0 1 0 19.5 0a9.7 9.7 0 1 0 -19.5 0M252.5 37.8a8.8 8.8 0 1 0 17.6 0a8.8 8.8 0 1 0 -17.6 0M72.3 91.0a8.1 8.1 0 1 0 16.3 0a8.1 8.1 0 1 0 -16.3 0M172.7 102.2a8.3 8.3 0 1 0 16.6 0a8.3 8.3 0 1 0 -16.6 0M52.4 33.1a7.7 7.7 0 1 0 15.4 0a7.7 7.7 0 1 0 -15.4 0M296.1 259.8a8.9 8.9 0 1 0 17.9 0a8.9 8.9 0 1 0 -17.9 0M29.6 47.0a8.6 8.6 0 1 0 17.1 0a8.6 8.6 0 1 0 -17.1 0M98.1 14.5a8.7 8.7 0 1 0 17.4 0a8.7 8.7 0 1 0 -17.4 0M56.8 62.6a9.5 9.5 0 1 0 19.0 0a9.5 9.5 0 1 0 -19.0 0M148.7 162.4a8.4 8.4 0 1 0 16.8 0a8.4 8.4 0 1 0 -16.8 0M178.0 273.2a8.1 8.1 0 1 0 16.3 0a8.1 8.1 0 1 0 -16.3 0M10.7 165.1a8.3 8.3 0 1 0 16.6 0a8.3 8.3 0 1 0 -16.6 0M-9.8 186.8a9.1 9.1 0 1 0 18.3 0a9.1 9.1 0 1 0 -18.3 0M96.8 310.1a9.6 9.6 0 1 0 19.2 0a9.6 9.6 0 1 0 -19.2 0M42.6 170.0a9.6 9.6 0 1 0 19.2 0a9.6 9.6 0 1 0 -19.2 0M-3.5 25.1a9.4 9.4 0 1 0 18.8 0a9.4 9.4 0 1 0 -18.8 0M328.5 165.4a8.2 8.2 0 1 0 16.4 0a8.2 8.2 0 1 0 -16.4 0M126.9 279.6a8.6 8.6 0 1 0 17.2 0a8.6 8.6 0 1 0 -17.2 0M255.3 337.5a9.8 9.8 0 1 0 19.6 0a9.8 9.8 0 1 0 -19.6 0M167.2 296.4a9.1 9.1 0 1 0 18.1 0a9.1 9.1 0 1 0 -18.1 0M242.9 75.0a8.2 8.2 0 1 0 16.4 0a8.2 8.2 0 1 0 -16.4 0M80.9 201.4a9.5 9.5 0 1 0 18.9 0a9.5 9.5 0 1 0 -18.9 0M9.9 323.4a9.6 9.6 0 1 0 19.2 0a9.6 9.6 0 1 0 -19.2 0M189.4 348.0a9.1 9.1 0 1 0 18.2 0a9.1 9.1 0 1 0 -18.2 0M-12.7 327.9a9.1 9.1 0 1 0 18.2 0a9.1 9.1 0 1 0 -18.2 0M312.8 283.4a7.9 7.9 0 1 0 15.7 0a7.9 7.9 0 1 0 -15.7 0M-1.0 1.4a9.2 9.2 0 1 0 18.3 0a9.2 9.2 0 1 0 -18.3 0M267.9 75.1a8.2 8.2 0 1 0 16.3 0a8.2 8.2 0 1 0 -16.3 0M293.0 338.2a10.0 10.0 0 1 0 20.0 0a10.0 10.0 0 1 0 -20.0 0M283.5 -0.2a8.3 8.3 0 1 0 16.6 0a8.3 8.3 0 1 0 -16.6 0M292.6 214.0a8.8 8.8 0 1 0 17.6 0a8.8 8.8 0 1 0 -17.6 0M30.6 112.2a9.1 9.1 0 1 0 18.2 0a9.1 9.1 0 1 0 -18.2 0M14.7 66.2a8.5 8.5 0 1 0 17.0 0a8.5 8.5 0 1 0 -17.0 0M21.3 141.4a8.4 8.4 0 1 0 16.8 0a8.4 8.4 0 1 0 -16.8 0M270.1 187.7a9.0 9.0 0 1 0 18.0 0a9.0 9.0 0 1 0 -18.0 0M213.5 77.5a8.3 8.3 0 1 0 16.6 0a8.3 8.3 0 1 0 -16.6 0M13.7 113.9a8.3 8.3 0 1 0 16.6 0a8.3 8.3 0 1 0 -16.6 0M-12.0 153.7a9.1 9.1 0 1 0 18.2 0a9.1 9.1 0 1 0 -18.2 0M86.3 251.7a8.2 8.2 0 1 0 16.4 0a8.2 8.2 0 1 0 -16.4 0M-1.3 50.7a10.3 10.3 0 1 0 20.7 0a10.3 10.3 0 1 0 -20.7 0M107.0 35.6a10.3 10.3 0 1 0 20.5 0a10.3 10.3 0 1 0 -20.5 0M215.5 334.1a8.4 8.4 0 1 0 16.8 0a8.4 8.4 0 1 0 -16.8 0M123.8 305.6a7.7 7.7 0 1 0 15.5 0a7.7 7.7 0 1 0 -15.5 0M208.3 61.1a7.9 7.9 0 1 0 15.8 0a7.9 7.9 0 1 0 -15.8 0M299.1 146.9a9.6 9.6 0 1 0 19.3 0a9.6 9.6 0 1 0 -19.3 0M126.6 29.1a9.8 9.8 0 1 0 19.6 0a9.8 9.8 0 1 0 -19.6 0M42.3 71.7a8.1 8.1 0 1 0 16.1 0a8.1 8.1 0 1 0 -16.1 0M43.0 130.5a9.4 9.4 0 1 0 18.8 0a9.4 9.4 0 1 0 -18.8 0M307.5 320.3a8.6 8.6 0 1 0 17.2 0a8.6 8.6 0 1 0 -17.2 0M16.2 304.7a10.5 10.5 0 1 0 21.0 0a10.5 10.5 0 1 0 -21.0 0M161.1 174.2a8.8 8.8 0 1 0 17.7 0a8.8 8.8 0 1 0 -17.7 0M177.7 187.3a8.8 8.8 0 1 0 17.6 0a8.8 8.8 0 1 0 -17.6 0M149.0 319.6a8.4 8.4 0 1 0 16.7 0a8.4 8.4 0 1 0 -16.7 0M91.6 288.1a10.5 10.5 0 1 0 20.9 0a10.5 10.5 0 1 0 -20.9 0M146.1 286.7a8.4 8.4 0 1 0 16.9 0a8.4 8.4 0 1 0 -16.9 0M199.0 303.7a9.5 9.5 0 1 0 19.0 0a9.5 9.5 0 1 0 -19.0 0M98.2 188.6a8.6 8.6 0 1 0 17.2 0a8.6 8.6 0 1 0 -17.2 0M277.9 225.2a9.7 9.7 0 1 0 19.4 0a9.7 9.7 0 1 0 -19.4 0M279.5 110.8a9.2 9.2 0 1 0 18.5 0a9.2 9.2 0 1 0 -18.5 0M111.1 96.9a8.0 8.0 0 1 0 15.9 0a8.0 8.0 0 1 0 -15.9 0M266.9 314.2a8.2 8.2 0 1 0 16.4 0a8.2 8.2 0 1 0 -16.4 0M240.3 16.2a9.1 9.1 0 1 0 18.1 0a9.1 9.1 0 1 0 -18.1 0M167.8 120.6a8.2 8.2 0 1 0 16.5 0a8.2 8.2 0 1 0 -16.5 0M73.2 16.2a7.5 7.5 0 1 0 15.0 0a7.5 7.5 0 1 0 -15.0 0M181.0 256.6a9.0 9.0 0 1 0 18.1 0a9.0 9.0 0 1 0 -18.1 0M78.7 345.4a7.7 7.7 0 1 0 15.5 0a7.7 7.7 0 1 0 -15.5 0M139.3 112.7a8.6 8.6 0 1 0 17.1 0a8.6 8.6 0 1 0 -17.1 0M328.0 248.3a8.6 8.6 0 1 0 17.1 0a8.6 8.6 0 1 0 -17.1 0M48.1 282.0a8.9 8.9 0 1 0 17.9 0a8.9 8.9 0 1 0 -17.9 0M92.9 99.5a8.6 8.6 0 1 0 17.1 0a8.6 8.6 0 1 0 -17.1 0M194.2 104.8a9.7 9.7 0 1 0 19.3 0a9.7 9.7 0 1 0 -19.3 0M7.1 184.3a9.5 9.5 0 1 0 19.0 0a9.5 9.5 0 1 0 -19.0 0M219.9 140.4a8.3 8.3 0 1 0 16.6 0a8.3 8.3 0 1 0 -16.6 0M173.9 65.2a9.8 9.8 0 1 0 19.6 0a9.8 9.8 0 1 0 -19.6 0M255.3 -1.8a9.4 9.4 0 1 0 18.9 0a9.4 9.4 0 1 0 -18.9 0M52.4 113.8a9.8 9.8 0 1 0 19.7 0a9.8 9.8 0 1 0 -19.7 0M328.4 105.6a9.6 9.6 0 1 0 19.3 0a9.6 9.6 0 1 0 -19.3 0M109.0 328.5a8.6 8.6 0 1 0 17.2 0a8.6 8.6 0 1 0 -17.2 0M221.7 23.5a9.3 9.3 0 1 0 18.6 0a9.3 9.3 0 1 0 -18.6 0M248.9 318.8a10.0 10.0 0 1 0 20.0 0a10.0 10.0 0 1 0 -20.0 0M215.4 211.3a9.7 9.7 0 1 0 19.4 0a9.7 9.7 0 1 0 -19.4 0M231.9 171.2a8.8 8.8 0 1 0 17.7 0a8.8 8.8 0 1 0 -17.7 0M59.1 263.2a9.9 9.9 0 1 0 19.7 0a9.9 9.9 0 1 0 -19.7 0M267.2 10.5a8.7 8.7 0 1 0 17.5 0a8.7 8.7 0 1 0 -17.5 0M230.0 121.9a9.1 9.1 0 1 0 18.2 0a9.1 9.1 0 1 0 -18.2 0M171.3 -5.3a8.3 8.3 0 1 0 16.7 0a8.3 8.3 0 1 0 -16.7 0M110.3 227.4a8.8 8.8 0 1 0 17.5 0a8.8 8.8 0 1 0 -17.5 0M75.6 123.8a9.6 9.6 0 1 0 19.2 0a9.6 9.6 0 1 0 -19.2 0M43.9 2.3a10.4 10.4 0 1 0 20.9 0a10.4 10.4 0 1 0 -20.9 0M333.2 135.4a9.5 9.5 0 1 0 19.0 0a9.5 9.5 0 1 0 -19.0 0M273.8 270.6a9.0 9.0 0 1 0 18.0 0a9.0 9.0 0 1 0 -18.0 0M206.0 36.6a8.5 8.5 0 1 0 17.0 0a8.5 8.5 0 1 0 -17.0 0M117.8 67.2a8.3 8.3 0 1 0 16.7 0a8.3 8.3 0 1 0 -16.7 0M43.4 222.2a9.2 9.2 0 1 0 18.4 0a9.2 9.2 0 1 0 -18.4 0M42.4 298.6a9.6 9.6 0 1 0 19.1 0a9.6 9.6 0 1 0 -19.1 0M298.7 291.4a8.4 8.4 0 1 0 16.8 0a8.4 8.4 0 1 0 -16.8 0M301.1 90.8a9.5 9.5 0 1 0 19.0 0a9.5 9.5 0 1 0 -19.0 0M333.9 41.1a9.0 9.0 0 1 0 18.0 0a9.0 9.0 0 1 0 -18.0 0M301.0 164.5a7.6 7.6 0 1 0 15.2 0a7.6 7.6 0 1 0 -15.2 0M244.6 55.6a9.0 9.0 0 1 0 18.0 0a9.0 9.0 0 1 0 -18.0 0M317.0 -5.4a9.7 9.7 0 1 0 19.3 0a9.7 9.7 0 1 0 -19.3 0M151.0 270.4a8.8 8.8 0 1 0 17.6 0a8.8 8.8 0 1 0 -17.6 0M133.2 255.0a8.7 8.7 0 1 0 17.3 0a8.7 8.7 0 1 0 -17.3 0M229.1 314.8a9.0 9.0 0 1 0 18.1 0a9.0 9.0 0 1 0 -18.1 0M184.5 122.8a9.8 9.8 0 1 0 19.5 0a9.8 9.8 0 1 0 -19.5 0M323.1 299.3a9.9 9.9 0 1 0 19.9 0a9.9 9.9 0 1 0 -19.9 0M310.9 40.9a9.6 9.6 0 1 0 19.2 0a9.6 9.6 0 1 0 -19.2 0M261.6 129.3a8.2 8.2 0 1 0 16.4 0a8.2 8.2 0 1 0 -16.4 0M255.7 217.2a9.3 9.3 0 1 0 18.6 0a9.3 9.3 0 1 0 -18.6 0M255.7 255.5a7.7 7.7 0 1 0 15.4 0a7.7 7.7 0 1 0 -15.4 0M320.7 333.8a8.8 8.8 0 1 0 17.5 0a8.8 8.8 0 1 0 -17.5 0M104.1 208.0a9.5 9.5 0 1 0 19.0 0a9.5 9.5 0 1 0 -19.0 0M125.2 141.2a7.9 7.9 0 1 0 15.9 0a7.9 7.9 0 1 0 -15.9 0M28.3 340.0a8.6 8.6 0 1 0 17.2 0a8.6 8.6 0 1 0 -17.2 0M236.6 104.5a8.2 8.2 0 1 0 16.4 0a8.2 8.2 0 1 0 -16.4 0M271.3 56.0a9.6 9.6 0 1 0 19.3 0a9.6 9.6 0 1 0 -19.3 0M285.1 29.7a10.4 10.4 0 1 0 20.7 0a10.4 10.4 0 1 0 -20.7 0M120.1 9.1a10.0 10.0 0 1 0 19.9 0a10.0 10.0 0 1 0 -19.9 0M-1.4 234.4a10.0 10.0 0 1 0 20.0 0a10.0 10.0 0 1 0 -20.0 0M336.0 73.7a9.8 9.8 0 1 0 19.6 0a9.8 9.8 0 1 0 -19.6 0M139.1 47.0a10.2 10.2 0 1 0 20.4 0a10.2 10.2 0 1 0 -20.4 0M247.2 287.5a9.0 9.0 0 1 0 18.1 0a9.0 9.0 0 1 0 -18.1 0M298.1 180.4a8.2 8.2 0 1 0 16.4 0a8.2 8.2 0 1 0 -16.4 0M278.8 139.3a9.8 9.8 0 1 0 19.6 0a9.8 9.8 0 1 0 -19.6 0M207.3 122.3a9.6 9.6 0 1 0 19.2 0a9.6 9.6 0 1 0 -19.2 0M150.4 203.7a8.8 8.8 0 1 0 17.7 0a8.8 8.8 0 1 0 -17.7 0M324.9 212.0a8.0 8.0 0 1 0 16.1 0a8.0 8.0 0 1 0 -16.1 0M64.3 187.7a7.8 7.8 0 1 0 15.7 0a7.8 7.8 0 1 0 -15.7 0M76.0 322.6a9.5 9.5 0 1 0 18.9 0a9.5 9.5 0 1 0 -18.9 0M-4.4 291.0a8.4 8.4 0 1 0 16.7 0a8.4 8.4 0 1 0 -16.7 0M132.4 224.7a9.9 9.9 0 1 0 19.8 0a9.9 9.9 0 1 0 -19.8 0M338.7 17.5a8.3 8.3 0 1 0 16.6 0a8.3 8.3 0 1 0 -16.6 0M31.3 242.9a8.7 8.7 0 1 0 17.3 0a8.7 8.7 0 1 0 -17.3 0M118.7 187.9a8.5 8.5 0 1 0 16.9 0a8.5 8.5 0 1 0 -16.9 0M167.9 219.2a8.6 8.6 0 1 0 17.2 0a8.6 8.6 0 1 0 -17.2 0M53.1 91.9a9.3 9.3 0 1 0 18.7 0a9.3 9.3 0 1 0 -18.7 0M198.0 0.7a8.6 8.6 0 1 0 17.1 0a8.6 8.6 0 1 0 -17.1 0M228.4 296.9a8.7 8.7 0 1 0 17.4 0a8.7 8.7 0 1 0 -17.4 0M337.9 273.8a9.4 9.4 0 1 0 18.8 0a9.4 9.4 0 1 0 -18.8 0M167.5 202.8a8.7 8.7 0 1 0 17.3 0a8.7 8.7 0 1 0 -17.3 0M97.5 136.2a10.3 10.3 0 1 0 20.5 0a10.3 10.3 0 1 0 -20.5 0M209.0 240.2a8.7 8.7 0 1 0 17.5 0a8.7 8.7 0 1 0 -17.5 0M56.2 18.6a7.6 7.6 0 1 0 15.3 0a7.6 7.6 0 1 0 -15.3 0M176.9 333.6a10.2 10.2 0 1 0 20.5 0a10.2 10.2 0 1 0 -20.5 0M-5.6 82.6a8.3 8.3 0 1 0 16.5 0a8.3 8.3 0 1 0 -16.5 0M170.8 235.9a7.9 7.9 0 1 0 15.7 0a7.9 7.9 0 1 0 -15.7 0M53.3 202.9a9.0 9.0 0 1 0 18.0 0a9.0 9.0 0 1 0 -18.0 0M200.1 277.3a8.9 8.9 0 1 0 17.9 0a8.9 8.9 0 1 0 -17.9 0M227.1 -0.6a8.2 8.2 0 1 0 16.3 0a8.2 8.2 0 1 0 -16.3 0M58.7 239.8a10.2 10.2 0 1 0 20.4 0a10.2 10.2 0 1 0 -20.4 0M232.8 227.6a8.9 8.9 0 1 0 17.8 0a8.9 8.9 0 1 0 -17.8 0M71.0 169.4a10.5 10.5 0 1 0 21.0 0a10.5 10.5 0 1 0 -21.0 0M0.4 259.9a7.9 7.9 0 1 0 15.8 0a7.9 7.9 0 1 0 -15.8 0M193.7 198.3a9.8 9.8 0 1 0 19.6 0a9.8 9.8 0 1 0 -19.6 0M89.1 157.5a8.7 8.7 0 1 0 17.4 0a8.7 8.7 0 1 0 -17.4 0M127.9 339.8a9.0 9.0 0 1 0 18.0 0a9.0 9.0 0 1 0 -18.0 0M102.0 263.0a10.2 10.2 0 1 0 20.3 0a10.2 10.2 0 1 0 -20.3 0M-8.2 128.8a9.8 9.8 0 1 0 19.6 0a9.8 9.8 0 1 0 -19.6 0M123.9 171.2a8.5 8.5 0 1 0 17.1 0a8.5 8.5 0 1 0 -17.1 0M200.7 323.7a9.3 9.3 0 1 0 18.7 0a9.3 9.3 0 1 0 -18.7 0M104.7 -5.7a9.5 9.5 0 1 0 19.0 0a9.5 9.5 0 1 0 -19.0 0M39.5 263.6a10.1 10.1 0 1 0 20.3 0a10.1 10.1 0 1 0 -20.3 0M18.6 213.3a8.1 8.1 0 1 0 16.3 0a8.1 8.1 0 1 0 -16.3 0M99.8 346.9a9.5 9.5 0 1 0 19.0 0a9.5 9.5 0 1 0 -19.0 0M256.9 90.1a8.7 8.7 0 1 0 17.4 0a8.7 8.7 0 1 0 -17.4 0M43.9 347.5a9.2 9.2 0 1 0 18.4 0a9.2 9.2 0 1 0 -18.4 0M267.1 289.6a7.5 7.5 0 1 0 15.0 0a7.5 7.5 0 1 0 -15.0 0M62.2 136.5a8.5 8.5 0 1 0 17.1 0a8.5 8.5 0 1 0 -17.1 0M213.0 191.6a10.5 10.5 0 1 0 21.0 0a10.5 10.5 0 1 0 -21.0 0M239.1 267.4a9.9 9.9 0 1 0 19.8 0a9.9 9.9 0 1 0 -19.8 0M288.1 78.7a8.8 8.8 0 1 0 17.7 0a8.8 8.8 0 1 0 -17.7 0M26.5 279.4a8.8 8.8 0 1 0 17.5 0a8.8 8.8 0 1 0 -17.5 0M-7.5 311.9a9.4 9.4 0 1 0 18.9 0a9.4 9.4 0 1 0 -18.9 0M326.9 229.3a8.9 8.9 0 1 0 17.8 0a8.9 8.9 0 1 0 -17.8 0M63.0 332.2a7.8 7.8 0 1 0 15.7 0a7.8 7.8 0 1 0 -15.7 0M285.1 197.0a9.1 9.1 0 1 0 18.1 0a9.1 9.1 0 1 0 -18.1 0M72.8 284.8a9.2 9.2 0 1 0 18.3 0a9.2 9.2 0 1 0 -18.3 0M195.1 140.9a8.9 8.9 0 1 0 17.7 0a8.9 8.9 0 1 0 -17.7 0M267.8 152.9a7.8 7.8 0 1 0 15.6 0a7.8 7.8 0 1 0 -15.6 0M144.5 181.6a8.4 8.4 0 1 0 16.7 0a8.4 8.4 0 1 0 -16.7 0M63.6 45.6a9.4 9.4 0 1 0 18.8 0a9.4 9.4 0 1 0 -18.8 0M160.6 79.8a8.4 8.4 0 1 0 16.7 0a8.4 8.4 0 1 0 -16.7 0M112.4 152.7a8.0 8.0 0 1 0 16.0 0a8.0 8.0 0 1 0 -16.0 0M82.9 34.5a8.7 8.7 0 1 0 17.5 0a8.7 8.7 0 1 0 -17.5 0M232.2 341.4a8.2 8.2 0 1 0 16.4 0a8.2 8.2 0 1 0 -16.4 0M251.0 164.9a9.6 9.6 0 1 0 19.3 0a9.6 9.6 0 1 0 -19.3 0M157.9 336.0a9.4 9.4 0 1 0 18.7 0a9.4 9.4 0 1 0 -18.7 0M297.4 15.6a9.1 9.1 0 1 0 18.2 0a9.1 9.1 0 1 0 -18.2 0M170.8 48.6a8.0 8.0 0 1 0 16.0 0a8.0 8.0 0 1 0 -16.0 0M221.7 279.0a9.6 9.6 0 1 0 19.3 0a9.6 9.6 0 1 0 -19.3 0M115.4 245.4a8.7 8.7 0 1 0 17.5 0a8.7 8.7 0 1 0 -17.5 0M8.3 348.2a8.5 8.5 0 1 0 17.0 0a8.5 8.5 0 1 0 -17.0 0M315.0 131.1a8.9 8.9 0 1 0 17.8 0a8.9 8.9 0 1 0 -17.8 0M137.7 -1.3a8.5 8.5 0 1 0 16.9 0a8.5 8.5 0 1 0 -16.9 0M321.7 266.4a8.9 8.9 0 1 0 17.9 0a8.9 8.9 0 1 0 -17.9 0M338.9 186.5a9.0 9.0 0 1 0 18.0 0a9.0 9.0 0 1 0 -18.0 0M214.3 9.7a7.9 7.9 0 1 0 15.8 0a7.9 7.9 0 1 0 -15.8 0M14.3 89.1a8.9 8.9 0 1 0 17.9 0a8.9 8.9 0 1 0 -17.9 0M306.1 113.0a10.0 10.0 0 1 0 19.9 0a10.0 10.0 0 1 0 -19.9 0M155.7 249.4a9.2 9.2 0 1 0 18.4 0a9.2 9.2 0 1 0 -18.4 0M-2.8 215.4a7.9 7.9 0 1 0 15.8 0a7.9 7.9 0 1 0 -15.8 0M275.3 166.8a8.6 8.6 0 1 0 17.2 0a8.6 8.6 0 1 0 -17.2 0M118.8 113.3a9.8 9.8 0 1 0 19.7 0a9.8 9.8 0 1 0 -19.7 0M231.4 43.8a9.3 9.3 0 1 0 18.6 0a9.3 9.3 0 1 0 -18.6 0M190.4 24.3a8.4 8.4 0 1 0 16.8 0a8.4 8.4 0 1 0 -16.8 0M194.0 79.3a9.5 9.5 0 1 0 19.0 0a9.5 9.5 0 1 0 -19.0 0M-15.3 102.3a9.6 9.6 0 1 0 19.3 0a9.6 9.6 0 1 0 -19.3 0M340.3 1.6a8.2 8.2 0 1 0 16.5 0a8.2 8.2 0 1 0 -16.5 0M153.5 229.3a7.7 7.7 0 1 0 15.5 0a7.7 7.7 0 1 0 -15.5 0M189.5 51.1a9.5 9.5 0 1 0 19.0 0a9.5 9.5 0 1 0 -19.0 0M17.8 262.3a9.1 9.1 0 1 0 18.2 0a9.1 9.1 0 1 0 -18.2 0M89.0 1.0a8.5 8.5 0 1 0 17.1 0a8.5 8.5 0 1 0 -17.1 0M138.3 91.0a8.9 8.9 0 1 0 17.8 0a8.9 8.9 0 1 0 -17.8 0M137.9 66.4a9.4 9.4 0 1 0 18.8 0a9.4 9.4 0 1 0 -18.8 0M224.4 258.8a8.2 8.2 0 1 0 16.4 0a8.2 8.2 0 1 0 -16.4 0M35.2 31.5a8.1 8.1 0 1 0 16.2 0a8.1 8.1 0 1 0 -16.2 0M76.3 303.2a9.8 9.8 0 1 0 19.6 0a9.8 9.8 0 1 0 -19.6 0M256.8 111.8a8.7 8.7 0 1 0 17.4 0a8.7 8.7 0 1 0 -17.4 0M232.8 200.9a9.7 9.7 0 1 0 19.4 0a9.7 9.7 0 1 0 -19.4 0M141.2 140.2a8.1 8.1 0 1 0 16.2 0a8.1 8.1 0 1 0 -16.2 0M309.1 223.5a8.7 8.7 0 1 0 17.4 0a8.7 8.7 0 1 0 -17.4 0M156.3 143.0a8.5 8.5 0 1 0 17.1 0a8.5 8.5 0 1 0 -17.1 0M72.7 -5.8a8.1 8.1 0 1 0 16.1 0a8.1 8.1 0 1 0 -16.1 0M327.5 318.1a9.0 9.0 0 1 0 17.9 0a9.0 9.0 0 1 0 -17.9 0M30.7 190.6a8.4 8.4 0 1 0 16.7 0a8.4 8.4 0 1 0 -16.7 0M228.4 63.0a9.2 9.2 0 1 0 18.5 0a9.2 9.2 0 1 0 -18.5 0M250.1 238.3a8.2 8.2 0 1 0 16.3 0a8.2 8.2 0 1 0 -16.3 0M337.6 340.9a8.1 8.1 0 1 0 16.3 0a8.1 8.1 0 1 0 -16.3 0M49.7 320.7a8.6 8.6 0 1 0 17.2 0a8.6 8.6 0 1 0 -17.2 0M41.6 152.0a9.0 9.0 0 1 0 18.0 0a9.0 9.0 0 1 0 -18.0 0M45.4 50.0a8.8 8.8 0 1 0 17.7 0a8.8 8.8 0 1 0 -17.7 0M318.0 76.9a7.9 7.9 0 1 0 15.8 0a7.9 7.9 0 1 0 -15.8 0M177.2 311.7a8.8 8.8 0 1 0 17.7 0a8.8 8.8 0 1 0 -17.7 0M277.8 91.5a9.0 9.0 0 1 0 17.9 0a9.0 9.0 0 1 0 -17.9 0M217.6 159.4a8.1 8.1 0 1 0 16.2 0a8.1 8.1 0 1 0 -16.2 0M135.4 198.1a8.1 8.1 0 1 0 16.1 0a8.1 8.1 0 1 0 -16.1 0M321.8 23.1a8.2 8.2 0 1 0 16.5 0a8.2 8.2 0 1 0 -16.5 0M-14.7 248.7a9.6 9.6 0 1 0 19.2 0a9.6 9.6 0 1 0 -19.2 0M156.0 33.2a9.4 9.4 0 1 0 18.7 0a9.4 9.4 0 1 0 -18.7 0M194.3 243.5a8.0 8.0 0 1 0 15.9 0a8.0 8.0 0 1 0 -15.9 0M290.5 48.7a8.6 8.6 0 1 0 17.1 0a8.6 8.6 0 1 0 -17.1 0M144.9 17.7a8.7 8.7 0 1 0 17.4 0a8.7 8.7 0 1 0 -17.4 0M282.6 315.0a9.6 9.6 0 1 0 19.2 0a9.6 9.6 0 1 0 -19.2 0M145.7 347.8a8.8 8.8 0 1 0 17.5 0a8.8 8.8 0 1 0 -17.5 0M31.9 92.1a10.0 10.0 0 1 0 20.0 0a10.0 10.0 0 1 0 -20.0 0M276.2 246.4a8.9 8.9 0 1 0 17.8 0a8.9 8.9 0 1 0 -17.8 0M62.1 221.6a8.7 8.7 0 1 0 17.5 0a8.7 8.7 0 1 0 -17.5 0M233.5 88.1a8.2 8.2 0 1 0 16.5 0a8.2 8.2 0 1 0 -16.5 0M-13.9 345.2a8.2 8.2 0 1 0 16.3 0a8.2 8.2 0 1 0 -16.3 0M202.1 258.7a9.3 9.3 0 1 0 18.7 0a9.3 9.3 0 1 0 -18.7 0M234.9 244.8a8.4 8.4 0 1 0 16.8 0a8.4 8.4 0 1 0 -16.8 0M292.1 237.0a10.1 10.1 0 1 0 20.3 0a10.1 10.1 0 1 0 -20.3 0M109.0 80.9a8.0 8.0 0 1 0 16.1 0a8.0 8.0 0 1 0 -16.1 0M26.1 175.3a8.4 8.4 0 1 0 16.8 0a8.4 8.4 0 1 0 -16.8 0M137.5 300.4a8.8 8.8 0 1 0 17.6 0a8.8 8.8 0 1 0 -17.6 0M61.4 296.0a8.1 8.1 0 1 0 16.1 0a8.1 8.1 0 1 0 -16.1 0M5.3 144.8a8.8 8.8 0 1 0 17.6 0a8.8 8.8 0 1 0 -17.6 0M313.7 349.3a8.4 8.4 0 1 0 16.9 0a8.4 8.4 0 1 0 -16.9 0M299.9 -5.7a8.1 8.1 0 1 0 16.3 0a8.1 8.1 0 1 0 -16.3 0M125.0 49.9a7.5 7.5 0 1 0 15.1 0a7.5 7.5 0 1 0 -15.1 0M270.0 204.6a8.4 8.4 0 1 0 16.7 0a8.4 8.4 0 1 0 -16.7 0M133.8 154.8a7.6 7.6 0 1 0 15.2 0a7.6 7.6 0 1 0 -15.2 0M30.8 318.9a9.9 9.9 0 1 0 19.8 0a9.9 9.9 0 1 0 -19.8 0M268.8 38.7a8.4 8.4 0 1 0 16.7 0a8.4 8.4 0 1 0 -16.7 0M-13.0 269.0a7.6 7.6 0 1 0 15.2 0a7.6 7.6 0 1 0 -15.2 0M96.3 49.5a7.9 7.9 0 1 0 15.7 0a7.9 7.9 0 1 0 -15.7 0M175.7 84.8a10.2 10.2 0 1 0 20.4 0a10.2 10.2 0 1 0 -20.4 0M98.2 117.1a8.7 8.7 0 1 0 17.5 0a8.7 8.7 0 1 0 -17.5 0M3.5 275.4a9.0 9.0 0 1 0 17.9 0a9.0 9.0 0 1 0 -17.9 0M13.5 31.2a9.7 9.7 0 1 0 19.5 0a9.7 9.7 0 1 0 -19.5 0M105.6 170.7a8.9 8.9 0 1 0 17.9 0a8.9 8.9 0 1 0 -17.9 0M275.5 344.7a9.2 9.2 0 1 0 18.4 0a9.2 9.2 0 1 0 -18.4 0M30.3 62.3a7.7 7.7 0 1 0 15.4 0a7.7 7.7 0 1 0 -15.4 0M192.2 157.6a9.2 9.2 0 1 0 18.3 0a9.2 9.2 0 1 0 -18.3 0M184.7 293.4a8.9 8.9 0 1 0 17.8 0a8.9 8.9 0 1 0 -17.8 0M159.0 58.4a7.6 7.6 0 1 0 15.2 0a7.6 7.6 0 1 0 -15.2 0M341.9 93.3a8.4 8.4 0 1 0 16.8 0a8.4 8.4 0 1 0 -16.8 0M311.4 249.8a7.7 7.7 0 1 0 15.4 0a7.7 7.7 0 1 0 -15.4 0M254.6 197.3a7.9 7.9 0 1 0 15.7 0a7.9 7.9 0 1 0 -15.7 0M23.3 -4.3a8.0 8.0 0 1 0 16.1 0a8.0 8.0 0 1 0 -16.1 0M231.5 151.1a8.1 8.1 0 1 0 16.2 0a8.1 8.1 0 1 0 -16.2 0M341.0 238.0a8.9 8.9 0 1 0 17.8 0a8.9 8.9 0 1 0 -17.8 0M340.0 119.2a8.4 8.4 0 1 0 16.9 0a8.4 8.4 0 1 0 -16.9 0M326.5 58.5a8.4 8.4 0 1 0 16.7 0a8.4 8.4 0 1 0 -16.7 0M151.1 125.5a9.0 9.0 0 1 0 18.0 0a9.0 9.0 0 1 0 -18.0 0M131.3 322.6a7.8 7.8 0 1 0 15.5 0a7.8 7.8 0 1 0 -15.5 0M79.3 268.1a8.5 8.5 0 1 0 17.1 0a8.5 8.5 0 1 0 -17.1 0M57.1 159.8a8.0 8.0 0 1 0 15.9 0a8.0 8.0 0 1 0 -15.9 0M321.2 150.9a8.4 8.4 0 1 0 16.8 0a8.4 8.4 0 1 0 -16.8 0M341.6 152.7a8.7 8.7 0 1 0 17.3 0a8.7 8.7 0 1 0 -17.3 0M246.0 182.7a8.3 8.3 0 1 0 16.6 0a8.3 8.3 0 1 0 -16.6 0M-13.9 69.4a8.0 8.0 0 1 0 16.0 0a8.0 8.0 0 1 0 -16.0 0M111.5 292.2a9.7 9.7 0 1 0 19.5 0a9.7 9.7 0 1 0 -19.5 0M281.9 287.1a8.5 8.5 0 1 0 17.0 0a8.5 8.5 0 1 0 -17.0 0M296.6 127.7a8.1 8.1 0 1 0 16.1 0a8.1 8.1 0 1 0 -16.1 0M13.1 245.5a8.3 8.3 0 1 0 16.5 0a8.3 8.3 0 1 0 -16.5 0M205.0 224.4a8.8 8.8 0 1 0 17.7 0a8.8 8.8 0 1 0 -17.7 0M341.6 292.8a8.4 8.4 0 1 0 16.8 0a8.4 8.4 0 1 0 -16.8 0M153.5 101.5a7.7 7.7 0 1 0 15.5 0a7.7 7.7 0 1 0 -15.5 0M338.6 203.2a8.5 8.5 0 1 0 17.0 0a8.5 8.5 0 1 0 -17.0 0M257.4 273.1a8.3 8.3 0 1 0 16.7 0a8.3 8.3 0 1 0 -16.7 0M79.8 142.2a9.2 9.2 0 1 0 18.4 0a9.2 9.2 0 1 0 -18.4 0M-13.2 12.5a7.4 7.4 0 1 0 14.9 0a7.4 7.4 0 1 0 -14.9 0M6.5 202.2a8.1 8.1 0 1 0 16.3 0a8.1 8.1 0 1 0 -16.3 0M-12.7 170.0a8.4 8.4 0 1 0 16.8 0a8.4 8.4 0 1 0 -16.8 0" fill="#001a00" opacity="0.96" filter="url(#eb1)"/>
<path d="M190.6 218.0a5.8 5.8 0 1 0 11.6 0a5.8 5.8 0 1 0 -11.6 0M86.3 225.1a6.1 6.1 0 1 0 12.2 0a6.1 6.1 0 1 0 -12.2 0M312.4 60.5a5.9 5.9 0 1 0 11.8 0a5.9 5.9 0 1 0 -11.8 0M207.0 172.3a6.5 6.5 0 1 0 13.0 0a6.5 6.5 0 1 0 -13.0 0M175.9 152.6a6.1 6.1 0 1 0 12.1 0a6.1 6.1 0 1 0 -12.1 0M215.5 100.6a5.3 5.3 0 1 0 10.7 0a5.3 5.3 0 1 0 -10.7 0M165.1 12.0a5.9 5.9 0 1 0 11.8 0a5.9 5.9 0 1 0 -11.8 0M250.2 144.8a6.2 6.2 0 1 0 12.4 0a6.2 6.2 0 1 0 -12.4 0M318.7 192.5a5.5 5.5 0 1 0 11.0 0a5.5 5.5 0 1 0 -11.0 0M30.4 14.9a6.2 6.2 0 1 0 12.4 0a6.2 6.2 0 1 0 -12.4 0M89.0 70.0a6.0 6.0 0 1 0 12.1 0a6.0 6.0 0 1 0 -12.1 0M256.2 38.5a5.4 5.4 0 1 0 10.9 0a5.4 5.4 0 1 0 -10.9 0M74.9 91.8a5.0 5.0 0 1 0 10.1 0a5.0 5.0 0 1 0 -10.1 0M176.3 101.5a5.1 5.1 0 1 0 10.3 0a5.1 5.1 0 1 0 -10.3 0M54.9 32.6a4.8 4.8 0 1 0 9.5 0a4.8 4.8 0 1 0 -9.5 0M299.2 260.4a5.5 5.5 0 1 0 11.1 0a5.5 5.5 0 1 0 -11.1 0M32.0 46.0a5.3 5.3 0 1 0 10.6 0a5.3 5.3 0 1 0 -10.6 0M100.6 13.7a5.4 5.4 0 1 0 10.8 0a5.4 5.4 0 1 0 -10.8 0M60.5 62.4a5.9 5.9 0 1 0 11.8 0a5.9 5.9 0 1 0 -11.8 0M152.8 162.7a5.2 5.2 0 1 0 10.4 0a5.2 5.2 0 1 0 -10.4 0M181.4 272.7a5.1 5.1 0 1 0 10.1 0a5.1 5.1 0 1 0 -10.1 0M13.9 166.0a5.2 5.2 0 1 0 10.3 0a5.2 5.2 0 1 0 -10.3 0M-6.8 186.6a5.7 5.7 0 1 0 11.3 0a5.7 5.7 0 1 0 -11.3 0M99.9 310.9a6.0 6.0 0 1 0 11.9 0a6.0 6.0 0 1 0 -11.9 0M47.0 170.7a5.9 5.9 0 1 0 11.9 0a5.9 5.9 0 1 0 -11.9 0M0.7 24.9a5.8 5.8 0 1 0 11.7 0a5.8 5.8 0 1 0 -11.7 0M332.2 164.9a5.1 5.1 0 1 0 10.2 0a5.1 5.1 0 1 0 -10.2 0M130.3 278.6a5.3 5.3 0 1 0 10.6 0a5.3 5.3 0 1 0 -10.6 0M258.2 337.4a6.1 6.1 0 1 0 12.2 0a6.1 6.1 0 1 0 -12.2 0M171.3 295.9a5.6 5.6 0 1 0 11.2 0a5.6 5.6 0 1 0 -11.2 0M246.1 75.5a5.1 5.1 0 1 0 10.1 0a5.1 5.1 0 1 0 -10.1 0M84.1 200.9a5.9 5.9 0 1 0 11.7 0a5.9 5.9 0 1 0 -11.7 0M13.4 324.2a5.9 5.9 0 1 0 11.9 0a5.9 5.9 0 1 0 -11.9 0M191.9 348.8a5.6 5.6 0 1 0 11.3 0a5.6 5.6 0 1 0 -11.3 0M-9.9 327.2a5.6 5.6 0 1 0 11.3 0a5.6 5.6 0 1 0 -11.3 0M316.7 283.9a4.9 4.9 0 1 0 9.8 0a4.9 4.9 0 1 0 -9.8 0M2.9 1.5a5.7 5.7 0 1 0 11.4 0a5.7 5.7 0 1 0 -11.4 0M271.4 74.3a5.1 5.1 0 1 0 10.1 0a5.1 5.1 0 1 0 -10.1 0M296.8 337.7a6.2 6.2 0 1 0 12.4 0a6.2 6.2 0 1 0 -12.4 0M286.2 0.3a5.1 5.1 0 1 0 10.3 0a5.1 5.1 0 1 0 -10.3 0M296.9 213.3a5.5 5.5 0 1 0 10.9 0a5.5 5.5 0 1 0 -10.9 0M33.4 111.5a5.6 5.6 0 1 0 11.3 0a5.6 5.6 0 1 0 -11.3 0M17.3 65.2a5.3 5.3 0 1 0 10.5 0a5.3 5.3 0 1 0 -10.5 0M25.4 142.3a5.2 5.2 0 1 0 10.4 0a5.2 5.2 0 1 0 -10.4 0M272.6 187.0a5.6 5.6 0 1 0 11.2 0a5.6 5.6 0 1 0 -11.2 0M216.9 77.8a5.2 5.2 0 1 0 10.3 0a5.2 5.2 0 1 0 -10.3 0M17.5 113.7a5.2 5.2 0 1 0 10.3 0a5.2 5.2 0 1 0 -10.3 0M-9.2 152.9a5.6 5.6 0 1 0 11.3 0a5.6 5.6 0 1 0 -11.3 0M89.4 251.5a5.1 5.1 0 1 0 10.2 0a5.1 5.1 0 1 0 -10.2 0M2.5 51.5a6.4 6.4 0 1 0 12.8 0a6.4 6.4 0 1 0 -12.8 0M111.7 35.3a6.4 6.4 0 1 0 12.7 0a6.4 6.4 0 1 0 -12.7 0M217.8 334.4a5.2 5.2 0 1 0 10.4 0a5.2 5.2 0 1 0 -10.4 0M127.6 306.3a4.8 4.8 0 1 0 9.6 0a4.8 4.8 0 1 0 -9.6 0M211.7 60.6a4.9 4.9 0 1 0 9.8 0a4.9 4.9 0 1 0 -9.8 0M302.9 146.2a6.0 6.0 0 1 0 12.0 0a6.0 6.0 0 1 0 -12.0 0M130.3 28.3a6.1 6.1 0 1 0 12.1 0a6.1 6.1 0 1 0 -12.1 0M45.4 72.6a5.0 5.0 0 1 0 10.0 0a5.0 5.0 0 1 0 -10.0 0M45.8 130.2a5.8 5.8 0 1 0 11.7 0a5.8 5.8 0 1 0 -11.7 0M309.9 320.5a5.3 5.3 0 1 0 10.7 0a5.3 5.3 0 1 0 -10.7 0M20.7 304.8a6.5 6.5 0 1 0 13.0 0a6.5 6.5 0 1 0 -13.0 0M164.2 173.7a5.5 5.5 0 1 0 10.9 0a5.5 5.5 0 1 0 -10.9 0M180.9 187.6a5.5 5.5 0 1 0 10.9 0a5.5 5.5 0 1 0 -10.9 0M151.4 318.7a5.2 5.2 0 1 0 10.4 0a5.2 5.2 0 1 0 -10.4 0M96.5 288.2a6.5 6.5 0 1 0 13.0 0a6.5 6.5 0 1 0 -13.0 0M149.8 287.3a5.2 5.2 0 1 0 10.5 0a5.2 5.2 0 1 0 -10.5 0M203.1 304.3a5.9 5.9 0 1 0 11.8 0a5.9 5.9 0 1 0 -11.8 0M100.7 188.8a5.3 5.3 0 1 0 10.7 0a5.3 5.3 0 1 0 -10.7 0M281.4 225.0a6.0 6.0 0 1 0 12.0 0a6.0 6.0 0 1 0 -12.0 0M283.0 111.4a5.7 5.7 0 1 0 11.4 0a5.7 5.7 0 1 0 -11.4 0M113.4 97.6a4.9 4.9 0 1 0 9.9 0a4.9 4.9 0 1 0 -9.9 0M270.0 313.3a5.1 5.1 0 1 0 10.2 0a5.1 5.1 0 1 0 -10.2 0M243.4 16.8a5.6 5.6 0 1 0 11.2 0a5.6 5.6 0 1 0 -11.2 0M170.4 120.0a5.1 5.1 0 1 0 10.2 0a5.1 5.1 0 1 0 -10.2 0M76.6 16.1a4.7 4.7 0 1 0 9.3 0a4.7 4.7 0 1 0 -9.3 0M183.8 256.6a5.6 5.6 0 1 0 11.2 0a5.6 5.6 0 1 0 -11.2 0M81.9 345.6a4.8 4.8 0 1 0 9.6 0a4.8 4.8 0 1 0 -9.6 0M141.6 113.5a5.3 5.3 0 1 0 10.6 0a5.3 5.3 0 1 0 -10.6 0M331.9 247.7a5.3 5.3 0 1 0 10.6 0a5.3 5.3 0 1 0 -10.6 0M52.2 282.0a5.5 5.5 0 1 0 11.1 0a5.5 5.5 0 1 0 -11.1 0M96.5 100.3a5.3 5.3 0 1 0 10.6 0a5.3 5.3 0 1 0 -10.6 0M198.3 104.6a6.0 6.0 0 1 0 12.0 0a6.0 6.0 0 1 0 -12.0 0M10.4 183.5a5.9 5.9 0 1 0 11.8 0a5.9 5.9 0 1 0 -11.8 0M223.2 139.5a5.1 5.1 0 1 0 10.3 0a5.1 5.1 0 1 0 -10.3 0M177.3 64.2a6.1 6.1 0 1 0 12.2 0a6.1 6.1 0 1 0 -12.2 0M259.0 -2.6a5.9 5.9 0 1 0 11.7 0a5.9 5.9 0 1 0 -11.7 0M56.1 113.2a6.1 6.1 0 1 0 12.2 0a6.1 6.1 0 1 0 -12.2 0M332.4 104.8a6.0 6.0 0 1 0 12.0 0a6.0 6.0 0 1 0 -12.0 0M112.5 328.2a5.3 5.3 0 1 0 10.6 0a5.3 5.3 0 1 0 -10.6 0M224.9 23.3a5.8 5.8 0 1 0 11.5 0a5.8 5.8 0 1 0 -11.5 0M252.4 318.0a6.2 6.2 0 1 0 12.4 0a6.2 6.2 0 1 0 -12.4 0M219.2 211.2a6.0 6.0 0 1 0 12.0 0a6.0 6.0 0 1 0 -12.0 0M236.2 171.0a5.5 5.5 0 1 0 10.9 0a5.5 5.5 0 1 0 -10.9 0M63.4 263.6a6.1 6.1 0 1 0 12.2 0a6.1 6.1 0 1 0 -12.2 0M270.4 10.9a5.4 5.4 0 1 0 10.8 0a5.4 5.4 0 1 0 -10.8 0M233.6 121.6a5.6 5.6 0 1 0 11.3 0a5.6 5.6 0 1 0 -11.3 0M173.6 -5.9a5.2 5.2 0 1 0 10.3 0a5.2 5.2 0 1 0 -10.3 0M114.5 226.4a5.4 5.4 0 1 0 10.9 0a5.4 5.4 0 1 0 -10.9 0M79.6 124.3a6.0 6.0 0 1 0 11.9 0a6.0 6.0 0 1 0 -11.9 0M47.8 2.5a6.5 6.5 0 1 0 13.0 0a6.5 6.5 0 1 0 -13.0 0M337.3 135.8a5.9 5.9 0 1 0 11.8 0a5.9 5.9 0 1 0 -11.8 0M277.7 269.7a5.6 5.6 0 1 0 11.1 0a5.6 5.6 0 1 0 -11.1 0M208.3 37.2a5.3 5.3 0 1 0 10.5 0a5.3 5.3 0 1 0 -10.5 0M121.9 66.9a5.2 5.2 0 1 0 10.3 0a5.2 5.2 0 1 0 -10.3 0M47.7 221.8a5.7 5.7 0 1 0 11.4 0a5.7 5.7 0 1 0 -11.4 0M45.8 298.5a5.9 5.9 0 1 0 11.8 0a5.9 5.9 0 1 0 -11.8 0M302.9 290.9a5.2 5.2 0 1 0 10.4 0a5.2 5.2 0 1 0 -10.4 0M303.9 91.3a5.9 5.9 0 1 0 11.8 0a5.9 5.9 0 1 0 -11.8 0M337.6 42.0a5.6 5.6 0 1 0 11.1 0a5.6 5.6 0 1 0 -11.1 0M303.0 164.2a4.7 4.7 0 1 0 9.4 0a4.7 4.7 0 1 0 -9.4 0M247.6 54.7a5.6 5.6 0 1 0 11.1 0a5.6 5.6 0 1 0 -11.1 0M320.0 -5.5a6.0 6.0 0 1 0 12.0 0a6.0 6.0 0 1 0 -12.0 0M154.4 269.5a5.5 5.5 0 1 0 10.9 0a5.5 5.5 0 1 0 -10.9 0M137.3 255.9a5.4 5.4 0 1 0 10.7 0a5.4 5.4 0 1 0 -10.7 0M233.0 314.7a5.6 5.6 0 1 0 11.2 0a5.6 5.6 0 1 0 -11.2 0M188.4 123.4a6.1 6.1 0 1 0 12.1 0a6.1 6.1 0 1 0 -12.1 0M326.9 300.1a6.2 6.2 0 1 0 12.3 0a6.2 6.2 0 1 0 -12.3 0M314.7 40.3a6.0 6.0 0 1 0 11.9 0a6.0 6.0 0 1 0 -11.9 0M264.3 128.5a5.1 5.1 0 1 0 10.2 0a5.1 5.1 0 1 0 -10.2 0M258.6 218.0a5.8 5.8 0 1 0 11.5 0a5.8 5.8 0 1 0 -11.5 0M259.4 255.5a4.8 4.8 0 1 0 9.6 0a4.8 4.8 0 1 0 -9.6 0M324.0 333.5a5.4 5.4 0 1 0 10.9 0a5.4 5.4 0 1 0 -10.9 0M106.9 207.4a5.9 5.9 0 1 0 11.8 0a5.9 5.9 0 1 0 -11.8 0M129.0 140.8a4.9 4.9 0 1 0 9.8 0a4.9 4.9 0 1 0 -9.8 0M30.9 340.0a5.3 5.3 0 1 0 10.7 0a5.3 5.3 0 1 0 -10.7 0M240.1 104.9a5.1 5.1 0 1 0 10.2 0a5.1 5.1 0 1 0 -10.2 0M274.1 56.7a6.0 6.0 0 1 0 11.9 0a6.0 6.0 0 1 0 -11.9 0M288.8 29.7a6.4 6.4 0 1 0 12.9 0a6.4 6.4 0 1 0 -12.9 0M123.1 8.3a6.2 6.2 0 1 0 12.3 0a6.2 6.2 0 1 0 -12.3 0M3.2 235.0a6.2 6.2 0 1 0 12.4 0a6.2 6.2 0 1 0 -12.4 0M340.6 74.5a6.1 6.1 0 1 0 12.1 0a6.1 6.1 0 1 0 -12.1 0M142.6 47.2a6.3 6.3 0 1 0 12.6 0a6.3 6.3 0 1 0 -12.6 0M250.0 286.8a5.6 5.6 0 1 0 11.2 0a5.6 5.6 0 1 0 -11.2 0M300.8 181.2a5.1 5.1 0 1 0 10.1 0a5.1 5.1 0 1 0 -10.1 0M281.7 139.7a6.1 6.1 0 1 0 12.2 0a6.1 6.1 0 1 0 -12.2 0M211.1 122.5a6.0 6.0 0 1 0 11.9 0a6.0 6.0 0 1 0 -11.9 0M152.8 203.4a5.5 5.5 0 1 0 11.0 0a5.5 5.5 0 1 0 -11.0 0M328.9 212.4a5.0 5.0 0 1 0 10.0 0a5.0 5.0 0 1 0 -10.0 0M68.0 187.0a4.9 4.9 0 1 0 9.7 0a4.9 4.9 0 1 0 -9.7 0M78.9 323.3a5.9 5.9 0 1 0 11.7 0a5.9 5.9 0 1 0 -11.7 0M-0.5 290.8a5.2 5.2 0 1 0 10.4 0a5.2 5.2 0 1 0 -10.4 0M136.5 225.4a6.1 6.1 0 1 0 12.3 0a6.1 6.1 0 1 0 -12.3 0M342.1 18.1a5.2 5.2 0 1 0 10.3 0a5.2 5.2 0 1 0 -10.3 0M34.5 243.4a5.4 5.4 0 1 0 10.7 0a5.4 5.4 0 1 0 -10.7 0M122.3 188.7a5.2 5.2 0 1 0 10.5 0a5.2 5.2 0 1 0 -10.5 0M171.5 219.6a5.3 5.3 0 1 0 10.6 0a5.3 5.3 0 1 0 -10.6 0M57.0 91.2a5.8 5.8 0 1 0 11.6 0a5.8 5.8 0 1 0 -11.6 0M201.6 0.6a5.3 5.3 0 1 0 10.6 0a5.3 5.3 0 1 0 -10.6 0M231.6 297.6a5.4 5.4 0 1 0 10.8 0a5.4 5.4 0 1 0 -10.8 0M341.5 273.4a5.8 5.8 0 1 0 11.6 0a5.8 5.8 0 1 0 -11.6 0M171.4 202.0a5.4 5.4 0 1 0 10.8 0a5.4 5.4 0 1 0 -10.8 0M101.5 136.9a6.4 6.4 0 1 0 12.7 0a6.4 6.4 0 1 0 -12.7 0M212.2 240.3a5.4 5.4 0 1 0 10.8 0a5.4 5.4 0 1 0 -10.8 0M59.6 17.9a4.7 4.7 0 1 0 9.5 0a4.7 4.7 0 1 0 -9.5 0M179.9 333.1a6.3 6.3 0 1 0 12.7 0a6.3 6.3 0 1 0 -12.7 0M-2.1 83.6a5.1 5.1 0 1 0 10.3 0a5.1 5.1 0 1 0 -10.3 0M173.6 236.1a4.9 4.9 0 1 0 9.7 0a4.9 4.9 0 1 0 -9.7 0M56.2 202.8a5.6 5.6 0 1 0 11.2 0a5.6 5.6 0 1 0 -11.2 0M203.9 277.8a5.5 5.5 0 1 0 11.1 0a5.5 5.5 0 1 0 -11.1 0M229.5 -1.0a5.1 5.1 0 1 0 10.1 0a5.1 5.1 0 1 0 -10.1 0M62.5 240.2a6.3 6.3 0 1 0 12.7 0a6.3 6.3 0 1 0 -12.7 0M235.8 228.0a5.5 5.5 0 1 0 11.1 0a5.5 5.5 0 1 0 -11.1 0M74.1 169.7a6.5 6.5 0 1 0 13.0 0a6.5 6.5 0 1 0 -13.0 0M2.9 260.2a4.9 4.9 0 1 0 9.8 0a4.9 4.9 0 1 0 -9.8 0M198.1 198.6a6.1 6.1 0 1 0 12.1 0a6.1 6.1 0 1 0 -12.1 0M93.2 157.8a5.4 5.4 0 1 0 10.8 0a5.4 5.4 0 1 0 -10.8 0M131.2 340.4a5.6 5.6 0 1 0 11.2 0a5.6 5.6 0 1 0 -11.2 0M106.6 263.0a6.3 6.3 0 1 0 12.6 0a6.3 6.3 0 1 0 -12.6 0M-3.7 128.7a6.1 6.1 0 1 0 12.2 0a6.1 6.1 0 1 0 -12.2 0M126.2 171.7a5.3 5.3 0 1 0 10.6 0a5.3 5.3 0 1 0 -10.6 0M205.2 323.4a5.8 5.8 0 1 0 11.6 0a5.8 5.8 0 1 0 -11.6 0M107.7 -5.1a5.9 5.9 0 1 0 11.8 0a5.9 5.9 0 1 0 -11.8 0M42.3 263.0a6.3 6.3 0 1 0 12.6 0a6.3 6.3 0 1 0 -12.6 0M21.8 214.1a5.0 5.0 0 1 0 10.1 0a5.0 5.0 0 1 0 -10.1 0M103.9 347.6a5.9 5.9 0 1 0 11.8 0a5.9 5.9 0 1 0 -11.8 0M259.7 89.8a5.4 5.4 0 1 0 10.8 0a5.4 5.4 0 1 0 -10.8 0M47.4 346.6a5.7 5.7 0 1 0 11.4 0a5.7 5.7 0 1 0 -11.4 0M269.1 288.7a4.7 4.7 0 1 0 9.3 0a4.7 4.7 0 1 0 -9.3 0M65.0 137.1a5.3 5.3 0 1 0 10.6 0a5.3 5.3 0 1 0 -10.6 0M216.3 191.5a6.5 6.5 0 1 0 13.0 0a6.5 6.5 0 1 0 -13.0 0M243.8 266.9a6.1 6.1 0 1 0 12.3 0a6.1 6.1 0 1 0 -12.3 0M292.3 78.6a5.5 5.5 0 1 0 11.0 0a5.5 5.5 0 1 0 -11.0 0M28.9 279.1a5.4 5.4 0 1 0 10.9 0a5.4 5.4 0 1 0 -10.9 0M-3.0 311.3a5.9 5.9 0 1 0 11.7 0a5.9 5.9 0 1 0 -11.7 0M329.5 229.8a5.5 5.5 0 1 0 11.0 0a5.5 5.5 0 1 0 -11.0 0M65.9 332.7a4.9 4.9 0 1 0 9.7 0a4.9 4.9 0 1 0 -9.7 0M288.1 197.8a5.6 5.6 0 1 0 11.2 0a5.6 5.6 0 1 0 -11.2 0M76.1 285.5a5.7 5.7 0 1 0 11.4 0a5.7 5.7 0 1 0 -11.4 0M199.0 141.4a5.5 5.5 0 1 0 11.0 0a5.5 5.5 0 1 0 -11.0 0M270.0 152.0a4.8 4.8 0 1 0 9.7 0a4.8 4.8 0 1 0 -9.7 0M147.5 181.4a5.2 5.2 0 1 0 10.4 0a5.2 5.2 0 1 0 -10.4 0M66.7 46.0a5.8 5.8 0 1 0 11.7 0a5.8 5.8 0 1 0 -11.7 0M163.3 79.2a5.2 5.2 0 1 0 10.4 0a5.2 5.2 0 1 0 -10.4 0M115.5 152.7a5.0 5.0 0 1 0 9.9 0a5.0 5.0 0 1 0 -9.9 0M85.3 35.4a5.4 5.4 0 1 0 10.8 0a5.4 5.4 0 1 0 -10.8 0M234.5 341.7a5.1 5.1 0 1 0 10.2 0a5.1 5.1 0 1 0 -10.2 0M254.8 164.7a6.0 6.0 0 1 0 11.9 0a6.0 6.0 0 1 0 -11.9 0M161.8 335.1a5.8 5.8 0 1 0 11.6 0a5.8 5.8 0 1 0 -11.6 0M300.1 16.0a5.6 5.6 0 1 0 11.3 0a5.6 5.6 0 1 0 -11.3 0M174.3 47.9a5.0 5.0 0 1 0 9.9 0a5.0 5.0 0 1 0 -9.9 0M226.2 278.2a6.0 6.0 0 1 0 12.0 0a6.0 6.0 0 1 0 -12.0 0M119.0 244.9a5.4 5.4 0 1 0 10.8 0a5.4 5.4 0 1 0 -10.8 0M11.4 348.8a5.3 5.3 0 1 0 10.5 0a5.3 5.3 0 1 0 -10.5 0M319.0 131.2a5.5 5.5 0 1 0 11.0 0a5.5 5.5 0 1 0 -11.0 0M140.3 -0.9a5.2 5.2 0 1 0 10.5 0a5.2 5.2 0 1 0 -10.5 0M326.0 267.3a5.5 5.5 0 1 0 11.1 0a5.5 5.5 0 1 0 -11.1 0M341.9 186.4a5.6 5.6 0 1 0 11.2 0a5.6 5.6 0 1 0 -11.2 0M217.7 8.7a4.9 4.9 0 1 0 9.8 0a4.9 4.9 0 1 0 -9.8 0M17.0 90.0a5.5 5.5 0 1 0 11.1 0a5.5 5.5 0 1 0 -11.1 0M310.1 113.0a6.2 6.2 0 1 0 12.4 0a6.2 6.2 0 1 0 -12.4 0M158.7 249.9a5.7 5.7 0 1 0 11.4 0a5.7 5.7 0 1 0 -11.4 0M0.9 214.6a4.9 4.9 0 1 0 9.8 0a4.9 4.9 0 1 0 -9.8 0M278.2 167.2a5.3 5.3 0 1 0 10.6 0a5.3 5.3 0 1 0 -10.6 0M123.1 112.9a6.1 6.1 0 1 0 12.2 0a6.1 6.1 0 1 0 -12.2 0M234.4 43.5a5.8 5.8 0 1 0 11.5 0a5.8 5.8 0 1 0 -11.5 0M194.1 24.6a5.2 5.2 0 1 0 10.4 0a5.2 5.2 0 1 0 -10.4 0M198.5 79.7a5.9 5.9 0 1 0 11.8 0a5.9 5.9 0 1 0 -11.8 0M-12.5 102.8a6.0 6.0 0 1 0 11.9 0a6.0 6.0 0 1 0 -11.9 0M344.1 1.7a5.1 5.1 0 1 0 10.2 0a5.1 5.1 0 1 0 -10.2 0M156.9 228.4a4.8 4.8 0 1 0 9.6 0a4.8 4.8 0 1 0 -9.6 0M194.0 50.6a5.9 5.9 0 1 0 11.8 0a5.9 5.9 0 1 0 -11.8 0M21.0 262.6a5.7 5.7 0 1 0 11.3 0a5.7 5.7 0 1 0 -11.3 0M91.6 1.5a5.3 5.3 0 1 0 10.6 0a5.3 5.3 0 1 0 -10.6 0M141.1 91.4a5.5 5.5 0 1 0 11.1 0a5.5 5.5 0 1 0 -11.1 0M140.7 66.3a5.8 5.8 0 1 0 11.6 0a5.8 5.8 0 1 0 -11.6 0M227.9 259.6a5.1 5.1 0 1 0 10.1 0a5.1 5.1 0 1 0 -10.1 0M38.3 31.2a5.0 5.0 0 1 0 10.0 0a5.0 5.0 0 1 0 -10.0 0M80.0 303.4a6.1 6.1 0 1 0 12.1 0a6.1 6.1 0 1 0 -12.1 0M259.6 111.7a5.4 5.4 0 1 0 10.8 0a5.4 5.4 0 1 0 -10.8 0M236.8 201.1a6.0 6.0 0 1 0 12.0 0a6.0 6.0 0 1 0 -12.0 0M144.1 141.1a5.0 5.0 0 1 0 10.0 0a5.0 5.0 0 1 0 -10.0 0M312.3 224.2a5.4 5.4 0 1 0 10.8 0a5.4 5.4 0 1 0 -10.8 0M159.4 143.3a5.3 5.3 0 1 0 10.6 0a5.3 5.3 0 1 0 -10.6 0M76.3 -5.3a5.0 5.0 0 1 0 10.0 0a5.0 5.0 0 1 0 -10.0 0M330.2 318.1a5.6 5.6 0 1 0 11.1 0a5.6 5.6 0 1 0 -11.1 0M34.4 190.2a5.2 5.2 0 1 0 10.4 0a5.2 5.2 0 1 0 -10.4 0M232.5 62.9a5.7 5.7 0 1 0 11.5 0a5.7 5.7 0 1 0 -11.5 0M253.7 239.0a5.1 5.1 0 1 0 10.1 0a5.1 5.1 0 1 0 -10.1 0M341.1 340.5a5.0 5.0 0 1 0 10.1 0a5.0 5.0 0 1 0 -10.1 0M52.6 321.3a5.3 5.3 0 1 0 10.7 0a5.3 5.3 0 1 0 -10.7 0M44.6 152.9a5.6 5.6 0 1 0 11.2 0a5.6 5.6 0 1 0 -11.2 0M48.6 49.2a5.5 5.5 0 1 0 11.0 0a5.5 5.5 0 1 0 -11.0 0M321.6 76.3a4.9 4.9 0 1 0 9.8 0a4.9 4.9 0 1 0 -9.8 0M180.5 311.9a5.5 5.5 0 1 0 11.0 0a5.5 5.5 0 1 0 -11.0 0M280.6 90.7a5.6 5.6 0 1 0 11.1 0a5.6 5.6 0 1 0 -11.1 0M220.7 159.3a5.0 5.0 0 1 0 10.1 0a5.0 5.0 0 1 0 -10.1 0M138.4 197.9a5.0 5.0 0 1 0 10.0 0a5.0 5.0 0 1 0 -10.0 0M325.9 22.2a5.1 5.1 0 1 0 10.2 0a5.1 5.1 0 1 0 -10.2 0M-12.0 248.7a6.0 6.0 0 1 0 11.9 0a6.0 6.0 0 1 0 -11.9 0M159.7 34.1a5.8 5.8 0 1 0 11.6 0a5.8 5.8 0 1 0 -11.6 0M197.9 243.5a4.9 4.9 0 1 0 9.9 0a4.9 4.9 0 1 0 -9.9 0M292.9 48.0a5.3 5.3 0 1 0 10.6 0a5.3 5.3 0 1 0 -10.6 0M148.0 16.9a5.4 5.4 0 1 0 10.8 0a5.4 5.4 0 1 0 -10.8 0M286.4 314.4a5.9 5.9 0 1 0 11.9 0a5.9 5.9 0 1 0 -11.9 0M148.9 348.3a5.4 5.4 0 1 0 10.9 0a5.4 5.4 0 1 0 -10.9 0M34.7 92.3a6.2 6.2 0 1 0 12.4 0a6.2 6.2 0 1 0 -12.4 0M279.1 246.7a5.5 5.5 0 1 0 11.0 0a5.5 5.5 0 1 0 -11.0 0M65.8 220.9a5.4 5.4 0 1 0 10.8 0a5.4 5.4 0 1 0 -10.8 0M235.8 87.5a5.1 5.1 0 1 0 10.2 0a5.1 5.1 0 1 0 -10.2 0M-11.7 345.6a5.1 5.1 0 1 0 10.1 0a5.1 5.1 0 1 0 -10.1 0M206.5 259.0a5.8 5.8 0 1 0 11.6 0a5.8 5.8 0 1 0 -11.6 0M239.0 245.0a5.2 5.2 0 1 0 10.4 0a5.2 5.2 0 1 0 -10.4 0M295.0 237.5a6.3 6.3 0 1 0 12.6 0a6.3 6.3 0 1 0 -12.6 0M112.0 81.1a5.0 5.0 0 1 0 10.0 0a5.0 5.0 0 1 0 -10.0 0M28.8 174.4a5.2 5.2 0 1 0 10.4 0a5.2 5.2 0 1 0 -10.4 0M141.0 300.3a5.4 5.4 0 1 0 10.9 0a5.4 5.4 0 1 0 -10.9 0M64.7 297.0a5.0 5.0 0 1 0 10.0 0a5.0 5.0 0 1 0 -10.0 0M8.0 143.8a5.4 5.4 0 1 0 10.9 0a5.4 5.4 0 1 0 -10.9 0M317.9 349.8a5.2 5.2 0 1 0 10.4 0a5.2 5.2 0 1 0 -10.4 0M302.5 -6.5a5.0 5.0 0 1 0 10.1 0a5.0 5.0 0 1 0 -10.1 0M128.0 50.1a4.7 4.7 0 1 0 9.3 0a4.7 4.7 0 1 0 -9.3 0M273.3 203.9a5.2 5.2 0 1 0 10.4 0a5.2 5.2 0 1 0 -10.4 0M137.4 154.4a4.7 4.7 0 1 0 9.4 0a4.7 4.7 0 1 0 -9.4 0M34.2 319.2a6.1 6.1 0 1 0 12.3 0a6.1 6.1 0 1 0 -12.3 0M271.3 38.8a5.2 5.2 0 1 0 10.4 0a5.2 5.2 0 1 0 -10.4 0M-10.1 269.2a4.7 4.7 0 1 0 9.4 0a4.7 4.7 0 1 0 -9.4 0M98.5 50.1a4.9 4.9 0 1 0 9.8 0a4.9 4.9 0 1 0 -9.8 0M179.8 85.0a6.3 6.3 0 1 0 12.6 0a6.3 6.3 0 1 0 -12.6 0M102.0 117.7a5.4 5.4 0 1 0 10.8 0a5.4 5.4 0 1 0 -10.8 0M6.0 275.6a5.6 5.6 0 1 0 11.1 0a5.6 5.6 0 1 0 -11.1 0M17.8 32.2a6.0 6.0 0 1 0 12.1 0a6.0 6.0 0 1 0 -12.1 0M108.9 170.0a5.5 5.5 0 1 0 11.1 0a5.5 5.5 0 1 0 -11.1 0M278.9 343.9a5.7 5.7 0 1 0 11.4 0a5.7 5.7 0 1 0 -11.4 0M33.2 62.0a4.8 4.8 0 1 0 9.5 0a4.8 4.8 0 1 0 -9.5 0M194.9 157.0a5.7 5.7 0 1 0 11.4 0a5.7 5.7 0 1 0 -11.4 0M187.7 294.4a5.5 5.5 0 1 0 11.1 0a5.5 5.5 0 1 0 -11.1 0M162.2 57.8a4.7 4.7 0 1 0 9.4 0a4.7 4.7 0 1 0 -9.4 0M345.8 93.2a5.2 5.2 0 1 0 10.4 0a5.2 5.2 0 1 0 -10.4 0M315.2 248.9a4.8 4.8 0 1 0 9.6 0a4.8 4.8 0 1 0 -9.6 0M257.3 197.4a4.9 4.9 0 1 0 9.7 0a4.9 4.9 0 1 0 -9.7 0M26.4 -3.7a5.0 5.0 0 1 0 10.0 0a5.0 5.0 0 1 0 -10.0 0M234.8 150.4a5.0 5.0 0 1 0 10.0 0a5.0 5.0 0 1 0 -10.0 0M344.9 238.3a5.5 5.5 0 1 0 11.0 0a5.5 5.5 0 1 0 -11.0 0M344.2 118.9a5.2 5.2 0 1 0 10.5 0a5.2 5.2 0 1 0 -10.5 0M328.9 58.7a5.2 5.2 0 1 0 10.4 0a5.2 5.2 0 1 0 -10.4 0M153.6 124.5a5.6 5.6 0 1 0 11.1 0a5.6 5.6 0 1 0 -11.1 0M133.6 322.3a4.8 4.8 0 1 0 9.6 0a4.8 4.8 0 1 0 -9.6 0M82.4 267.5a5.3 5.3 0 1 0 10.6 0a5.3 5.3 0 1 0 -10.6 0M60.6 159.9a4.9 4.9 0 1 0 9.9 0a4.9 4.9 0 1 0 -9.9 0M324.4 149.9a5.2 5.2 0 1 0 10.4 0a5.2 5.2 0 1 0 -10.4 0M344.7 153.1a5.4 5.4 0 1 0 10.7 0a5.4 5.4 0 1 0 -10.7 0M249.7 183.7a5.1 5.1 0 1 0 10.3 0a5.1 5.1 0 1 0 -10.3 0M-10.1 69.9a4.9 4.9 0 1 0 9.9 0a4.9 4.9 0 1 0 -9.9 0M115.1 292.3a6.0 6.0 0 1 0 12.1 0a6.0 6.0 0 1 0 -12.1 0M284.6 287.6a5.3 5.3 0 1 0 10.6 0a5.3 5.3 0 1 0 -10.6 0M300.1 127.9a5.0 5.0 0 1 0 10.0 0a5.0 5.0 0 1 0 -10.0 0M15.7 245.3a5.1 5.1 0 1 0 10.3 0a5.1 5.1 0 1 0 -10.3 0M207.6 223.6a5.5 5.5 0 1 0 11.0 0a5.5 5.5 0 1 0 -11.0 0M344.8 293.4a5.2 5.2 0 1 0 10.4 0a5.2 5.2 0 1 0 -10.4 0M156.0 100.6a4.8 4.8 0 1 0 9.6 0a4.8 4.8 0 1 0 -9.6 0M341.3 202.9a5.3 5.3 0 1 0 10.5 0a5.3 5.3 0 1 0 -10.5 0M261.1 273.5a5.2 5.2 0 1 0 10.3 0a5.2 5.2 0 1 0 -10.3 0M83.4 141.7a5.7 5.7 0 1 0 11.4 0a5.7 5.7 0 1 0 -11.4 0M-11.4 12.8a4.6 4.6 0 1 0 9.2 0a4.6 4.6 0 1 0 -9.2 0M9.3 202.6a5.0 5.0 0 1 0 10.1 0a5.0 5.0 0 1 0 -10.1 0M-10.2 170.4a5.2 5.2 0 1 0 10.4 0a5.2 5.2 0 1 0 -10.4 0" fill="#001200" opacity="0.5" filter="url(#eb2)"/>
<path d="M175.4 11.1a0.9 0.9 0 1 0 1.8 0a0.9 0.9 0 1 0 -1.8 0M174.9 10.0a1.5 1.5 0 1 0 3.0 0a1.5 1.5 0 1 0 -3.0 0M255.2 141.4a1.1 1.1 0 1 0 2.2 0a1.1 1.1 0 1 0 -2.2 0M320.8 186.8a0.9 0.9 0 1 0 1.7 0a0.9 0.9 0 1 0 -1.7 0M322.8 188.8a0.9 0.9 0 1 0 1.8 0a0.9 0.9 0 1 0 -1.8 0M158.6 160.0a0.9 0.9 0 1 0 1.7 0a0.9 0.9 0 1 0 -1.7 0M106.9 313.5a0.7 0.7 0 1 0 1.5 0a0.7 0.7 0 1 0 -1.5 0M48.1 170.1a1.2 1.2 0 1 0 2.4 0a1.2 1.2 0 1 0 -2.4 0M305.2 332.6a0.8 0.8 0 1 0 1.6 0a0.8 0.8 0 1 0 -1.6 0M36.7 110.7a1.3 1.3 0 1 0 2.5 0a1.3 1.3 0 1 0 -2.5 0M33.7 112.3a1.4 1.4 0 1 0 2.7 0a1.4 1.4 0 1 0 -2.7 0M27.1 139.3a1.2 1.2 0 1 0 2.3 0a1.2 1.2 0 1 0 -2.3 0M222.4 77.5a0.7 0.7 0 1 0 1.5 0a0.7 0.7 0 1 0 -1.5 0M224.1 81.3a0.8 0.8 0 1 0 1.6 0a0.8 0.8 0 1 0 -1.6 0M-6.1 157.1a1.2 1.2 0 1 0 2.3 0a1.2 1.2 0 1 0 -2.3 0M116.3 32.9a0.7 0.7 0 1 0 1.4 0a0.7 0.7 0 1 0 -1.4 0M115.7 31.3a1.2 1.2 0 1 0 2.3 0a1.2 1.2 0 1 0 -2.3 0M136.6 28.1a0.8 0.8 0 1 0 1.5 0a0.8 0.8 0 1 0 -1.5 0M171.7 177.5a1.3 1.3 0 1 0 2.7 0a1.3 1.3 0 1 0 -2.7 0M100.0 189.7a1.2 1.2 0 1 0 2.4 0a1.2 1.2 0 1 0 -2.4 0M102.9 192.1a0.9 0.9 0 1 0 1.9 0a0.9 0.9 0 1 0 -1.9 0M285.5 109.5a1.4 1.4 0 1 0 2.9 0a1.4 1.4 0 1 0 -2.9 0M120.0 100.4a1.4 1.4 0 1 0 2.8 0a1.4 1.4 0 1 0 -2.8 0M250.7 13.7a1.2 1.2 0 1 0 2.4 0a1.2 1.2 0 1 0 -2.4 0M190.3 253.6a1.3 1.3 0 1 0 2.6 0a1.3 1.3 0 1 0 -2.6 0M190.5 252.2a0.9 0.9 0 1 0 1.8 0a0.9 0.9 0 1 0 -1.8 0M87.2 346.5a0.9 0.9 0 1 0 1.8 0a0.9 0.9 0 1 0 -1.8 0M55.6 280.2a0.9 0.9 0 1 0 1.8 0a0.9 0.9 0 1 0 -1.8 0M105.3 101.4a1.0 1.0 0 1 0 2.0 0a1.0 1.0 0 1 0 -2.0 0M202.0 105.4a1.0 1.0 0 1 0 1.9 0a1.0 1.0 0 1 0 -1.9 0M181.8 65.8a1.1 1.1 0 1 0 2.2 0a1.1 1.1 0 1 0 -2.2 0M229.7 211.7a1.0 1.0 0 1 0 2.0 0a1.0 1.0 0 1 0 -2.0 0M234.8 125.1a1.4 1.4 0 1 0 2.8 0a1.4 1.4 0 1 0 -2.8 0M174.7 -7.4a1.2 1.2 0 1 0 2.4 0a1.2 1.2 0 1 0 -2.4 0M181.6 -6.8a1.0 1.0 0 1 0 2.0 0a1.0 1.0 0 1 0 -2.0 0M214.9 38.9a0.9 0.9 0 1 0 1.8 0a0.9 0.9 0 1 0 -1.8 0M215.0 40.7a1.0 1.0 0 1 0 2.0 0a1.0 1.0 0 1 0 -2.0 0M53.7 292.7a1.0 1.0 0 1 0 2.1 0a1.0 1.0 0 1 0 -2.1 0M305.1 289.3a0.8 0.8 0 1 0 1.5 0a0.8 0.8 0 1 0 -1.5 0M303.6 289.8a1.4 1.4 0 1 0 2.7 0a1.4 1.4 0 1 0 -2.7 0M145.3 256.1a0.7 0.7 0 1 0 1.4 0a0.7 0.7 0 1 0 -1.4 0M262.3 253.6a1.3 1.3 0 1 0 2.6 0a1.3 1.3 0 1 0 -2.6 0M116.3 207.9a0.8 0.8 0 1 0 1.6 0a0.8 0.8 0 1 0 -1.6 0M135.5 144.2a1.4 1.4 0 1 0 2.8 0a1.4 1.4 0 1 0 -2.8 0M244.7 103.6a1.1 1.1 0 1 0 2.1 0a1.1 1.1 0 1 0 -2.1 0M158.6 208.5a0.8 0.8 0 1 0 1.5 0a0.8 0.8 0 1 0 -1.5 0M6.9 289.6a0.7 0.7 0 1 0 1.5 0a0.7 0.7 0 1 0 -1.5 0M200.9 -1.2a1.0 1.0 0 1 0 1.9 0a1.0 1.0 0 1 0 -1.9 0M203.8 -1.1a1.3 1.3 0 1 0 2.6 0a1.3 1.3 0 1 0 -2.6 0M105.4 140.6a1.4 1.4 0 1 0 2.9 0a1.4 1.4 0 1 0 -2.9 0M65.8 21.4a0.7 0.7 0 1 0 1.4 0a0.7 0.7 0 1 0 -1.4 0M66.6 21.7a0.7 0.7 0 1 0 1.5 0a0.7 0.7 0 1 0 -1.5 0M61.7 205.8a1.4 1.4 0 1 0 2.9 0a1.4 1.4 0 1 0 -2.9 0M65.5 204.7a0.7 0.7 0 1 0 1.5 0a0.7 0.7 0 1 0 -1.5 0M204.0 275.4a0.9 0.9 0 1 0 1.7 0a0.9 0.9 0 1 0 -1.7 0M69.9 240.4a1.1 1.1 0 1 0 2.2 0a1.1 1.1 0 1 0 -2.2 0M70.8 242.2a1.0 1.0 0 1 0 2.1 0a1.0 1.0 0 1 0 -2.1 0M87.0 169.2a1.2 1.2 0 1 0 2.5 0a1.2 1.2 0 1 0 -2.5 0M200.8 198.7a1.3 1.3 0 1 0 2.6 0a1.3 1.3 0 1 0 -2.6 0M138.4 336.7a1.2 1.2 0 1 0 2.4 0a1.2 1.2 0 1 0 -2.4 0M112.9 -7.0a0.7 0.7 0 1 0 1.5 0a0.7 0.7 0 1 0 -1.5 0M272.6 287.2a0.8 0.8 0 1 0 1.5 0a0.8 0.8 0 1 0 -1.5 0M271.6 289.0a0.9 0.9 0 1 0 1.8 0a0.9 0.9 0 1 0 -1.8 0M68.9 336.8a1.1 1.1 0 1 0 2.1 0a1.1 1.1 0 1 0 -2.1 0M77.8 284.1a1.3 1.3 0 1 0 2.5 0a1.3 1.3 0 1 0 -2.5 0M79.5 283.9a0.9 0.9 0 1 0 1.8 0a0.9 0.9 0 1 0 -1.8 0M150.2 183.8a1.1 1.1 0 1 0 2.2 0a1.1 1.1 0 1 0 -2.2 0M71.8 44.2a1.2 1.2 0 1 0 2.3 0a1.2 1.2 0 1 0 -2.3 0M68.3 43.2a1.5 1.5 0 1 0 3.0 0a1.5 1.5 0 1 0 -3.0 0M257.7 166.1a1.1 1.1 0 1 0 2.1 0a1.1 1.1 0 1 0 -2.1 0M261.3 167.4a1.1 1.1 0 1 0 2.2 0a1.1 1.1 0 1 0 -2.2 0M125.8 243.0a1.1 1.1 0 1 0 2.2 0a1.1 1.1 0 1 0 -2.2 0M318.8 130.9a0.9 0.9 0 1 0 1.7 0a0.9 0.9 0 1 0 -1.7 0M148.8 1.6a1.1 1.1 0 1 0 2.2 0a1.1 1.1 0 1 0 -2.2 0M146.8 0.1a0.8 0.8 0 1 0 1.6 0a0.8 0.8 0 1 0 -1.6 0M332.4 269.6a1.0 1.0 0 1 0 2.0 0a1.0 1.0 0 1 0 -2.0 0M330.1 269.6a0.9 0.9 0 1 0 1.7 0a0.9 0.9 0 1 0 -1.7 0M17.0 91.5a1.4 1.4 0 1 0 2.7 0a1.4 1.4 0 1 0 -2.7 0M23.7 94.5a0.7 0.7 0 1 0 1.5 0a0.7 0.7 0 1 0 -1.5 0M125.8 109.5a1.0 1.0 0 1 0 2.0 0a1.0 1.0 0 1 0 -2.0 0M126.7 107.7a0.9 0.9 0 1 0 1.8 0a0.9 0.9 0 1 0 -1.8 0M239.4 37.6a1.4 1.4 0 1 0 2.8 0a1.4 1.4 0 1 0 -2.8 0M199.1 21.9a0.9 0.9 0 1 0 1.7 0a0.9 0.9 0 1 0 -1.7 0M-4.4 102.2a0.8 0.8 0 1 0 1.5 0a0.8 0.8 0 1 0 -1.5 0M-4.6 97.6a1.0 1.0 0 1 0 1.9 0a1.0 1.0 0 1 0 -1.9 0M98.9 -3.2a1.0 1.0 0 1 0 2.0 0a1.0 1.0 0 1 0 -2.0 0M99.0 -2.3a0.9 0.9 0 1 0 1.9 0a0.9 0.9 0 1 0 -1.9 0M146.8 91.0a1.4 1.4 0 1 0 2.9 0a1.4 1.4 0 1 0 -2.9 0M143.1 67.3a1.2 1.2 0 1 0 2.3 0a1.2 1.2 0 1 0 -2.3 0M140.5 67.1a0.7 0.7 0 1 0 1.5 0a0.7 0.7 0 1 0 -1.5 0M231.4 66.0a1.2 1.2 0 1 0 2.4 0a1.2 1.2 0 1 0 -2.4 0M47.8 148.6a1.0 1.0 0 1 0 1.9 0a1.0 1.0 0 1 0 -1.9 0M290.4 88.6a1.4 1.4 0 1 0 2.8 0a1.4 1.4 0 1 0 -2.8 0M286.3 88.2a0.9 0.9 0 1 0 1.8 0a0.9 0.9 0 1 0 -1.8 0M143.9 199.4a1.5 1.5 0 1 0 2.9 0a1.5 1.5 0 1 0 -2.9 0M138.9 202.1a1.3 1.3 0 1 0 2.5 0a1.3 1.3 0 1 0 -2.5 0M149.6 351.6a1.0 1.0 0 1 0 2.0 0a1.0 1.0 0 1 0 -2.0 0M152.3 349.5a1.1 1.1 0 1 0 2.2 0a1.1 1.1 0 1 0 -2.2 0M65.3 219.2a1.2 1.2 0 1 0 2.4 0a1.2 1.2 0 1 0 -2.4 0M146.6 301.4a0.7 0.7 0 1 0 1.4 0a0.7 0.7 0 1 0 -1.4 0M146.1 299.8a1.1 1.1 0 1 0 2.1 0a1.1 1.1 0 1 0 -2.1 0M40.6 320.6a1.5 1.5 0 1 0 3.0 0a1.5 1.5 0 1 0 -3.0 0M-6.4 267.3a0.8 0.8 0 1 0 1.6 0a0.8 0.8 0 1 0 -1.6 0M110.2 173.1a1.4 1.4 0 1 0 2.8 0a1.4 1.4 0 1 0 -2.8 0M113.2 169.8a0.8 0.8 0 1 0 1.6 0a0.8 0.8 0 1 0 -1.6 0M352.9 91.6a1.3 1.3 0 1 0 2.6 0a1.3 1.3 0 1 0 -2.6 0M239.5 148.9a1.4 1.4 0 1 0 2.9 0a1.4 1.4 0 1 0 -2.9 0M326.5 151.5a0.9 0.9 0 1 0 1.7 0a0.9 0.9 0 1 0 -1.7 0M325.3 155.1a1.5 1.5 0 1 0 2.9 0a1.5 1.5 0 1 0 -2.9 0M250.9 178.4a1.2 1.2 0 1 0 2.4 0a1.2 1.2 0 1 0 -2.4 0M253.9 179.7a1.4 1.4 0 1 0 2.8 0a1.4 1.4 0 1 0 -2.8 0M-5.6 67.7a1.3 1.3 0 1 0 2.6 0a1.3 1.3 0 1 0 -2.6 0M-4.7 68.8a1.1 1.1 0 1 0 2.1 0a1.1 1.1 0 1 0 -2.1 0M293.8 287.2a1.3 1.3 0 1 0 2.7 0a1.3 1.3 0 1 0 -2.7 0M-7.9 166.8a0.9 0.9 0 1 0 1.8 0a0.9 0.9 0 1 0 -1.8 0" fill="#28ee28" opacity="0.85" filter="url(#eb05)"/>
<path d="M48.1 171.3a1.8 1.8 0 1 0 3.7 0a1.8 1.8 0 1 0 -3.7 0M16.7 320.5a2.9 2.9 0 1 0 5.8 0a2.9 2.9 0 1 0 -5.8 0M21.2 65.6a2.8 2.8 0 1 0 5.6 0a2.8 2.8 0 1 0 -5.6 0M136.2 25.8a3.1 3.1 0 1 0 6.3 0a3.1 3.1 0 1 0 -6.3 0M97.8 293.4a2.6 2.6 0 1 0 5.2 0a2.6 2.6 0 1 0 -5.2 0M281.7 108.0a3.0 3.0 0 1 0 5.9 0a3.0 3.0 0 1 0 -5.9 0M143.2 113.0a3.0 3.0 0 1 0 6.1 0a3.0 3.0 0 1 0 -6.1 0M54.0 280.2a2.8 2.8 0 1 0 5.6 0a2.8 2.8 0 1 0 -5.6 0M236.8 42.0a2.8 2.8 0 1 0 5.6 0a2.8 2.8 0 1 0 -5.6 0M-6.9 267.2a1.8 1.8 0 1 0 3.7 0a1.8 1.8 0 1 0 -3.7 0M279.4 350.3a2.9 2.9 0 1 0 5.7 0a2.9 2.9 0 1 0 -5.7 0" fill="#28ee28" filter="url(#eb08)"/>
<rect x="0" y="0" width="344.4" height="343.6" fill="#fff" filter="url(#grain)" opacity="0.4" style="mix-blend-mode:overlay"/>
<rect x="0.5" y="0.5" width="343.4" height="342.6" fill="none" stroke="#052005" stroke-width="1" opacity="0.6"/>
<rect x="279.4" y="314.4" width="48.6" height="3.3" fill="#fff"/>
<text x="303.6" y="326.9" font-size="9.4" text-anchor="middle" fill="#fff" class="w" font-family="'DejaVu Sans', sans-serif">20 µm</text>
</g>
<g transform="translate(1215.6 1513.2)" clip-path="url(#ecl)">
<rect x="0" y="0" width="344.4" height="343.6" fill="#043604"/>
<path d="M129.3 186.7a10.3 10.3 0 1 0 20.5 0a10.3 10.3 0 1 0 -20.5 0M48.6 74.1a8.4 8.4 0 1 0 16.7 0a8.4 8.4 0 1 0 -16.7 0M27.7 -2.9a7.9 7.9 0 1 0 15.7 0a7.9 7.9 0 1 0 -15.7 0M167.4 345.9a9.7 9.7 0 1 0 19.4 0a9.7 9.7 0 1 0 -19.4 0M119.9 138.0a9.0 9.0 0 1 0 18.0 0a9.0 9.0 0 1 0 -18.0 0M101.0 20.2a9.3 9.3 0 1 0 18.5 0a9.3 9.3 0 1 0 -18.5 0M206.2 33.8a7.8 7.8 0 1 0 15.5 0a7.8 7.8 0 1 0 -15.5 0M19.2 335.0a8.5 8.5 0 1 0 17.0 0a8.5 8.5 0 1 0 -17.0 0M209.3 338.8a7.5 7.5 0 1 0 15.1 0a7.5 7.5 0 1 0 -15.1 0M122.0 163.7a9.6 9.6 0 1 0 19.1 0a9.6 9.6 0 1 0 -19.1 0M2.2 233.6a9.3 9.3 0 1 0 18.7 0a9.3 9.3 0 1 0 -18.7 0M139.8 7.5a9.7 9.7 0 1 0 19.4 0a9.7 9.7 0 1 0 -19.4 0M248.2 226.4a8.5 8.5 0 1 0 16.9 0a8.5 8.5 0 1 0 -16.9 0M280.7 218.2a9.3 9.3 0 1 0 18.5 0a9.3 9.3 0 1 0 -18.5 0M177.4 76.9a9.2 9.2 0 1 0 18.5 0a9.2 9.2 0 1 0 -18.5 0M268.6 237.1a8.4 8.4 0 1 0 16.7 0a8.4 8.4 0 1 0 -16.7 0M278.2 292.5a7.9 7.9 0 1 0 15.8 0a7.9 7.9 0 1 0 -15.8 0M340.1 120.8a8.4 8.4 0 1 0 16.8 0a8.4 8.4 0 1 0 -16.8 0M24.5 115.0a9.2 9.2 0 1 0 18.5 0a9.2 9.2 0 1 0 -18.5 0M201.5 15.1a8.7 8.7 0 1 0 17.5 0a8.7 8.7 0 1 0 -17.5 0M2.6 215.6a8.5 8.5 0 1 0 17.1 0a8.5 8.5 0 1 0 -17.1 0M48.0 222.5a9.9 9.9 0 1 0 19.8 0a9.9 9.9 0 1 0 -19.8 0M205.3 98.4a9.6 9.6 0 1 0 19.1 0a9.6 9.6 0 1 0 -19.1 0M82.2 -3.6a8.8 8.8 0 1 0 17.6 0a8.8 8.8 0 1 0 -17.6 0M231.3 216.8a8.0 8.0 0 1 0 16.0 0a8.0 8.0 0 1 0 -16.0 0M328.9 87.4a7.5 7.5 0 1 0 15.1 0a7.5 7.5 0 1 0 -15.1 0M167.3 301.6a9.3 9.3 0 1 0 18.6 0a9.3 9.3 0 1 0 -18.6 0M180.5 167.4a8.2 8.2 0 1 0 16.5 0a8.2 8.2 0 1 0 -16.5 0M91.6 137.3a9.2 9.2 0 1 0 18.5 0a9.2 9.2 0 1 0 -18.5 0M321.3 19.9a8.7 8.7 0 1 0 17.4 0a8.7 8.7 0 1 0 -17.4 0M322.1 227.7a8.1 8.1 0 1 0 16.3 0a8.1 8.1 0 1 0 -16.3 0M141.9 225.5a9.5 9.5 0 1 0 19.0 0a9.5 9.5 0 1 0 -19.0 0M14.2 314.9a9.8 9.8 0 1 0 19.7 0a9.8 9.8 0 1 0 -19.7 0M84.1 183.7a9.2 9.2 0 1 0 18.4 0a9.2 9.2 0 1 0 -18.4 0M71.1 243.4a9.6 9.6 0 1 0 19.2 0a9.6 9.6 0 1 0 -19.2 0M10.8 90.6a9.2 9.2 0 1 0 18.4 0a9.2 9.2 0 1 0 -18.4 0M35.2 329.6a8.5 8.5 0 1 0 17.1 0a8.5 8.5 0 1 0 -17.1 0M68.0 206.4a8.6 8.6 0 1 0 17.3 0a8.6 8.6 0 1 0 -17.3 0M98.5 109.7a9.2 9.2 0 1 0 18.5 0a9.2 9.2 0 1 0 -18.5 0M120.9 336.3a9.3 9.3 0 1 0 18.6 0a9.3 9.3 0 1 0 -18.6 0M230.6 153.7a8.2 8.2 0 1 0 16.4 0a8.2 8.2 0 1 0 -16.4 0M232.2 255.6a8.3 8.3 0 1 0 16.6 0a8.3 8.3 0 1 0 -16.6 0M32.3 60.8a7.8 7.8 0 1 0 15.7 0a7.8 7.8 0 1 0 -15.7 0M27.9 133.2a9.1 9.1 0 1 0 18.1 0a9.1 9.1 0 1 0 -18.1 0M230.8 108.4a8.7 8.7 0 1 0 17.5 0a8.7 8.7 0 1 0 -17.5 0M98.3 226.2a9.3 9.3 0 1 0 18.7 0a9.3 9.3 0 1 0 -18.7 0M-8.8 276.9a8.6 8.6 0 1 0 17.1 0a8.6 8.6 0 1 0 -17.1 0M-9.2 20.8a9.0 9.0 0 1 0 18.0 0a9.0 9.0 0 1 0 -18.0 0M291.8 323.1a7.9 7.9 0 1 0 15.9 0a7.9 7.9 0 1 0 -15.9 0M136.6 328.9a10.3 10.3 0 1 0 20.6 0a10.3 10.3 0 1 0 -20.6 0M280.0 82.3a8.5 8.5 0 1 0 17.1 0a8.5 8.5 0 1 0 -17.1 0M38.3 87.7a8.8 8.8 0 1 0 17.6 0a8.8 8.8 0 1 0 -17.6 0M47.6 154.2a10.1 10.1 0 1 0 20.1 0a10.1 10.1 0 1 0 -20.1 0M153.0 274.6a9.4 9.4 0 1 0 18.7 0a9.4 9.4 0 1 0 -18.7 0M298.1 170.5a8.8 8.8 0 1 0 17.6 0a8.8 8.8 0 1 0 -17.6 0M54.0 291.6a8.9 8.9 0 1 0 17.8 0a8.9 8.9 0 1 0 -17.8 0M214.4 55.9a8.3 8.3 0 1 0 16.5 0a8.3 8.3 0 1 0 -16.5 0M66.6 146.7a7.6 7.6 0 1 0 15.3 0a7.6 7.6 0 1 0 -15.3 0M82.7 329.3a8.6 8.6 0 1 0 17.2 0a8.6 8.6 0 1 0 -17.2 0M99.3 246.6a10.2 10.2 0 1 0 20.4 0a10.2 10.2 0 1 0 -20.4 0M107.0 170.8a8.0 8.0 0 1 0 16.1 0a8.0 8.0 0 1 0 -16.1 0M255.4 115.1a8.8 8.8 0 1 0 17.7 0a8.8 8.8 0 1 0 -17.7 0M320.0 54.1a9.9 9.9 0 1 0 19.9 0a9.9 9.9 0 1 0 -19.9 0M156.2 329.5a7.9 7.9 0 1 0 15.7 0a7.9 7.9 0 1 0 -15.7 0M121.7 51.6a8.8 8.8 0 1 0 17.6 0a8.8 8.8 0 1 0 -17.6 0M257.7 192.4a10.0 10.0 0 1 0 20.0 0a10.0 10.0 0 1 0 -20.0 0M66.5 308.2a9.1 9.1 0 1 0 18.2 0a9.1 9.1 0 1 0 -18.2 0M-3.4 -2.4a8.1 8.1 0 1 0 16.3 0a8.1 8.1 0 1 0 -16.3 0M268.2 270.0a9.7 9.7 0 1 0 19.4 0a9.7 9.7 0 1 0 -19.4 0M190.9 148.4a9.1 9.1 0 1 0 18.2 0a9.1 9.1 0 1 0 -18.2 0M223.7 323.2a10.1 10.1 0 1 0 20.2 0a10.1 10.1 0 1 0 -20.2 0M174.5 34.1a9.4 9.4 0 1 0 18.8 0a9.4 9.4 0 1 0 -18.8 0M82.0 76.6a10.1 10.1 0 1 0 20.2 0a10.1 10.1 0 1 0 -20.2 0M234.2 3.4a7.9 7.9 0 1 0 15.7 0a7.9 7.9 0 1 0 -15.7 0M-9.7 81.8a8.6 8.6 0 1 0 17.2 0a8.6 8.6 0 1 0 -17.2 0M210.4 185.1a9.6 9.6 0 1 0 19.2 0a9.6 9.6 0 1 0 -19.2 0M41.2 8.9a9.6 9.6 0 1 0 19.1 0a9.6 9.6 0 1 0 -19.1 0M198.3 316.4a9.2 9.2 0 1 0 18.4 0a9.2 9.2 0 1 0 -18.4 0M102.6 91.7a7.5 7.5 0 1 0 14.9 0a7.5 7.5 0 1 0 -14.9 0M261.9 79.5a9.5 9.5 0 1 0 19.0 0a9.5 9.5 0 1 0 -19.0 0M236.7 305.1a9.1 9.1 0 1 0 18.1 0a9.1 9.1 0 1 0 -18.1 0M312.9 196.2a8.2 8.2 0 1 0 16.4 0a8.2 8.2 0 1 0 -16.4 0M307.9 101.1a10.0 10.0 0 1 0 20.0 0a10.0 10.0 0 1 0 -20.0 0M-7.0 136.5a9.1 9.1 0 1 0 18.2 0a9.1 9.1 0 1 0 -18.2 0M325.4 -1.8a8.6 8.6 0 1 0 17.1 0a8.6 8.6 0 1 0 -17.1 0M124.7 222.0a8.3 8.3 0 1 0 16.7 0a8.3 8.3 0 1 0 -16.7 0M337.6 332.4a8.6 8.6 0 1 0 17.1 0a8.6 8.6 0 1 0 -17.1 0M-3.6 57.3a9.2 9.2 0 1 0 18.5 0a9.2 9.2 0 1 0 -18.5 0M137.5 147.7a7.6 7.6 0 1 0 15.2 0a7.6 7.6 0 1 0 -15.2 0M26.8 219.4a8.5 8.5 0 1 0 17.0 0a8.5 8.5 0 1 0 -17.0 0M235.9 125.4a9.6 9.6 0 1 0 19.2 0a9.6 9.6 0 1 0 -19.2 0M-7.7 105.4a9.0 9.0 0 1 0 18.0 0a9.0 9.0 0 1 0 -18.0 0M297.3 56.5a9.2 9.2 0 1 0 18.3 0a9.2 9.2 0 1 0 -18.3 0M166.7 5.1a9.1 9.1 0 1 0 18.2 0a9.1 9.1 0 1 0 -18.2 0M318.0 337.1a8.5 8.5 0 1 0 17.0 0a8.5 8.5 0 1 0 -17.0 0M117.0 297.4a9.7 9.7 0 1 0 19.4 0a9.7 9.7 0 1 0 -19.4 0M39.3 203.6a9.0 9.0 0 1 0 17.9 0a9.0 9.0 0 1 0 -17.9 0M268.4 344.1a8.7 8.7 0 1 0 17.5 0a8.7 8.7 0 1 0 -17.5 0M250.7 282.6a9.8 9.8 0 1 0 19.6 0a9.8 9.8 0 1 0 -19.6 0M223.5 75.5a9.2 9.2 0 1 0 18.4 0a9.2 9.2 0 1 0 -18.4 0M183.7 257.6a10.0 10.0 0 1 0 20.0 0a10.0 10.0 0 1 0 -20.0 0M57.9 19.4a9.9 9.9 0 1 0 19.9 0a9.9 9.9 0 1 0 -19.9 0M26.1 291.3a8.4 8.4 0 1 0 16.7 0a8.4 8.4 0 1 0 -16.7 0M33.2 30.8a10.1 10.1 0 1 0 20.1 0a10.1 10.1 0 1 0 -20.1 0M68.7 54.5a9.7 9.7 0 1 0 19.5 0a9.7 9.7 0 1 0 -19.5 0M131.9 249.0a9.8 9.8 0 1 0 19.7 0a9.8 9.8 0 1 0 -19.7 0M305.7 213.7a9.0 9.0 0 1 0 17.9 0a9.0 9.0 0 1 0 -17.9 0M318.2 284.0a9.2 9.2 0 1 0 18.5 0a9.2 9.2 0 1 0 -18.5 0M145.3 167.3a9.6 9.6 0 1 0 19.3 0a9.6 9.6 0 1 0 -19.3 0M41.8 304.5a8.8 8.8 0 1 0 17.7 0a8.8 8.8 0 1 0 -17.7 0M35.5 177.1a9.5 9.5 0 1 0 19.1 0a9.5 9.5 0 1 0 -19.1 0M205.7 298.7a10.2 10.2 0 1 0 20.4 0a10.2 10.2 0 1 0 -20.4 0M155.5 26.3a9.7 9.7 0 1 0 19.4 0a9.7 9.7 0 1 0 -19.4 0M12.3 276.6a9.9 9.9 0 1 0 19.8 0a9.9 9.9 0 1 0 -19.8 0M120.7 315.6a8.6 8.6 0 1 0 17.2 0a8.6 8.6 0 1 0 -17.2 0M302.8 287.5a7.8 7.8 0 1 0 15.7 0a7.8 7.8 0 1 0 -15.7 0M148.1 294.4a10.0 10.0 0 1 0 20.0 0a10.0 10.0 0 1 0 -20.0 0M148.1 51.3a10.0 10.0 0 1 0 20.0 0a10.0 10.0 0 1 0 -20.0 0M245.5 171.9a8.8 8.8 0 1 0 17.6 0a8.8 8.8 0 1 0 -17.6 0M342.2 16.0a8.0 8.0 0 1 0 16.0 0a8.0 8.0 0 1 0 -16.0 0M48.2 263.0a8.0 8.0 0 1 0 16.1 0a8.0 8.0 0 1 0 -16.1 0M105.2 -5.2a9.6 9.6 0 1 0 19.3 0a9.6 9.6 0 1 0 -19.3 0M186.4 6.3a9.0 9.0 0 1 0 18.0 0a9.0 9.0 0 1 0 -18.0 0M38.6 348.2a9.0 9.0 0 1 0 18.1 0a9.0 9.0 0 1 0 -18.1 0M290.4 3.5a8.3 8.3 0 1 0 16.5 0a8.3 8.3 0 1 0 -16.5 0M-4.7 169.7a9.0 9.0 0 1 0 18.0 0a9.0 9.0 0 1 0 -18.0 0M220.8 137.1a9.5 9.5 0 1 0 18.9 0a9.5 9.5 0 1 0 -18.9 0M216.9 -3.4a8.4 8.4 0 1 0 16.8 0a8.4 8.4 0 1 0 -16.8 0M-10.7 326.6a8.3 8.3 0 1 0 16.7 0a8.3 8.3 0 1 0 -16.7 0M12.5 193.5a9.9 9.9 0 1 0 19.8 0a9.9 9.9 0 1 0 -19.8 0M46.3 108.9a8.0 8.0 0 1 0 15.9 0a8.0 8.0 0 1 0 -15.9 0M83.1 276.4a8.2 8.2 0 1 0 16.4 0a8.2 8.2 0 1 0 -16.4 0M150.6 244.5a8.8 8.8 0 1 0 17.5 0a8.8 8.8 0 1 0 -17.5 0M330.5 142.3a7.7 7.7 0 1 0 15.4 0a7.7 7.7 0 1 0 -15.4 0M12.9 66.3a9.4 9.4 0 1 0 18.8 0a9.4 9.4 0 1 0 -18.8 0M91.0 158.9a10.0 10.0 0 1 0 20.1 0a10.0 10.0 0 1 0 -20.1 0M232.2 51.2a7.6 7.6 0 1 0 15.1 0a7.6 7.6 0 1 0 -15.1 0M291.0 134.3a9.9 9.9 0 1 0 19.8 0a9.9 9.9 0 1 0 -19.8 0M189.5 298.0a8.1 8.1 0 1 0 16.2 0a8.1 8.1 0 1 0 -16.2 0M201.8 121.4a9.7 9.7 0 1 0 19.4 0a9.7 9.7 0 1 0 -19.4 0M160.7 182.0a9.6 9.6 0 1 0 19.2 0a9.6 9.6 0 1 0 -19.2 0M89.4 306.5a9.7 9.7 0 1 0 19.5 0a9.7 9.7 0 1 0 -19.5 0M251.5 321.4a10.2 10.2 0 1 0 20.4 0a10.2 10.2 0 1 0 -20.4 0M319.9 163.1a8.5 8.5 0 1 0 17.0 0a8.5 8.5 0 1 0 -17.0 0M112.6 262.2a10.0 10.0 0 1 0 20.1 0a10.0 10.0 0 1 0 -20.1 0M89.3 50.9a8.7 8.7 0 1 0 17.5 0a8.7 8.7 0 1 0 -17.5 0M312.4 81.9a8.5 8.5 0 1 0 17.0 0a8.5 8.5 0 1 0 -17.0 0M82.6 101.0a8.4 8.4 0 1 0 16.9 0a8.4 8.4 0 1 0 -16.9 0M311.3 301.6a9.9 9.9 0 1 0 19.7 0a9.9 9.9 0 1 0 -19.7 0M49.0 47.4a8.2 8.2 0 1 0 16.4 0a8.2 8.2 0 1 0 -16.4 0M104.8 206.0a7.8 7.8 0 1 0 15.7 0a7.8 7.8 0 1 0 -15.7 0M340.7 71.6a9.7 9.7 0 1 0 19.5 0a9.7 9.7 0 1 0 -19.5 0M260.5 137.1a10.3 10.3 0 1 0 20.6 0a10.3 10.3 0 1 0 -20.6 0M273.5 15.4a9.6 9.6 0 1 0 19.2 0a9.6 9.6 0 1 0 -19.2 0M-13.3 40.5a8.9 8.9 0 1 0 17.7 0a8.9 8.9 0 1 0 -17.7 0M287.2 344.0a8.1 8.1 0 1 0 16.3 0a8.1 8.1 0 1 0 -16.3 0M249.4 340.8a8.4 8.4 0 1 0 16.7 0a8.4 8.4 0 1 0 -16.7 0M133.5 82.5a8.8 8.8 0 1 0 17.6 0a8.8 8.8 0 1 0 -17.6 0M339.4 270.0a9.2 9.2 0 1 0 18.4 0a9.2 9.2 0 1 0 -18.4 0M175.2 98.7a9.7 9.7 0 1 0 19.4 0a9.7 9.7 0 1 0 -19.4 0M127.5 99.0a9.3 9.3 0 1 0 18.6 0a9.3 9.3 0 1 0 -18.6 0M174.0 325.5a8.7 8.7 0 1 0 17.3 0a8.7 8.7 0 1 0 -17.3 0M316.0 134.1a8.9 8.9 0 1 0 17.8 0a8.9 8.9 0 1 0 -17.8 0M284.1 188.9a8.9 8.9 0 1 0 17.7 0a8.9 8.9 0 1 0 -17.7 0M306.3 349.6a8.6 8.6 0 1 0 17.2 0a8.6 8.6 0 1 0 -17.2 0M333.2 311.4a7.7 7.7 0 1 0 15.4 0a7.7 7.7 0 1 0 -15.4 0M296.3 28.6a9.0 9.0 0 1 0 17.9 0a9.0 9.0 0 1 0 -17.9 0M149.0 133.4a8.3 8.3 0 1 0 16.5 0a8.3 8.3 0 1 0 -16.5 0M21.3 241.6a8.0 8.0 0 1 0 16.0 0a8.0 8.0 0 1 0 -16.0 0M226.2 342.2a8.1 8.1 0 1 0 16.2 0a8.1 8.1 0 1 0 -16.2 0M133.7 272.3a7.9 7.9 0 1 0 15.7 0a7.9 7.9 0 1 0 -15.7 0M170.9 211.6a9.9 9.9 0 1 0 19.8 0a9.9 9.9 0 1 0 -19.8 0M291.1 242.1a9.7 9.7 0 1 0 19.4 0a9.7 9.7 0 1 0 -19.4 0M246.9 155.1a8.1 8.1 0 1 0 16.1 0a8.1 8.1 0 1 0 -16.1 0M26.0 157.2a8.6 8.6 0 1 0 17.3 0a8.6 8.6 0 1 0 -17.3 0M1.2 349.4a9.9 9.9 0 1 0 19.8 0a9.9 9.9 0 1 0 -19.8 0M227.7 178.8a9.0 9.0 0 1 0 18.0 0a9.0 9.0 0 1 0 -18.0 0M171.8 60.3a9.1 9.1 0 1 0 18.2 0a9.1 9.1 0 1 0 -18.2 0M253.9 50.2a9.9 9.9 0 1 0 19.9 0a9.9 9.9 0 1 0 -19.9 0M223.1 31.2a9.8 9.8 0 1 0 19.6 0a9.8 9.8 0 1 0 -19.6 0M161.5 158.6a9.6 9.6 0 1 0 19.2 0a9.6 9.6 0 1 0 -19.2 0M83.2 23.2a9.1 9.1 0 1 0 18.1 0a9.1 9.1 0 1 0 -18.1 0M168.8 118.0a9.3 9.3 0 1 0 18.7 0a9.3 9.3 0 1 0 -18.7 0M195.1 81.2a8.5 8.5 0 1 0 16.9 0a8.5 8.5 0 1 0 -16.9 0M192.1 57.4a9.9 9.9 0 1 0 19.8 0a9.9 9.9 0 1 0 -19.8 0M108.8 74.4a10.5 10.5 0 1 0 20.9 0a10.5 10.5 0 1 0 -20.9 0M31.8 275.9a8.4 8.4 0 1 0 16.7 0a8.4 8.4 0 1 0 -16.7 0M219.9 203.6a8.8 8.8 0 1 0 17.5 0a8.8 8.8 0 1 0 -17.5 0M329.6 185.2a8.5 8.5 0 1 0 17.1 0a8.5 8.5 0 1 0 -17.1 0M341.7 247.8a8.3 8.3 0 1 0 16.6 0a8.3 8.3 0 1 0 -16.6 0M180.2 240.2a8.0 8.0 0 1 0 15.9 0a8.0 8.0 0 1 0 -15.9 0M-10.2 293.6a7.9 7.9 0 1 0 15.8 0a7.9 7.9 0 1 0 -15.8 0M222.7 285.7a10.3 10.3 0 1 0 20.6 0a10.3 10.3 0 1 0 -20.6 0M209.6 268.9a8.6 8.6 0 1 0 17.1 0a8.6 8.6 0 1 0 -17.1 0M81.8 257.1a9.1 9.1 0 1 0 18.2 0a9.1 9.1 0 1 0 -18.2 0M311.8 266.5a10.3 10.3 0 1 0 20.5 0a10.3 10.3 0 1 0 -20.5 0M241.8 88.0a7.7 7.7 0 1 0 15.5 0a7.7 7.7 0 1 0 -15.5 0M75.3 167.4a9.1 9.1 0 1 0 18.2 0a9.1 9.1 0 1 0 -18.2 0M61.7 324.2a8.2 8.2 0 1 0 16.3 0a8.2 8.2 0 1 0 -16.3 0M108.0 36.9a9.3 9.3 0 1 0 18.6 0a9.3 9.3 0 1 0 -18.6 0M-12.8 186.5a8.0 8.0 0 1 0 16.0 0a8.0 8.0 0 1 0 -16.0 0M209.9 246.4a8.2 8.2 0 1 0 16.5 0a8.2 8.2 0 1 0 -16.5 0M216.6 228.9a8.0 8.0 0 1 0 16.0 0a8.0 8.0 0 1 0 -16.0 0M137.4 31.9a8.5 8.5 0 1 0 17.0 0a8.5 8.5 0 1 0 -17.0 0M341.4 160.6a7.7 7.7 0 1 0 15.4 0a7.7 7.7 0 1 0 -15.4 0M313.2 248.7a8.3 8.3 0 1 0 16.5 0a8.3 8.3 0 1 0 -16.5 0M72.9 289.3a7.5 7.5 0 1 0 15.1 0a7.5 7.5 0 1 0 -15.1 0M270.2 102.9a7.9 7.9 0 1 0 15.9 0a7.9 7.9 0 1 0 -15.9 0M331.8 203.8a9.5 9.5 0 1 0 19.1 0a9.5 9.5 0 1 0 -19.1 0M7.3 126.4a8.4 8.4 0 1 0 16.8 0a8.4 8.4 0 1 0 -16.8 0M196.6 224.0a8.1 8.1 0 1 0 16.1 0a8.1 8.1 0 1 0 -16.1 0M246.0 16.3a7.6 7.6 0 1 0 15.2 0a7.6 7.6 0 1 0 -15.2 0M-14.4 228.7a8.7 8.7 0 1 0 17.4 0a8.7 8.7 0 1 0 -17.4 0M288.0 151.6a8.7 8.7 0 1 0 17.4 0a8.7 8.7 0 1 0 -17.4 0M63.8 343.6a8.9 8.9 0 1 0 17.8 0a8.9 8.9 0 1 0 -17.8 0M9.3 28.2a8.6 8.6 0 1 0 17.2 0a8.6 8.6 0 1 0 -17.2 0M182.1 275.3a9.4 9.4 0 1 0 18.7 0a9.4 9.4 0 1 0 -18.7 0M134.0 117.0a9.4 9.4 0 1 0 18.7 0a9.4 9.4 0 1 0 -18.7 0M261.5 301.8a8.5 8.5 0 1 0 17.0 0a8.5 8.5 0 1 0 -17.0 0M65.8 80.3a8.6 8.6 0 1 0 17.3 0a8.6 8.6 0 1 0 -17.3 0M7.8 152.2a9.8 9.8 0 1 0 19.5 0a9.8 9.8 0 1 0 -19.5 0M49.9 190.7a7.8 7.8 0 1 0 15.7 0a7.8 7.8 0 1 0 -15.7 0M259.7 27.0a8.1 8.1 0 1 0 16.2 0a8.1 8.1 0 1 0 -16.2 0M246.9 262.1a8.3 8.3 0 1 0 16.5 0a8.3 8.3 0 1 0 -16.5 0M302.8 117.8a8.2 8.2 0 1 0 16.4 0a8.2 8.2 0 1 0 -16.4 0M126.3 -3.9a8.0 8.0 0 1 0 16.0 0a8.0 8.0 0 1 0 -16.0 0M250.4 -1.9a9.0 9.0 0 1 0 17.9 0a9.0 9.0 0 1 0 -17.9 0M339.5 290.6a10.2 10.2 0 1 0 20.5 0a10.2 10.2 0 1 0 -20.5 0M100.7 323.4a10.0 10.0 0 1 0 20.0 0a10.0 10.0 0 1 0 -20.0 0M142.0 206.8a8.5 8.5 0 1 0 16.9 0a8.5 8.5 0 1 0 -16.9 0M70.9 116.5a8.2 8.2 0 1 0 16.3 0a8.2 8.2 0 1 0 -16.3 0M105.9 53.4a8.3 8.3 0 1 0 16.6 0a8.3 8.3 0 1 0 -16.6 0M67.4 184.8a8.4 8.4 0 1 0 16.7 0a8.4 8.4 0 1 0 -16.7 0M210.1 162.4a10.2 10.2 0 1 0 20.4 0a10.2 10.2 0 1 0 -20.4 0M61.2 129.3a8.3 8.3 0 1 0 16.5 0a8.3 8.3 0 1 0 -16.5 0M304.5 149.3a9.3 9.3 0 1 0 18.6 0a9.3 9.3 0 1 0 -18.6 0M284.9 264.5a8.4 8.4 0 1 0 16.7 0a8.4 8.4 0 1 0 -16.7 0M339.9 35.1a9.5 9.5 0 1 0 18.9 0a9.5 9.5 0 1 0 -18.9 0M27.5 256.8a7.8 7.8 0 1 0 15.7 0a7.8 7.8 0 1 0 -15.7 0M271.8 318.0a9.1 9.1 0 1 0 18.1 0a9.1 9.1 0 1 0 -18.1 0M-1.1 258.7a8.7 8.7 0 1 0 17.5 0a8.7 8.7 0 1 0 -17.5 0M312.3 39.5a8.3 8.3 0 1 0 16.7 0a8.3 8.3 0 1 0 -16.7 0M110.3 189.5a8.9 8.9 0 1 0 17.8 0a8.9 8.9 0 1 0 -17.8 0M341.7 230.8a8.7 8.7 0 1 0 17.3 0a8.7 8.7 0 1 0 -17.3 0M324.9 113.4a9.2 9.2 0 1 0 18.3 0a9.2 9.2 0 1 0 -18.3 0M10.9 176.3a8.3 8.3 0 1 0 16.7 0a8.3 8.3 0 1 0 -16.7 0M160.0 78.8a8.8 8.8 0 1 0 17.5 0a8.8 8.8 0 1 0 -17.5 0M121.9 201.7a8.8 8.8 0 1 0 17.5 0a8.8 8.8 0 1 0 -17.5 0M284.7 46.0a8.9 8.9 0 1 0 17.8 0a8.9 8.9 0 1 0 -17.8 0M288.2 98.0a7.9 7.9 0 1 0 15.8 0a7.9 7.9 0 1 0 -15.8 0M261.7 209.9a8.5 8.5 0 1 0 17.0 0a8.5 8.5 0 1 0 -17.0 0M89.3 349.1a9.2 9.2 0 1 0 18.5 0a9.2 9.2 0 1 0 -18.5 0M270.7 165.4a8.9 8.9 0 1 0 17.9 0a8.9 8.9 0 1 0 -17.9 0M186.3 342.3a8.1 8.1 0 1 0 16.3 0a8.1 8.1 0 1 0 -16.3 0M61.4 103.1a8.8 8.8 0 1 0 17.7 0a8.8 8.8 0 1 0 -17.7 0M271.2 62.1a10.1 10.1 0 1 0 20.1 0a10.1 10.1 0 1 0 -20.1 0M147.7 103.0a10.0 10.0 0 1 0 19.9 0a10.0 10.0 0 1 0 -19.9 0M193.7 177.1a8.4 8.4 0 1 0 16.7 0a8.4 8.4 0 1 0 -16.7 0M291.6 303.5a9.6 9.6 0 1 0 19.1 0a9.6 9.6 0 1 0 -19.1 0M23.3 18.4a8.2 8.2 0 1 0 16.4 0a8.2 8.2 0 1 0 -16.4 0M53.1 243.6a8.8 8.8 0 1 0 17.6 0a8.8 8.8 0 1 0 -17.6 0M123.3 22.4a8.4 8.4 0 1 0 16.9 0a8.4 8.4 0 1 0 -16.9 0M141.6 311.1a8.5 8.5 0 1 0 17.0 0a8.5 8.5 0 1 0 -17.0 0M174.9 137.1a9.2 9.2 0 1 0 18.4 0a9.2 9.2 0 1 0 -18.4 0M16.8 44.0a9.0 9.0 0 1 0 17.9 0a9.0 9.0 0 1 0 -17.9 0M192.9 197.9a8.3 8.3 0 1 0 16.6 0a8.3 8.3 0 1 0 -16.6 0M315.2 319.9a8.9 8.9 0 1 0 17.8 0a8.9 8.9 0 1 0 -17.8 0M329.9 349.4a7.8 7.8 0 1 0 15.6 0a7.8 7.8 0 1 0 -15.6 0M103.0 283.0a8.8 8.8 0 1 0 17.7 0a8.8 8.8 0 1 0 -17.7 0M5.9 301.2a8.2 8.2 0 1 0 16.4 0a8.2 8.2 0 1 0 -16.4 0M78.8 222.8a10.0 10.0 0 1 0 20.1 0a10.0 10.0 0 1 0 -20.1 0M237.7 193.1a8.5 8.5 0 1 0 16.9 0a8.5 8.5 0 1 0 -16.9 0M218.5 12.2a8.2 8.2 0 1 0 16.3 0a8.2 8.2 0 1 0 -16.3 0M279.8 123.3a7.8 7.8 0 1 0 15.6 0a7.8 7.8 0 1 0 -15.6 0M294.2 202.5a8.3 8.3 0 1 0 16.6 0a8.3 8.3 0 1 0 -16.6 0M147.8 69.0a7.8 7.8 0 1 0 15.7 0a7.8 7.8 0 1 0 -15.7 0M164.7 258.8a8.6 8.6 0 1 0 17.3 0a8.6 8.6 0 1 0 -17.3 0M61.5 275.4a8.6 8.6 0 1 0 17.2 0a8.6 8.6 0 1 0 -17.2 0M241.4 70.5a9.7 9.7 0 1 0 19.4 0a9.7 9.7 0 1 0 -19.4 0M199.0 -5.7a8.3 8.3 0 1 0 16.7 0a8.3 8.3 0 1 0 -16.7 0M131.2 65.7a8.1 8.1 0 1 0 16.3 0a8.1 8.1 0 1 0 -16.3 0M147.3 345.1a9.9 9.9 0 1 0 19.8 0a9.9 9.9 0 1 0 -19.8 0M179.5 186.0a8.3 8.3 0 1 0 16.6 0a8.3 8.3 0 1 0 -16.6 0M164.4 234.2a8.7 8.7 0 1 0 17.4 0a8.7 8.7 0 1 0 -17.4 0M274.5 -5.0a8.0 8.0 0 1 0 16.0 0a8.0 8.0 0 1 0 -16.0 0M-14.5 206.5a10.5 10.5 0 1 0 21.0 0a10.5 10.5 0 1 0 -21.0 0M306.9 -4.1a8.4 8.4 0 1 0 16.8 0a8.4 8.4 0 1 0 -16.8 0M13.0 6.5a8.2 8.2 0 1 0 16.4 0a8.2 8.2 0 1 0 -16.4 0M242.1 34.9a9.4 9.4 0 1 0 18.8 0a9.4 9.4 0 1 0 -18.8 0M59.6 -2.1a8.8 8.8 0 1 0 17.6 0a8.8 8.8 0 1 0 -17.6 0M108.5 347.2a8.1 8.1 0 1 0 16.2 0a8.1 8.1 0 1 0 -16.2 0M260.4 252.8a7.9 7.9 0 1 0 15.8 0a7.9 7.9 0 1 0 -15.8 0M10.6 107.0a7.5 7.5 0 1 0 14.9 0a7.5 7.5 0 1 0 -14.9 0M245.0 246.5a8.4 8.4 0 1 0 16.7 0a8.4 8.4 0 1 0 -16.7 0M114.2 234.1a8.1 8.1 0 1 0 16.2 0a8.1 8.1 0 1 0 -16.2 0M70.4 35.6a8.6 8.6 0 1 0 17.1 0a8.6 8.6 0 1 0 -17.1 0M302.5 333.7a8.3 8.3 0 1 0 16.5 0a8.3 8.3 0 1 0 -16.5 0M233.0 234.0a8.6 8.6 0 1 0 17.3 0a8.6 8.6 0 1 0 -17.3 0M115.4 120.2a7.8 7.8 0 1 0 15.6 0a7.8 7.8 0 1 0 -15.6 0M86.1 203.9a9.6 9.6 0 1 0 19.2 0a9.6 9.6 0 1 0 -19.2 0M340.9 97.8a9.1 9.1 0 1 0 18.2 0a9.1 9.1 0 1 0 -18.2 0M328.6 257.5a7.8 7.8 0 1 0 15.5 0a7.8 7.8 0 1 0 -15.5 0M35.8 236.9a9.5 9.5 0 1 0 19.1 0a9.5 9.5 0 1 0 -19.1 0M-14.0 152.4a8.7 8.7 0 1 0 17.4 0a8.7 8.7 0 1 0 -17.4 0M297.7 74.7a8.4 8.4 0 1 0 16.7 0a8.4 8.4 0 1 0 -16.7 0M64.7 258.3a8.6 8.6 0 1 0 17.2 0a8.6 8.6 0 1 0 -17.2 0M96.6 264.7a8.5 8.5 0 1 0 16.9 0a8.5 8.5 0 1 0 -16.9 0M303.9 12.9a9.2 9.2 0 1 0 18.4 0a9.2 9.2 0 1 0 -18.4 0M198.2 284.9a7.6 7.6 0 1 0 15.2 0a7.6 7.6 0 1 0 -15.2 0M86.4 121.6a8.3 8.3 0 1 0 16.6 0a8.3 8.3 0 1 0 -16.6 0M341.2 54.7a8.3 8.3 0 1 0 16.7 0a8.3 8.3 0 1 0 -16.7 0M206.5 69.2a8.0 8.0 0 1 0 15.9 0a8.0 8.0 0 1 0 -15.9 0M157.7 199.5a8.8 8.8 0 1 0 17.6 0a8.8 8.8 0 1 0 -17.6 0" fill="#000e00" opacity="0.93" filter="url(#eb1)"/>
<path d="M133.4 186.9a6.4 6.4 0 1 0 12.7 0a6.4 6.4 0 1 0 -12.7 0M52.4 74.5a5.2 5.2 0 1 0 10.4 0a5.2 5.2 0 1 0 -10.4 0M30.8 -3.0a4.9 4.9 0 1 0 9.8 0a4.9 4.9 0 1 0 -9.8 0M170.3 345.8a6.0 6.0 0 1 0 12.0 0a6.0 6.0 0 1 0 -12.0 0M123.7 137.1a5.6 5.6 0 1 0 11.1 0a5.6 5.6 0 1 0 -11.1 0M105.3 19.3a5.7 5.7 0 1 0 11.5 0a5.7 5.7 0 1 0 -11.5 0M208.4 33.5a4.8 4.8 0 1 0 9.6 0a4.8 4.8 0 1 0 -9.6 0M22.2 335.6a5.3 5.3 0 1 0 10.5 0a5.3 5.3 0 1 0 -10.5 0M211.8 339.1a4.7 4.7 0 1 0 9.4 0a4.7 4.7 0 1 0 -9.4 0M125.8 164.0a5.9 5.9 0 1 0 11.9 0a5.9 5.9 0 1 0 -11.9 0M5.4 234.0a5.8 5.8 0 1 0 11.6 0a5.8 5.8 0 1 0 -11.6 0M144.1 7.2a6.0 6.0 0 1 0 12.0 0a6.0 6.0 0 1 0 -12.0 0M251.4 226.9a5.2 5.2 0 1 0 10.5 0a5.2 5.2 0 1 0 -10.5 0M284.9 217.4a5.7 5.7 0 1 0 11.5 0a5.7 5.7 0 1 0 -11.5 0M181.0 77.3a5.7 5.7 0 1 0 11.4 0a5.7 5.7 0 1 0 -11.4 0M272.1 236.6a5.2 5.2 0 1 0 10.4 0a5.2 5.2 0 1 0 -10.4 0M280.7 293.3a4.9 4.9 0 1 0 9.8 0a4.9 4.9 0 1 0 -9.8 0M343.4 121.0a5.2 5.2 0 1 0 10.4 0a5.2 5.2 0 1 0 -10.4 0M28.2 114.3a5.7 5.7 0 1 0 11.4 0a5.7 5.7 0 1 0 -11.4 0M204.7 15.6a5.4 5.4 0 1 0 10.8 0a5.4 5.4 0 1 0 -10.8 0M5.7 216.1a5.3 5.3 0 1 0 10.6 0a5.3 5.3 0 1 0 -10.6 0M52.2 222.0a6.2 6.2 0 1 0 12.3 0a6.2 6.2 0 1 0 -12.3 0M209.2 98.1a5.9 5.9 0 1 0 11.9 0a5.9 5.9 0 1 0 -11.9 0M86.5 -4.0a5.4 5.4 0 1 0 10.9 0a5.4 5.4 0 1 0 -10.9 0M234.1 217.7a5.0 5.0 0 1 0 9.9 0a5.0 5.0 0 1 0 -9.9 0M331.1 87.8a4.7 4.7 0 1 0 9.4 0a4.7 4.7 0 1 0 -9.4 0M171.4 302.2a5.8 5.8 0 1 0 11.5 0a5.8 5.8 0 1 0 -11.5 0M184.3 167.7a5.1 5.1 0 1 0 10.2 0a5.1 5.1 0 1 0 -10.2 0M95.8 137.5a5.7 5.7 0 1 0 11.5 0a5.7 5.7 0 1 0 -11.5 0M324.8 19.9a5.4 5.4 0 1 0 10.8 0a5.4 5.4 0 1 0 -10.8 0M325.0 227.5a5.0 5.0 0 1 0 10.1 0a5.0 5.0 0 1 0 -10.1 0M146.1 225.5a5.9 5.9 0 1 0 11.8 0a5.9 5.9 0 1 0 -11.8 0M18.1 315.8a6.1 6.1 0 1 0 12.2 0a6.1 6.1 0 1 0 -12.2 0M88.2 184.5a5.7 5.7 0 1 0 11.4 0a5.7 5.7 0 1 0 -11.4 0M73.8 243.8a5.9 5.9 0 1 0 11.9 0a5.9 5.9 0 1 0 -11.9 0M14.1 91.2a5.7 5.7 0 1 0 11.4 0a5.7 5.7 0 1 0 -11.4 0M38.6 330.2a5.3 5.3 0 1 0 10.6 0a5.3 5.3 0 1 0 -10.6 0M71.0 206.9a5.4 5.4 0 1 0 10.7 0a5.4 5.4 0 1 0 -10.7 0M101.5 108.9a5.7 5.7 0 1 0 11.4 0a5.7 5.7 0 1 0 -11.4 0M124.7 336.8a5.8 5.8 0 1 0 11.5 0a5.8 5.8 0 1 0 -11.5 0M234.1 152.9a5.1 5.1 0 1 0 10.1 0a5.1 5.1 0 1 0 -10.1 0M234.9 255.7a5.1 5.1 0 1 0 10.3 0a5.1 5.1 0 1 0 -10.3 0M35.5 60.3a4.9 4.9 0 1 0 9.7 0a4.9 4.9 0 1 0 -9.7 0M32.0 133.1a5.6 5.6 0 1 0 11.2 0a5.6 5.6 0 1 0 -11.2 0M235.1 107.8a5.4 5.4 0 1 0 10.8 0a5.4 5.4 0 1 0 -10.8 0M101.0 227.0a5.8 5.8 0 1 0 11.6 0a5.8 5.8 0 1 0 -11.6 0M-5.2 277.4a5.3 5.3 0 1 0 10.6 0a5.3 5.3 0 1 0 -10.6 0M-5.0 20.4a5.6 5.6 0 1 0 11.1 0a5.6 5.6 0 1 0 -11.1 0M295.7 323.9a4.9 4.9 0 1 0 9.8 0a4.9 4.9 0 1 0 -9.8 0M141.3 328.6a6.4 6.4 0 1 0 12.8 0a6.4 6.4 0 1 0 -12.8 0M282.9 82.3a5.3 5.3 0 1 0 10.6 0a5.3 5.3 0 1 0 -10.6 0M41.3 87.9a5.4 5.4 0 1 0 10.9 0a5.4 5.4 0 1 0 -10.9 0M51.0 154.1a6.2 6.2 0 1 0 12.5 0a6.2 6.2 0 1 0 -12.5 0M156.3 274.3a5.8 5.8 0 1 0 11.6 0a5.8 5.8 0 1 0 -11.6 0M302.0 170.3a5.5 5.5 0 1 0 10.9 0a5.5 5.5 0 1 0 -10.9 0M57.3 291.9a5.5 5.5 0 1 0 11.0 0a5.5 5.5 0 1 0 -11.0 0M218.3 55.3a5.1 5.1 0 1 0 10.3 0a5.1 5.1 0 1 0 -10.3 0M69.7 146.3a4.7 4.7 0 1 0 9.5 0a4.7 4.7 0 1 0 -9.5 0M85.8 329.7a5.3 5.3 0 1 0 10.7 0a5.3 5.3 0 1 0 -10.7 0M103.2 245.7a6.3 6.3 0 1 0 12.7 0a6.3 6.3 0 1 0 -12.7 0M110.3 171.7a5.0 5.0 0 1 0 10.0 0a5.0 5.0 0 1 0 -10.0 0M259.5 115.4a5.5 5.5 0 1 0 10.9 0a5.5 5.5 0 1 0 -10.9 0M324.6 54.7a6.2 6.2 0 1 0 12.3 0a6.2 6.2 0 1 0 -12.3 0M159.2 329.8a4.9 4.9 0 1 0 9.8 0a4.9 4.9 0 1 0 -9.8 0M125.3 52.2a5.5 5.5 0 1 0 10.9 0a5.5 5.5 0 1 0 -10.9 0M261.3 193.3a6.2 6.2 0 1 0 12.4 0a6.2 6.2 0 1 0 -12.4 0M69.3 307.9a5.6 5.6 0 1 0 11.3 0a5.6 5.6 0 1 0 -11.3 0M-1.2 -1.8a5.0 5.0 0 1 0 10.1 0a5.0 5.0 0 1 0 -10.1 0M272.4 270.9a6.0 6.0 0 1 0 12.0 0a6.0 6.0 0 1 0 -12.0 0M193.9 147.7a5.6 5.6 0 1 0 11.3 0a5.6 5.6 0 1 0 -11.3 0M227.8 322.4a6.3 6.3 0 1 0 12.5 0a6.3 6.3 0 1 0 -12.5 0M177.4 34.4a5.8 5.8 0 1 0 11.6 0a5.8 5.8 0 1 0 -11.6 0M85.6 75.9a6.3 6.3 0 1 0 12.5 0a6.3 6.3 0 1 0 -12.5 0M237.4 3.2a4.9 4.9 0 1 0 9.7 0a4.9 4.9 0 1 0 -9.7 0M-6.3 82.1a5.3 5.3 0 1 0 10.7 0a5.3 5.3 0 1 0 -10.7 0M213.4 185.1a5.9 5.9 0 1 0 11.9 0a5.9 5.9 0 1 0 -11.9 0M44.0 9.1a5.9 5.9 0 1 0 11.8 0a5.9 5.9 0 1 0 -11.8 0M201.7 315.5a5.7 5.7 0 1 0 11.4 0a5.7 5.7 0 1 0 -11.4 0M104.9 90.9a4.6 4.6 0 1 0 9.2 0a4.6 4.6 0 1 0 -9.2 0M266.0 79.1a5.9 5.9 0 1 0 11.8 0a5.9 5.9 0 1 0 -11.8 0M240.7 304.9a5.6 5.6 0 1 0 11.2 0a5.6 5.6 0 1 0 -11.2 0M317.0 196.9a5.1 5.1 0 1 0 10.2 0a5.1 5.1 0 1 0 -10.2 0M311.8 101.5a6.2 6.2 0 1 0 12.4 0a6.2 6.2 0 1 0 -12.4 0M-3.6 135.7a5.6 5.6 0 1 0 11.3 0a5.6 5.6 0 1 0 -11.3 0M329.5 -2.3a5.3 5.3 0 1 0 10.6 0a5.3 5.3 0 1 0 -10.6 0M127.2 222.4a5.2 5.2 0 1 0 10.3 0a5.2 5.2 0 1 0 -10.3 0M340.7 332.1a5.3 5.3 0 1 0 10.6 0a5.3 5.3 0 1 0 -10.6 0M0.1 57.3a5.7 5.7 0 1 0 11.4 0a5.7 5.7 0 1 0 -11.4 0M140.5 147.8a4.7 4.7 0 1 0 9.4 0a4.7 4.7 0 1 0 -9.4 0M30.5 220.0a5.3 5.3 0 1 0 10.5 0a5.3 5.3 0 1 0 -10.5 0M240.5 125.5a6.0 6.0 0 1 0 11.9 0a6.0 6.0 0 1 0 -11.9 0M-5.2 104.8a5.6 5.6 0 1 0 11.2 0a5.6 5.6 0 1 0 -11.2 0M301.0 55.6a5.7 5.7 0 1 0 11.3 0a5.7 5.7 0 1 0 -11.3 0M169.6 4.5a5.7 5.7 0 1 0 11.3 0a5.7 5.7 0 1 0 -11.3 0M321.5 337.7a5.3 5.3 0 1 0 10.5 0a5.3 5.3 0 1 0 -10.5 0M120.1 296.8a6.0 6.0 0 1 0 12.1 0a6.0 6.0 0 1 0 -12.1 0M42.6 204.5a5.6 5.6 0 1 0 11.1 0a5.6 5.6 0 1 0 -11.1 0M271.8 344.8a5.4 5.4 0 1 0 10.8 0a5.4 5.4 0 1 0 -10.8 0M253.7 281.7a6.1 6.1 0 1 0 12.2 0a6.1 6.1 0 1 0 -12.2 0M226.7 74.6a5.7 5.7 0 1 0 11.4 0a5.7 5.7 0 1 0 -11.4 0M186.7 256.7a6.2 6.2 0 1 0 12.4 0a6.2 6.2 0 1 0 -12.4 0M60.8 20.1a6.2 6.2 0 1 0 12.3 0a6.2 6.2 0 1 0 -12.3 0M30.3 292.0a5.2 5.2 0 1 0 10.4 0a5.2 5.2 0 1 0 -10.4 0M37.5 30.9a6.2 6.2 0 1 0 12.5 0a6.2 6.2 0 1 0 -12.5 0M72.2 54.7a6.0 6.0 0 1 0 12.1 0a6.0 6.0 0 1 0 -12.1 0M134.6 249.8a6.1 6.1 0 1 0 12.2 0a6.1 6.1 0 1 0 -12.2 0M308.6 213.6a5.6 5.6 0 1 0 11.1 0a5.6 5.6 0 1 0 -11.1 0M321.1 283.1a5.7 5.7 0 1 0 11.5 0a5.7 5.7 0 1 0 -11.5 0M149.7 167.7a6.0 6.0 0 1 0 12.0 0a6.0 6.0 0 1 0 -12.0 0M46.0 304.9a5.5 5.5 0 1 0 11.0 0a5.5 5.5 0 1 0 -11.0 0M38.3 176.2a5.9 5.9 0 1 0 11.8 0a5.9 5.9 0 1 0 -11.8 0M209.1 297.8a6.3 6.3 0 1 0 12.6 0a6.3 6.3 0 1 0 -12.6 0M159.9 26.2a6.0 6.0 0 1 0 12.1 0a6.0 6.0 0 1 0 -12.1 0M15.9 277.2a6.1 6.1 0 1 0 12.3 0a6.1 6.1 0 1 0 -12.3 0M124.1 316.2a5.3 5.3 0 1 0 10.7 0a5.3 5.3 0 1 0 -10.7 0M305.8 286.6a4.9 4.9 0 1 0 9.7 0a4.9 4.9 0 1 0 -9.7 0M151.8 295.3a6.2 6.2 0 1 0 12.4 0a6.2 6.2 0 1 0 -12.4 0M151.2 51.1a6.2 6.2 0 1 0 12.4 0a6.2 6.2 0 1 0 -12.4 0M248.4 171.9a5.5 5.5 0 1 0 10.9 0a5.5 5.5 0 1 0 -10.9 0M344.4 15.3a5.0 5.0 0 1 0 9.9 0a5.0 5.0 0 1 0 -9.9 0M52.1 262.4a5.0 5.0 0 1 0 10.0 0a5.0 5.0 0 1 0 -10.0 0M108.5 -4.6a6.0 6.0 0 1 0 11.9 0a6.0 6.0 0 1 0 -11.9 0M189.5 6.2a5.6 5.6 0 1 0 11.2 0a5.6 5.6 0 1 0 -11.2 0M42.7 348.4a5.6 5.6 0 1 0 11.2 0a5.6 5.6 0 1 0 -11.2 0M292.7 2.9a5.1 5.1 0 1 0 10.3 0a5.1 5.1 0 1 0 -10.3 0M-1.3 168.9a5.6 5.6 0 1 0 11.2 0a5.6 5.6 0 1 0 -11.2 0M223.6 137.4a5.9 5.9 0 1 0 11.7 0a5.9 5.9 0 1 0 -11.7 0M219.8 -2.7a5.2 5.2 0 1 0 10.4 0a5.2 5.2 0 1 0 -10.4 0M-7.4 326.7a5.2 5.2 0 1 0 10.4 0a5.2 5.2 0 1 0 -10.4 0M15.4 193.6a6.1 6.1 0 1 0 12.3 0a6.1 6.1 0 1 0 -12.3 0M50.0 108.3a4.9 4.9 0 1 0 9.9 0a4.9 4.9 0 1 0 -9.9 0M87.1 276.5a5.1 5.1 0 1 0 10.2 0a5.1 5.1 0 1 0 -10.2 0M153.1 245.3a5.4 5.4 0 1 0 10.9 0a5.4 5.4 0 1 0 -10.9 0M334.4 142.5a4.8 4.8 0 1 0 9.5 0a4.8 4.8 0 1 0 -9.5 0M16.6 66.6a5.8 5.8 0 1 0 11.6 0a5.8 5.8 0 1 0 -11.6 0M95.0 159.5a6.2 6.2 0 1 0 12.5 0a6.2 6.2 0 1 0 -12.5 0M235.6 50.2a4.7 4.7 0 1 0 9.4 0a4.7 4.7 0 1 0 -9.4 0M294.9 134.2a6.1 6.1 0 1 0 12.3 0a6.1 6.1 0 1 0 -12.3 0M193.1 297.8a5.0 5.0 0 1 0 10.0 0a5.0 5.0 0 1 0 -10.0 0M206.3 120.9a6.0 6.0 0 1 0 12.0 0a6.0 6.0 0 1 0 -12.0 0M164.5 182.0a5.9 5.9 0 1 0 11.9 0a5.9 5.9 0 1 0 -11.9 0M92.8 306.1a6.0 6.0 0 1 0 12.1 0a6.0 6.0 0 1 0 -12.1 0M256.0 321.5a6.3 6.3 0 1 0 12.6 0a6.3 6.3 0 1 0 -12.6 0M323.9 163.8a5.3 5.3 0 1 0 10.5 0a5.3 5.3 0 1 0 -10.5 0M117.2 261.8a6.2 6.2 0 1 0 12.4 0a6.2 6.2 0 1 0 -12.4 0M92.6 51.8a5.4 5.4 0 1 0 10.8 0a5.4 5.4 0 1 0 -10.8 0M315.7 81.5a5.3 5.3 0 1 0 10.5 0a5.3 5.3 0 1 0 -10.5 0M85.6 101.3a5.2 5.2 0 1 0 10.5 0a5.2 5.2 0 1 0 -10.5 0M314.4 300.8a6.1 6.1 0 1 0 12.2 0a6.1 6.1 0 1 0 -12.2 0M52.3 47.7a5.1 5.1 0 1 0 10.2 0a5.1 5.1 0 1 0 -10.2 0M107.0 206.8a4.9 4.9 0 1 0 9.7 0a4.9 4.9 0 1 0 -9.7 0M344.9 70.7a6.0 6.0 0 1 0 12.1 0a6.0 6.0 0 1 0 -12.1 0M263.7 137.3a6.4 6.4 0 1 0 12.8 0a6.4 6.4 0 1 0 -12.8 0M278.2 15.9a6.0 6.0 0 1 0 11.9 0a6.0 6.0 0 1 0 -11.9 0M-10.7 41.4a5.5 5.5 0 1 0 11.0 0a5.5 5.5 0 1 0 -11.0 0M289.7 344.1a5.1 5.1 0 1 0 10.1 0a5.1 5.1 0 1 0 -10.1 0M253.1 341.0a5.2 5.2 0 1 0 10.4 0a5.2 5.2 0 1 0 -10.4 0M136.9 83.5a5.4 5.4 0 1 0 10.9 0a5.4 5.4 0 1 0 -10.9 0M342.3 270.8a5.7 5.7 0 1 0 11.4 0a5.7 5.7 0 1 0 -11.4 0M179.0 99.0a6.0 6.0 0 1 0 12.1 0a6.0 6.0 0 1 0 -12.1 0M131.5 98.0a5.8 5.8 0 1 0 11.5 0a5.8 5.8 0 1 0 -11.5 0M177.7 325.9a5.4 5.4 0 1 0 10.7 0a5.4 5.4 0 1 0 -10.7 0M319.2 134.4a5.5 5.5 0 1 0 11.0 0a5.5 5.5 0 1 0 -11.0 0M287.4 188.4a5.5 5.5 0 1 0 11.0 0a5.5 5.5 0 1 0 -11.0 0M310.5 348.8a5.3 5.3 0 1 0 10.7 0a5.3 5.3 0 1 0 -10.7 0M335.5 311.8a4.8 4.8 0 1 0 9.5 0a4.8 4.8 0 1 0 -9.5 0M299.1 28.8a5.6 5.6 0 1 0 11.1 0a5.6 5.6 0 1 0 -11.1 0M152.1 133.0a5.1 5.1 0 1 0 10.2 0a5.1 5.1 0 1 0 -10.2 0M24.3 241.8a5.0 5.0 0 1 0 9.9 0a5.0 5.0 0 1 0 -9.9 0M229.8 341.8a5.0 5.0 0 1 0 10.1 0a5.0 5.0 0 1 0 -10.1 0M136.0 272.2a4.9 4.9 0 1 0 9.7 0a4.9 4.9 0 1 0 -9.7 0M174.0 210.9a6.1 6.1 0 1 0 12.3 0a6.1 6.1 0 1 0 -12.3 0M294.9 242.9a6.0 6.0 0 1 0 12.0 0a6.0 6.0 0 1 0 -12.0 0M249.3 155.0a5.0 5.0 0 1 0 10.0 0a5.0 5.0 0 1 0 -10.0 0M29.1 157.7a5.4 5.4 0 1 0 10.7 0a5.4 5.4 0 1 0 -10.7 0M5.9 350.4a6.2 6.2 0 1 0 12.3 0a6.2 6.2 0 1 0 -12.3 0M231.6 179.2a5.6 5.6 0 1 0 11.2 0a5.6 5.6 0 1 0 -11.2 0M176.1 60.6a5.6 5.6 0 1 0 11.3 0a5.6 5.6 0 1 0 -11.3 0M257.5 50.2a6.2 6.2 0 1 0 12.3 0a6.2 6.2 0 1 0 -12.3 0M226.8 32.1a6.1 6.1 0 1 0 12.2 0a6.1 6.1 0 1 0 -12.2 0M164.7 158.5a5.9 5.9 0 1 0 11.9 0a5.9 5.9 0 1 0 -11.9 0M86.5 23.9a5.6 5.6 0 1 0 11.2 0a5.6 5.6 0 1 0 -11.2 0M172.7 118.3a5.8 5.8 0 1 0 11.6 0a5.8 5.8 0 1 0 -11.6 0M197.5 81.4a5.2 5.2 0 1 0 10.5 0a5.2 5.2 0 1 0 -10.5 0M195.8 56.9a6.2 6.2 0 1 0 12.3 0a6.2 6.2 0 1 0 -12.3 0M112.3 73.8a6.5 6.5 0 1 0 13.0 0a6.5 6.5 0 1 0 -13.0 0M35.6 275.1a5.2 5.2 0 1 0 10.4 0a5.2 5.2 0 1 0 -10.4 0M222.4 202.8a5.4 5.4 0 1 0 10.9 0a5.4 5.4 0 1 0 -10.9 0M333.8 185.9a5.3 5.3 0 1 0 10.6 0a5.3 5.3 0 1 0 -10.6 0M344.8 247.6a5.1 5.1 0 1 0 10.3 0a5.1 5.1 0 1 0 -10.3 0M184.1 239.4a4.9 4.9 0 1 0 9.9 0a4.9 4.9 0 1 0 -9.9 0M-7.0 294.4a4.9 4.9 0 1 0 9.8 0a4.9 4.9 0 1 0 -9.8 0M226.5 286.3a6.4 6.4 0 1 0 12.8 0a6.4 6.4 0 1 0 -12.8 0M213.5 269.2a5.3 5.3 0 1 0 10.6 0a5.3 5.3 0 1 0 -10.6 0M84.7 256.4a5.6 5.6 0 1 0 11.3 0a5.6 5.6 0 1 0 -11.3 0M315.7 265.9a6.4 6.4 0 1 0 12.7 0a6.4 6.4 0 1 0 -12.7 0M245.2 87.3a4.8 4.8 0 1 0 9.6 0a4.8 4.8 0 1 0 -9.6 0M79.4 168.4a5.6 5.6 0 1 0 11.3 0a5.6 5.6 0 1 0 -11.3 0M64.1 325.0a5.1 5.1 0 1 0 10.1 0a5.1 5.1 0 1 0 -10.1 0M111.1 36.9a5.8 5.8 0 1 0 11.5 0a5.8 5.8 0 1 0 -11.5 0M-10.1 186.9a5.0 5.0 0 1 0 9.9 0a5.0 5.0 0 1 0 -9.9 0M213.4 245.5a5.1 5.1 0 1 0 10.2 0a5.1 5.1 0 1 0 -10.2 0M219.9 229.1a5.0 5.0 0 1 0 9.9 0a5.0 5.0 0 1 0 -9.9 0M141.3 31.1a5.3 5.3 0 1 0 10.5 0a5.3 5.3 0 1 0 -10.5 0M343.8 160.8a4.8 4.8 0 1 0 9.5 0a4.8 4.8 0 1 0 -9.5 0M315.8 248.8a5.1 5.1 0 1 0 10.2 0a5.1 5.1 0 1 0 -10.2 0M76.1 288.4a4.7 4.7 0 1 0 9.3 0a4.7 4.7 0 1 0 -9.3 0M272.7 102.4a4.9 4.9 0 1 0 9.8 0a4.9 4.9 0 1 0 -9.8 0M334.9 204.4a5.9 5.9 0 1 0 11.8 0a5.9 5.9 0 1 0 -11.8 0M11.3 125.6a5.2 5.2 0 1 0 10.4 0a5.2 5.2 0 1 0 -10.4 0M200.5 224.2a5.0 5.0 0 1 0 10.0 0a5.0 5.0 0 1 0 -10.0 0M249.7 17.1a4.7 4.7 0 1 0 9.4 0a4.7 4.7 0 1 0 -9.4 0M-10.7 229.1a5.4 5.4 0 1 0 10.8 0a5.4 5.4 0 1 0 -10.8 0M290.5 150.8a5.4 5.4 0 1 0 10.8 0a5.4 5.4 0 1 0 -10.8 0M67.5 343.7a5.5 5.5 0 1 0 11.1 0a5.5 5.5 0 1 0 -11.1 0M11.8 29.1a5.3 5.3 0 1 0 10.7 0a5.3 5.3 0 1 0 -10.7 0M185.0 276.3a5.8 5.8 0 1 0 11.6 0a5.8 5.8 0 1 0 -11.6 0M137.3 117.8a5.8 5.8 0 1 0 11.6 0a5.8 5.8 0 1 0 -11.6 0M265.5 300.9a5.3 5.3 0 1 0 10.6 0a5.3 5.3 0 1 0 -10.6 0M69.9 80.2a5.4 5.4 0 1 0 10.7 0a5.4 5.4 0 1 0 -10.7 0M11.1 152.5a6.1 6.1 0 1 0 12.1 0a6.1 6.1 0 1 0 -12.1 0M52.8 190.4a4.9 4.9 0 1 0 9.7 0a4.9 4.9 0 1 0 -9.7 0M262.8 27.2a5.0 5.0 0 1 0 10.0 0a5.0 5.0 0 1 0 -10.0 0M250.4 261.3a5.1 5.1 0 1 0 10.2 0a5.1 5.1 0 1 0 -10.2 0M305.6 116.8a5.1 5.1 0 1 0 10.2 0a5.1 5.1 0 1 0 -10.2 0M130.2 -3.1a5.0 5.0 0 1 0 9.9 0a5.0 5.0 0 1 0 -9.9 0M253.7 -2.0a5.6 5.6 0 1 0 11.1 0a5.6 5.6 0 1 0 -11.1 0M344.1 291.3a6.3 6.3 0 1 0 12.7 0a6.3 6.3 0 1 0 -12.7 0M103.5 322.8a6.2 6.2 0 1 0 12.4 0a6.2 6.2 0 1 0 -12.4 0M145.4 207.8a5.3 5.3 0 1 0 10.5 0a5.3 5.3 0 1 0 -10.5 0M74.8 116.5a5.1 5.1 0 1 0 10.1 0a5.1 5.1 0 1 0 -10.1 0M108.2 52.8a5.1 5.1 0 1 0 10.3 0a5.1 5.1 0 1 0 -10.3 0M71.1 183.9a5.2 5.2 0 1 0 10.4 0a5.2 5.2 0 1 0 -10.4 0M213.6 162.2a6.3 6.3 0 1 0 12.7 0a6.3 6.3 0 1 0 -12.7 0M64.4 129.4a5.1 5.1 0 1 0 10.2 0a5.1 5.1 0 1 0 -10.2 0M308.7 149.4a5.8 5.8 0 1 0 11.6 0a5.8 5.8 0 1 0 -11.6 0M288.5 263.9a5.2 5.2 0 1 0 10.4 0a5.2 5.2 0 1 0 -10.4 0M344.3 34.8a5.9 5.9 0 1 0 11.7 0a5.9 5.9 0 1 0 -11.7 0M31.4 257.6a4.9 4.9 0 1 0 9.7 0a4.9 4.9 0 1 0 -9.7 0M274.9 318.4a5.6 5.6 0 1 0 11.2 0a5.6 5.6 0 1 0 -11.2 0M1.9 259.0a5.4 5.4 0 1 0 10.8 0a5.4 5.4 0 1 0 -10.8 0M315.5 38.7a5.2 5.2 0 1 0 10.3 0a5.2 5.2 0 1 0 -10.3 0M113.3 189.6a5.5 5.5 0 1 0 11.0 0a5.5 5.5 0 1 0 -11.0 0M344.2 230.8a5.4 5.4 0 1 0 10.7 0a5.4 5.4 0 1 0 -10.7 0M328.2 112.9a5.7 5.7 0 1 0 11.4 0a5.7 5.7 0 1 0 -11.4 0M14.4 177.2a5.2 5.2 0 1 0 10.3 0a5.2 5.2 0 1 0 -10.3 0M164.2 78.7a5.4 5.4 0 1 0 10.9 0a5.4 5.4 0 1 0 -10.9 0M124.9 202.4a5.4 5.4 0 1 0 10.9 0a5.4 5.4 0 1 0 -10.9 0M288.0 46.8a5.5 5.5 0 1 0 11.0 0a5.5 5.5 0 1 0 -11.0 0M291.8 97.1a4.9 4.9 0 1 0 9.8 0a4.9 4.9 0 1 0 -9.8 0M264.0 209.3a5.3 5.3 0 1 0 10.5 0a5.3 5.3 0 1 0 -10.5 0M93.7 348.9a5.7 5.7 0 1 0 11.5 0a5.7 5.7 0 1 0 -11.5 0M273.6 164.7a5.5 5.5 0 1 0 11.1 0a5.5 5.5 0 1 0 -11.1 0M189.8 342.8a5.1 5.1 0 1 0 10.1 0a5.1 5.1 0 1 0 -10.1 0M64.7 103.4a5.5 5.5 0 1 0 11.0 0a5.5 5.5 0 1 0 -11.0 0M274.7 61.8a6.2 6.2 0 1 0 12.5 0a6.2 6.2 0 1 0 -12.5 0M150.6 103.7a6.2 6.2 0 1 0 12.4 0a6.2 6.2 0 1 0 -12.4 0M197.5 177.5a5.2 5.2 0 1 0 10.4 0a5.2 5.2 0 1 0 -10.4 0M296.2 302.5a5.9 5.9 0 1 0 11.9 0a5.9 5.9 0 1 0 -11.9 0M26.6 18.3a5.1 5.1 0 1 0 10.2 0a5.1 5.1 0 1 0 -10.2 0M55.9 242.7a5.5 5.5 0 1 0 10.9 0a5.5 5.5 0 1 0 -10.9 0M127.2 22.1a5.2 5.2 0 1 0 10.5 0a5.2 5.2 0 1 0 -10.5 0M145.6 311.6a5.3 5.3 0 1 0 10.5 0a5.3 5.3 0 1 0 -10.5 0M179.0 137.7a5.7 5.7 0 1 0 11.4 0a5.7 5.7 0 1 0 -11.4 0M19.7 43.8a5.6 5.6 0 1 0 11.1 0a5.6 5.6 0 1 0 -11.1 0M196.6 198.4a5.1 5.1 0 1 0 10.3 0a5.1 5.1 0 1 0 -10.3 0M319.4 319.7a5.5 5.5 0 1 0 11.1 0a5.5 5.5 0 1 0 -11.1 0M332.4 350.1a4.8 4.8 0 1 0 9.7 0a4.8 4.8 0 1 0 -9.7 0M105.8 282.6a5.5 5.5 0 1 0 11.0 0a5.5 5.5 0 1 0 -11.0 0M8.4 300.7a5.1 5.1 0 1 0 10.2 0a5.1 5.1 0 1 0 -10.2 0M82.7 223.6a6.2 6.2 0 1 0 12.5 0a6.2 6.2 0 1 0 -12.5 0M241.3 192.7a5.2 5.2 0 1 0 10.5 0a5.2 5.2 0 1 0 -10.5 0M221.0 13.2a5.1 5.1 0 1 0 10.1 0a5.1 5.1 0 1 0 -10.1 0M283.8 122.3a4.8 4.8 0 1 0 9.7 0a4.8 4.8 0 1 0 -9.7 0M296.5 202.0a5.1 5.1 0 1 0 10.3 0a5.1 5.1 0 1 0 -10.3 0M151.0 68.6a4.9 4.9 0 1 0 9.7 0a4.9 4.9 0 1 0 -9.7 0M167.6 258.4a5.4 5.4 0 1 0 10.7 0a5.4 5.4 0 1 0 -10.7 0M64.5 275.8a5.3 5.3 0 1 0 10.6 0a5.3 5.3 0 1 0 -10.6 0M246.1 70.9a6.0 6.0 0 1 0 12.0 0a6.0 6.0 0 1 0 -12.0 0M201.6 -6.7a5.2 5.2 0 1 0 10.3 0a5.2 5.2 0 1 0 -10.3 0M134.2 65.5a5.1 5.1 0 1 0 10.1 0a5.1 5.1 0 1 0 -10.1 0M151.7 345.3a6.1 6.1 0 1 0 12.3 0a6.1 6.1 0 1 0 -12.3 0M182.6 185.5a5.1 5.1 0 1 0 10.3 0a5.1 5.1 0 1 0 -10.3 0M167.8 233.5a5.4 5.4 0 1 0 10.8 0a5.4 5.4 0 1 0 -10.8 0M278.5 -5.6a5.0 5.0 0 1 0 9.9 0a5.0 5.0 0 1 0 -9.9 0M-10.4 206.4a6.5 6.5 0 1 0 13.0 0a6.5 6.5 0 1 0 -13.0 0M310.6 -3.2a5.2 5.2 0 1 0 10.4 0a5.2 5.2 0 1 0 -10.4 0M15.9 6.3a5.1 5.1 0 1 0 10.2 0a5.1 5.1 0 1 0 -10.2 0M244.8 34.1a5.8 5.8 0 1 0 11.7 0a5.8 5.8 0 1 0 -11.7 0M63.8 -2.2a5.5 5.5 0 1 0 10.9 0a5.5 5.5 0 1 0 -10.9 0M111.0 348.2a5.0 5.0 0 1 0 10.0 0a5.0 5.0 0 1 0 -10.0 0M264.2 251.9a4.9 4.9 0 1 0 9.8 0a4.9 4.9 0 1 0 -9.8 0M12.5 107.8a4.6 4.6 0 1 0 9.3 0a4.6 4.6 0 1 0 -9.3 0M247.2 246.9a5.2 5.2 0 1 0 10.4 0a5.2 5.2 0 1 0 -10.4 0M116.9 233.1a5.0 5.0 0 1 0 10.0 0a5.0 5.0 0 1 0 -10.0 0M73.4 36.5a5.3 5.3 0 1 0 10.6 0a5.3 5.3 0 1 0 -10.6 0M304.9 332.8a5.1 5.1 0 1 0 10.3 0a5.1 5.1 0 1 0 -10.3 0M237.1 234.7a5.4 5.4 0 1 0 10.7 0a5.4 5.4 0 1 0 -10.7 0M118.8 121.0a4.8 4.8 0 1 0 9.7 0a4.8 4.8 0 1 0 -9.7 0M88.9 204.7a5.9 5.9 0 1 0 11.9 0a5.9 5.9 0 1 0 -11.9 0M344.4 98.4a5.6 5.6 0 1 0 11.3 0a5.6 5.6 0 1 0 -11.3 0M332.2 257.0a4.8 4.8 0 1 0 9.6 0a4.8 4.8 0 1 0 -9.6 0M39.3 237.8a5.9 5.9 0 1 0 11.8 0a5.9 5.9 0 1 0 -11.8 0M-10.3 152.9a5.4 5.4 0 1 0 10.8 0a5.4 5.4 0 1 0 -10.8 0M301.0 74.0a5.2 5.2 0 1 0 10.4 0a5.2 5.2 0 1 0 -10.4 0M67.0 257.5a5.3 5.3 0 1 0 10.7 0a5.3 5.3 0 1 0 -10.7 0M100.1 265.3a5.2 5.2 0 1 0 10.5 0a5.2 5.2 0 1 0 -10.5 0M307.2 12.1a5.7 5.7 0 1 0 11.4 0a5.7 5.7 0 1 0 -11.4 0M200.5 284.4a4.7 4.7 0 1 0 9.4 0a4.7 4.7 0 1 0 -9.4 0M89.0 120.8a5.1 5.1 0 1 0 10.3 0a5.1 5.1 0 1 0 -10.3 0M344.7 55.3a5.2 5.2 0 1 0 10.3 0a5.2 5.2 0 1 0 -10.3 0M209.9 68.9a4.9 4.9 0 1 0 9.9 0a4.9 4.9 0 1 0 -9.9 0M161.2 198.9a5.5 5.5 0 1 0 10.9 0a5.5 5.5 0 1 0 -10.9 0" fill="#001200" opacity="0.5" filter="url(#eb2)"/>
<path d="M33.9 -3.7a1.4 1.4 0 1 0 2.9 0a1.4 1.4 0 1 0 -2.9 0M102.9 20.2a1.5 1.5 0 1 0 3.0 0a1.5 1.5 0 1 0 -3.0 0M107.9 16.0a1.0 1.0 0 1 0 1.9 0a1.0 1.0 0 1 0 -1.9 0M214.6 339.4a1.4 1.4 0 1 0 2.8 0a1.4 1.4 0 1 0 -2.8 0M215.3 340.8a0.7 0.7 0 1 0 1.4 0a0.7 0.7 0 1 0 -1.4 0M125.9 164.7a0.8 0.8 0 1 0 1.5 0a0.8 0.8 0 1 0 -1.5 0M12.5 232.9a0.8 0.8 0 1 0 1.7 0a0.8 0.8 0 1 0 -1.7 0M282.8 216.5a0.9 0.9 0 1 0 1.9 0a0.9 0.9 0 1 0 -1.9 0M184.2 79.2a1.1 1.1 0 1 0 2.1 0a1.1 1.1 0 1 0 -2.1 0M289.4 291.2a1.2 1.2 0 1 0 2.3 0a1.2 1.2 0 1 0 -2.3 0M285.9 287.9a1.3 1.3 0 1 0 2.7 0a1.3 1.3 0 1 0 -2.7 0M346.4 121.2a1.0 1.0 0 1 0 2.0 0a1.0 1.0 0 1 0 -2.0 0M342.5 118.9a0.8 0.8 0 1 0 1.6 0a0.8 0.8 0 1 0 -1.6 0M35.3 116.4a0.9 0.9 0 1 0 1.8 0a0.9 0.9 0 1 0 -1.8 0M33.1 117.2a1.3 1.3 0 1 0 2.6 0a1.3 1.3 0 1 0 -2.6 0M8.8 212.1a1.3 1.3 0 1 0 2.7 0a1.3 1.3 0 1 0 -2.7 0M13.1 214.4a1.1 1.1 0 1 0 2.2 0a1.1 1.1 0 1 0 -2.2 0M52.7 222.5a1.1 1.1 0 1 0 2.3 0a1.1 1.1 0 1 0 -2.3 0M56.8 219.1a0.9 0.9 0 1 0 1.8 0a0.9 0.9 0 1 0 -1.8 0M214.5 101.5a1.0 1.0 0 1 0 2.0 0a1.0 1.0 0 1 0 -2.0 0M216.9 102.7a1.3 1.3 0 1 0 2.6 0a1.3 1.3 0 1 0 -2.6 0M237.2 220.0a0.9 0.9 0 1 0 1.8 0a0.9 0.9 0 1 0 -1.8 0M237.4 218.5a1.1 1.1 0 1 0 2.2 0a1.1 1.1 0 1 0 -2.2 0M191.8 170.0a1.4 1.4 0 1 0 2.9 0a1.4 1.4 0 1 0 -2.9 0M95.0 141.2a1.4 1.4 0 1 0 2.8 0a1.4 1.4 0 1 0 -2.8 0M326.5 16.3a1.5 1.5 0 1 0 2.9 0a1.5 1.5 0 1 0 -2.9 0M324.3 21.0a1.2 1.2 0 1 0 2.4 0a1.2 1.2 0 1 0 -2.4 0M78.9 244.0a0.8 0.8 0 1 0 1.6 0a0.8 0.8 0 1 0 -1.6 0M19.5 87.1a1.5 1.5 0 1 0 3.0 0a1.5 1.5 0 1 0 -3.0 0M127.2 338.2a1.4 1.4 0 1 0 2.8 0a1.4 1.4 0 1 0 -2.8 0M128.5 337.2a1.0 1.0 0 1 0 2.0 0a1.0 1.0 0 1 0 -2.0 0M34.5 58.6a1.0 1.0 0 1 0 2.1 0a1.0 1.0 0 1 0 -2.1 0M38.6 138.3a1.2 1.2 0 1 0 2.4 0a1.2 1.2 0 1 0 -2.4 0M38.5 132.9a1.1 1.1 0 1 0 2.3 0a1.1 1.1 0 1 0 -2.3 0M236.7 107.1a0.7 0.7 0 1 0 1.4 0a0.7 0.7 0 1 0 -1.4 0M302.3 325.4a1.3 1.3 0 1 0 2.7 0a1.3 1.3 0 1 0 -2.7 0M151.6 328.9a1.3 1.3 0 1 0 2.7 0a1.3 1.3 0 1 0 -2.7 0M148.9 325.7a0.9 0.9 0 1 0 1.8 0a0.9 0.9 0 1 0 -1.8 0M47.8 86.5a1.0 1.0 0 1 0 2.1 0a1.0 1.0 0 1 0 -2.1 0M47.2 86.9a1.3 1.3 0 1 0 2.6 0a1.3 1.3 0 1 0 -2.6 0M55.6 154.1a0.8 0.8 0 1 0 1.7 0a0.8 0.8 0 1 0 -1.7 0M114.1 170.0a1.4 1.4 0 1 0 2.9 0a1.4 1.4 0 1 0 -2.9 0M259.9 114.1a1.4 1.4 0 1 0 2.7 0a1.4 1.4 0 1 0 -2.7 0M328.0 57.6a1.0 1.0 0 1 0 2.0 0a1.0 1.0 0 1 0 -2.0 0M163.2 326.6a0.9 0.9 0 1 0 1.7 0a0.9 0.9 0 1 0 -1.7 0M162.3 328.0a1.4 1.4 0 1 0 2.9 0a1.4 1.4 0 1 0 -2.9 0M70.1 304.4a1.3 1.3 0 1 0 2.5 0a1.3 1.3 0 1 0 -2.5 0M71.2 307.5a1.5 1.5 0 1 0 2.9 0a1.5 1.5 0 1 0 -2.9 0M84.0 75.7a1.4 1.4 0 1 0 2.9 0a1.4 1.4 0 1 0 -2.9 0M-2.1 84.6a1.5 1.5 0 1 0 2.9 0a1.5 1.5 0 1 0 -2.9 0M217.4 189.4a0.9 0.9 0 1 0 1.8 0a0.9 0.9 0 1 0 -1.8 0M105.2 92.6a1.2 1.2 0 1 0 2.5 0a1.2 1.2 0 1 0 -2.5 0M247.1 307.1a0.9 0.9 0 1 0 1.9 0a0.9 0.9 0 1 0 -1.9 0M244.6 307.4a1.0 1.0 0 1 0 2.0 0a1.0 1.0 0 1 0 -2.0 0M349.3 333.5a1.3 1.3 0 1 0 2.5 0a1.3 1.3 0 1 0 -2.5 0M37.3 220.8a0.8 0.8 0 1 0 1.7 0a0.8 0.8 0 1 0 -1.7 0M34.9 221.3a1.1 1.1 0 1 0 2.3 0a1.1 1.1 0 1 0 -2.3 0M243.9 123.0a1.3 1.3 0 1 0 2.6 0a1.3 1.3 0 1 0 -2.6 0M243.9 120.1a1.0 1.0 0 1 0 2.0 0a1.0 1.0 0 1 0 -2.0 0M121.8 297.1a1.2 1.2 0 1 0 2.5 0a1.2 1.2 0 1 0 -2.5 0M188.2 260.1a0.9 0.9 0 1 0 1.9 0a0.9 0.9 0 1 0 -1.9 0M78.3 55.3a1.2 1.2 0 1 0 2.4 0a1.2 1.2 0 1 0 -2.4 0M137.1 246.6a0.9 0.9 0 1 0 1.8 0a0.9 0.9 0 1 0 -1.8 0M151.0 163.0a1.0 1.0 0 1 0 2.0 0a1.0 1.0 0 1 0 -2.0 0M48.1 306.2a1.0 1.0 0 1 0 2.0 0a1.0 1.0 0 1 0 -2.0 0M47.9 304.3a1.2 1.2 0 1 0 2.4 0a1.2 1.2 0 1 0 -2.4 0M213.3 293.7a1.1 1.1 0 1 0 2.1 0a1.1 1.1 0 1 0 -2.1 0M212.9 294.4a0.7 0.7 0 1 0 1.4 0a0.7 0.7 0 1 0 -1.4 0M313.1 289.7a0.7 0.7 0 1 0 1.4 0a0.7 0.7 0 1 0 -1.4 0M158.9 295.5a1.3 1.3 0 1 0 2.5 0a1.3 1.3 0 1 0 -2.5 0M247.9 171.2a0.7 0.7 0 1 0 1.5 0a0.7 0.7 0 1 0 -1.5 0M252.9 176.6a1.0 1.0 0 1 0 1.9 0a1.0 1.0 0 1 0 -1.9 0M189.5 9.9a1.0 1.0 0 1 0 2.0 0a1.0 1.0 0 1 0 -2.0 0M196.8 8.9a1.2 1.2 0 1 0 2.4 0a1.2 1.2 0 1 0 -2.4 0M50.5 346.4a1.0 1.0 0 1 0 2.1 0a1.0 1.0 0 1 0 -2.1 0M49.2 353.1a1.3 1.3 0 1 0 2.7 0a1.3 1.3 0 1 0 -2.7 0M51.2 105.4a1.3 1.3 0 1 0 2.7 0a1.3 1.3 0 1 0 -2.7 0M87.0 271.7a1.2 1.2 0 1 0 2.3 0a1.2 1.2 0 1 0 -2.3 0M85.6 275.6a1.0 1.0 0 1 0 2.0 0a1.0 1.0 0 1 0 -2.0 0M155.6 247.7a1.1 1.1 0 1 0 2.2 0a1.1 1.1 0 1 0 -2.2 0M151.8 244.5a1.5 1.5 0 1 0 3.0 0a1.5 1.5 0 1 0 -3.0 0M337.2 141.0a1.2 1.2 0 1 0 2.3 0a1.2 1.2 0 1 0 -2.3 0M15.1 65.3a1.4 1.4 0 1 0 2.7 0a1.4 1.4 0 1 0 -2.7 0M19.5 66.0a1.5 1.5 0 1 0 3.0 0a1.5 1.5 0 1 0 -3.0 0M198.8 294.3a0.8 0.8 0 1 0 1.6 0a0.8 0.8 0 1 0 -1.6 0M205.4 118.4a1.0 1.0 0 1 0 2.0 0a1.0 1.0 0 1 0 -2.0 0M166.3 184.8a0.8 0.8 0 1 0 1.5 0a0.8 0.8 0 1 0 -1.5 0M96.5 308.4a1.3 1.3 0 1 0 2.6 0a1.3 1.3 0 1 0 -2.6 0M95.4 308.5a1.0 1.0 0 1 0 2.0 0a1.0 1.0 0 1 0 -2.0 0M265.3 319.1a1.2 1.2 0 1 0 2.5 0a1.2 1.2 0 1 0 -2.5 0M117.7 260.6a1.5 1.5 0 1 0 3.0 0a1.5 1.5 0 1 0 -3.0 0M97.2 51.8a1.1 1.1 0 1 0 2.2 0a1.1 1.1 0 1 0 -2.2 0M96.5 53.9a0.7 0.7 0 1 0 1.5 0a0.7 0.7 0 1 0 -1.5 0M297.5 344.4a0.8 0.8 0 1 0 1.6 0a0.8 0.8 0 1 0 -1.6 0M298.7 345.2a1.1 1.1 0 1 0 2.3 0a1.1 1.1 0 1 0 -2.3 0M141.8 101.9a0.8 0.8 0 1 0 1.6 0a0.8 0.8 0 1 0 -1.6 0M339.6 313.2a0.8 0.8 0 1 0 1.7 0a0.8 0.8 0 1 0 -1.7 0M336.5 314.0a1.0 1.0 0 1 0 1.9 0a1.0 1.0 0 1 0 -1.9 0M300.3 26.0a1.1 1.1 0 1 0 2.3 0a1.1 1.1 0 1 0 -2.3 0M301.6 27.3a1.4 1.4 0 1 0 2.8 0a1.4 1.4 0 1 0 -2.8 0M151.6 136.1a0.9 0.9 0 1 0 1.7 0a0.9 0.9 0 1 0 -1.7 0M230.8 340.2a0.8 0.8 0 1 0 1.6 0a0.8 0.8 0 1 0 -1.6 0M140.8 269.4a1.3 1.3 0 1 0 2.6 0a1.3 1.3 0 1 0 -2.6 0M140.8 267.9a1.1 1.1 0 1 0 2.2 0a1.1 1.1 0 1 0 -2.2 0M295.6 242.5a1.5 1.5 0 1 0 2.9 0a1.5 1.5 0 1 0 -2.9 0M232.6 180.9a1.3 1.3 0 1 0 2.5 0a1.3 1.3 0 1 0 -2.5 0M227.3 35.6a0.8 0.8 0 1 0 1.6 0a0.8 0.8 0 1 0 -1.6 0M231.3 33.2a1.4 1.4 0 1 0 2.7 0a1.4 1.4 0 1 0 -2.7 0M174.3 119.8a1.4 1.4 0 1 0 2.8 0a1.4 1.4 0 1 0 -2.8 0M176.4 114.0a0.8 0.8 0 1 0 1.5 0a0.8 0.8 0 1 0 -1.5 0M226.7 206.4a0.8 0.8 0 1 0 1.5 0a0.8 0.8 0 1 0 -1.5 0M225.2 202.2a0.9 0.9 0 1 0 1.8 0a0.9 0.9 0 1 0 -1.8 0M346.1 247.9a1.4 1.4 0 1 0 2.8 0a1.4 1.4 0 1 0 -2.8 0M346.5 246.8a1.1 1.1 0 1 0 2.2 0a1.1 1.1 0 1 0 -2.2 0M186.9 241.1a1.0 1.0 0 1 0 2.0 0a1.0 1.0 0 1 0 -2.0 0M187.1 242.3a1.4 1.4 0 1 0 2.8 0a1.4 1.4 0 1 0 -2.8 0M234.0 286.5a1.3 1.3 0 1 0 2.6 0a1.3 1.3 0 1 0 -2.6 0M232.8 292.2a1.3 1.3 0 1 0 2.6 0a1.3 1.3 0 1 0 -2.6 0M215.1 250.7a0.7 0.7 0 1 0 1.5 0a0.7 0.7 0 1 0 -1.5 0M-6.3 222.7a1.2 1.2 0 1 0 2.3 0a1.2 1.2 0 1 0 -2.3 0M14.5 29.4a1.1 1.1 0 1 0 2.2 0a1.1 1.1 0 1 0 -2.2 0M191.1 273.1a1.2 1.2 0 1 0 2.3 0a1.2 1.2 0 1 0 -2.3 0M142.8 118.3a1.5 1.5 0 1 0 2.9 0a1.5 1.5 0 1 0 -2.9 0M141.5 120.3a1.2 1.2 0 1 0 2.3 0a1.2 1.2 0 1 0 -2.3 0M72.7 83.5a1.1 1.1 0 1 0 2.3 0a1.1 1.1 0 1 0 -2.3 0M71.2 85.7a1.4 1.4 0 1 0 2.9 0a1.4 1.4 0 1 0 -2.9 0M312.7 113.1a0.9 0.9 0 1 0 1.8 0a0.9 0.9 0 1 0 -1.8 0M134.1 -1.2a0.9 0.9 0 1 0 1.8 0a0.9 0.9 0 1 0 -1.8 0M128.5 -4.2a1.3 1.3 0 1 0 2.5 0a1.3 1.3 0 1 0 -2.5 0M104.2 322.4a0.9 0.9 0 1 0 1.7 0a0.9 0.9 0 1 0 -1.7 0M66.7 127.5a0.9 0.9 0 1 0 1.9 0a0.9 0.9 0 1 0 -1.9 0M316.3 152.7a1.3 1.3 0 1 0 2.6 0a1.3 1.3 0 1 0 -2.6 0M310.8 151.1a1.5 1.5 0 1 0 3.0 0a1.5 1.5 0 1 0 -3.0 0M292.9 268.2a1.3 1.3 0 1 0 2.5 0a1.3 1.3 0 1 0 -2.5 0M345.6 38.8a1.3 1.3 0 1 0 2.7 0a1.3 1.3 0 1 0 -2.7 0M347.8 36.1a1.4 1.4 0 1 0 2.9 0a1.4 1.4 0 1 0 -2.9 0M38.4 256.0a1.4 1.4 0 1 0 2.8 0a1.4 1.4 0 1 0 -2.8 0M34.9 255.6a0.8 0.8 0 1 0 1.6 0a0.8 0.8 0 1 0 -1.6 0M314.5 41.4a1.5 1.5 0 1 0 3.0 0a1.5 1.5 0 1 0 -3.0 0M116.0 187.5a0.8 0.8 0 1 0 1.6 0a0.8 0.8 0 1 0 -1.6 0M115.7 187.8a1.1 1.1 0 1 0 2.3 0a1.1 1.1 0 1 0 -2.3 0M333.4 111.9a0.7 0.7 0 1 0 1.5 0a0.7 0.7 0 1 0 -1.5 0M296.0 48.6a1.2 1.2 0 1 0 2.4 0a1.2 1.2 0 1 0 -2.4 0M188.1 343.8a0.9 0.9 0 1 0 1.9 0a0.9 0.9 0 1 0 -1.9 0M193.4 346.3a1.0 1.0 0 1 0 2.0 0a1.0 1.0 0 1 0 -2.0 0M69.2 99.6a0.9 0.9 0 1 0 1.8 0a0.9 0.9 0 1 0 -1.8 0M281.4 59.9a1.1 1.1 0 1 0 2.3 0a1.1 1.1 0 1 0 -2.3 0M156.5 107.6a1.0 1.0 0 1 0 1.9 0a1.0 1.0 0 1 0 -1.9 0M158.5 107.4a1.2 1.2 0 1 0 2.4 0a1.2 1.2 0 1 0 -2.4 0M60.7 237.6a1.3 1.3 0 1 0 2.5 0a1.3 1.3 0 1 0 -2.5 0M200.9 193.7a1.1 1.1 0 1 0 2.3 0a1.1 1.1 0 1 0 -2.3 0M325.1 319.6a1.2 1.2 0 1 0 2.4 0a1.2 1.2 0 1 0 -2.4 0M339.2 348.3a0.9 0.9 0 1 0 1.7 0a0.9 0.9 0 1 0 -1.7 0M110.2 279.9a0.8 0.8 0 1 0 1.6 0a0.8 0.8 0 1 0 -1.6 0M12.0 298.5a0.9 0.9 0 1 0 1.8 0a0.9 0.9 0 1 0 -1.8 0M15.4 299.4a1.4 1.4 0 1 0 2.7 0a1.4 1.4 0 1 0 -2.7 0M222.3 12.9a1.5 1.5 0 1 0 2.9 0a1.5 1.5 0 1 0 -2.9 0M288.7 123.9a1.4 1.4 0 1 0 2.7 0a1.4 1.4 0 1 0 -2.7 0M285.2 125.2a1.3 1.3 0 1 0 2.5 0a1.3 1.3 0 1 0 -2.5 0M65.5 278.4a1.3 1.3 0 1 0 2.5 0a1.3 1.3 0 1 0 -2.5 0M248.5 67.6a1.3 1.3 0 1 0 2.6 0a1.3 1.3 0 1 0 -2.6 0M245.0 69.6a0.9 0.9 0 1 0 1.7 0a0.9 0.9 0 1 0 -1.7 0M316.2 -2.5a1.0 1.0 0 1 0 2.0 0a1.0 1.0 0 1 0 -2.0 0M69.8 -0.4a1.3 1.3 0 1 0 2.6 0a1.3 1.3 0 1 0 -2.6 0M70.1 -2.1a0.9 0.9 0 1 0 1.8 0a0.9 0.9 0 1 0 -1.8 0M271.1 253.3a1.4 1.4 0 1 0 2.8 0a1.4 1.4 0 1 0 -2.8 0M268.8 252.1a0.7 0.7 0 1 0 1.5 0a0.7 0.7 0 1 0 -1.5 0M16.1 102.7a1.0 1.0 0 1 0 2.1 0a1.0 1.0 0 1 0 -2.1 0M14.8 104.4a1.1 1.1 0 1 0 2.2 0a1.1 1.1 0 1 0 -2.2 0M252.7 243.6a1.4 1.4 0 1 0 2.7 0a1.4 1.4 0 1 0 -2.7 0M255.6 247.7a0.9 0.9 0 1 0 1.8 0a0.9 0.9 0 1 0 -1.8 0M117.8 236.3a0.8 0.8 0 1 0 1.5 0a0.8 0.8 0 1 0 -1.5 0M120.5 238.1a0.7 0.7 0 1 0 1.5 0a0.7 0.7 0 1 0 -1.5 0M238.1 234.9a1.2 1.2 0 1 0 2.3 0a1.2 1.2 0 1 0 -2.3 0M122.9 121.7a1.1 1.1 0 1 0 2.2 0a1.1 1.1 0 1 0 -2.2 0M349.6 91.8a0.9 0.9 0 1 0 1.8 0a0.9 0.9 0 1 0 -1.8 0M349.9 96.2a1.2 1.2 0 1 0 2.5 0a1.2 1.2 0 1 0 -2.5 0M42.3 237.4a1.2 1.2 0 1 0 2.4 0a1.2 1.2 0 1 0 -2.4 0M-5.8 152.9a1.3 1.3 0 1 0 2.7 0a1.3 1.3 0 1 0 -2.7 0M74.1 261.0a1.4 1.4 0 1 0 2.8 0a1.4 1.4 0 1 0 -2.8 0M107.3 260.8a1.1 1.1 0 1 0 2.1 0a1.1 1.1 0 1 0 -2.1 0M103.2 263.8a1.3 1.3 0 1 0 2.7 0a1.3 1.3 0 1 0 -2.7 0M208.7 70.3a1.4 1.4 0 1 0 2.7 0a1.4 1.4 0 1 0 -2.7 0" fill="#24d824" opacity="0.85" filter="url(#eb05)"/>
<path d="M63.1 296.0a3.1 3.1 0 1 0 6.3 0a3.1 3.1 0 1 0 -6.3 0M323.3 54.0a2.5 2.5 0 1 0 5.1 0a2.5 2.5 0 1 0 -5.1 0M89.6 78.7a2.2 2.2 0 1 0 4.5 0a2.2 2.2 0 1 0 -4.5 0M136.6 247.3a1.9 1.9 0 1 0 3.7 0a1.9 1.9 0 1 0 -3.7 0M302.0 5.6a1.9 1.9 0 1 0 3.8 0a1.9 1.9 0 1 0 -3.8 0M206.5 120.5a2.0 2.0 0 1 0 4.0 0a2.0 2.0 0 1 0 -4.0 0M231.1 182.2a2.8 2.8 0 1 0 5.7 0a2.8 2.8 0 1 0 -5.7 0M269.8 301.2a3.0 3.0 0 1 0 6.1 0a3.0 3.0 0 1 0 -6.1 0M63.3 127.5a1.8 1.8 0 1 0 3.6 0a1.8 1.8 0 1 0 -3.6 0M66.2 102.6a3.1 3.1 0 1 0 6.1 0a3.1 3.1 0 1 0 -6.1 0M193.7 199.6a2.6 2.6 0 1 0 5.2 0a2.6 2.6 0 1 0 -5.2 0M123.4 118.6a2.0 2.0 0 1 0 4.0 0a2.0 2.0 0 1 0 -4.0 0" fill="#24d824" filter="url(#eb08)"/>
<rect x="0" y="0" width="344.4" height="343.6" fill="#fff" filter="url(#grain)" opacity="0.4" style="mix-blend-mode:overlay"/>
<rect x="0.5" y="0.5" width="343.4" height="342.6" fill="none" stroke="#052005" stroke-width="1" opacity="0.6"/>
<rect x="279.4" y="314.4" width="48.6" height="3.3" fill="#fff"/>
<text x="303.6" y="326.9" font-size="9.4" text-anchor="middle" fill="#fff" class="w" font-family="'DejaVu Sans', sans-serif">20 µm</text>
</g>
<text x="1031" y="1149.7" font-size="24.45" text-anchor="middle" fill="#000" >Post fMLF (500nM)</text>
<text x="1387.5" y="1149.7" font-size="24.45" text-anchor="middle" fill="#000" >Post + DPI (10µM)</text>
<text x="1031" y="1884.2" font-size="24.45" text-anchor="middle" fill="#000" >Post + Dynasore (30µM)</text>
<text x="1387.5" y="1884.2" font-size="24.45" text-anchor="middle" fill="#000" >Post + Sivelestat (100µM)</text>
</g>
<g id="panelF">
<defs><clipPath id="fcl"><rect width="344" height="344.5"/></clipPath><clipPath id="fcl2"><rect width="343.4" height="338"/></clipPath>
<filter id="fb1" x="-50%" y="-50%" width="200%" height="200%" color-interpolation-filters="sRGB"><feGaussianBlur stdDeviation="0.8"/></filter>
<filter id="fb3" x="-50%" y="-50%" width="200%" height="200%" color-interpolation-filters="sRGB"><feGaussianBlur stdDeviation="2.6"/></filter>
<filter id="fb4" x="-50%" y="-50%" width="200%" height="200%" color-interpolation-filters="sRGB"><feGaussianBlur stdDeviation="3.5"/></filter>
<filter id="fb5" x="-50%" y="-50%" width="200%" height="200%" color-interpolation-filters="sRGB"><feGaussianBlur stdDeviation="5"/></filter>
<filter id="fb6" x="-50%" y="-50%" width="200%" height="200%" color-interpolation-filters="sRGB"><feGaussianBlur stdDeviation="7"/></filter>
<filter id="fb14" x="-50%" y="-50%" width="200%" height="200%" color-interpolation-filters="sRGB"><feGaussianBlur stdDeviation="16"/></filter>
<filter id="frough" x="-20%" y="-20%" width="140%" height="140%" color-interpolation-filters="sRGB"><feTurbulence type="fractalNoise" baseFrequency="0.06" numOctaves="3" seed="4" result="t"/><feDisplacementMap in="SourceGraphic" in2="t" scale="12" xChannelSelector="R" yChannelSelector="G"/><feGaussianBlur stdDeviation="2"/></filter>
<filter id="fall" x="0" y="0" width="344" height="345" filterUnits="userSpaceOnUse" color-interpolation-filters="sRGB"><feTurbulence type="fractalNoise" baseFrequency="0.07" numOctaves="3" seed="21" result="t"/><feDisplacementMap in="SourceGraphic" in2="t" scale="9" xChannelSelector="R" yChannelSelector="G"/><feGaussianBlur stdDeviation="1.25"/></filter>
<filter id="frough1" x="-20%" y="-20%" width="140%" height="140%" color-interpolation-filters="sRGB"><feTurbulence type="fractalNoise" baseFrequency="0.05" numOctaves="2" seed="9" result="t"/><feDisplacementMap in="SourceGraphic" in2="t" scale="6" xChannelSelector="R" yChannelSelector="G"/><feGaussianBlur stdDeviation="0.9"/></filter>
<filter id="ftex" x="0" y="0" width="100%" height="100%" color-interpolation-filters="sRGB"><feTurbulence type="fractalNoise" baseFrequency="0.15" numOctaves="3" seed="12"/><feColorMatrix type="matrix" values="0 0 0 0 0  0 0 0 0 0  0 0 0 0 0  3.2 0 0 0 -1.25"/><feGaussianBlur stdDeviation="0.8"/></filter>
<clipPath id="redclip"><path d="M-6.25 -6.25C10.41 -18.4 76.88 -9.37 93.71 -6.25C110.54 -3.12 96.49 6.94 94.75 12.49C93.02 18.05 87.64 22.21 83.3 27.07C78.96 31.93 73.93 37.48 68.72 41.65C63.52 45.81 58.31 48.94 52.06 52.06C45.81 55.19 37.83 58.31 31.24 60.39C24.64 62.47 18.74 63.52 12.49 64.56C6.25 65.6 -3.12 78.44 -6.25 66.64C-9.37 54.84 -22.91 5.9 -6.25 -6.25Z" /><path d="M-6.25 116.62C-1.74 101.69 11.8 110.02 20.82 108.29C29.85 106.55 39.91 104.82 47.9 106.21C55.88 107.59 62.82 111.76 68.72 116.62C74.62 121.48 79.83 128.42 83.3 135.36C86.77 142.3 88.85 150.28 89.55 158.27C90.24 166.25 89.89 175.62 87.46 183.26C85.03 190.89 80.52 198.53 74.97 204.08C69.42 209.63 61.43 214.49 54.14 216.58C46.86 218.66 38.53 217.96 31.24 216.58C23.95 215.19 16.66 211.37 10.41 208.25C4.16 205.12 -3.47 213.11 -6.25 197.83C-9.02 182.56 -10.76 131.54 -6.25 116.62Z" /><path d="M87.46 91.63C88.5 86.08 89.89 76.7 93.71 70.8C97.53 64.9 103.43 59.87 110.37 56.23C117.31 52.58 126.68 49.63 135.36 48.94C144.04 48.24 154.45 49.46 162.43 52.06C170.42 54.66 177.36 59.35 183.26 64.56C189.16 69.76 195.06 76.01 197.83 83.3C200.61 90.59 199.92 99.96 199.92 108.29C199.92 116.62 196.45 125.64 197.83 133.28C199.22 140.91 207.21 148.55 208.25 154.1C209.29 159.66 208.25 164.17 204.08 166.6C199.92 169.03 190.89 169.03 183.26 168.68C175.62 168.33 163.82 163.13 158.27 164.51C152.71 165.9 154.1 174.23 149.94 177.01C145.77 179.79 138.48 182.22 133.28 181.17C128.07 180.13 123.21 175.97 118.7 170.76C114.19 165.56 110.37 157.57 106.21 149.94C102.04 142.3 96.83 132.58 93.71 124.95C90.59 117.31 88.5 109.68 87.46 104.12C86.42 98.57 86.42 97.18 87.46 91.63Z" /><path d="M102.04 208.25C103.43 201.31 104.47 191.93 108.29 187.42C112.11 182.91 118.7 182.91 124.95 181.17C131.2 179.44 138.83 178.74 145.77 177.01C152.71 175.27 159.66 171.46 166.6 170.76C173.54 170.07 180.48 170.76 187.42 172.84C194.36 174.93 202.35 178.05 208.25 183.26C214.15 188.46 219.7 196.45 222.82 204.08C225.95 211.72 224.91 221.44 226.99 229.07C229.07 236.71 236.36 244.34 235.32 249.9C234.28 255.45 225.95 258.92 220.74 262.39C215.54 265.86 209.63 266.56 204.08 270.72C198.53 274.89 193.67 282.52 187.42 287.38C181.17 292.24 173.54 296.75 166.6 299.88C159.66 303 152.71 306.12 145.77 306.12C138.83 306.12 130.85 304.04 124.95 299.88C119.05 295.71 114.19 288.42 110.37 281.13C106.55 273.84 103.78 264.82 102.04 256.14C100.31 247.47 99.96 237.05 99.96 229.07C99.96 221.09 100.65 215.19 102.04 208.25Z" /><path d="M197.83 291.55C199.92 284.6 203.04 279.4 208.25 274.89C213.45 270.37 220.39 266.9 229.07 264.47C237.75 262.04 250.59 259.61 260.31 260.31C270.03 261 279.74 264.13 287.38 268.64C295.02 273.15 301.96 280.09 306.12 287.38C310.29 294.67 311.68 301.26 312.37 312.37C313.06 323.48 329.03 347.08 310.29 354.02C291.55 360.96 219.01 360.27 199.92 354.02C180.83 347.77 196.1 326.95 195.75 316.53C195.4 306.12 195.75 298.49 197.83 291.55Z" /><path d="M354.02 204.08C349.16 190.55 331.11 204.78 324.86 208.25C318.62 211.72 317.58 217.96 316.53 224.91C315.49 231.85 317.58 241.22 318.62 249.9C319.66 258.57 320.35 270.72 322.78 276.97C325.21 283.22 327.99 285.3 333.19 287.38C338.4 289.46 350.55 303.35 354.02 289.46C357.49 275.58 358.88 217.62 354.02 204.08Z" /><path d="M-6.25 212.41C-3.82 198.53 4.86 218.66 8.33 224.91C11.8 231.15 13.88 240.52 14.58 249.9C15.27 259.27 14.23 272.46 12.49 281.13C10.76 289.81 7.29 297.45 4.16 301.96C1.04 306.47 -4.51 323.13 -6.25 308.2C-7.98 293.28 -8.68 226.29 -6.25 212.41Z" /><path d="M31.24 354.02C24.3 351.24 36.44 340.48 41.65 337.36C46.86 334.24 56.23 334.58 62.47 335.28C68.72 335.97 75.66 338.4 79.13 341.52C82.6 344.65 91.28 351.94 83.3 354.02C75.32 356.1 38.18 356.8 31.24 354.02Z" /><path d="M322.78 354.02C318.27 349.16 324.52 331.11 326.95 324.86C329.38 318.62 332.85 318.27 337.36 316.53C341.87 314.8 351.24 308.2 354.02 314.45C356.8 320.7 359.23 347.42 354.02 354.02C348.81 360.61 327.29 358.88 322.78 354.02Z" /></clipPath>
<g id="redL" filter="url(#fall)">
<g filter="url(#frough)">
<path d="M-6.25 -6.25C10.41 -18.4 76.88 -9.37 93.71 -6.25C110.54 -3.12 96.49 6.94 94.75 12.49C93.02 18.05 87.64 22.21 83.3 27.07C78.96 31.93 73.93 37.48 68.72 41.65C63.52 45.81 58.31 48.94 52.06 52.06C45.81 55.19 37.83 58.31 31.24 60.39C24.64 62.47 18.74 63.52 12.49 64.56C6.25 65.6 -3.12 78.44 -6.25 66.64C-9.37 54.84 -22.91 5.9 -6.25 -6.25Z" fill="#a80808"/>
<path d="M-6.25 116.62C-1.74 101.69 11.8 110.02 20.82 108.29C29.85 106.55 39.91 104.82 47.9 106.21C55.88 107.59 62.82 111.76 68.72 116.62C74.62 121.48 79.83 128.42 83.3 135.36C86.77 142.3 88.85 150.28 89.55 158.27C90.24 166.25 89.89 175.62 87.46 183.26C85.03 190.89 80.52 198.53 74.97 204.08C69.42 209.63 61.43 214.49 54.14 216.58C46.86 218.66 38.53 217.96 31.24 216.58C23.95 215.19 16.66 211.37 10.41 208.25C4.16 205.12 -3.47 213.11 -6.25 197.83C-9.02 182.56 -10.76 131.54 -6.25 116.62Z" fill="#b80a0a"/>
<path d="M87.46 91.63C88.5 86.08 89.89 76.7 93.71 70.8C97.53 64.9 103.43 59.87 110.37 56.23C117.31 52.58 126.68 49.63 135.36 48.94C144.04 48.24 154.45 49.46 162.43 52.06C170.42 54.66 177.36 59.35 183.26 64.56C189.16 69.76 195.06 76.01 197.83 83.3C200.61 90.59 199.92 99.96 199.92 108.29C199.92 116.62 196.45 125.64 197.83 133.28C199.22 140.91 207.21 148.55 208.25 154.1C209.29 159.66 208.25 164.17 204.08 166.6C199.92 169.03 190.89 169.03 183.26 168.68C175.62 168.33 163.82 163.13 158.27 164.51C152.71 165.9 154.1 174.23 149.94 177.01C145.77 179.79 138.48 182.22 133.28 181.17C128.07 180.13 123.21 175.97 118.7 170.76C114.19 165.56 110.37 157.57 106.21 149.94C102.04 142.3 96.83 132.58 93.71 124.95C90.59 117.31 88.5 109.68 87.46 104.12C86.42 98.57 86.42 97.18 87.46 91.63Z" fill="#740303"/>
<path d="M102.04 208.25C103.43 201.31 104.47 191.93 108.29 187.42C112.11 182.91 118.7 182.91 124.95 181.17C131.2 179.44 138.83 178.74 145.77 177.01C152.71 175.27 159.66 171.46 166.6 170.76C173.54 170.07 180.48 170.76 187.42 172.84C194.36 174.93 202.35 178.05 208.25 183.26C214.15 188.46 219.7 196.45 222.82 204.08C225.95 211.72 224.91 221.44 226.99 229.07C229.07 236.71 236.36 244.34 235.32 249.9C234.28 255.45 225.95 258.92 220.74 262.39C215.54 265.86 209.63 266.56 204.08 270.72C198.53 274.89 193.67 282.52 187.42 287.38C181.17 292.24 173.54 296.75 166.6 299.88C159.66 303 152.71 306.12 145.77 306.12C138.83 306.12 130.85 304.04 124.95 299.88C119.05 295.71 114.19 288.42 110.37 281.13C106.55 273.84 103.78 264.82 102.04 256.14C100.31 247.47 99.96 237.05 99.96 229.07C99.96 221.09 100.65 215.19 102.04 208.25Z" fill="#9c0606"/>
<path d="M197.83 291.55C199.92 284.6 203.04 279.4 208.25 274.89C213.45 270.37 220.39 266.9 229.07 264.47C237.75 262.04 250.59 259.61 260.31 260.31C270.03 261 279.74 264.13 287.38 268.64C295.02 273.15 301.96 280.09 306.12 287.38C310.29 294.67 311.68 301.26 312.37 312.37C313.06 323.48 329.03 347.08 310.29 354.02C291.55 360.96 219.01 360.27 199.92 354.02C180.83 347.77 196.1 326.95 195.75 316.53C195.4 306.12 195.75 298.49 197.83 291.55Z" fill="#c00a0a"/>
<path d="M354.02 204.08C349.16 190.55 331.11 204.78 324.86 208.25C318.62 211.72 317.58 217.96 316.53 224.91C315.49 231.85 317.58 241.22 318.62 249.9C319.66 258.57 320.35 270.72 322.78 276.97C325.21 283.22 327.99 285.3 333.19 287.38C338.4 289.46 350.55 303.35 354.02 289.46C357.49 275.58 358.88 217.62 354.02 204.08Z" fill="#a00707"/>
<path d="M-6.25 212.41C-3.82 198.53 4.86 218.66 8.33 224.91C11.8 231.15 13.88 240.52 14.58 249.9C15.27 259.27 14.23 272.46 12.49 281.13C10.76 289.81 7.29 297.45 4.16 301.96C1.04 306.47 -4.51 323.13 -6.25 308.2C-7.98 293.28 -8.68 226.29 -6.25 212.41Z" fill="#d80c0c"/>
<path d="M31.24 354.02C24.3 351.24 36.44 340.48 41.65 337.36C46.86 334.24 56.23 334.58 62.47 335.28C68.72 335.97 75.66 338.4 79.13 341.52C82.6 344.65 91.28 351.94 83.3 354.02C75.32 356.1 38.18 356.8 31.24 354.02Z" fill="#b00707"/>
<path d="M322.78 354.02C318.27 349.16 324.52 331.11 326.95 324.86C329.38 318.62 332.85 318.27 337.36 316.53C341.87 314.8 351.24 308.2 354.02 314.45C356.8 320.7 359.23 347.42 354.02 354.02C348.81 360.61 327.29 358.88 322.78 354.02Z" fill="#b00707"/>
</g>
<g clip-path="url(#redclip)"><g fill="none" stroke="#ff2020" filter="url(#frough)" opacity="0.75">
<path d="M-6.25 -6.25C10.41 -18.4 76.88 -9.37 93.71 -6.25C110.54 -3.12 96.49 6.94 94.75 12.49C93.02 18.05 87.64 22.21 83.3 27.07C78.96 31.93 73.93 37.48 68.72 41.65C63.52 45.81 58.31 48.94 52.06 52.06C45.81 55.19 37.83 58.31 31.24 60.39C24.64 62.47 18.74 63.52 12.49 64.56C6.25 65.6 -3.12 78.44 -6.25 66.64C-9.37 54.84 -22.91 5.9 -6.25 -6.25Z" stroke-width="9"/>
<path d="M-6.25 116.62C-1.74 101.69 11.8 110.02 20.82 108.29C29.85 106.55 39.91 104.82 47.9 106.21C55.88 107.59 62.82 111.76 68.72 116.62C74.62 121.48 79.83 128.42 83.3 135.36C86.77 142.3 88.85 150.28 89.55 158.27C90.24 166.25 89.89 175.62 87.46 183.26C85.03 190.89 80.52 198.53 74.97 204.08C69.42 209.63 61.43 214.49 54.14 216.58C46.86 218.66 38.53 217.96 31.24 216.58C23.95 215.19 16.66 211.37 10.41 208.25C4.16 205.12 -3.47 213.11 -6.25 197.83C-9.02 182.56 -10.76 131.54 -6.25 116.62Z" stroke-width="13"/>
<path d="M197.83 291.55C199.92 284.6 203.04 279.4 208.25 274.89C213.45 270.37 220.39 266.9 229.07 264.47C237.75 262.04 250.59 259.61 260.31 260.31C270.03 261 279.74 264.13 287.38 268.64C295.02 273.15 301.96 280.09 306.12 287.38C310.29 294.67 311.68 301.26 312.37 312.37C313.06 323.48 329.03 347.08 310.29 354.02C291.55 360.96 219.01 360.27 199.92 354.02C180.83 347.77 196.1 326.95 195.75 316.53C195.4 306.12 195.75 298.49 197.83 291.55Z" stroke-width="13"/>
<path d="M354.02 204.08C349.16 190.55 331.11 204.78 324.86 208.25C318.62 211.72 317.58 217.96 316.53 224.91C315.49 231.85 317.58 241.22 318.62 249.9C319.66 258.57 320.35 270.72 322.78 276.97C325.21 283.22 327.99 285.3 333.19 287.38C338.4 289.46 350.55 303.35 354.02 289.46C357.49 275.58 358.88 217.62 354.02 204.08Z" stroke-width="8"/>
<path d="M102.04 208.25C103.43 201.31 104.47 191.93 108.29 187.42C112.11 182.91 118.7 182.91 124.95 181.17C131.2 179.44 138.83 178.74 145.77 177.01C152.71 175.27 159.66 171.46 166.6 170.76C173.54 170.07 180.48 170.76 187.42 172.84C194.36 174.93 202.35 178.05 208.25 183.26C214.15 188.46 219.7 196.45 222.82 204.08C225.95 211.72 224.91 221.44 226.99 229.07C229.07 236.71 236.36 244.34 235.32 249.9C234.28 255.45 225.95 258.92 220.74 262.39C215.54 265.86 209.63 266.56 204.08 270.72C198.53 274.89 193.67 282.52 187.42 287.38C181.17 292.24 173.54 296.75 166.6 299.88C159.66 303 152.71 306.12 145.77 306.12C138.83 306.12 130.85 304.04 124.95 299.88C119.05 295.71 114.19 288.42 110.37 281.13C106.55 273.84 103.78 264.82 102.04 256.14C100.31 247.47 99.96 237.05 99.96 229.07C99.96 221.09 100.65 215.19 102.04 208.25Z" stroke-width="7" opacity="0.7"/>
<path d="M87.46 91.63C88.5 86.08 89.89 76.7 93.71 70.8C97.53 64.9 103.43 59.87 110.37 56.23C117.31 52.58 126.68 49.63 135.36 48.94C144.04 48.24 154.45 49.46 162.43 52.06C170.42 54.66 177.36 59.35 183.26 64.56C189.16 69.76 195.06 76.01 197.83 83.3C200.61 90.59 199.92 99.96 199.92 108.29C199.92 116.62 196.45 125.64 197.83 133.28C199.22 140.91 207.21 148.55 208.25 154.1C209.29 159.66 208.25 164.17 204.08 166.6C199.92 169.03 190.89 169.03 183.26 168.68C175.62 168.33 163.82 163.13 158.27 164.51C152.71 165.9 154.1 174.23 149.94 177.01C145.77 179.79 138.48 182.22 133.28 181.17C128.07 180.13 123.21 175.97 118.7 170.76C114.19 165.56 110.37 157.57 106.21 149.94C102.04 142.3 96.83 132.58 93.71 124.95C90.59 117.31 88.5 109.68 87.46 104.12C86.42 98.57 86.42 97.18 87.46 91.63Z" stroke-width="5" opacity="0.6"/>
</g>
<rect x="0" y="0" width="344" height="345" fill="#240000" filter="url(#ftex)" opacity="0.42"/></g>
<g fill="none" stroke="#ff2222" filter="url(#frough1)">
<path d="M87.46 91.63C88.5 86.08 89.89 76.7 93.71 70.8C97.53 64.9 103.43 59.87 110.37 56.23C117.31 52.58 126.68 49.63 135.36 48.94C144.04 48.24 154.45 49.46 162.43 52.06C170.42 54.66 177.36 59.35 183.26 64.56C189.16 69.76 195.06 76.01 197.83 83.3C200.61 90.59 199.92 99.96 199.92 108.29C199.92 116.62 196.45 125.64 197.83 133.28C199.22 140.91 207.21 148.55 208.25 154.1C209.29 159.66 208.25 164.17 204.08 166.6C199.92 169.03 190.89 169.03 183.26 168.68C175.62 168.33 163.82 163.13 158.27 164.51C152.71 165.9 154.1 174.23 149.94 177.01C145.77 179.79 138.48 182.22 133.28 181.17C128.07 180.13 123.21 175.97 118.7 170.76C114.19 165.56 110.37 157.57 106.21 149.94C102.04 142.3 96.83 132.58 93.71 124.95C90.59 117.31 88.5 109.68 87.46 104.12C86.42 98.57 86.42 97.18 87.46 91.63Z" stroke-width="2.2"/>
<path d="M102.04 208.25C103.43 201.31 104.47 191.93 108.29 187.42C112.11 182.91 118.7 182.91 124.95 181.17C131.2 179.44 138.83 178.74 145.77 177.01C152.71 175.27 159.66 171.46 166.6 170.76C173.54 170.07 180.48 170.76 187.42 172.84C194.36 174.93 202.35 178.05 208.25 183.26C214.15 188.46 219.7 196.45 222.82 204.08C225.95 211.72 224.91 221.44 226.99 229.07C229.07 236.71 236.36 244.34 235.32 249.9C234.28 255.45 225.95 258.92 220.74 262.39C215.54 265.86 209.63 266.56 204.08 270.72C198.53 274.89 193.67 282.52 187.42 287.38C181.17 292.24 173.54 296.75 166.6 299.88C159.66 303 152.71 306.12 145.77 306.12C138.83 306.12 130.85 304.04 124.95 299.88C119.05 295.71 114.19 288.42 110.37 281.13C106.55 273.84 103.78 264.82 102.04 256.14C100.31 247.47 99.96 237.05 99.96 229.07C99.96 221.09 100.65 215.19 102.04 208.25Z" stroke-width="2" opacity="0.6"/>
<ellipse cx="129.11" cy="158.27" rx="26" ry="21" transform="rotate(25 129.11 158.27)" stroke-width="2.2" fill="#a00606"/>
<ellipse cx="177.01" cy="149.94" rx="20" ry="17" transform="rotate(-15 177.01 149.94)" stroke-width="2.2" fill="#a00606"/>
<path d="M133.28 52.06Q113.49 74.97 116.62 104.12" stroke-width="2"/>
<ellipse cx="22.91" cy="22.91" rx="24" ry="20" transform="rotate(-20 22.91 22.91)" stroke-width="2.5" fill="#900505"/>
<path d="M41.65 0Q43.73 24.99 68.72 39.57" stroke-width="2.5" opacity="0.8"/>
<ellipse cx="264.47" cy="331.11" rx="28" ry="16" transform="rotate(-10 264.47 331.11)" stroke-width="2.5" fill="#a80707"/>
<ellipse cx="345.69" cy="243.65" rx="26" ry="24" stroke-width="2.4"/>
<ellipse cx="152.02" cy="266.56" rx="32" ry="16" transform="rotate(-15 152.02 266.56)" stroke-width="1.5" fill="#980606" opacity="0.6"/>
<ellipse cx="112.45" cy="231.15" rx="9" ry="16" transform="rotate(10 112.45 231.15)" stroke-width="1.5" opacity="0.6"/>
</g>
<g fill="#ff2828" filter="url(#frough)" opacity="0.8">
<ellipse cx="62.47" cy="129.11" rx="14" ry="7" />
<ellipse cx="41.65" cy="208.25" rx="16" ry="6" />
<ellipse cx="249.9" cy="274.89" rx="22" ry="6" />
<ellipse cx="220.74" cy="320.7" rx="9" ry="16" />
<ellipse cx="129.11" cy="249.9" rx="12" ry="8" />
<ellipse cx="6.25" cy="260.31" rx="6" ry="22" />
<ellipse cx="145.77" cy="62.47" rx="16" ry="5" />
<ellipse cx="193.67" cy="97.88" rx="5" ry="14" />
<ellipse cx="235.32" cy="291.55" rx="12" ry="7" />
<ellipse cx="276.97" cy="333.19" rx="8" ry="12" />
</g>
<g filter="url(#fb5)">
<circle cx="149.94" cy="102.04" r="29.5" fill="#2a0000"/>
<circle cx="179.09" cy="208.25" r="35.5" fill="#2e0000"/>
<circle cx="29.15" cy="168.68" r="25" fill="#480000"/>
</g>
</g>
<g id="beadL">
<circle cx="149.5" cy="106.2" r="30.4" fill="#4a0a50" filter="url(#fb3)"/>
<circle cx="149.5" cy="106.2" r="27.9" fill="none" stroke="#d02ad8" stroke-width="10.5" filter="url(#fb3)"/>
<circle cx="179.1" cy="209.3" r="34.6" fill="#4a0a50" filter="url(#fb3)"/>
<circle cx="179.1" cy="209.3" r="32.1" fill="none" stroke="#d02ad8" stroke-width="10.5" filter="url(#fb3)"/>
<circle cx="26" cy="171.8" r="27.5" fill="#d02ad8" filter="url(#fb4)"/>
<circle cx="26" cy="171.8" r="9.3" fill="#9a1aa2" filter="url(#fb5)" opacity="0.6"/>
<circle cx="341.5" cy="189.5" r="31" fill="#4a0a50" filter="url(#fb3)"/>
<circle cx="341.5" cy="189.5" r="28.5" fill="none" stroke="#d02ad8" stroke-width="10.5" filter="url(#fb3)"/>
<circle cx="316.5" cy="107.2" r="13" fill="#9a1ea4" filter="url(#fb6)"/>
<circle cx="97.9" cy="312.4" r="18" fill="#c828d0" filter="url(#fb5)"/>
<circle cx="348" cy="330" r="8" fill="#9a1ea4" filter="url(#fb6)"/>
</g>
</defs>
<text x="69.1" y="1993.4" font-size="38.5" text-anchor="start" fill="#000" >F</text>
<text x="259.8" y="1972.4" font-size="27" text-anchor="middle" fill="#000" >NAP (5µM)</text>
<text x="262.6" y="2000.7" font-size="27" text-anchor="middle" fill="#000" >λ<tspan font-size="17.5" dy="5.5">ex</tspan><tspan dy="-5.5">: 488nm</tspan></text>
<text x="621.8" y="1972.4" font-size="27" text-anchor="middle" fill="#000" >Calcein Red</text>
<text x="625.3" y="2000.7" font-size="27" text-anchor="middle" fill="#000" >λ<tspan font-size="17.5" dy="5.5">ex</tspan><tspan dy="-5.5">: 543nm</tspan></text>
<text x="984" y="1972.4" font-size="27" text-anchor="middle" fill="#000" >Beads</text>
<text x="987.5" y="2000.7" font-size="27" text-anchor="middle" fill="#000" >λ<tspan font-size="17.5" dy="5.5">ex</tspan><tspan dy="-5.5">: 633nm</tspan></text>
<text x="1346.6" y="2003.4" font-size="27" text-anchor="middle" fill="#000" >Merge</text>
<g transform="translate(87.8 2017.8)" clip-path="url(#fcl)">
<rect x="0" y="0" width="344" height="345" fill="#072d07"/>
<g filter="url(#fb14)">
<ellipse cx="285" cy="45" rx="110" ry="80" fill="#0b3c0b"/>
<ellipse cx="45" cy="315" rx="70" ry="45" fill="#093409"/>
<ellipse cx="40" cy="50" rx="70" ry="50" fill="#072a07"/>
<ellipse cx="160" cy="280" rx="60" ry="36" fill="#021602"/>
<ellipse cx="280" cy="315" rx="80" ry="55" fill="#031803"/>
<ellipse cx="60" cy="160" rx="50" ry="50" fill="#031c03"/>
<ellipse cx="120" cy="320" rx="50" ry="30" fill="#031a03"/>
<ellipse cx="135" cy="104" rx="58" ry="58" fill="#031c03"/>
<ellipse cx="165" cy="210" rx="64" ry="64" fill="#031c03"/>
</g>
<g filter="url(#fb6)">
<ellipse cx="138" cy="102" rx="40" ry="40" fill="#0a3a0a"/>
<ellipse cx="150" cy="98" rx="20" ry="17" fill="#105010"/>
<ellipse cx="112" cy="100" rx="6" ry="6" fill="#1f8a1f"/>
<ellipse cx="165" cy="215" rx="44" ry="46" fill="#0a3a0a"/>
<path d="M165 172Q215 180 208 222Q200 245 185 240Q196 215 175 192Z" fill="#1a781a"/>
<ellipse cx="178" cy="180" rx="14" ry="9" transform="rotate(20 178 180)" fill="#229022"/>
</g>
<g fill="none" stroke="#1a6a1a" stroke-width="1.3" filter="url(#fb1)" opacity="0.9">
<path d="M24 152A19 19 0 0 0 20 190" stroke="#2a9a2a" stroke-width="1.6"/>
<circle cx="314" cy="110" r="8" />
<circle cx="314" cy="110" r="13" />
<circle cx="314" cy="110" r="18" />
<circle cx="314" cy="110" r="22" />
<circle cx="238" cy="117" r="10" />
<path d="M340 160A22 22 0 0 0 335 206" stroke="#2a8a2a"/>
<path d="M86 304A11 11 0 0 1 100 326" stroke="#2a8a2a"/>
</g>
<circle cx="93" cy="314" r="8" fill="#145a14" filter="url(#fb3)"/>
<g fill="#2aff2a" filter="url(#fb1)">
<ellipse cx="135" cy="69.8" rx="3.6" ry="7.6" transform="rotate(8 135 69.8)" />
<ellipse cx="115.3" cy="92.5" rx="2.6" ry="3.4" transform="rotate(-30 115.3 92.5)" />
<ellipse cx="119.8" cy="99.6" rx="3" ry="5" transform="rotate(-35 119.8 99.6)" />
<ellipse cx="148.9" cy="137.4" rx="3" ry="3.6" />
<ellipse cx="164.5" cy="138.5" rx="3.8" ry="3.2" />
<ellipse cx="155" cy="175" rx="5.5" ry="9.5" transform="rotate(30 155 175)" />
<ellipse cx="159" cy="168" rx="4.5" ry="5" />
<ellipse cx="179" cy="173" rx="3.2" ry="3.2" />
<ellipse cx="146.5" cy="223" rx="2.6" ry="3.2" />
<ellipse cx="151.5" cy="227.5" rx="3" ry="3" />
<ellipse cx="148" cy="229" rx="2.4" ry="2.4" />
<ellipse cx="143.7" cy="237.6" rx="2.8" ry="2.6" />
<ellipse cx="154" cy="237.6" rx="2.2" ry="2" />
<ellipse cx="24" cy="212.8" rx="2.2" ry="1.8" />
</g>
<rect x="0" y="0" width="344" height="344" fill="#fff" filter="url(#grain)" opacity="0.3" style="mix-blend-mode:overlay"/>
</g>
<g transform="translate(450.2 2017.8)" clip-path="url(#fcl)">
<rect x="0" y="0" width="344" height="345" fill="#160000"/>
<use href="#redL"/>
</g>
<g transform="translate(812.8 2017.8)" clip-path="url(#fcl)">
<rect x="0" y="0" width="344" height="345" fill="#0b000d"/>
<use href="#beadL"/>
</g>
<g transform="translate(1175.2 2017.8)" clip-path="url(#fcl2)" style="isolation:isolate">
<rect x="0" y="0" width="344" height="338" fill="#0a1c08"/>
<g filter="url(#fb14)"><ellipse cx="270" cy="70" rx="100" ry="70" fill="#0d2a0b"/><ellipse cx="60" cy="285" rx="60" ry="40" fill="#0c260a"/></g>
<use href="#redL"/>
<use href="#beadL" style="mix-blend-mode:screen"/>
<g style="mix-blend-mode:screen" filter="url(#fb4)"><circle cx="149.5" cy="106.2" r="21" fill="#4a6a4a"/><circle cx="179.1" cy="209.3" r="22" fill="#1c2c1c"/><circle cx="26" cy="171.8" r="18" fill="#301830"/></g>
<g fill="none" stroke="#ffd0ff" stroke-width="1.2" opacity="0.8" filter="url(#fb1)" style="mix-blend-mode:screen"><path d="M14 158A19 19 0 0 0 20 192"/><path d="M322 178A22 22 0 0 0 330 214"/><path d="M93 306A10 10 0 0 0 98 324"/></g>
<g style="mix-blend-mode:screen"><g fill="#70ff30" filter="url(#fb1)">
<ellipse cx="135" cy="69.8" rx="3.6" ry="7.6" transform="rotate(8 135 69.8)" />
<ellipse cx="115.3" cy="92.5" rx="2.6" ry="3.4" transform="rotate(-30 115.3 92.5)" />
<ellipse cx="119.8" cy="99.6" rx="3" ry="5" transform="rotate(-35 119.8 99.6)" />
<ellipse cx="148.9" cy="137.4" rx="3" ry="3.6" />
<ellipse cx="164.5" cy="138.5" rx="3.8" ry="3.2" />
<ellipse cx="155" cy="175" rx="5.5" ry="9.5" transform="rotate(30 155 175)" />
<ellipse cx="159" cy="168" rx="4.5" ry="5" />
<ellipse cx="179" cy="173" rx="3.2" ry="3.2" />
<ellipse cx="146.5" cy="223" rx="2.6" ry="3.2" />
<ellipse cx="151.5" cy="227.5" rx="3" ry="3" />
<ellipse cx="148" cy="229" rx="2.4" ry="2.4" />
<ellipse cx="143.7" cy="237.6" rx="2.8" ry="2.6" />
<ellipse cx="154" cy="237.6" rx="2.2" ry="2" />
<ellipse cx="24" cy="212.8" rx="2.2" ry="1.8" />
</g></g>
<g fill="none" stroke="#2a6a3a" stroke-width="1.2" opacity="0.7" filter="url(#fb1)">
<circle cx="314" cy="110" r="8" />
<circle cx="314" cy="110" r="13" />
<circle cx="314" cy="110" r="18" />
<circle cx="314" cy="110" r="22" />
<circle cx="238" cy="117" r="10" />
</g>
<rect x="253.8" y="309.7" width="73" height="14.2" fill="#fff"/>
</g>
</g>
</svg>
</body>
</html>
